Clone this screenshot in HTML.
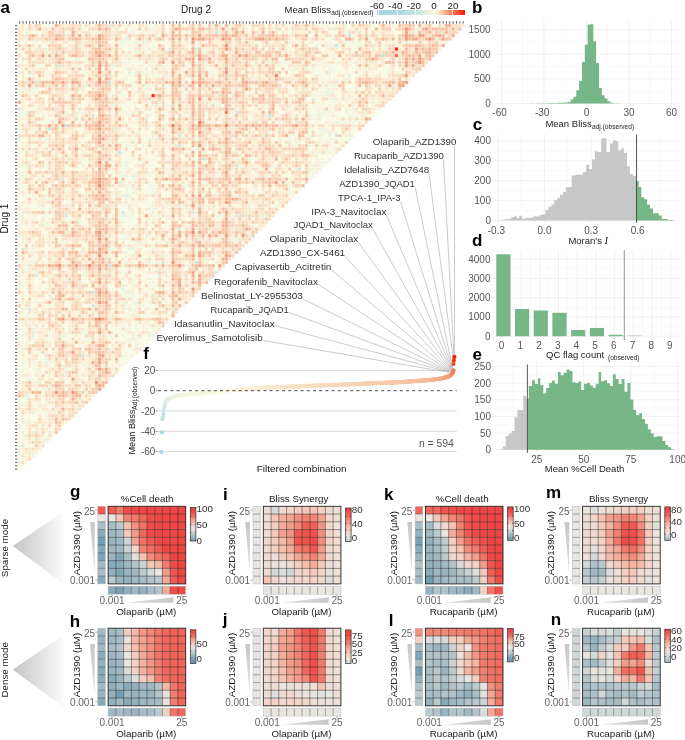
<!DOCTYPE html><html><head><meta charset="utf-8"><style>html,body{margin:0;padding:0;background:#fff;}svg{display:block;will-change:transform;}</style></head><body>
<svg width="685" height="740" viewBox="0 0 685 740" font-family='"Liberation Sans", sans-serif'>
<rect width="685" height="740" fill="#fff"/>
<defs><linearGradient id="cbA" x1="377" x2="465" y1="0" y2="0" gradientUnits="userSpaceOnUse"><stop offset="0.02" stop-color="#a9d6e3"/><stop offset="0.23" stop-color="#acd8e3"/><stop offset="0.34" stop-color="#b8dee2"/><stop offset="0.44" stop-color="#c4e3e2"/><stop offset="0.55" stop-color="#e0eee0"/><stop offset="0.6" stop-color="#eef4e0"/><stop offset="0.65" stop-color="#fbfbe2"/><stop offset="0.7" stop-color="#f9e3c8"/><stop offset="0.74" stop-color="#f6caaa"/><stop offset="0.78" stop-color="#f2ad8b"/><stop offset="0.82" stop-color="#ef9070"/><stop offset="0.86" stop-color="#ee7a58"/><stop offset="0.93" stop-color="#f34a2c"/><stop offset="0.99" stop-color="#ff1a06"/></linearGradient><linearGradient id="tri" x1="0" x2="1" y1="0" y2="0"><stop offset="0" stop-color="#c4c4c4"/><stop offset="1" stop-color="#fbfbfb"/></linearGradient><linearGradient id="wedge" x1="0" x2="0" y1="0" y2="1"><stop offset="0" stop-color="#c8c8c8"/><stop offset="1" stop-color="#dedede"/></linearGradient><linearGradient id="wedgeh" x1="1" x2="0" y1="0" y2="0"><stop offset="0" stop-color="#c8c8c8"/><stop offset="1" stop-color="#dedede"/></linearGradient></defs>
<g transform="translate(18,24) scale(3.33433)">
<path fill="#c5e4e2" d="M95 6h1v1h-1zM109 9h1v1h-1zM9 31h1v1h-1zM55 40h1v1h-1z"/>
<path fill="#cae5e2" d="M27 17h1v1h-1zM75 27h1v1h-1zM14 30h1v1h-1zM30 38h1v1h-1zM31 56h1v1h-1zM1 67h1v1h-1zM53 71h1v1h-1zM22 80h1v1h-1z"/>
<path fill="#cee7e1" d="M59 2h1v1h-1zM65 26h1v1h-1zM22 27h1v1h-1zM48 33h1v1h-1zM95 33h1v1h-1zM65 42h1v1h-1zM13 46h1v1h-1zM43 71h1v1h-1zM27 72h1v1h-1zM22 84h1v1h-1zM19 99h1v1h-1z"/>
<path fill="#d2e8e1" d="M12 12h1v1h-1zM5 17h1v1h-1zM84 43h1v1h-1zM52 56h1v1h-1zM66 57h1v1h-1zM59 74h1v1h-1z"/>
<path fill="#d6eae0" d="M99 3h1v1h-1zM53 7h1v1h-1zM88 22h1v1h-1zM48 36h1v1h-1zM14 57h1v1h-1zM48 61h1v1h-1zM5 75h1v1h-1zM3 85h1v1h-1zM46 85h1v1h-1zM1 126h1v1h-1z"/>
<path fill="#dbece0" d="M0 25h1v1h-1zM68 57h1v1h-1zM42 75h1v1h-1zM27 97h1v1h-1z"/>
<path fill="#dfede0" d="M77 1h1v1h-1zM116 5h1v1h-1zM28 12h1v1h-1zM38 28h1v1h-1zM29 31h1v1h-1zM73 33h1v1h-1zM34 45h1v1h-1zM4 93h1v1h-1z"/>
<path fill="#e3efdf" d="M32 4h1v1h-1zM45 7h1v1h-1zM0 14h1v1h-1zM99 15h1v1h-1zM20 18h1v1h-1zM28 21h1v1h-1zM39 34h1v1h-1zM41 34h1v1h-1zM32 51h1v1h-1zM2 56h1v1h-1zM0 128h1v1h-1z"/>
<path fill="#e7f1df" d="M94 1h1v1h-1zM33 14h1v1h-1zM35 14h1v1h-1zM93 14h1v1h-1zM92 20h1v1h-1zM94 20h1v1h-1zM40 24h1v1h-1zM37 26h1v1h-1zM0 27h1v1h-1zM90 27h1v1h-1zM31 33h1v1h-1zM93 33h1v1h-1zM2 42h1v1h-1zM32 45h1v1h-1zM41 50h1v1h-1zM32 52h1v1h-1zM48 54h1v1h-1zM39 55h1v1h-1zM60 57h1v1h-1zM72 57h1v1h-1zM54 64h1v1h-1zM33 67h1v1h-1zM34 67h1v1h-1zM5 68h1v1h-1zM42 68h1v1h-1zM31 79h1v1h-1zM32 80h1v1h-1zM41 81h1v1h-1zM7 83h1v1h-1zM4 91h1v1h-1zM4 92h1v1h-1zM8 101h1v1h-1zM13 106h1v1h-1zM2 111h1v1h-1zM17 115h1v1h-1zM4 116h1v1h-1zM4 122h1v1h-1zM8 124h1v1h-1z"/>
<path fill="#ebf3e0" d="M58 0h1v1h-1zM80 0h1v1h-1zM120 1h1v1h-1zM24 2h1v1h-1zM41 3h1v1h-1zM94 4h1v1h-1zM125 4h1v1h-1zM31 5h1v1h-1zM37 5h1v1h-1zM69 5h1v1h-1zM8 7h1v1h-1zM34 7h1v1h-1zM12 8h1v1h-1zM10 9h1v1h-1zM20 9h1v1h-1zM85 11h1v1h-1zM40 12h1v1h-1zM43 12h1v1h-1zM101 12h1v1h-1zM32 13h1v1h-1zM94 13h1v1h-1zM44 15h1v1h-1zM93 15h1v1h-1zM19 16h1v1h-1zM34 17h1v1h-1zM45 18h1v1h-1zM113 18h1v1h-1zM2 19h1v1h-1zM93 19h1v1h-1zM92 21h1v1h-1zM86 22h1v1h-1zM98 22h1v1h-1zM42 23h1v1h-1zM47 23h1v1h-1zM28 24h1v1h-1zM100 24h1v1h-1zM65 25h1v1h-1zM91 25h1v1h-1zM14 26h1v1h-1zM91 26h1v1h-1zM98 26h1v1h-1zM17 27h1v1h-1zM87 27h1v1h-1zM99 27h1v1h-1zM100 28h1v1h-1zM95 29h1v1h-1zM12 30h1v1h-1zM91 31h1v1h-1zM69 33h1v1h-1zM0 34h1v1h-1zM45 34h1v1h-1zM37 36h1v1h-1zM87 36h1v1h-1zM53 37h1v1h-1zM69 38h1v1h-1zM52 40h1v1h-1zM89 40h1v1h-1zM93 40h1v1h-1zM32 41h1v1h-1zM37 41h1v1h-1zM59 41h1v1h-1zM90 41h1v1h-1zM32 42h1v1h-1zM77 42h1v1h-1zM34 43h1v1h-1zM64 43h1v1h-1zM75 43h1v1h-1zM31 45h1v1h-1zM39 45h1v1h-1zM31 47h1v1h-1zM39 47h1v1h-1zM74 48h1v1h-1zM34 50h1v1h-1zM20 51h1v1h-1zM31 51h1v1h-1zM74 51h1v1h-1zM2 52h1v1h-1zM0 54h1v1h-1zM6 54h1v1h-1zM15 54h1v1h-1zM40 54h1v1h-1zM62 54h1v1h-1zM45 55h1v1h-1zM1 57h1v1h-1zM31 57h1v1h-1zM32 57h1v1h-1zM34 57h1v1h-1zM45 57h1v1h-1zM74 57h1v1h-1zM4 58h1v1h-1zM18 59h1v1h-1zM53 61h1v1h-1zM0 63h1v1h-1zM69 63h1v1h-1zM1 64h1v1h-1zM65 64h1v1h-1zM9 65h1v1h-1zM35 65h1v1h-1zM45 65h1v1h-1zM14 67h1v1h-1zM27 67h1v1h-1zM22 69h1v1h-1zM41 71h1v1h-1zM51 72h1v1h-1zM0 73h1v1h-1zM14 76h1v1h-1zM39 76h1v1h-1zM8 79h1v1h-1zM1 81h1v1h-1zM18 81h1v1h-1zM34 81h1v1h-1zM0 83h1v1h-1zM5 83h1v1h-1zM36 87h1v1h-1zM35 91h1v1h-1zM1 93h1v1h-1zM10 93h1v1h-1zM31 93h1v1h-1zM34 93h1v1h-1zM39 93h1v1h-1zM40 93h1v1h-1zM33 95h1v1h-1zM35 96h1v1h-1zM34 97h1v1h-1zM8 100h1v1h-1zM28 100h1v1h-1zM20 110h1v1h-1zM6 111h1v1h-1zM1 114h1v1h-1zM2 119h1v1h-1zM0 120h1v1h-1zM6 124h1v1h-1z"/>
<path fill="#eff5e0" d="M41 0h1v1h-1zM68 0h1v1h-1zM39 1h1v1h-1zM40 1h1v1h-1zM68 1h1v1h-1zM2 2h1v1h-1zM101 2h1v1h-1zM119 2h1v1h-1zM32 3h1v1h-1zM2 4h1v1h-1zM47 4h1v1h-1zM67 4h1v1h-1zM0 5h1v1h-1zM5 5h1v1h-1zM34 5h1v1h-1zM36 5h1v1h-1zM38 5h1v1h-1zM81 5h1v1h-1zM100 5h1v1h-1zM89 6h1v1h-1zM92 6h1v1h-1zM94 6h1v1h-1zM2 7h1v1h-1zM20 7h1v1h-1zM35 8h1v1h-1zM38 8h1v1h-1zM102 8h1v1h-1zM94 9h1v1h-1zM17 10h1v1h-1zM95 10h1v1h-1zM31 11h1v1h-1zM32 11h1v1h-1zM59 11h1v1h-1zM113 11h1v1h-1zM5 12h1v1h-1zM22 13h1v1h-1zM34 13h1v1h-1zM37 14h1v1h-1zM58 14h1v1h-1zM88 14h1v1h-1zM100 14h1v1h-1zM45 15h1v1h-1zM47 15h1v1h-1zM53 15h1v1h-1zM102 15h1v1h-1zM45 16h1v1h-1zM93 16h1v1h-1zM97 16h1v1h-1zM34 18h1v1h-1zM50 18h1v1h-1zM94 18h1v1h-1zM95 18h1v1h-1zM103 18h1v1h-1zM106 18h1v1h-1zM4 19h1v1h-1zM34 19h1v1h-1zM38 19h1v1h-1zM92 19h1v1h-1zM2 20h1v1h-1zM70 20h1v1h-1zM89 20h1v1h-1zM93 20h1v1h-1zM91 21h1v1h-1zM0 22h1v1h-1zM15 22h1v1h-1zM44 22h1v1h-1zM94 22h1v1h-1zM96 22h1v1h-1zM105 23h1v1h-1zM45 24h1v1h-1zM60 24h1v1h-1zM93 24h1v1h-1zM106 24h1v1h-1zM100 25h1v1h-1zM0 26h1v1h-1zM2 26h1v1h-1zM19 26h1v1h-1zM90 26h1v1h-1zM93 26h1v1h-1zM91 27h1v1h-1zM100 27h1v1h-1zM101 27h1v1h-1zM18 28h1v1h-1zM82 29h1v1h-1zM93 29h1v1h-1zM94 29h1v1h-1zM97 29h1v1h-1zM100 29h1v1h-1zM0 31h1v1h-1zM44 31h1v1h-1zM92 31h1v1h-1zM35 32h1v1h-1zM44 32h1v1h-1zM90 32h1v1h-1zM91 32h1v1h-1zM92 32h1v1h-1zM89 33h1v1h-1zM91 33h1v1h-1zM8 34h1v1h-1zM64 34h1v1h-1zM93 34h1v1h-1zM94 34h1v1h-1zM99 34h1v1h-1zM93 35h1v1h-1zM26 36h1v1h-1zM28 36h1v1h-1zM32 36h1v1h-1zM90 36h1v1h-1zM24 37h1v1h-1zM37 37h1v1h-1zM0 38h1v1h-1zM4 38h1v1h-1zM20 38h1v1h-1zM31 38h1v1h-1zM55 38h1v1h-1zM90 38h1v1h-1zM40 39h1v1h-1zM64 40h1v1h-1zM25 41h1v1h-1zM91 41h1v1h-1zM8 42h1v1h-1zM40 42h1v1h-1zM87 42h1v1h-1zM69 43h1v1h-1zM87 43h1v1h-1zM89 43h1v1h-1zM1 44h1v1h-1zM35 44h1v1h-1zM87 44h1v1h-1zM21 46h1v1h-1zM34 46h1v1h-1zM80 47h1v1h-1zM33 48h1v1h-1zM50 48h1v1h-1zM34 49h1v1h-1zM39 49h1v1h-1zM53 49h1v1h-1zM77 49h1v1h-1zM81 49h1v1h-1zM18 50h1v1h-1zM81 50h1v1h-1zM41 51h1v1h-1zM15 53h1v1h-1zM31 54h1v1h-1zM44 54h1v1h-1zM69 54h1v1h-1zM30 55h1v1h-1zM40 55h1v1h-1zM41 55h1v1h-1zM51 55h1v1h-1zM30 56h1v1h-1zM45 56h1v1h-1zM30 57h1v1h-1zM9 58h1v1h-1zM35 58h1v1h-1zM40 58h1v1h-1zM41 58h1v1h-1zM44 58h1v1h-1zM0 60h1v1h-1zM12 63h1v1h-1zM39 63h1v1h-1zM32 64h1v1h-1zM38 64h1v1h-1zM1 65h1v1h-1zM41 65h1v1h-1zM4 67h1v1h-1zM28 67h1v1h-1zM40 67h1v1h-1zM0 70h1v1h-1zM56 70h1v1h-1zM4 71h1v1h-1zM32 71h1v1h-1zM39 71h1v1h-1zM2 72h1v1h-1zM50 72h1v1h-1zM32 73h1v1h-1zM5 74h1v1h-1zM19 74h1v1h-1zM25 74h1v1h-1zM45 74h1v1h-1zM49 75h1v1h-1zM34 76h1v1h-1zM8 77h1v1h-1zM0 78h1v1h-1zM32 78h1v1h-1zM28 80h1v1h-1zM34 80h1v1h-1zM34 83h1v1h-1zM35 83h1v1h-1zM39 83h1v1h-1zM44 83h1v1h-1zM37 84h1v1h-1zM2 85h1v1h-1zM32 85h1v1h-1zM45 87h1v1h-1zM0 89h1v1h-1zM35 89h1v1h-1zM35 90h1v1h-1zM5 91h1v1h-1zM15 91h1v1h-1zM29 91h1v1h-1zM32 91h1v1h-1zM33 91h1v1h-1zM19 92h1v1h-1zM28 92h1v1h-1zM34 92h1v1h-1zM39 92h1v1h-1zM13 93h1v1h-1zM35 93h1v1h-1zM1 94h1v1h-1zM8 94h1v1h-1zM28 94h1v1h-1zM33 94h1v1h-1zM8 96h1v1h-1zM15 97h1v1h-1zM8 98h1v1h-1zM1 101h1v1h-1zM9 101h1v1h-1zM13 102h1v1h-1zM20 102h1v1h-1zM1 103h1v1h-1zM5 103h1v1h-1zM0 105h1v1h-1zM6 105h1v1h-1zM10 105h1v1h-1zM14 105h1v1h-1zM20 105h1v1h-1zM0 106h1v1h-1zM0 107h1v1h-1zM8 109h1v1h-1zM3 111h1v1h-1zM0 112h1v1h-1zM2 112h1v1h-1zM19 112h1v1h-1zM8 113h1v1h-1zM8 117h1v1h-1zM1 119h1v1h-1zM8 120h1v1h-1zM9 121h1v1h-1zM1 123h1v1h-1zM0 131h1v1h-1z"/>
<path fill="#f3f7e1" d="M9 0h1v1h-1zM29 0h1v1h-1zM32 0h1v1h-1zM39 0h1v1h-1zM45 0h1v1h-1zM61 0h1v1h-1zM69 0h1v1h-1zM91 0h1v1h-1zM93 0h1v1h-1zM96 0h1v1h-1zM98 0h1v1h-1zM30 1h1v1h-1zM35 1h1v1h-1zM37 1h1v1h-1zM98 1h1v1h-1zM5 2h1v1h-1zM33 2h1v1h-1zM40 2h1v1h-1zM44 2h1v1h-1zM45 2h1v1h-1zM74 2h1v1h-1zM107 2h1v1h-1zM6 3h1v1h-1zM40 4h1v1h-1zM2 5h1v1h-1zM4 5h1v1h-1zM15 5h1v1h-1zM32 5h1v1h-1zM44 5h1v1h-1zM51 5h1v1h-1zM71 5h1v1h-1zM90 5h1v1h-1zM92 5h1v1h-1zM98 5h1v1h-1zM111 5h1v1h-1zM113 5h1v1h-1zM119 5h1v1h-1zM38 6h1v1h-1zM40 6h1v1h-1zM96 6h1v1h-1zM101 6h1v1h-1zM113 6h1v1h-1zM37 7h1v1h-1zM40 7h1v1h-1zM96 7h1v1h-1zM115 7h1v1h-1zM32 8h1v1h-1zM100 8h1v1h-1zM82 9h1v1h-1zM0 10h1v1h-1zM34 10h1v1h-1zM35 10h1v1h-1zM113 10h1v1h-1zM39 11h1v1h-1zM53 11h1v1h-1zM81 11h1v1h-1zM90 11h1v1h-1zM99 11h1v1h-1zM100 11h1v1h-1zM16 12h1v1h-1zM19 12h1v1h-1zM45 12h1v1h-1zM50 12h1v1h-1zM93 12h1v1h-1zM28 13h1v1h-1zM44 13h1v1h-1zM45 13h1v1h-1zM50 13h1v1h-1zM84 13h1v1h-1zM87 13h1v1h-1zM100 13h1v1h-1zM104 13h1v1h-1zM8 14h1v1h-1zM39 14h1v1h-1zM49 14h1v1h-1zM98 14h1v1h-1zM110 14h1v1h-1zM3 15h1v1h-1zM32 15h1v1h-1zM34 15h1v1h-1zM78 15h1v1h-1zM90 15h1v1h-1zM92 15h1v1h-1zM30 16h1v1h-1zM70 16h1v1h-1zM90 16h1v1h-1zM82 17h1v1h-1zM39 18h1v1h-1zM40 18h1v1h-1zM5 19h1v1h-1zM28 19h1v1h-1zM91 19h1v1h-1zM98 19h1v1h-1zM15 20h1v1h-1zM38 20h1v1h-1zM45 20h1v1h-1zM49 20h1v1h-1zM91 20h1v1h-1zM100 20h1v1h-1zM8 21h1v1h-1zM27 21h1v1h-1zM31 21h1v1h-1zM63 21h1v1h-1zM89 21h1v1h-1zM59 23h1v1h-1zM94 23h1v1h-1zM95 23h1v1h-1zM32 24h1v1h-1zM39 24h1v1h-1zM44 24h1v1h-1zM49 24h1v1h-1zM57 24h1v1h-1zM59 24h1v1h-1zM82 24h1v1h-1zM4 25h1v1h-1zM74 25h1v1h-1zM89 25h1v1h-1zM93 25h1v1h-1zM1 26h1v1h-1zM8 26h1v1h-1zM30 26h1v1h-1zM32 26h1v1h-1zM33 26h1v1h-1zM35 26h1v1h-1zM51 26h1v1h-1zM56 26h1v1h-1zM87 26h1v1h-1zM92 26h1v1h-1zM100 26h1v1h-1zM1 27h1v1h-1zM10 27h1v1h-1zM28 27h1v1h-1zM33 27h1v1h-1zM45 27h1v1h-1zM49 27h1v1h-1zM50 27h1v1h-1zM89 27h1v1h-1zM93 27h1v1h-1zM95 27h1v1h-1zM47 28h1v1h-1zM88 28h1v1h-1zM2 29h1v1h-1zM32 29h1v1h-1zM44 29h1v1h-1zM72 29h1v1h-1zM87 29h1v1h-1zM89 29h1v1h-1zM96 29h1v1h-1zM98 29h1v1h-1zM32 31h1v1h-1zM45 31h1v1h-1zM87 31h1v1h-1zM64 32h1v1h-1zM75 32h1v1h-1zM87 32h1v1h-1zM94 32h1v1h-1zM98 32h1v1h-1zM82 33h1v1h-1zM87 33h1v1h-1zM97 33h1v1h-1zM100 33h1v1h-1zM10 34h1v1h-1zM37 34h1v1h-1zM53 34h1v1h-1zM81 34h1v1h-1zM30 35h1v1h-1zM31 35h1v1h-1zM37 35h1v1h-1zM8 36h1v1h-1zM34 36h1v1h-1zM38 36h1v1h-1zM77 36h1v1h-1zM83 36h1v1h-1zM88 36h1v1h-1zM52 37h1v1h-1zM87 38h1v1h-1zM92 38h1v1h-1zM93 38h1v1h-1zM94 38h1v1h-1zM32 39h1v1h-1zM32 40h1v1h-1zM35 40h1v1h-1zM45 40h1v1h-1zM66 40h1v1h-1zM70 40h1v1h-1zM90 40h1v1h-1zM28 41h1v1h-1zM92 41h1v1h-1zM28 42h1v1h-1zM45 42h1v1h-1zM53 42h1v1h-1zM31 43h1v1h-1zM32 43h1v1h-1zM44 43h1v1h-1zM59 43h1v1h-1zM82 43h1v1h-1zM28 44h1v1h-1zM39 44h1v1h-1zM44 44h1v1h-1zM2 45h1v1h-1zM28 45h1v1h-1zM38 45h1v1h-1zM53 45h1v1h-1zM59 45h1v1h-1zM88 45h1v1h-1zM34 47h1v1h-1zM32 48h1v1h-1zM39 48h1v1h-1zM40 48h1v1h-1zM41 48h1v1h-1zM49 48h1v1h-1zM33 49h1v1h-1zM37 49h1v1h-1zM40 49h1v1h-1zM14 50h1v1h-1zM28 50h1v1h-1zM32 50h1v1h-1zM40 50h1v1h-1zM70 50h1v1h-1zM73 50h1v1h-1zM82 50h1v1h-1zM30 51h1v1h-1zM65 51h1v1h-1zM4 52h1v1h-1zM8 52h1v1h-1zM19 52h1v1h-1zM33 52h1v1h-1zM0 53h1v1h-1zM13 53h1v1h-1zM31 53h1v1h-1zM35 53h1v1h-1zM37 53h1v1h-1zM38 53h1v1h-1zM47 53h1v1h-1zM51 53h1v1h-1zM8 54h1v1h-1zM34 54h1v1h-1zM39 54h1v1h-1zM71 54h1v1h-1zM17 55h1v1h-1zM33 56h1v1h-1zM39 56h1v1h-1zM44 56h1v1h-1zM77 56h1v1h-1zM7 57h1v1h-1zM8 57h1v1h-1zM10 57h1v1h-1zM59 57h1v1h-1zM0 58h1v1h-1zM33 59h1v1h-1zM8 60h1v1h-1zM28 60h1v1h-1zM45 60h1v1h-1zM32 63h1v1h-1zM34 63h1v1h-1zM10 64h1v1h-1zM31 64h1v1h-1zM12 65h1v1h-1zM13 65h1v1h-1zM37 65h1v1h-1zM47 65h1v1h-1zM17 67h1v1h-1zM39 67h1v1h-1zM32 68h1v1h-1zM8 69h1v1h-1zM14 69h1v1h-1zM44 69h1v1h-1zM45 69h1v1h-1zM4 70h1v1h-1zM37 70h1v1h-1zM40 73h1v1h-1zM0 74h1v1h-1zM2 74h1v1h-1zM28 74h1v1h-1zM38 74h1v1h-1zM19 75h1v1h-1zM40 75h1v1h-1zM35 76h1v1h-1zM41 76h1v1h-1zM44 76h1v1h-1zM4 77h1v1h-1zM7 78h1v1h-1zM41 78h1v1h-1zM45 78h1v1h-1zM28 79h1v1h-1zM37 80h1v1h-1zM31 81h1v1h-1zM32 81h1v1h-1zM33 81h1v1h-1zM39 81h1v1h-1zM8 82h1v1h-1zM35 82h1v1h-1zM44 82h1v1h-1zM45 82h1v1h-1zM30 83h1v1h-1zM48 83h1v1h-1zM10 84h1v1h-1zM32 84h1v1h-1zM39 84h1v1h-1zM15 85h1v1h-1zM34 85h1v1h-1zM1 86h1v1h-1zM13 86h1v1h-1zM2 87h1v1h-1zM19 87h1v1h-1zM44 87h1v1h-1zM20 89h1v1h-1zM32 89h1v1h-1zM4 90h1v1h-1zM30 90h1v1h-1zM31 90h1v1h-1zM0 91h1v1h-1zM37 91h1v1h-1zM41 91h1v1h-1zM9 92h1v1h-1zM20 92h1v1h-1zM32 92h1v1h-1zM14 93h1v1h-1zM4 94h1v1h-1zM20 94h1v1h-1zM21 94h1v1h-1zM35 94h1v1h-1zM38 94h1v1h-1zM39 94h1v1h-1zM0 95h1v1h-1zM3 95h1v1h-1zM32 95h1v1h-1zM36 95h1v1h-1zM0 97h1v1h-1zM6 98h1v1h-1zM32 99h1v1h-1zM33 99h1v1h-1zM1 100h1v1h-1zM31 100h1v1h-1zM4 101h1v1h-1zM5 101h1v1h-1zM19 101h1v1h-1zM32 101h1v1h-1zM1 102h1v1h-1zM14 103h1v1h-1zM28 103h1v1h-1zM28 104h1v1h-1zM2 106h1v1h-1zM3 106h1v1h-1zM4 106h1v1h-1zM19 106h1v1h-1zM19 109h1v1h-1zM0 113h1v1h-1zM17 114h1v1h-1zM8 116h1v1h-1zM1 117h1v1h-1zM0 118h1v1h-1zM4 119h1v1h-1zM2 120h1v1h-1zM0 121h1v1h-1zM4 121h1v1h-1zM0 122h1v1h-1zM8 122h1v1h-1zM1 124h1v1h-1zM5 128h1v1h-1zM2 129h1v1h-1zM0 132h1v1h-1z"/>
<path fill="#f7f9e1" d="M0 0h1v1h-1zM2 0h1v1h-1zM22 0h1v1h-1zM34 0h1v1h-1zM35 0h1v1h-1zM47 0h1v1h-1zM49 0h1v1h-1zM50 0h1v1h-1zM81 0h1v1h-1zM92 0h1v1h-1zM106 0h1v1h-1zM113 0h1v1h-1zM127 0h1v1h-1zM34 1h1v1h-1zM92 1h1v1h-1zM4 2h1v1h-1zM14 2h1v1h-1zM38 2h1v1h-1zM50 2h1v1h-1zM86 2h1v1h-1zM90 2h1v1h-1zM93 2h1v1h-1zM98 2h1v1h-1zM87 3h1v1h-1zM97 4h1v1h-1zM113 4h1v1h-1zM9 5h1v1h-1zM27 5h1v1h-1zM30 5h1v1h-1zM33 5h1v1h-1zM45 5h1v1h-1zM49 5h1v1h-1zM53 5h1v1h-1zM94 5h1v1h-1zM95 5h1v1h-1zM99 5h1v1h-1zM101 5h1v1h-1zM106 5h1v1h-1zM7 6h1v1h-1zM28 6h1v1h-1zM31 6h1v1h-1zM34 6h1v1h-1zM39 6h1v1h-1zM45 6h1v1h-1zM53 6h1v1h-1zM72 6h1v1h-1zM87 6h1v1h-1zM15 7h1v1h-1zM33 7h1v1h-1zM41 7h1v1h-1zM44 7h1v1h-1zM90 7h1v1h-1zM91 7h1v1h-1zM107 7h1v1h-1zM0 8h1v1h-1zM1 8h1v1h-1zM28 8h1v1h-1zM30 8h1v1h-1zM39 8h1v1h-1zM49 8h1v1h-1zM55 8h1v1h-1zM93 8h1v1h-1zM98 8h1v1h-1zM90 9h1v1h-1zM95 9h1v1h-1zM4 10h1v1h-1zM45 10h1v1h-1zM0 11h1v1h-1zM1 11h1v1h-1zM27 11h1v1h-1zM37 11h1v1h-1zM44 11h1v1h-1zM79 11h1v1h-1zM95 11h1v1h-1zM108 11h1v1h-1zM7 12h1v1h-1zM31 12h1v1h-1zM51 12h1v1h-1zM87 12h1v1h-1zM90 12h1v1h-1zM95 12h1v1h-1zM0 13h1v1h-1zM1 13h1v1h-1zM19 13h1v1h-1zM29 13h1v1h-1zM31 13h1v1h-1zM37 13h1v1h-1zM56 13h1v1h-1zM71 13h1v1h-1zM82 13h1v1h-1zM96 13h1v1h-1zM109 13h1v1h-1zM114 13h1v1h-1zM18 14h1v1h-1zM19 14h1v1h-1zM38 14h1v1h-1zM59 14h1v1h-1zM79 14h1v1h-1zM90 14h1v1h-1zM94 14h1v1h-1zM99 14h1v1h-1zM102 14h1v1h-1zM4 15h1v1h-1zM30 15h1v1h-1zM31 15h1v1h-1zM37 15h1v1h-1zM39 15h1v1h-1zM49 15h1v1h-1zM81 15h1v1h-1zM91 15h1v1h-1zM105 15h1v1h-1zM91 16h1v1h-1zM92 16h1v1h-1zM49 17h1v1h-1zM51 17h1v1h-1zM28 18h1v1h-1zM38 18h1v1h-1zM81 18h1v1h-1zM89 18h1v1h-1zM93 18h1v1h-1zM100 18h1v1h-1zM0 19h1v1h-1zM7 19h1v1h-1zM20 19h1v1h-1zM30 19h1v1h-1zM35 19h1v1h-1zM49 19h1v1h-1zM99 19h1v1h-1zM100 19h1v1h-1zM109 19h1v1h-1zM18 20h1v1h-1zM31 20h1v1h-1zM40 20h1v1h-1zM50 20h1v1h-1zM55 20h1v1h-1zM64 20h1v1h-1zM0 21h1v1h-1zM39 21h1v1h-1zM49 21h1v1h-1zM78 21h1v1h-1zM101 21h1v1h-1zM14 22h1v1h-1zM20 22h1v1h-1zM31 22h1v1h-1zM34 22h1v1h-1zM35 22h1v1h-1zM49 22h1v1h-1zM33 23h1v1h-1zM39 23h1v1h-1zM44 23h1v1h-1zM69 23h1v1h-1zM89 23h1v1h-1zM92 23h1v1h-1zM93 23h1v1h-1zM99 23h1v1h-1zM107 23h1v1h-1zM0 24h1v1h-1zM10 24h1v1h-1zM22 24h1v1h-1zM30 24h1v1h-1zM35 24h1v1h-1zM37 24h1v1h-1zM47 24h1v1h-1zM53 24h1v1h-1zM87 24h1v1h-1zM88 24h1v1h-1zM89 24h1v1h-1zM90 24h1v1h-1zM91 24h1v1h-1zM94 24h1v1h-1zM98 24h1v1h-1zM40 25h1v1h-1zM45 25h1v1h-1zM47 25h1v1h-1zM70 25h1v1h-1zM78 25h1v1h-1zM81 25h1v1h-1zM88 25h1v1h-1zM15 26h1v1h-1zM28 26h1v1h-1zM39 26h1v1h-1zM40 26h1v1h-1zM44 26h1v1h-1zM61 26h1v1h-1zM95 26h1v1h-1zM96 26h1v1h-1zM99 26h1v1h-1zM107 26h1v1h-1zM8 27h1v1h-1zM31 27h1v1h-1zM40 27h1v1h-1zM47 27h1v1h-1zM56 27h1v1h-1zM69 27h1v1h-1zM82 27h1v1h-1zM92 27h1v1h-1zM106 27h1v1h-1zM8 28h1v1h-1zM9 28h1v1h-1zM10 28h1v1h-1zM34 28h1v1h-1zM35 28h1v1h-1zM60 28h1v1h-1zM69 28h1v1h-1zM84 28h1v1h-1zM91 28h1v1h-1zM9 29h1v1h-1zM17 29h1v1h-1zM39 29h1v1h-1zM43 29h1v1h-1zM57 29h1v1h-1zM60 29h1v1h-1zM75 29h1v1h-1zM77 29h1v1h-1zM34 30h1v1h-1zM5 31h1v1h-1zM7 31h1v1h-1zM35 31h1v1h-1zM39 31h1v1h-1zM101 31h1v1h-1zM0 32h1v1h-1zM3 32h1v1h-1zM4 32h1v1h-1zM9 32h1v1h-1zM33 32h1v1h-1zM45 32h1v1h-1zM83 32h1v1h-1zM89 32h1v1h-1zM95 32h1v1h-1zM100 32h1v1h-1zM34 33h1v1h-1zM37 33h1v1h-1zM39 33h1v1h-1zM49 33h1v1h-1zM86 33h1v1h-1zM2 34h1v1h-1zM7 34h1v1h-1zM31 34h1v1h-1zM32 34h1v1h-1zM34 34h1v1h-1zM35 34h1v1h-1zM67 34h1v1h-1zM80 34h1v1h-1zM82 34h1v1h-1zM88 34h1v1h-1zM90 34h1v1h-1zM91 34h1v1h-1zM92 34h1v1h-1zM97 34h1v1h-1zM0 35h1v1h-1zM32 35h1v1h-1zM33 35h1v1h-1zM45 35h1v1h-1zM82 35h1v1h-1zM91 35h1v1h-1zM94 35h1v1h-1zM4 36h1v1h-1zM14 36h1v1h-1zM22 36h1v1h-1zM31 36h1v1h-1zM79 36h1v1h-1zM94 36h1v1h-1zM31 37h1v1h-1zM33 37h1v1h-1zM94 37h1v1h-1zM1 38h1v1h-1zM10 38h1v1h-1zM32 38h1v1h-1zM36 38h1v1h-1zM37 38h1v1h-1zM39 38h1v1h-1zM45 38h1v1h-1zM51 38h1v1h-1zM12 39h1v1h-1zM37 39h1v1h-1zM72 39h1v1h-1zM91 39h1v1h-1zM92 39h1v1h-1zM94 39h1v1h-1zM14 40h1v1h-1zM38 40h1v1h-1zM39 40h1v1h-1zM41 40h1v1h-1zM42 40h1v1h-1zM50 40h1v1h-1zM69 40h1v1h-1zM78 40h1v1h-1zM87 40h1v1h-1zM0 41h1v1h-1zM5 41h1v1h-1zM19 41h1v1h-1zM20 41h1v1h-1zM31 41h1v1h-1zM34 41h1v1h-1zM39 41h1v1h-1zM56 41h1v1h-1zM70 41h1v1h-1zM14 42h1v1h-1zM31 42h1v1h-1zM44 42h1v1h-1zM59 42h1v1h-1zM2 43h1v1h-1zM4 43h1v1h-1zM8 43h1v1h-1zM17 43h1v1h-1zM18 43h1v1h-1zM30 43h1v1h-1zM40 43h1v1h-1zM53 43h1v1h-1zM27 44h1v1h-1zM31 44h1v1h-1zM70 44h1v1h-1zM88 44h1v1h-1zM6 45h1v1h-1zM40 45h1v1h-1zM44 45h1v1h-1zM60 45h1v1h-1zM71 45h1v1h-1zM79 45h1v1h-1zM85 45h1v1h-1zM87 45h1v1h-1zM1 46h1v1h-1zM5 46h1v1h-1zM14 46h1v1h-1zM32 46h1v1h-1zM33 46h1v1h-1zM6 47h1v1h-1zM28 47h1v1h-1zM45 47h1v1h-1zM2 48h1v1h-1zM5 48h1v1h-1zM35 48h1v1h-1zM37 48h1v1h-1zM44 48h1v1h-1zM18 49h1v1h-1zM27 49h1v1h-1zM38 49h1v1h-1zM69 49h1v1h-1zM70 49h1v1h-1zM82 49h1v1h-1zM84 49h1v1h-1zM2 50h1v1h-1zM38 50h1v1h-1zM39 50h1v1h-1zM53 50h1v1h-1zM69 50h1v1h-1zM71 50h1v1h-1zM72 50h1v1h-1zM2 51h1v1h-1zM3 51h1v1h-1zM55 51h1v1h-1zM71 51h1v1h-1zM81 51h1v1h-1zM0 52h1v1h-1zM1 52h1v1h-1zM35 52h1v1h-1zM40 52h1v1h-1zM49 52h1v1h-1zM14 53h1v1h-1zM23 53h1v1h-1zM33 53h1v1h-1zM36 53h1v1h-1zM39 53h1v1h-1zM69 53h1v1h-1zM3 54h1v1h-1zM17 54h1v1h-1zM30 54h1v1h-1zM32 54h1v1h-1zM59 54h1v1h-1zM4 55h1v1h-1zM7 55h1v1h-1zM31 55h1v1h-1zM37 55h1v1h-1zM42 55h1v1h-1zM53 55h1v1h-1zM74 55h1v1h-1zM0 56h1v1h-1zM32 56h1v1h-1zM35 56h1v1h-1zM41 56h1v1h-1zM49 56h1v1h-1zM59 56h1v1h-1zM0 57h1v1h-1zM2 57h1v1h-1zM6 57h1v1h-1zM41 57h1v1h-1zM47 57h1v1h-1zM50 57h1v1h-1zM53 57h1v1h-1zM2 58h1v1h-1zM5 58h1v1h-1zM15 58h1v1h-1zM30 58h1v1h-1zM31 58h1v1h-1zM32 58h1v1h-1zM33 58h1v1h-1zM34 58h1v1h-1zM59 58h1v1h-1zM60 58h1v1h-1zM19 59h1v1h-1zM28 59h1v1h-1zM48 59h1v1h-1zM1 60h1v1h-1zM10 60h1v1h-1zM31 60h1v1h-1zM34 60h1v1h-1zM39 60h1v1h-1zM44 60h1v1h-1zM2 61h1v1h-1zM15 61h1v1h-1zM30 61h1v1h-1zM44 61h1v1h-1zM28 63h1v1h-1zM31 63h1v1h-1zM35 63h1v1h-1zM37 63h1v1h-1zM45 63h1v1h-1zM49 63h1v1h-1zM66 63h1v1h-1zM0 64h1v1h-1zM5 64h1v1h-1zM27 64h1v1h-1zM28 64h1v1h-1zM33 64h1v1h-1zM59 64h1v1h-1zM4 65h1v1h-1zM15 65h1v1h-1zM30 65h1v1h-1zM33 65h1v1h-1zM34 65h1v1h-1zM42 65h1v1h-1zM43 65h1v1h-1zM1 66h1v1h-1zM19 66h1v1h-1zM40 66h1v1h-1zM0 67h1v1h-1zM7 67h1v1h-1zM8 67h1v1h-1zM15 67h1v1h-1zM23 67h1v1h-1zM45 67h1v1h-1zM53 67h1v1h-1zM55 67h1v1h-1zM0 68h1v1h-1zM33 68h1v1h-1zM44 68h1v1h-1zM28 69h1v1h-1zM30 69h1v1h-1zM37 69h1v1h-1zM38 69h1v1h-1zM2 70h1v1h-1zM5 70h1v1h-1zM10 70h1v1h-1zM40 70h1v1h-1zM45 70h1v1h-1zM0 71h1v1h-1zM2 71h1v1h-1zM8 71h1v1h-1zM14 71h1v1h-1zM35 71h1v1h-1zM45 71h1v1h-1zM58 71h1v1h-1zM59 72h1v1h-1zM2 73h1v1h-1zM8 73h1v1h-1zM50 73h1v1h-1zM10 74h1v1h-1zM11 74h1v1h-1zM15 74h1v1h-1zM35 74h1v1h-1zM33 75h1v1h-1zM37 75h1v1h-1zM41 75h1v1h-1zM45 75h1v1h-1zM53 75h1v1h-1zM0 76h1v1h-1zM1 76h1v1h-1zM19 76h1v1h-1zM40 76h1v1h-1zM45 76h1v1h-1zM1 77h1v1h-1zM2 77h1v1h-1zM19 77h1v1h-1zM31 77h1v1h-1zM35 77h1v1h-1zM39 77h1v1h-1zM49 77h1v1h-1zM39 78h1v1h-1zM44 78h1v1h-1zM2 79h1v1h-1zM5 79h1v1h-1zM7 79h1v1h-1zM20 79h1v1h-1zM22 79h1v1h-1zM27 79h1v1h-1zM30 79h1v1h-1zM32 79h1v1h-1zM45 79h1v1h-1zM50 79h1v1h-1zM30 80h1v1h-1zM31 80h1v1h-1zM40 80h1v1h-1zM0 81h1v1h-1zM0 82h1v1h-1zM38 82h1v1h-1zM1 83h1v1h-1zM4 83h1v1h-1zM15 83h1v1h-1zM43 83h1v1h-1zM49 83h1v1h-1zM1 84h1v1h-1zM28 84h1v1h-1zM38 84h1v1h-1zM40 84h1v1h-1zM0 85h1v1h-1zM40 85h1v1h-1zM2 86h1v1h-1zM21 86h1v1h-1zM33 86h1v1h-1zM4 87h1v1h-1zM39 87h1v1h-1zM14 89h1v1h-1zM39 89h1v1h-1zM13 90h1v1h-1zM20 90h1v1h-1zM27 90h1v1h-1zM34 90h1v1h-1zM1 91h1v1h-1zM2 91h1v1h-1zM30 91h1v1h-1zM36 91h1v1h-1zM40 91h1v1h-1zM0 92h1v1h-1zM14 92h1v1h-1zM30 92h1v1h-1zM0 93h1v1h-1zM5 93h1v1h-1zM9 93h1v1h-1zM16 93h1v1h-1zM27 93h1v1h-1zM28 93h1v1h-1zM30 93h1v1h-1zM32 93h1v1h-1zM37 93h1v1h-1zM0 94h1v1h-1zM9 94h1v1h-1zM10 94h1v1h-1zM13 94h1v1h-1zM19 94h1v1h-1zM23 94h1v1h-1zM27 94h1v1h-1zM37 94h1v1h-1zM1 95h1v1h-1zM4 95h1v1h-1zM10 95h1v1h-1zM20 95h1v1h-1zM38 95h1v1h-1zM18 96h1v1h-1zM34 96h1v1h-1zM19 97h1v1h-1zM33 97h1v1h-1zM9 98h1v1h-1zM31 98h1v1h-1zM34 98h1v1h-1zM6 99h1v1h-1zM7 100h1v1h-1zM15 100h1v1h-1zM30 100h1v1h-1zM32 100h1v1h-1zM7 101h1v1h-1zM30 101h1v1h-1zM31 101h1v1h-1zM0 102h1v1h-1zM4 102h1v1h-1zM27 102h1v1h-1zM31 102h1v1h-1zM0 103h1v1h-1zM2 103h1v1h-1zM4 103h1v1h-1zM8 103h1v1h-1zM22 103h1v1h-1zM0 104h1v1h-1zM2 104h1v1h-1zM18 104h1v1h-1zM5 106h1v1h-1zM15 106h1v1h-1zM1 113h1v1h-1zM4 114h1v1h-1zM5 116h1v1h-1zM14 116h1v1h-1zM0 117h1v1h-1zM4 117h1v1h-1zM5 118h1v1h-1zM1 120h1v1h-1zM10 120h1v1h-1zM2 121h1v1h-1zM10 121h1v1h-1zM6 122h1v1h-1zM0 123h1v1h-1zM8 123h1v1h-1zM10 123h1v1h-1zM4 124h1v1h-1zM0 125h1v1h-1zM0 130h1v1h-1zM1 130h1v1h-1z"/>
<path fill="#fbfbe2" d="M7 0h1v1h-1zM8 0h1v1h-1zM10 0h1v1h-1zM19 0h1v1h-1zM40 0h1v1h-1zM42 0h1v1h-1zM44 0h1v1h-1zM56 0h1v1h-1zM74 0h1v1h-1zM76 0h1v1h-1zM90 0h1v1h-1zM94 0h1v1h-1zM99 0h1v1h-1zM101 0h1v1h-1zM107 0h1v1h-1zM119 0h1v1h-1zM124 0h1v1h-1zM125 0h1v1h-1zM19 1h1v1h-1zM20 1h1v1h-1zM28 1h1v1h-1zM31 1h1v1h-1zM33 1h1v1h-1zM44 1h1v1h-1zM69 1h1v1h-1zM71 1h1v1h-1zM79 1h1v1h-1zM87 1h1v1h-1zM106 1h1v1h-1zM112 1h1v1h-1zM1 2h1v1h-1zM6 2h1v1h-1zM15 2h1v1h-1zM35 2h1v1h-1zM36 2h1v1h-1zM47 2h1v1h-1zM49 2h1v1h-1zM51 2h1v1h-1zM69 2h1v1h-1zM72 2h1v1h-1zM78 2h1v1h-1zM81 2h1v1h-1zM88 2h1v1h-1zM94 2h1v1h-1zM95 2h1v1h-1zM103 2h1v1h-1zM105 2h1v1h-1zM113 2h1v1h-1zM114 2h1v1h-1zM19 3h1v1h-1zM31 3h1v1h-1zM42 3h1v1h-1zM88 3h1v1h-1zM94 3h1v1h-1zM100 3h1v1h-1zM113 3h1v1h-1zM34 4h1v1h-1zM44 4h1v1h-1zM49 4h1v1h-1zM51 4h1v1h-1zM82 4h1v1h-1zM92 4h1v1h-1zM93 4h1v1h-1zM101 4h1v1h-1zM1 5h1v1h-1zM3 5h1v1h-1zM6 5h1v1h-1zM16 5h1v1h-1zM28 5h1v1h-1zM40 5h1v1h-1zM41 5h1v1h-1zM42 5h1v1h-1zM43 5h1v1h-1zM72 5h1v1h-1zM79 5h1v1h-1zM86 5h1v1h-1zM89 5h1v1h-1zM91 5h1v1h-1zM103 5h1v1h-1zM109 5h1v1h-1zM5 6h1v1h-1zM14 6h1v1h-1zM32 6h1v1h-1zM41 6h1v1h-1zM44 6h1v1h-1zM51 6h1v1h-1zM81 6h1v1h-1zM88 6h1v1h-1zM90 6h1v1h-1zM98 6h1v1h-1zM100 6h1v1h-1zM109 6h1v1h-1zM4 7h1v1h-1zM32 7h1v1h-1zM51 7h1v1h-1zM74 7h1v1h-1zM82 7h1v1h-1zM100 7h1v1h-1zM101 7h1v1h-1zM34 8h1v1h-1zM79 8h1v1h-1zM91 8h1v1h-1zM1 9h1v1h-1zM2 9h1v1h-1zM14 9h1v1h-1zM89 9h1v1h-1zM97 9h1v1h-1zM15 10h1v1h-1zM16 10h1v1h-1zM19 10h1v1h-1zM72 10h1v1h-1zM78 10h1v1h-1zM93 10h1v1h-1zM96 10h1v1h-1zM110 10h1v1h-1zM2 11h1v1h-1zM20 11h1v1h-1zM34 11h1v1h-1zM35 11h1v1h-1zM36 11h1v1h-1zM47 11h1v1h-1zM50 11h1v1h-1zM70 11h1v1h-1zM72 11h1v1h-1zM88 11h1v1h-1zM6 12h1v1h-1zM10 12h1v1h-1zM33 12h1v1h-1zM35 12h1v1h-1zM38 12h1v1h-1zM79 12h1v1h-1zM80 12h1v1h-1zM94 12h1v1h-1zM96 12h1v1h-1zM100 12h1v1h-1zM110 12h1v1h-1zM113 12h1v1h-1zM9 13h1v1h-1zM25 13h1v1h-1zM30 13h1v1h-1zM39 13h1v1h-1zM49 13h1v1h-1zM57 13h1v1h-1zM69 13h1v1h-1zM77 13h1v1h-1zM78 13h1v1h-1zM80 13h1v1h-1zM89 13h1v1h-1zM90 13h1v1h-1zM92 13h1v1h-1zM95 13h1v1h-1zM97 13h1v1h-1zM99 13h1v1h-1zM108 13h1v1h-1zM110 13h1v1h-1zM113 13h1v1h-1zM2 14h1v1h-1zM15 14h1v1h-1zM28 14h1v1h-1zM32 14h1v1h-1zM34 14h1v1h-1zM41 14h1v1h-1zM67 14h1v1h-1zM81 14h1v1h-1zM83 14h1v1h-1zM89 14h1v1h-1zM91 14h1v1h-1zM95 14h1v1h-1zM97 14h1v1h-1zM107 14h1v1h-1zM109 14h1v1h-1zM114 14h1v1h-1zM0 15h1v1h-1zM2 15h1v1h-1zM5 15h1v1h-1zM8 15h1v1h-1zM14 15h1v1h-1zM41 15h1v1h-1zM42 15h1v1h-1zM59 15h1v1h-1zM69 15h1v1h-1zM71 15h1v1h-1zM79 15h1v1h-1zM86 15h1v1h-1zM87 15h1v1h-1zM94 15h1v1h-1zM95 15h1v1h-1zM98 15h1v1h-1zM100 15h1v1h-1zM101 15h1v1h-1zM109 15h1v1h-1zM110 15h1v1h-1zM0 16h1v1h-1zM9 16h1v1h-1zM20 16h1v1h-1zM25 16h1v1h-1zM33 16h1v1h-1zM34 16h1v1h-1zM37 16h1v1h-1zM40 16h1v1h-1zM50 16h1v1h-1zM51 16h1v1h-1zM66 16h1v1h-1zM87 16h1v1h-1zM96 16h1v1h-1zM100 16h1v1h-1zM115 16h1v1h-1zM32 17h1v1h-1zM37 17h1v1h-1zM90 17h1v1h-1zM96 17h1v1h-1zM100 17h1v1h-1zM15 18h1v1h-1zM42 18h1v1h-1zM44 18h1v1h-1zM53 18h1v1h-1zM79 18h1v1h-1zM98 18h1v1h-1zM99 18h1v1h-1zM6 19h1v1h-1zM21 19h1v1h-1zM33 19h1v1h-1zM40 19h1v1h-1zM45 19h1v1h-1zM51 19h1v1h-1zM66 19h1v1h-1zM81 19h1v1h-1zM82 19h1v1h-1zM84 19h1v1h-1zM87 19h1v1h-1zM90 19h1v1h-1zM96 19h1v1h-1zM102 19h1v1h-1zM103 19h1v1h-1zM107 19h1v1h-1zM5 20h1v1h-1zM28 20h1v1h-1zM32 20h1v1h-1zM34 20h1v1h-1zM39 20h1v1h-1zM68 20h1v1h-1zM72 20h1v1h-1zM77 20h1v1h-1zM81 20h1v1h-1zM82 20h1v1h-1zM88 20h1v1h-1zM95 20h1v1h-1zM96 20h1v1h-1zM106 20h1v1h-1zM4 21h1v1h-1zM7 21h1v1h-1zM14 21h1v1h-1zM30 21h1v1h-1zM32 21h1v1h-1zM35 21h1v1h-1zM71 21h1v1h-1zM80 21h1v1h-1zM96 21h1v1h-1zM98 21h1v1h-1zM103 21h1v1h-1zM8 22h1v1h-1zM87 22h1v1h-1zM89 22h1v1h-1zM90 22h1v1h-1zM2 23h1v1h-1zM8 23h1v1h-1zM19 23h1v1h-1zM32 23h1v1h-1zM45 23h1v1h-1zM90 23h1v1h-1zM97 23h1v1h-1zM2 24h1v1h-1zM5 24h1v1h-1zM8 24h1v1h-1zM18 24h1v1h-1zM19 24h1v1h-1zM31 24h1v1h-1zM33 24h1v1h-1zM34 24h1v1h-1zM36 24h1v1h-1zM61 24h1v1h-1zM64 24h1v1h-1zM72 24h1v1h-1zM74 24h1v1h-1zM77 24h1v1h-1zM92 24h1v1h-1zM101 24h1v1h-1zM105 24h1v1h-1zM2 25h1v1h-1zM3 25h1v1h-1zM14 25h1v1h-1zM17 25h1v1h-1zM31 25h1v1h-1zM32 25h1v1h-1zM34 25h1v1h-1zM69 25h1v1h-1zM77 25h1v1h-1zM97 25h1v1h-1zM102 25h1v1h-1zM23 26h1v1h-1zM38 26h1v1h-1zM43 26h1v1h-1zM72 26h1v1h-1zM74 26h1v1h-1zM78 26h1v1h-1zM79 26h1v1h-1zM83 26h1v1h-1zM85 26h1v1h-1zM88 26h1v1h-1zM97 26h1v1h-1zM5 27h1v1h-1zM6 27h1v1h-1zM18 27h1v1h-1zM37 27h1v1h-1zM44 27h1v1h-1zM59 27h1v1h-1zM63 27h1v1h-1zM77 27h1v1h-1zM84 27h1v1h-1zM96 27h1v1h-1zM97 27h1v1h-1zM98 27h1v1h-1zM105 27h1v1h-1zM4 28h1v1h-1zM32 28h1v1h-1zM39 28h1v1h-1zM40 28h1v1h-1zM41 28h1v1h-1zM44 28h1v1h-1zM58 28h1v1h-1zM92 28h1v1h-1zM93 28h1v1h-1zM94 28h1v1h-1zM95 28h1v1h-1zM98 28h1v1h-1zM1 29h1v1h-1zM6 29h1v1h-1zM7 29h1v1h-1zM8 29h1v1h-1zM11 29h1v1h-1zM14 29h1v1h-1zM15 29h1v1h-1zM50 29h1v1h-1zM53 29h1v1h-1zM58 29h1v1h-1zM88 29h1v1h-1zM90 29h1v1h-1zM91 29h1v1h-1zM101 29h1v1h-1zM103 29h1v1h-1zM33 30h1v1h-1zM35 30h1v1h-1zM40 30h1v1h-1zM92 30h1v1h-1zM17 31h1v1h-1zM18 31h1v1h-1zM19 31h1v1h-1zM31 31h1v1h-1zM37 31h1v1h-1zM40 31h1v1h-1zM70 31h1v1h-1zM89 31h1v1h-1zM93 31h1v1h-1zM95 31h1v1h-1zM96 31h1v1h-1zM18 32h1v1h-1zM32 32h1v1h-1zM37 32h1v1h-1zM38 32h1v1h-1zM39 32h1v1h-1zM53 32h1v1h-1zM59 32h1v1h-1zM60 32h1v1h-1zM68 32h1v1h-1zM71 32h1v1h-1zM96 32h1v1h-1zM101 32h1v1h-1zM10 33h1v1h-1zM14 33h1v1h-1zM21 33h1v1h-1zM66 33h1v1h-1zM77 33h1v1h-1zM92 33h1v1h-1zM94 33h1v1h-1zM1 34h1v1h-1zM5 34h1v1h-1zM18 34h1v1h-1zM20 34h1v1h-1zM21 34h1v1h-1zM30 34h1v1h-1zM38 34h1v1h-1zM76 34h1v1h-1zM77 34h1v1h-1zM89 34h1v1h-1zM96 34h1v1h-1zM98 34h1v1h-1zM19 35h1v1h-1zM47 35h1v1h-1zM51 35h1v1h-1zM70 35h1v1h-1zM76 35h1v1h-1zM79 35h1v1h-1zM85 35h1v1h-1zM97 35h1v1h-1zM0 36h1v1h-1zM5 36h1v1h-1zM7 36h1v1h-1zM18 36h1v1h-1zM36 36h1v1h-1zM51 36h1v1h-1zM69 36h1v1h-1zM95 36h1v1h-1zM96 36h1v1h-1zM14 37h1v1h-1zM34 37h1v1h-1zM39 37h1v1h-1zM44 37h1v1h-1zM64 37h1v1h-1zM87 37h1v1h-1zM93 37h1v1h-1zM15 38h1v1h-1zM18 38h1v1h-1zM21 38h1v1h-1zM33 38h1v1h-1zM35 38h1v1h-1zM41 38h1v1h-1zM44 38h1v1h-1zM53 38h1v1h-1zM57 38h1v1h-1zM66 38h1v1h-1zM80 38h1v1h-1zM0 39h1v1h-1zM1 39h1v1h-1zM6 39h1v1h-1zM28 39h1v1h-1zM31 39h1v1h-1zM33 39h1v1h-1zM35 39h1v1h-1zM39 39h1v1h-1zM45 39h1v1h-1zM49 39h1v1h-1zM53 39h1v1h-1zM60 39h1v1h-1zM67 39h1v1h-1zM90 39h1v1h-1zM93 39h1v1h-1zM3 40h1v1h-1zM6 40h1v1h-1zM7 40h1v1h-1zM20 40h1v1h-1zM31 40h1v1h-1zM33 40h1v1h-1zM49 40h1v1h-1zM53 40h1v1h-1zM60 40h1v1h-1zM71 40h1v1h-1zM82 40h1v1h-1zM92 40h1v1h-1zM4 41h1v1h-1zM8 41h1v1h-1zM35 41h1v1h-1zM36 41h1v1h-1zM40 41h1v1h-1zM61 41h1v1h-1zM77 41h1v1h-1zM88 41h1v1h-1zM18 42h1v1h-1zM20 42h1v1h-1zM33 42h1v1h-1zM34 42h1v1h-1zM38 42h1v1h-1zM41 42h1v1h-1zM42 42h1v1h-1zM79 42h1v1h-1zM85 42h1v1h-1zM91 42h1v1h-1zM0 43h1v1h-1zM1 43h1v1h-1zM5 43h1v1h-1zM7 43h1v1h-1zM14 43h1v1h-1zM15 43h1v1h-1zM19 43h1v1h-1zM21 43h1v1h-1zM23 43h1v1h-1zM35 43h1v1h-1zM39 43h1v1h-1zM66 43h1v1h-1zM76 43h1v1h-1zM85 43h1v1h-1zM4 44h1v1h-1zM64 44h1v1h-1zM78 44h1v1h-1zM81 44h1v1h-1zM9 45h1v1h-1zM26 45h1v1h-1zM33 45h1v1h-1zM80 45h1v1h-1zM81 45h1v1h-1zM30 46h1v1h-1zM39 46h1v1h-1zM51 46h1v1h-1zM4 47h1v1h-1zM11 47h1v1h-1zM32 47h1v1h-1zM40 47h1v1h-1zM44 47h1v1h-1zM50 47h1v1h-1zM55 47h1v1h-1zM78 47h1v1h-1zM85 47h1v1h-1zM0 48h1v1h-1zM1 48h1v1h-1zM9 48h1v1h-1zM29 48h1v1h-1zM38 48h1v1h-1zM53 48h1v1h-1zM60 48h1v1h-1zM67 48h1v1h-1zM69 48h1v1h-1zM72 48h1v1h-1zM76 48h1v1h-1zM1 49h1v1h-1zM14 49h1v1h-1zM15 49h1v1h-1zM19 49h1v1h-1zM28 49h1v1h-1zM30 49h1v1h-1zM31 49h1v1h-1zM50 49h1v1h-1zM51 49h1v1h-1zM56 49h1v1h-1zM61 49h1v1h-1zM72 49h1v1h-1zM74 49h1v1h-1zM76 49h1v1h-1zM7 50h1v1h-1zM8 50h1v1h-1zM19 50h1v1h-1zM31 50h1v1h-1zM33 50h1v1h-1zM43 50h1v1h-1zM44 50h1v1h-1zM45 50h1v1h-1zM50 50h1v1h-1zM58 50h1v1h-1zM0 51h1v1h-1zM5 51h1v1h-1zM34 51h1v1h-1zM35 51h1v1h-1zM43 51h1v1h-1zM44 51h1v1h-1zM45 51h1v1h-1zM51 51h1v1h-1zM28 52h1v1h-1zM31 52h1v1h-1zM39 52h1v1h-1zM4 53h1v1h-1zM26 53h1v1h-1zM56 53h1v1h-1zM59 53h1v1h-1zM77 53h1v1h-1zM2 54h1v1h-1zM4 54h1v1h-1zM5 54h1v1h-1zM9 54h1v1h-1zM20 54h1v1h-1zM36 54h1v1h-1zM37 54h1v1h-1zM38 54h1v1h-1zM65 54h1v1h-1zM70 54h1v1h-1zM76 54h1v1h-1zM77 54h1v1h-1zM6 55h1v1h-1zM8 55h1v1h-1zM19 55h1v1h-1zM32 55h1v1h-1zM35 55h1v1h-1zM78 55h1v1h-1zM28 56h1v1h-1zM38 56h1v1h-1zM57 56h1v1h-1zM9 57h1v1h-1zM19 57h1v1h-1zM21 57h1v1h-1zM25 57h1v1h-1zM27 57h1v1h-1zM35 57h1v1h-1zM6 58h1v1h-1zM8 58h1v1h-1zM14 58h1v1h-1zM19 58h1v1h-1zM37 58h1v1h-1zM43 58h1v1h-1zM47 58h1v1h-1zM50 58h1v1h-1zM51 58h1v1h-1zM63 58h1v1h-1zM70 58h1v1h-1zM0 59h1v1h-1zM3 59h1v1h-1zM20 59h1v1h-1zM32 59h1v1h-1zM34 59h1v1h-1zM35 59h1v1h-1zM39 59h1v1h-1zM45 59h1v1h-1zM3 60h1v1h-1zM5 60h1v1h-1zM20 60h1v1h-1zM32 60h1v1h-1zM33 60h1v1h-1zM37 60h1v1h-1zM40 60h1v1h-1zM43 60h1v1h-1zM71 60h1v1h-1zM1 61h1v1h-1zM7 61h1v1h-1zM22 61h1v1h-1zM32 61h1v1h-1zM39 61h1v1h-1zM41 61h1v1h-1zM49 61h1v1h-1zM8 62h1v1h-1zM30 63h1v1h-1zM40 63h1v1h-1zM12 64h1v1h-1zM42 64h1v1h-1zM44 64h1v1h-1zM49 64h1v1h-1zM0 65h1v1h-1zM19 65h1v1h-1zM32 65h1v1h-1zM39 65h1v1h-1zM40 65h1v1h-1zM67 65h1v1h-1zM3 66h1v1h-1zM8 66h1v1h-1zM10 66h1v1h-1zM20 66h1v1h-1zM9 67h1v1h-1zM18 67h1v1h-1zM20 67h1v1h-1zM31 67h1v1h-1zM32 67h1v1h-1zM37 67h1v1h-1zM38 67h1v1h-1zM44 67h1v1h-1zM50 67h1v1h-1zM57 67h1v1h-1zM8 68h1v1h-1zM34 68h1v1h-1zM37 68h1v1h-1zM2 69h1v1h-1zM5 69h1v1h-1zM31 69h1v1h-1zM59 69h1v1h-1zM3 70h1v1h-1zM7 70h1v1h-1zM13 70h1v1h-1zM28 70h1v1h-1zM30 70h1v1h-1zM32 70h1v1h-1zM59 70h1v1h-1zM6 71h1v1h-1zM31 71h1v1h-1zM40 71h1v1h-1zM50 71h1v1h-1zM57 71h1v1h-1zM30 73h1v1h-1zM31 73h1v1h-1zM34 73h1v1h-1zM38 73h1v1h-1zM49 73h1v1h-1zM54 73h1v1h-1zM59 73h1v1h-1zM4 74h1v1h-1zM18 74h1v1h-1zM31 74h1v1h-1zM34 74h1v1h-1zM36 74h1v1h-1zM2 75h1v1h-1zM6 75h1v1h-1zM30 75h1v1h-1zM31 75h1v1h-1zM34 75h1v1h-1zM38 75h1v1h-1zM39 75h1v1h-1zM51 75h1v1h-1zM5 76h1v1h-1zM8 76h1v1h-1zM22 76h1v1h-1zM32 76h1v1h-1zM37 76h1v1h-1zM5 77h1v1h-1zM6 77h1v1h-1zM20 77h1v1h-1zM32 77h1v1h-1zM37 77h1v1h-1zM38 77h1v1h-1zM41 77h1v1h-1zM5 78h1v1h-1zM8 78h1v1h-1zM21 78h1v1h-1zM27 78h1v1h-1zM28 78h1v1h-1zM33 78h1v1h-1zM37 78h1v1h-1zM40 78h1v1h-1zM55 78h1v1h-1zM1 79h1v1h-1zM21 79h1v1h-1zM35 79h1v1h-1zM38 79h1v1h-1zM41 79h1v1h-1zM44 79h1v1h-1zM2 80h1v1h-1zM35 80h1v1h-1zM39 80h1v1h-1zM45 80h1v1h-1zM2 81h1v1h-1zM8 81h1v1h-1zM10 81h1v1h-1zM15 81h1v1h-1zM35 81h1v1h-1zM2 82h1v1h-1zM4 82h1v1h-1zM6 82h1v1h-1zM19 82h1v1h-1zM39 82h1v1h-1zM42 82h1v1h-1zM14 83h1v1h-1zM28 83h1v1h-1zM33 83h1v1h-1zM38 83h1v1h-1zM45 83h1v1h-1zM4 84h1v1h-1zM5 84h1v1h-1zM8 84h1v1h-1zM14 84h1v1h-1zM15 84h1v1h-1zM19 84h1v1h-1zM20 84h1v1h-1zM21 84h1v1h-1zM34 84h1v1h-1zM41 84h1v1h-1zM6 85h1v1h-1zM37 85h1v1h-1zM10 86h1v1h-1zM28 86h1v1h-1zM32 86h1v1h-1zM38 86h1v1h-1zM39 86h1v1h-1zM45 86h1v1h-1zM0 87h1v1h-1zM1 87h1v1h-1zM8 87h1v1h-1zM12 87h1v1h-1zM23 87h1v1h-1zM30 87h1v1h-1zM37 87h1v1h-1zM38 87h1v1h-1zM40 87h1v1h-1zM41 87h1v1h-1zM10 88h1v1h-1zM5 89h1v1h-1zM22 89h1v1h-1zM34 89h1v1h-1zM37 89h1v1h-1zM40 89h1v1h-1zM0 90h1v1h-1zM6 90h1v1h-1zM8 90h1v1h-1zM14 90h1v1h-1zM32 90h1v1h-1zM36 90h1v1h-1zM38 90h1v1h-1zM14 91h1v1h-1zM27 91h1v1h-1zM28 91h1v1h-1zM34 91h1v1h-1zM39 91h1v1h-1zM1 92h1v1h-1zM31 92h1v1h-1zM35 92h1v1h-1zM40 92h1v1h-1zM15 93h1v1h-1zM18 93h1v1h-1zM19 93h1v1h-1zM23 93h1v1h-1zM33 93h1v1h-1zM38 93h1v1h-1zM2 94h1v1h-1zM14 94h1v1h-1zM15 94h1v1h-1zM17 94h1v1h-1zM30 94h1v1h-1zM31 94h1v1h-1zM18 95h1v1h-1zM28 95h1v1h-1zM34 95h1v1h-1zM37 95h1v1h-1zM1 96h1v1h-1zM10 96h1v1h-1zM17 96h1v1h-1zM19 96h1v1h-1zM27 96h1v1h-1zM29 96h1v1h-1zM32 96h1v1h-1zM36 96h1v1h-1zM9 97h1v1h-1zM32 97h1v1h-1zM2 98h1v1h-1zM5 98h1v1h-1zM20 98h1v1h-1zM33 98h1v1h-1zM0 99h1v1h-1zM2 99h1v1h-1zM7 99h1v1h-1zM6 100h1v1h-1zM33 100h1v1h-1zM0 101h1v1h-1zM2 101h1v1h-1zM13 101h1v1h-1zM27 101h1v1h-1zM28 101h1v1h-1zM2 102h1v1h-1zM10 102h1v1h-1zM18 102h1v1h-1zM25 102h1v1h-1zM29 102h1v1h-1zM3 103h1v1h-1zM7 103h1v1h-1zM15 103h1v1h-1zM19 103h1v1h-1zM30 103h1v1h-1zM1 104h1v1h-1zM4 104h1v1h-1zM7 104h1v1h-1zM4 105h1v1h-1zM8 105h1v1h-1zM1 106h1v1h-1zM8 106h1v1h-1zM11 106h1v1h-1zM20 106h1v1h-1zM7 107h1v1h-1zM14 107h1v1h-1zM0 108h1v1h-1zM22 108h1v1h-1zM0 109h1v1h-1zM4 109h1v1h-1zM6 109h1v1h-1zM10 109h1v1h-1zM14 109h1v1h-1zM7 110h1v1h-1zM4 111h1v1h-1zM19 111h1v1h-1zM1 112h1v1h-1zM7 112h1v1h-1zM14 112h1v1h-1zM4 113h1v1h-1zM7 113h1v1h-1zM5 114h1v1h-1zM9 114h1v1h-1zM15 114h1v1h-1zM6 115h1v1h-1zM0 116h1v1h-1zM6 116h1v1h-1zM2 117h1v1h-1zM3 117h1v1h-1zM5 117h1v1h-1zM7 117h1v1h-1zM2 118h1v1h-1zM4 118h1v1h-1zM0 119h1v1h-1zM14 119h1v1h-1zM6 120h1v1h-1zM13 120h1v1h-1zM1 121h1v1h-1zM2 122h1v1h-1zM2 125h1v1h-1zM8 125h1v1h-1zM2 126h1v1h-1zM3 126h1v1h-1zM4 126h1v1h-1zM0 129h1v1h-1zM2 131h1v1h-1zM1 132h1v1h-1zM0 133h1v1h-1z"/>
<path fill="#faf2d8" d="M4 0h1v1h-1zM14 0h1v1h-1zM31 0h1v1h-1zM38 0h1v1h-1zM53 0h1v1h-1zM55 0h1v1h-1zM63 0h1v1h-1zM78 0h1v1h-1zM89 0h1v1h-1zM95 0h1v1h-1zM112 0h1v1h-1zM121 0h1v1h-1zM2 1h1v1h-1zM4 1h1v1h-1zM7 1h1v1h-1zM9 1h1v1h-1zM41 1h1v1h-1zM45 1h1v1h-1zM66 1h1v1h-1zM74 1h1v1h-1zM81 1h1v1h-1zM99 1h1v1h-1zM100 1h1v1h-1zM102 1h1v1h-1zM105 1h1v1h-1zM108 1h1v1h-1zM3 2h1v1h-1zM7 2h1v1h-1zM18 2h1v1h-1zM22 2h1v1h-1zM23 2h1v1h-1zM34 2h1v1h-1zM37 2h1v1h-1zM39 2h1v1h-1zM42 2h1v1h-1zM56 2h1v1h-1zM60 2h1v1h-1zM63 2h1v1h-1zM68 2h1v1h-1zM80 2h1v1h-1zM82 2h1v1h-1zM84 2h1v1h-1zM85 2h1v1h-1zM110 2h1v1h-1zM111 2h1v1h-1zM112 2h1v1h-1zM22 3h1v1h-1zM38 3h1v1h-1zM45 3h1v1h-1zM81 3h1v1h-1zM90 3h1v1h-1zM91 3h1v1h-1zM108 3h1v1h-1zM28 4h1v1h-1zM31 4h1v1h-1zM64 4h1v1h-1zM87 4h1v1h-1zM105 4h1v1h-1zM106 4h1v1h-1zM8 5h1v1h-1zM12 5h1v1h-1zM19 5h1v1h-1zM35 5h1v1h-1zM39 5h1v1h-1zM50 5h1v1h-1zM55 5h1v1h-1zM56 5h1v1h-1zM59 5h1v1h-1zM60 5h1v1h-1zM61 5h1v1h-1zM64 5h1v1h-1zM75 5h1v1h-1zM76 5h1v1h-1zM83 5h1v1h-1zM84 5h1v1h-1zM87 5h1v1h-1zM88 5h1v1h-1zM93 5h1v1h-1zM102 5h1v1h-1zM112 5h1v1h-1zM115 5h1v1h-1zM117 5h1v1h-1zM118 5h1v1h-1zM121 5h1v1h-1zM122 5h1v1h-1zM126 5h1v1h-1zM127 5h1v1h-1zM128 5h1v1h-1zM1 6h1v1h-1zM8 6h1v1h-1zM13 6h1v1h-1zM19 6h1v1h-1zM23 6h1v1h-1zM30 6h1v1h-1zM33 6h1v1h-1zM35 6h1v1h-1zM37 6h1v1h-1zM50 6h1v1h-1zM60 6h1v1h-1zM64 6h1v1h-1zM84 6h1v1h-1zM93 6h1v1h-1zM99 6h1v1h-1zM102 6h1v1h-1zM103 6h1v1h-1zM107 6h1v1h-1zM114 6h1v1h-1zM0 7h1v1h-1zM19 7h1v1h-1zM28 7h1v1h-1zM31 7h1v1h-1zM38 7h1v1h-1zM55 7h1v1h-1zM56 7h1v1h-1zM57 7h1v1h-1zM59 7h1v1h-1zM64 7h1v1h-1zM72 7h1v1h-1zM77 7h1v1h-1zM80 7h1v1h-1zM81 7h1v1h-1zM92 7h1v1h-1zM95 7h1v1h-1zM105 7h1v1h-1zM109 7h1v1h-1zM110 7h1v1h-1zM126 7h1v1h-1zM9 8h1v1h-1zM20 8h1v1h-1zM36 8h1v1h-1zM47 8h1v1h-1zM56 8h1v1h-1zM59 8h1v1h-1zM62 8h1v1h-1zM64 8h1v1h-1zM70 8h1v1h-1zM73 8h1v1h-1zM81 8h1v1h-1zM82 8h1v1h-1zM84 8h1v1h-1zM92 8h1v1h-1zM94 8h1v1h-1zM106 8h1v1h-1zM8 9h1v1h-1zM33 9h1v1h-1zM44 9h1v1h-1zM63 9h1v1h-1zM93 9h1v1h-1zM106 9h1v1h-1zM121 9h1v1h-1zM14 10h1v1h-1zM18 10h1v1h-1zM20 10h1v1h-1zM31 10h1v1h-1zM32 10h1v1h-1zM41 10h1v1h-1zM49 10h1v1h-1zM53 10h1v1h-1zM79 10h1v1h-1zM92 10h1v1h-1zM100 10h1v1h-1zM101 10h1v1h-1zM8 11h1v1h-1zM33 11h1v1h-1zM40 11h1v1h-1zM41 11h1v1h-1zM45 11h1v1h-1zM56 11h1v1h-1zM74 11h1v1h-1zM75 11h1v1h-1zM80 11h1v1h-1zM89 11h1v1h-1zM91 11h1v1h-1zM92 11h1v1h-1zM102 11h1v1h-1zM103 11h1v1h-1zM2 12h1v1h-1zM14 12h1v1h-1zM17 12h1v1h-1zM18 12h1v1h-1zM32 12h1v1h-1zM34 12h1v1h-1zM36 12h1v1h-1zM37 12h1v1h-1zM39 12h1v1h-1zM44 12h1v1h-1zM56 12h1v1h-1zM60 12h1v1h-1zM70 12h1v1h-1zM73 12h1v1h-1zM77 12h1v1h-1zM78 12h1v1h-1zM83 12h1v1h-1zM89 12h1v1h-1zM91 12h1v1h-1zM92 12h1v1h-1zM99 12h1v1h-1zM103 12h1v1h-1zM106 12h1v1h-1zM111 12h1v1h-1zM3 13h1v1h-1zM5 13h1v1h-1zM10 13h1v1h-1zM13 13h1v1h-1zM14 13h1v1h-1zM17 13h1v1h-1zM35 13h1v1h-1zM36 13h1v1h-1zM42 13h1v1h-1zM53 13h1v1h-1zM58 13h1v1h-1zM59 13h1v1h-1zM74 13h1v1h-1zM81 13h1v1h-1zM86 13h1v1h-1zM88 13h1v1h-1zM91 13h1v1h-1zM93 13h1v1h-1zM101 13h1v1h-1zM103 13h1v1h-1zM111 13h1v1h-1zM9 14h1v1h-1zM10 14h1v1h-1zM20 14h1v1h-1zM21 14h1v1h-1zM30 14h1v1h-1zM31 14h1v1h-1zM45 14h1v1h-1zM57 14h1v1h-1zM71 14h1v1h-1zM82 14h1v1h-1zM96 14h1v1h-1zM103 14h1v1h-1zM105 14h1v1h-1zM106 14h1v1h-1zM108 14h1v1h-1zM111 14h1v1h-1zM113 14h1v1h-1zM115 14h1v1h-1zM118 14h1v1h-1zM9 15h1v1h-1zM13 15h1v1h-1zM20 15h1v1h-1zM28 15h1v1h-1zM33 15h1v1h-1zM40 15h1v1h-1zM55 15h1v1h-1zM57 15h1v1h-1zM73 15h1v1h-1zM80 15h1v1h-1zM88 15h1v1h-1zM106 15h1v1h-1zM117 15h1v1h-1zM2 16h1v1h-1zM5 16h1v1h-1zM7 16h1v1h-1zM8 16h1v1h-1zM23 16h1v1h-1zM28 16h1v1h-1zM31 16h1v1h-1zM32 16h1v1h-1zM35 16h1v1h-1zM53 16h1v1h-1zM59 16h1v1h-1zM74 16h1v1h-1zM83 16h1v1h-1zM94 16h1v1h-1zM95 16h1v1h-1zM98 16h1v1h-1zM99 16h1v1h-1zM113 16h1v1h-1zM117 16h1v1h-1zM19 17h1v1h-1zM33 17h1v1h-1zM78 17h1v1h-1zM92 17h1v1h-1zM4 18h1v1h-1zM17 18h1v1h-1zM30 18h1v1h-1zM35 18h1v1h-1zM36 18h1v1h-1zM70 18h1v1h-1zM87 18h1v1h-1zM91 18h1v1h-1zM101 18h1v1h-1zM109 18h1v1h-1zM1 19h1v1h-1zM10 19h1v1h-1zM31 19h1v1h-1zM37 19h1v1h-1zM44 19h1v1h-1zM48 19h1v1h-1zM53 19h1v1h-1zM59 19h1v1h-1zM60 19h1v1h-1zM64 19h1v1h-1zM70 19h1v1h-1zM77 19h1v1h-1zM94 19h1v1h-1zM95 19h1v1h-1zM101 19h1v1h-1zM106 19h1v1h-1zM111 19h1v1h-1zM0 20h1v1h-1zM3 20h1v1h-1zM4 20h1v1h-1zM10 20h1v1h-1zM16 20h1v1h-1zM20 20h1v1h-1zM41 20h1v1h-1zM44 20h1v1h-1zM53 20h1v1h-1zM69 20h1v1h-1zM83 20h1v1h-1zM90 20h1v1h-1zM99 20h1v1h-1zM104 20h1v1h-1zM6 21h1v1h-1zM19 21h1v1h-1zM59 21h1v1h-1zM68 21h1v1h-1zM74 21h1v1h-1zM84 21h1v1h-1zM88 21h1v1h-1zM90 21h1v1h-1zM95 21h1v1h-1zM100 21h1v1h-1zM107 21h1v1h-1zM4 22h1v1h-1zM11 22h1v1h-1zM30 22h1v1h-1zM45 22h1v1h-1zM53 22h1v1h-1zM56 22h1v1h-1zM81 22h1v1h-1zM93 22h1v1h-1zM99 22h1v1h-1zM100 22h1v1h-1zM105 22h1v1h-1zM107 22h1v1h-1zM1 23h1v1h-1zM3 23h1v1h-1zM20 23h1v1h-1zM21 23h1v1h-1zM34 23h1v1h-1zM35 23h1v1h-1zM37 23h1v1h-1zM58 23h1v1h-1zM60 23h1v1h-1zM79 23h1v1h-1zM81 23h1v1h-1zM87 23h1v1h-1zM91 23h1v1h-1zM98 23h1v1h-1zM14 24h1v1h-1zM15 24h1v1h-1zM20 24h1v1h-1zM42 24h1v1h-1zM70 24h1v1h-1zM97 24h1v1h-1zM5 25h1v1h-1zM15 25h1v1h-1zM19 25h1v1h-1zM28 25h1v1h-1zM33 25h1v1h-1zM37 25h1v1h-1zM44 25h1v1h-1zM49 25h1v1h-1zM71 25h1v1h-1zM82 25h1v1h-1zM87 25h1v1h-1zM90 25h1v1h-1zM94 25h1v1h-1zM98 25h1v1h-1zM99 25h1v1h-1zM107 25h1v1h-1zM108 25h1v1h-1zM6 26h1v1h-1zM7 26h1v1h-1zM9 26h1v1h-1zM10 26h1v1h-1zM18 26h1v1h-1zM22 26h1v1h-1zM26 26h1v1h-1zM31 26h1v1h-1zM34 26h1v1h-1zM48 26h1v1h-1zM49 26h1v1h-1zM64 26h1v1h-1zM70 26h1v1h-1zM82 26h1v1h-1zM89 26h1v1h-1zM94 26h1v1h-1zM101 26h1v1h-1zM106 26h1v1h-1zM2 27h1v1h-1zM14 27h1v1h-1zM23 27h1v1h-1zM32 27h1v1h-1zM39 27h1v1h-1zM41 27h1v1h-1zM51 27h1v1h-1zM61 27h1v1h-1zM64 27h1v1h-1zM74 27h1v1h-1zM78 27h1v1h-1zM88 27h1v1h-1zM102 27h1v1h-1zM104 27h1v1h-1zM0 28h1v1h-1zM2 28h1v1h-1zM16 28h1v1h-1zM20 28h1v1h-1zM28 28h1v1h-1zM56 28h1v1h-1zM66 28h1v1h-1zM70 28h1v1h-1zM76 28h1v1h-1zM89 28h1v1h-1zM96 28h1v1h-1zM0 29h1v1h-1zM5 29h1v1h-1zM18 29h1v1h-1zM19 29h1v1h-1zM28 29h1v1h-1zM30 29h1v1h-1zM31 29h1v1h-1zM33 29h1v1h-1zM34 29h1v1h-1zM35 29h1v1h-1zM56 29h1v1h-1zM65 29h1v1h-1zM78 29h1v1h-1zM79 29h1v1h-1zM99 29h1v1h-1zM0 30h1v1h-1zM2 30h1v1h-1zM19 30h1v1h-1zM39 30h1v1h-1zM89 30h1v1h-1zM4 31h1v1h-1zM12 31h1v1h-1zM34 31h1v1h-1zM50 31h1v1h-1zM59 31h1v1h-1zM77 31h1v1h-1zM80 31h1v1h-1zM88 31h1v1h-1zM100 31h1v1h-1zM1 32h1v1h-1zM15 32h1v1h-1zM19 32h1v1h-1zM26 32h1v1h-1zM30 32h1v1h-1zM36 32h1v1h-1zM43 32h1v1h-1zM50 32h1v1h-1zM58 32h1v1h-1zM76 32h1v1h-1zM77 32h1v1h-1zM99 32h1v1h-1zM13 33h1v1h-1zM15 33h1v1h-1zM20 33h1v1h-1zM32 33h1v1h-1zM38 33h1v1h-1zM41 33h1v1h-1zM44 33h1v1h-1zM45 33h1v1h-1zM47 33h1v1h-1zM51 33h1v1h-1zM53 33h1v1h-1zM57 33h1v1h-1zM60 33h1v1h-1zM81 33h1v1h-1zM83 33h1v1h-1zM4 34h1v1h-1zM14 34h1v1h-1zM19 34h1v1h-1zM33 34h1v1h-1zM40 34h1v1h-1zM44 34h1v1h-1zM59 34h1v1h-1zM72 34h1v1h-1zM78 34h1v1h-1zM79 34h1v1h-1zM85 34h1v1h-1zM95 34h1v1h-1zM1 35h1v1h-1zM2 35h1v1h-1zM8 35h1v1h-1zM27 35h1v1h-1zM35 35h1v1h-1zM38 35h1v1h-1zM40 35h1v1h-1zM83 35h1v1h-1zM84 35h1v1h-1zM90 35h1v1h-1zM92 35h1v1h-1zM96 35h1v1h-1zM1 36h1v1h-1zM2 36h1v1h-1zM33 36h1v1h-1zM40 36h1v1h-1zM44 36h1v1h-1zM45 36h1v1h-1zM46 36h1v1h-1zM49 36h1v1h-1zM50 36h1v1h-1zM56 36h1v1h-1zM59 36h1v1h-1zM71 36h1v1h-1zM80 36h1v1h-1zM82 36h1v1h-1zM93 36h1v1h-1zM0 37h1v1h-1zM2 37h1v1h-1zM6 37h1v1h-1zM9 37h1v1h-1zM19 37h1v1h-1zM42 37h1v1h-1zM56 37h1v1h-1zM61 37h1v1h-1zM88 37h1v1h-1zM90 37h1v1h-1zM91 37h1v1h-1zM3 38h1v1h-1zM14 38h1v1h-1zM19 38h1v1h-1zM28 38h1v1h-1zM50 38h1v1h-1zM56 38h1v1h-1zM59 38h1v1h-1zM81 38h1v1h-1zM86 38h1v1h-1zM89 38h1v1h-1zM15 39h1v1h-1zM18 39h1v1h-1zM23 39h1v1h-1zM38 39h1v1h-1zM41 39h1v1h-1zM0 40h1v1h-1zM1 40h1v1h-1zM2 40h1v1h-1zM8 40h1v1h-1zM18 40h1v1h-1zM19 40h1v1h-1zM28 40h1v1h-1zM29 40h1v1h-1zM34 40h1v1h-1zM40 40h1v1h-1zM44 40h1v1h-1zM47 40h1v1h-1zM65 40h1v1h-1zM74 40h1v1h-1zM76 40h1v1h-1zM84 40h1v1h-1zM88 40h1v1h-1zM91 40h1v1h-1zM10 41h1v1h-1zM15 41h1v1h-1zM21 41h1v1h-1zM33 41h1v1h-1zM41 41h1v1h-1zM49 41h1v1h-1zM51 41h1v1h-1zM55 41h1v1h-1zM89 41h1v1h-1zM0 42h1v1h-1zM1 42h1v1h-1zM10 42h1v1h-1zM39 42h1v1h-1zM66 42h1v1h-1zM67 42h1v1h-1zM71 42h1v1h-1zM76 42h1v1h-1zM81 42h1v1h-1zM88 42h1v1h-1zM90 42h1v1h-1zM6 43h1v1h-1zM10 43h1v1h-1zM16 43h1v1h-1zM36 43h1v1h-1zM45 43h1v1h-1zM49 43h1v1h-1zM50 43h1v1h-1zM51 43h1v1h-1zM72 43h1v1h-1zM73 43h1v1h-1zM79 43h1v1h-1zM80 43h1v1h-1zM90 43h1v1h-1zM0 44h1v1h-1zM21 44h1v1h-1zM34 44h1v1h-1zM40 44h1v1h-1zM41 44h1v1h-1zM45 44h1v1h-1zM51 44h1v1h-1zM56 44h1v1h-1zM60 44h1v1h-1zM76 44h1v1h-1zM89 44h1v1h-1zM0 45h1v1h-1zM1 45h1v1h-1zM3 45h1v1h-1zM8 45h1v1h-1zM30 45h1v1h-1zM47 45h1v1h-1zM55 45h1v1h-1zM67 45h1v1h-1zM68 45h1v1h-1zM70 45h1v1h-1zM72 45h1v1h-1zM75 45h1v1h-1zM82 45h1v1h-1zM7 46h1v1h-1zM35 46h1v1h-1zM40 46h1v1h-1zM49 46h1v1h-1zM64 46h1v1h-1zM67 46h1v1h-1zM70 46h1v1h-1zM81 46h1v1h-1zM82 46h1v1h-1zM87 46h1v1h-1zM0 47h1v1h-1zM14 47h1v1h-1zM18 47h1v1h-1zM37 47h1v1h-1zM43 47h1v1h-1zM48 47h1v1h-1zM53 47h1v1h-1zM56 47h1v1h-1zM81 47h1v1h-1zM8 48h1v1h-1zM19 48h1v1h-1zM20 48h1v1h-1zM57 48h1v1h-1zM68 48h1v1h-1zM70 48h1v1h-1zM81 48h1v1h-1zM0 49h1v1h-1zM2 49h1v1h-1zM8 49h1v1h-1zM22 49h1v1h-1zM32 49h1v1h-1zM43 49h1v1h-1zM58 49h1v1h-1zM64 49h1v1h-1zM71 49h1v1h-1zM78 49h1v1h-1zM83 49h1v1h-1zM0 50h1v1h-1zM4 50h1v1h-1zM6 50h1v1h-1zM10 50h1v1h-1zM21 50h1v1h-1zM35 50h1v1h-1zM36 50h1v1h-1zM37 50h1v1h-1zM59 50h1v1h-1zM64 50h1v1h-1zM76 50h1v1h-1zM80 50h1v1h-1zM1 51h1v1h-1zM4 51h1v1h-1zM8 51h1v1h-1zM28 51h1v1h-1zM33 51h1v1h-1zM39 51h1v1h-1zM49 51h1v1h-1zM53 51h1v1h-1zM59 51h1v1h-1zM64 51h1v1h-1zM82 51h1v1h-1zM6 52h1v1h-1zM9 52h1v1h-1zM15 52h1v1h-1zM17 52h1v1h-1zM38 52h1v1h-1zM56 52h1v1h-1zM69 52h1v1h-1zM76 52h1v1h-1zM80 52h1v1h-1zM2 53h1v1h-1zM5 53h1v1h-1zM34 53h1v1h-1zM40 53h1v1h-1zM43 53h1v1h-1zM70 53h1v1h-1zM72 53h1v1h-1zM74 53h1v1h-1zM1 54h1v1h-1zM22 54h1v1h-1zM35 54h1v1h-1zM45 54h1v1h-1zM49 54h1v1h-1zM53 54h1v1h-1zM56 54h1v1h-1zM57 54h1v1h-1zM64 54h1v1h-1zM66 54h1v1h-1zM78 54h1v1h-1zM1 55h1v1h-1zM3 55h1v1h-1zM5 55h1v1h-1zM9 55h1v1h-1zM10 55h1v1h-1zM23 55h1v1h-1zM24 55h1v1h-1zM28 55h1v1h-1zM44 55h1v1h-1zM49 55h1v1h-1zM56 55h1v1h-1zM59 55h1v1h-1zM60 55h1v1h-1zM70 55h1v1h-1zM8 56h1v1h-1zM10 56h1v1h-1zM37 56h1v1h-1zM50 56h1v1h-1zM3 57h1v1h-1zM4 57h1v1h-1zM5 57h1v1h-1zM15 57h1v1h-1zM20 57h1v1h-1zM28 57h1v1h-1zM33 57h1v1h-1zM37 57h1v1h-1zM39 57h1v1h-1zM40 57h1v1h-1zM42 57h1v1h-1zM52 57h1v1h-1zM61 57h1v1h-1zM64 57h1v1h-1zM3 58h1v1h-1zM16 58h1v1h-1zM17 58h1v1h-1zM18 58h1v1h-1zM27 58h1v1h-1zM38 58h1v1h-1zM39 58h1v1h-1zM45 58h1v1h-1zM49 58h1v1h-1zM53 58h1v1h-1zM58 58h1v1h-1zM65 58h1v1h-1zM67 58h1v1h-1zM1 59h1v1h-1zM6 59h1v1h-1zM7 59h1v1h-1zM8 59h1v1h-1zM9 59h1v1h-1zM15 59h1v1h-1zM31 59h1v1h-1zM37 59h1v1h-1zM41 59h1v1h-1zM44 59h1v1h-1zM65 59h1v1h-1zM69 59h1v1h-1zM2 60h1v1h-1zM9 60h1v1h-1zM15 60h1v1h-1zM19 60h1v1h-1zM27 60h1v1h-1zM35 60h1v1h-1zM50 60h1v1h-1zM51 60h1v1h-1zM70 60h1v1h-1zM0 61h1v1h-1zM3 61h1v1h-1zM4 61h1v1h-1zM6 61h1v1h-1zM33 61h1v1h-1zM45 61h1v1h-1zM72 61h1v1h-1zM7 62h1v1h-1zM22 62h1v1h-1zM32 62h1v1h-1zM34 62h1v1h-1zM38 62h1v1h-1zM40 62h1v1h-1zM45 62h1v1h-1zM47 62h1v1h-1zM53 62h1v1h-1zM2 63h1v1h-1zM3 63h1v1h-1zM8 63h1v1h-1zM4 64h1v1h-1zM8 64h1v1h-1zM30 64h1v1h-1zM39 64h1v1h-1zM51 64h1v1h-1zM56 64h1v1h-1zM58 64h1v1h-1zM60 64h1v1h-1zM63 64h1v1h-1zM64 64h1v1h-1zM2 65h1v1h-1zM8 65h1v1h-1zM14 65h1v1h-1zM18 65h1v1h-1zM38 65h1v1h-1zM51 65h1v1h-1zM59 65h1v1h-1zM65 65h1v1h-1zM0 66h1v1h-1zM13 66h1v1h-1zM28 66h1v1h-1zM32 66h1v1h-1zM35 66h1v1h-1zM36 66h1v1h-1zM45 66h1v1h-1zM3 67h1v1h-1zM5 67h1v1h-1zM6 67h1v1h-1zM10 67h1v1h-1zM11 67h1v1h-1zM12 67h1v1h-1zM29 67h1v1h-1zM35 67h1v1h-1zM41 67h1v1h-1zM42 67h1v1h-1zM43 67h1v1h-1zM49 67h1v1h-1zM51 67h1v1h-1zM59 67h1v1h-1zM60 67h1v1h-1zM3 68h1v1h-1zM4 68h1v1h-1zM14 68h1v1h-1zM19 68h1v1h-1zM27 68h1v1h-1zM38 68h1v1h-1zM39 68h1v1h-1zM53 68h1v1h-1zM59 68h1v1h-1zM0 69h1v1h-1zM4 69h1v1h-1zM27 69h1v1h-1zM32 69h1v1h-1zM33 69h1v1h-1zM39 69h1v1h-1zM40 69h1v1h-1zM48 69h1v1h-1zM49 69h1v1h-1zM58 69h1v1h-1zM61 69h1v1h-1zM8 70h1v1h-1zM18 70h1v1h-1zM20 70h1v1h-1zM36 70h1v1h-1zM44 70h1v1h-1zM53 70h1v1h-1zM1 71h1v1h-1zM3 71h1v1h-1zM13 71h1v1h-1zM19 71h1v1h-1zM21 71h1v1h-1zM33 71h1v1h-1zM34 71h1v1h-1zM37 71h1v1h-1zM38 71h1v1h-1zM42 71h1v1h-1zM44 71h1v1h-1zM49 71h1v1h-1zM56 71h1v1h-1zM60 71h1v1h-1zM1 72h1v1h-1zM31 72h1v1h-1zM3 73h1v1h-1zM7 73h1v1h-1zM13 73h1v1h-1zM14 73h1v1h-1zM33 73h1v1h-1zM35 73h1v1h-1zM41 73h1v1h-1zM44 73h1v1h-1zM32 74h1v1h-1zM37 74h1v1h-1zM40 74h1v1h-1zM44 74h1v1h-1zM53 74h1v1h-1zM1 75h1v1h-1zM9 75h1v1h-1zM13 75h1v1h-1zM15 75h1v1h-1zM20 75h1v1h-1zM28 75h1v1h-1zM43 75h1v1h-1zM4 76h1v1h-1zM6 76h1v1h-1zM7 76h1v1h-1zM11 76h1v1h-1zM13 76h1v1h-1zM20 76h1v1h-1zM38 76h1v1h-1zM43 76h1v1h-1zM49 76h1v1h-1zM51 76h1v1h-1zM21 77h1v1h-1zM25 77h1v1h-1zM28 77h1v1h-1zM34 77h1v1h-1zM40 77h1v1h-1zM43 77h1v1h-1zM45 77h1v1h-1zM51 77h1v1h-1zM1 78h1v1h-1zM2 78h1v1h-1zM4 78h1v1h-1zM6 78h1v1h-1zM10 78h1v1h-1zM15 78h1v1h-1zM23 78h1v1h-1zM34 78h1v1h-1zM4 79h1v1h-1zM6 79h1v1h-1zM14 79h1v1h-1zM15 79h1v1h-1zM17 79h1v1h-1zM29 79h1v1h-1zM33 79h1v1h-1zM34 79h1v1h-1zM37 79h1v1h-1zM39 79h1v1h-1zM42 79h1v1h-1zM47 79h1v1h-1zM51 79h1v1h-1zM6 80h1v1h-1zM9 80h1v1h-1zM38 80h1v1h-1zM14 81h1v1h-1zM17 81h1v1h-1zM20 81h1v1h-1zM36 81h1v1h-1zM37 81h1v1h-1zM44 81h1v1h-1zM5 82h1v1h-1zM7 82h1v1h-1zM9 82h1v1h-1zM28 82h1v1h-1zM34 82h1v1h-1zM10 83h1v1h-1zM31 83h1v1h-1zM37 83h1v1h-1zM7 84h1v1h-1zM9 84h1v1h-1zM30 84h1v1h-1zM33 84h1v1h-1zM35 84h1v1h-1zM49 84h1v1h-1zM4 85h1v1h-1zM7 85h1v1h-1zM28 85h1v1h-1zM30 85h1v1h-1zM35 85h1v1h-1zM39 85h1v1h-1zM42 85h1v1h-1zM43 85h1v1h-1zM48 85h1v1h-1zM4 86h1v1h-1zM6 86h1v1h-1zM16 86h1v1h-1zM17 86h1v1h-1zM23 86h1v1h-1zM34 86h1v1h-1zM35 86h1v1h-1zM41 86h1v1h-1zM3 87h1v1h-1zM5 87h1v1h-1zM14 87h1v1h-1zM16 87h1v1h-1zM17 87h1v1h-1zM20 87h1v1h-1zM27 87h1v1h-1zM31 87h1v1h-1zM32 87h1v1h-1zM33 87h1v1h-1zM43 87h1v1h-1zM2 88h1v1h-1zM45 88h1v1h-1zM1 89h1v1h-1zM3 89h1v1h-1zM7 89h1v1h-1zM12 89h1v1h-1zM15 89h1v1h-1zM28 89h1v1h-1zM30 89h1v1h-1zM31 89h1v1h-1zM44 89h1v1h-1zM1 90h1v1h-1zM15 90h1v1h-1zM18 90h1v1h-1zM19 90h1v1h-1zM25 90h1v1h-1zM28 90h1v1h-1zM37 90h1v1h-1zM39 90h1v1h-1zM41 90h1v1h-1zM42 90h1v1h-1zM6 91h1v1h-1zM7 91h1v1h-1zM10 91h1v1h-1zM20 91h1v1h-1zM38 91h1v1h-1zM2 92h1v1h-1zM5 92h1v1h-1zM8 92h1v1h-1zM10 92h1v1h-1zM29 92h1v1h-1zM36 92h1v1h-1zM2 93h1v1h-1zM6 93h1v1h-1zM7 93h1v1h-1zM26 93h1v1h-1zM5 94h1v1h-1zM29 94h1v1h-1zM32 94h1v1h-1zM36 94h1v1h-1zM2 95h1v1h-1zM9 95h1v1h-1zM15 95h1v1h-1zM16 95h1v1h-1zM21 95h1v1h-1zM30 95h1v1h-1zM35 95h1v1h-1zM2 96h1v1h-1zM20 96h1v1h-1zM31 96h1v1h-1zM37 96h1v1h-1zM4 97h1v1h-1zM11 97h1v1h-1zM28 97h1v1h-1zM31 97h1v1h-1zM0 98h1v1h-1zM1 98h1v1h-1zM4 98h1v1h-1zM10 98h1v1h-1zM32 98h1v1h-1zM35 98h1v1h-1zM3 99h1v1h-1zM22 99h1v1h-1zM28 99h1v1h-1zM31 99h1v1h-1zM34 99h1v1h-1zM0 100h1v1h-1zM2 100h1v1h-1zM10 100h1v1h-1zM20 100h1v1h-1zM21 100h1v1h-1zM10 101h1v1h-1zM20 101h1v1h-1zM5 102h1v1h-1zM7 102h1v1h-1zM9 102h1v1h-1zM19 102h1v1h-1zM28 102h1v1h-1zM30 102h1v1h-1zM11 103h1v1h-1zM16 103h1v1h-1zM18 103h1v1h-1zM3 104h1v1h-1zM5 104h1v1h-1zM6 104h1v1h-1zM10 104h1v1h-1zM13 104h1v1h-1zM19 104h1v1h-1zM20 104h1v1h-1zM23 104h1v1h-1zM3 105h1v1h-1zM9 105h1v1h-1zM16 105h1v1h-1zM18 105h1v1h-1zM23 105h1v1h-1zM14 106h1v1h-1zM25 106h1v1h-1zM27 106h1v1h-1zM4 107h1v1h-1zM5 107h1v1h-1zM10 107h1v1h-1zM15 107h1v1h-1zM18 107h1v1h-1zM22 107h1v1h-1zM1 108h1v1h-1zM5 108h1v1h-1zM19 108h1v1h-1zM1 109h1v1h-1zM2 109h1v1h-1zM7 109h1v1h-1zM18 109h1v1h-1zM21 109h1v1h-1zM7 111h1v1h-1zM22 111h1v1h-1zM10 112h1v1h-1zM20 112h1v1h-1zM2 113h1v1h-1zM5 113h1v1h-1zM6 113h1v1h-1zM18 113h1v1h-1zM2 114h1v1h-1zM7 114h1v1h-1zM8 114h1v1h-1zM10 114h1v1h-1zM14 114h1v1h-1zM5 115h1v1h-1zM9 115h1v1h-1zM12 115h1v1h-1zM2 116h1v1h-1zM7 116h1v1h-1zM10 116h1v1h-1zM11 116h1v1h-1zM14 117h1v1h-1zM3 118h1v1h-1zM7 118h1v1h-1zM8 118h1v1h-1zM3 119h1v1h-1zM10 122h1v1h-1zM0 124h1v1h-1zM2 124h1v1h-1zM7 124h1v1h-1zM9 124h1v1h-1zM1 125h1v1h-1zM7 125h1v1h-1zM0 126h1v1h-1zM6 126h1v1h-1zM0 127h1v1h-1zM6 127h1v1h-1zM1 128h1v1h-1zM4 128h1v1h-1zM4 129h1v1h-1z"/>
<path fill="#fae9ce" d="M1 0h1v1h-1zM13 0h1v1h-1zM15 0h1v1h-1zM17 0h1v1h-1zM20 0h1v1h-1zM21 0h1v1h-1zM27 0h1v1h-1zM33 0h1v1h-1zM37 0h1v1h-1zM60 0h1v1h-1zM64 0h1v1h-1zM67 0h1v1h-1zM82 0h1v1h-1zM84 0h1v1h-1zM85 0h1v1h-1zM87 0h1v1h-1zM105 0h1v1h-1zM108 0h1v1h-1zM110 0h1v1h-1zM111 0h1v1h-1zM130 0h1v1h-1zM133 0h1v1h-1zM0 1h1v1h-1zM1 1h1v1h-1zM8 1h1v1h-1zM11 1h1v1h-1zM17 1h1v1h-1zM42 1h1v1h-1zM53 1h1v1h-1zM58 1h1v1h-1zM60 1h1v1h-1zM62 1h1v1h-1zM63 1h1v1h-1zM76 1h1v1h-1zM85 1h1v1h-1zM91 1h1v1h-1zM93 1h1v1h-1zM95 1h1v1h-1zM103 1h1v1h-1zM119 1h1v1h-1zM0 2h1v1h-1zM8 2h1v1h-1zM11 2h1v1h-1zM19 2h1v1h-1zM20 2h1v1h-1zM21 2h1v1h-1zM28 2h1v1h-1zM29 2h1v1h-1zM41 2h1v1h-1zM58 2h1v1h-1zM77 2h1v1h-1zM79 2h1v1h-1zM83 2h1v1h-1zM108 2h1v1h-1zM117 2h1v1h-1zM124 2h1v1h-1zM0 3h1v1h-1zM2 3h1v1h-1zM8 3h1v1h-1zM14 3h1v1h-1zM17 3h1v1h-1zM28 3h1v1h-1zM49 3h1v1h-1zM69 3h1v1h-1zM71 3h1v1h-1zM82 3h1v1h-1zM98 3h1v1h-1zM101 3h1v1h-1zM103 3h1v1h-1zM105 3h1v1h-1zM128 3h1v1h-1zM0 4h1v1h-1zM1 4h1v1h-1zM14 4h1v1h-1zM35 4h1v1h-1zM38 4h1v1h-1zM59 4h1v1h-1zM81 4h1v1h-1zM83 4h1v1h-1zM84 4h1v1h-1zM90 4h1v1h-1zM103 4h1v1h-1zM7 5h1v1h-1zM11 5h1v1h-1zM13 5h1v1h-1zM14 5h1v1h-1zM20 5h1v1h-1zM21 5h1v1h-1zM22 5h1v1h-1zM29 5h1v1h-1zM47 5h1v1h-1zM58 5h1v1h-1zM65 5h1v1h-1zM67 5h1v1h-1zM70 5h1v1h-1zM73 5h1v1h-1zM77 5h1v1h-1zM78 5h1v1h-1zM82 5h1v1h-1zM97 5h1v1h-1zM107 5h1v1h-1zM110 5h1v1h-1zM15 6h1v1h-1zM16 6h1v1h-1zM18 6h1v1h-1zM49 6h1v1h-1zM54 6h1v1h-1zM70 6h1v1h-1zM73 6h1v1h-1zM75 6h1v1h-1zM77 6h1v1h-1zM78 6h1v1h-1zM80 6h1v1h-1zM110 6h1v1h-1zM5 7h1v1h-1zM7 7h1v1h-1zM21 7h1v1h-1zM30 7h1v1h-1zM35 7h1v1h-1zM39 7h1v1h-1zM50 7h1v1h-1zM68 7h1v1h-1zM69 7h1v1h-1zM78 7h1v1h-1zM93 7h1v1h-1zM98 7h1v1h-1zM103 7h1v1h-1zM106 7h1v1h-1zM114 7h1v1h-1zM118 7h1v1h-1zM6 8h1v1h-1zM8 8h1v1h-1zM14 8h1v1h-1zM27 8h1v1h-1zM41 8h1v1h-1zM42 8h1v1h-1zM53 8h1v1h-1zM60 8h1v1h-1zM67 8h1v1h-1zM88 8h1v1h-1zM99 8h1v1h-1zM28 9h1v1h-1zM30 9h1v1h-1zM31 9h1v1h-1zM32 9h1v1h-1zM34 9h1v1h-1zM38 9h1v1h-1zM41 9h1v1h-1zM47 9h1v1h-1zM57 9h1v1h-1zM59 9h1v1h-1zM76 9h1v1h-1zM114 9h1v1h-1zM2 10h1v1h-1zM5 10h1v1h-1zM8 10h1v1h-1zM9 10h1v1h-1zM27 10h1v1h-1zM30 10h1v1h-1zM33 10h1v1h-1zM37 10h1v1h-1zM40 10h1v1h-1zM58 10h1v1h-1zM59 10h1v1h-1zM66 10h1v1h-1zM73 10h1v1h-1zM75 10h1v1h-1zM87 10h1v1h-1zM91 10h1v1h-1zM94 10h1v1h-1zM98 10h1v1h-1zM103 10h1v1h-1zM111 10h1v1h-1zM9 11h1v1h-1zM16 11h1v1h-1zM19 11h1v1h-1zM21 11h1v1h-1zM51 11h1v1h-1zM60 11h1v1h-1zM61 11h1v1h-1zM67 11h1v1h-1zM69 11h1v1h-1zM78 11h1v1h-1zM96 11h1v1h-1zM97 11h1v1h-1zM101 11h1v1h-1zM105 11h1v1h-1zM106 11h1v1h-1zM107 11h1v1h-1zM109 11h1v1h-1zM122 11h1v1h-1zM0 12h1v1h-1zM1 12h1v1h-1zM23 12h1v1h-1zM29 12h1v1h-1zM41 12h1v1h-1zM55 12h1v1h-1zM57 12h1v1h-1zM58 12h1v1h-1zM61 12h1v1h-1zM63 12h1v1h-1zM71 12h1v1h-1zM81 12h1v1h-1zM82 12h1v1h-1zM84 12h1v1h-1zM97 12h1v1h-1zM98 12h1v1h-1zM105 12h1v1h-1zM107 12h1v1h-1zM109 12h1v1h-1zM115 12h1v1h-1zM4 13h1v1h-1zM6 13h1v1h-1zM7 13h1v1h-1zM8 13h1v1h-1zM12 13h1v1h-1zM15 13h1v1h-1zM20 13h1v1h-1zM27 13h1v1h-1zM33 13h1v1h-1zM38 13h1v1h-1zM40 13h1v1h-1zM43 13h1v1h-1zM61 13h1v1h-1zM63 13h1v1h-1zM64 13h1v1h-1zM73 13h1v1h-1zM83 13h1v1h-1zM98 13h1v1h-1zM102 13h1v1h-1zM105 13h1v1h-1zM106 13h1v1h-1zM107 13h1v1h-1zM112 13h1v1h-1zM116 13h1v1h-1zM117 13h1v1h-1zM4 14h1v1h-1zM25 14h1v1h-1zM40 14h1v1h-1zM43 14h1v1h-1zM47 14h1v1h-1zM48 14h1v1h-1zM51 14h1v1h-1zM53 14h1v1h-1zM60 14h1v1h-1zM63 14h1v1h-1zM64 14h1v1h-1zM1 15h1v1h-1zM21 15h1v1h-1zM25 15h1v1h-1zM35 15h1v1h-1zM38 15h1v1h-1zM43 15h1v1h-1zM58 15h1v1h-1zM70 15h1v1h-1zM72 15h1v1h-1zM75 15h1v1h-1zM82 15h1v1h-1zM89 15h1v1h-1zM96 15h1v1h-1zM103 15h1v1h-1zM107 15h1v1h-1zM108 15h1v1h-1zM1 16h1v1h-1zM6 16h1v1h-1zM15 16h1v1h-1zM18 16h1v1h-1zM29 16h1v1h-1zM44 16h1v1h-1zM49 16h1v1h-1zM56 16h1v1h-1zM61 16h1v1h-1zM63 16h1v1h-1zM71 16h1v1h-1zM73 16h1v1h-1zM76 16h1v1h-1zM80 16h1v1h-1zM81 16h1v1h-1zM82 16h1v1h-1zM109 16h1v1h-1zM110 16h1v1h-1zM111 16h1v1h-1zM15 17h1v1h-1zM28 17h1v1h-1zM64 17h1v1h-1zM79 17h1v1h-1zM87 17h1v1h-1zM91 17h1v1h-1zM93 17h1v1h-1zM94 17h1v1h-1zM98 17h1v1h-1zM108 17h1v1h-1zM0 18h1v1h-1zM2 18h1v1h-1zM8 18h1v1h-1zM12 18h1v1h-1zM14 18h1v1h-1zM19 18h1v1h-1zM22 18h1v1h-1zM57 18h1v1h-1zM69 18h1v1h-1zM71 18h1v1h-1zM80 18h1v1h-1zM84 18h1v1h-1zM88 18h1v1h-1zM92 18h1v1h-1zM112 18h1v1h-1zM8 19h1v1h-1zM14 19h1v1h-1zM15 19h1v1h-1zM18 19h1v1h-1zM19 19h1v1h-1zM23 19h1v1h-1zM39 19h1v1h-1zM56 19h1v1h-1zM58 19h1v1h-1zM73 19h1v1h-1zM79 19h1v1h-1zM86 19h1v1h-1zM110 19h1v1h-1zM113 19h1v1h-1zM1 20h1v1h-1zM11 20h1v1h-1zM12 20h1v1h-1zM14 20h1v1h-1zM19 20h1v1h-1zM27 20h1v1h-1zM35 20h1v1h-1zM36 20h1v1h-1zM42 20h1v1h-1zM52 20h1v1h-1zM57 20h1v1h-1zM73 20h1v1h-1zM98 20h1v1h-1zM102 20h1v1h-1zM110 20h1v1h-1zM111 20h1v1h-1zM112 20h1v1h-1zM3 21h1v1h-1zM9 21h1v1h-1zM15 21h1v1h-1zM34 21h1v1h-1zM36 21h1v1h-1zM38 21h1v1h-1zM50 21h1v1h-1zM64 21h1v1h-1zM70 21h1v1h-1zM77 21h1v1h-1zM81 21h1v1h-1zM82 21h1v1h-1zM87 21h1v1h-1zM93 21h1v1h-1zM94 21h1v1h-1zM97 21h1v1h-1zM99 21h1v1h-1zM105 21h1v1h-1zM110 21h1v1h-1zM1 22h1v1h-1zM5 22h1v1h-1zM21 22h1v1h-1zM27 22h1v1h-1zM32 22h1v1h-1zM40 22h1v1h-1zM41 22h1v1h-1zM55 22h1v1h-1zM64 22h1v1h-1zM66 22h1v1h-1zM69 22h1v1h-1zM82 22h1v1h-1zM95 22h1v1h-1zM101 22h1v1h-1zM106 22h1v1h-1zM108 22h1v1h-1zM109 22h1v1h-1zM110 22h1v1h-1zM4 23h1v1h-1zM22 23h1v1h-1zM29 23h1v1h-1zM30 23h1v1h-1zM31 23h1v1h-1zM38 23h1v1h-1zM50 23h1v1h-1zM53 23h1v1h-1zM55 23h1v1h-1zM56 23h1v1h-1zM57 23h1v1h-1zM86 23h1v1h-1zM96 23h1v1h-1zM100 23h1v1h-1zM101 23h1v1h-1zM106 23h1v1h-1zM108 23h1v1h-1zM110 23h1v1h-1zM1 24h1v1h-1zM4 24h1v1h-1zM6 24h1v1h-1zM7 24h1v1h-1zM11 24h1v1h-1zM17 24h1v1h-1zM27 24h1v1h-1zM41 24h1v1h-1zM50 24h1v1h-1zM51 24h1v1h-1zM55 24h1v1h-1zM66 24h1v1h-1zM73 24h1v1h-1zM78 24h1v1h-1zM79 24h1v1h-1zM81 24h1v1h-1zM83 24h1v1h-1zM95 24h1v1h-1zM96 24h1v1h-1zM104 24h1v1h-1zM1 25h1v1h-1zM6 25h1v1h-1zM7 25h1v1h-1zM12 25h1v1h-1zM36 25h1v1h-1zM41 25h1v1h-1zM51 25h1v1h-1zM53 25h1v1h-1zM59 25h1v1h-1zM66 25h1v1h-1zM68 25h1v1h-1zM73 25h1v1h-1zM80 25h1v1h-1zM106 25h1v1h-1zM5 26h1v1h-1zM17 26h1v1h-1zM20 26h1v1h-1zM27 26h1v1h-1zM45 26h1v1h-1zM50 26h1v1h-1zM53 26h1v1h-1zM58 26h1v1h-1zM60 26h1v1h-1zM63 26h1v1h-1zM69 26h1v1h-1zM71 26h1v1h-1zM80 26h1v1h-1zM81 26h1v1h-1zM84 26h1v1h-1zM102 26h1v1h-1zM103 26h1v1h-1zM104 26h1v1h-1zM7 27h1v1h-1zM9 27h1v1h-1zM13 27h1v1h-1zM19 27h1v1h-1zM30 27h1v1h-1zM38 27h1v1h-1zM53 27h1v1h-1zM58 27h1v1h-1zM66 27h1v1h-1zM68 27h1v1h-1zM70 27h1v1h-1zM72 27h1v1h-1zM81 27h1v1h-1zM85 27h1v1h-1zM94 27h1v1h-1zM103 27h1v1h-1zM1 28h1v1h-1zM11 28h1v1h-1zM15 28h1v1h-1zM29 28h1v1h-1zM49 28h1v1h-1zM51 28h1v1h-1zM53 28h1v1h-1zM61 28h1v1h-1zM64 28h1v1h-1zM71 28h1v1h-1zM74 28h1v1h-1zM82 28h1v1h-1zM87 28h1v1h-1zM90 28h1v1h-1zM102 28h1v1h-1zM103 28h1v1h-1zM21 29h1v1h-1zM37 29h1v1h-1zM40 29h1v1h-1zM45 29h1v1h-1zM46 29h1v1h-1zM49 29h1v1h-1zM59 29h1v1h-1zM61 29h1v1h-1zM63 29h1v1h-1zM67 29h1v1h-1zM68 29h1v1h-1zM69 29h1v1h-1zM83 29h1v1h-1zM92 29h1v1h-1zM102 29h1v1h-1zM26 30h1v1h-1zM36 30h1v1h-1zM44 30h1v1h-1zM49 30h1v1h-1zM50 30h1v1h-1zM87 30h1v1h-1zM93 30h1v1h-1zM95 30h1v1h-1zM100 30h1v1h-1zM101 30h1v1h-1zM14 31h1v1h-1zM15 31h1v1h-1zM16 31h1v1h-1zM20 31h1v1h-1zM30 31h1v1h-1zM38 31h1v1h-1zM49 31h1v1h-1zM55 31h1v1h-1zM58 31h1v1h-1zM61 31h1v1h-1zM63 31h1v1h-1zM64 31h1v1h-1zM65 31h1v1h-1zM69 31h1v1h-1zM81 31h1v1h-1zM83 31h1v1h-1zM90 31h1v1h-1zM6 32h1v1h-1zM14 32h1v1h-1zM16 32h1v1h-1zM20 32h1v1h-1zM21 32h1v1h-1zM22 32h1v1h-1zM28 32h1v1h-1zM29 32h1v1h-1zM31 32h1v1h-1zM42 32h1v1h-1zM70 32h1v1h-1zM73 32h1v1h-1zM80 32h1v1h-1zM93 32h1v1h-1zM5 33h1v1h-1zM8 33h1v1h-1zM18 33h1v1h-1zM35 33h1v1h-1zM40 33h1v1h-1zM90 33h1v1h-1zM98 33h1v1h-1zM99 33h1v1h-1zM6 34h1v1h-1zM27 34h1v1h-1zM58 34h1v1h-1zM61 34h1v1h-1zM68 34h1v1h-1zM70 34h1v1h-1zM71 34h1v1h-1zM83 34h1v1h-1zM87 34h1v1h-1zM9 35h1v1h-1zM18 35h1v1h-1zM20 35h1v1h-1zM25 35h1v1h-1zM26 35h1v1h-1zM41 35h1v1h-1zM42 35h1v1h-1zM56 35h1v1h-1zM59 35h1v1h-1zM71 35h1v1h-1zM78 35h1v1h-1zM81 35h1v1h-1zM89 35h1v1h-1zM3 36h1v1h-1zM15 36h1v1h-1zM16 36h1v1h-1zM21 36h1v1h-1zM35 36h1v1h-1zM41 36h1v1h-1zM42 36h1v1h-1zM43 36h1v1h-1zM47 36h1v1h-1zM53 36h1v1h-1zM55 36h1v1h-1zM60 36h1v1h-1zM61 36h1v1h-1zM64 36h1v1h-1zM70 36h1v1h-1zM4 37h1v1h-1zM7 37h1v1h-1zM18 37h1v1h-1zM27 37h1v1h-1zM28 37h1v1h-1zM38 37h1v1h-1zM40 37h1v1h-1zM45 37h1v1h-1zM50 37h1v1h-1zM68 37h1v1h-1zM70 37h1v1h-1zM71 37h1v1h-1zM78 37h1v1h-1zM89 37h1v1h-1zM92 37h1v1h-1zM95 37h1v1h-1zM6 38h1v1h-1zM8 38h1v1h-1zM11 38h1v1h-1zM12 38h1v1h-1zM25 38h1v1h-1zM27 38h1v1h-1zM29 38h1v1h-1zM38 38h1v1h-1zM47 38h1v1h-1zM49 38h1v1h-1zM58 38h1v1h-1zM64 38h1v1h-1zM65 38h1v1h-1zM68 38h1v1h-1zM72 38h1v1h-1zM74 38h1v1h-1zM79 38h1v1h-1zM82 38h1v1h-1zM84 38h1v1h-1zM88 38h1v1h-1zM95 38h1v1h-1zM5 39h1v1h-1zM10 39h1v1h-1zM11 39h1v1h-1zM16 39h1v1h-1zM30 39h1v1h-1zM44 39h1v1h-1zM47 39h1v1h-1zM48 39h1v1h-1zM51 39h1v1h-1zM61 39h1v1h-1zM70 39h1v1h-1zM78 39h1v1h-1zM88 39h1v1h-1zM89 39h1v1h-1zM4 40h1v1h-1zM9 40h1v1h-1zM12 40h1v1h-1zM30 40h1v1h-1zM37 40h1v1h-1zM72 40h1v1h-1zM75 40h1v1h-1zM1 41h1v1h-1zM3 41h1v1h-1zM22 41h1v1h-1zM27 41h1v1h-1zM53 41h1v1h-1zM63 41h1v1h-1zM65 41h1v1h-1zM75 41h1v1h-1zM76 41h1v1h-1zM78 41h1v1h-1zM81 41h1v1h-1zM86 41h1v1h-1zM87 41h1v1h-1zM4 42h1v1h-1zM15 42h1v1h-1zM19 42h1v1h-1zM30 42h1v1h-1zM35 42h1v1h-1zM49 42h1v1h-1zM60 42h1v1h-1zM69 42h1v1h-1zM70 42h1v1h-1zM72 42h1v1h-1zM80 42h1v1h-1zM89 42h1v1h-1zM27 43h1v1h-1zM28 43h1v1h-1zM33 43h1v1h-1zM38 43h1v1h-1zM42 43h1v1h-1zM47 43h1v1h-1zM68 43h1v1h-1zM83 43h1v1h-1zM88 43h1v1h-1zM2 44h1v1h-1zM14 44h1v1h-1zM15 44h1v1h-1zM18 44h1v1h-1zM20 44h1v1h-1zM30 44h1v1h-1zM32 44h1v1h-1zM33 44h1v1h-1zM48 44h1v1h-1zM53 44h1v1h-1zM59 44h1v1h-1zM63 44h1v1h-1zM66 44h1v1h-1zM69 44h1v1h-1zM71 44h1v1h-1zM80 44h1v1h-1zM5 45h1v1h-1zM15 45h1v1h-1zM17 45h1v1h-1zM21 45h1v1h-1zM29 45h1v1h-1zM35 45h1v1h-1zM36 45h1v1h-1zM37 45h1v1h-1zM41 45h1v1h-1zM42 45h1v1h-1zM43 45h1v1h-1zM45 45h1v1h-1zM49 45h1v1h-1zM50 45h1v1h-1zM57 45h1v1h-1zM64 45h1v1h-1zM65 45h1v1h-1zM69 45h1v1h-1zM74 45h1v1h-1zM77 45h1v1h-1zM83 45h1v1h-1zM0 46h1v1h-1zM4 46h1v1h-1zM6 46h1v1h-1zM8 46h1v1h-1zM10 46h1v1h-1zM15 46h1v1h-1zM42 46h1v1h-1zM53 46h1v1h-1zM69 46h1v1h-1zM74 46h1v1h-1zM1 47h1v1h-1zM3 47h1v1h-1zM9 47h1v1h-1zM10 47h1v1h-1zM15 47h1v1h-1zM30 47h1v1h-1zM33 47h1v1h-1zM35 47h1v1h-1zM51 47h1v1h-1zM69 47h1v1h-1zM72 47h1v1h-1zM83 47h1v1h-1zM84 47h1v1h-1zM22 48h1v1h-1zM30 48h1v1h-1zM31 48h1v1h-1zM47 48h1v1h-1zM55 48h1v1h-1zM56 48h1v1h-1zM66 48h1v1h-1zM5 49h1v1h-1zM10 49h1v1h-1zM17 49h1v1h-1zM29 49h1v1h-1zM35 49h1v1h-1zM41 49h1v1h-1zM42 49h1v1h-1zM45 49h1v1h-1zM59 49h1v1h-1zM63 49h1v1h-1zM67 49h1v1h-1zM68 49h1v1h-1zM79 49h1v1h-1zM1 50h1v1h-1zM15 50h1v1h-1zM20 50h1v1h-1zM23 50h1v1h-1zM25 50h1v1h-1zM30 50h1v1h-1zM42 50h1v1h-1zM47 50h1v1h-1zM48 50h1v1h-1zM56 50h1v1h-1zM78 50h1v1h-1zM79 50h1v1h-1zM11 51h1v1h-1zM13 51h1v1h-1zM14 51h1v1h-1zM15 51h1v1h-1zM17 51h1v1h-1zM37 51h1v1h-1zM38 51h1v1h-1zM66 51h1v1h-1zM67 51h1v1h-1zM75 51h1v1h-1zM78 51h1v1h-1zM5 52h1v1h-1zM7 52h1v1h-1zM10 52h1v1h-1zM14 52h1v1h-1zM18 52h1v1h-1zM21 52h1v1h-1zM41 52h1v1h-1zM50 52h1v1h-1zM67 52h1v1h-1zM72 52h1v1h-1zM77 52h1v1h-1zM79 52h1v1h-1zM81 52h1v1h-1zM1 53h1v1h-1zM3 53h1v1h-1zM6 53h1v1h-1zM7 53h1v1h-1zM8 53h1v1h-1zM17 53h1v1h-1zM19 53h1v1h-1zM22 53h1v1h-1zM32 53h1v1h-1zM41 53h1v1h-1zM45 53h1v1h-1zM50 53h1v1h-1zM61 53h1v1h-1zM64 53h1v1h-1zM66 53h1v1h-1zM71 53h1v1h-1zM78 53h1v1h-1zM79 53h1v1h-1zM13 54h1v1h-1zM14 54h1v1h-1zM19 54h1v1h-1zM27 54h1v1h-1zM28 54h1v1h-1zM33 54h1v1h-1zM41 54h1v1h-1zM42 54h1v1h-1zM43 54h1v1h-1zM46 54h1v1h-1zM47 54h1v1h-1zM51 54h1v1h-1zM55 54h1v1h-1zM58 54h1v1h-1zM61 54h1v1h-1zM68 54h1v1h-1zM75 54h1v1h-1zM0 55h1v1h-1zM2 55h1v1h-1zM11 55h1v1h-1zM15 55h1v1h-1zM16 55h1v1h-1zM20 55h1v1h-1zM33 55h1v1h-1zM34 55h1v1h-1zM43 55h1v1h-1zM50 55h1v1h-1zM55 55h1v1h-1zM58 55h1v1h-1zM63 55h1v1h-1zM68 55h1v1h-1zM69 55h1v1h-1zM76 55h1v1h-1zM1 56h1v1h-1zM3 56h1v1h-1zM14 56h1v1h-1zM18 56h1v1h-1zM25 56h1v1h-1zM34 56h1v1h-1zM40 56h1v1h-1zM43 56h1v1h-1zM47 56h1v1h-1zM53 56h1v1h-1zM58 56h1v1h-1zM64 56h1v1h-1zM68 56h1v1h-1zM69 56h1v1h-1zM70 56h1v1h-1zM72 56h1v1h-1zM73 56h1v1h-1zM36 57h1v1h-1zM44 57h1v1h-1zM49 57h1v1h-1zM57 57h1v1h-1zM63 57h1v1h-1zM73 57h1v1h-1zM76 57h1v1h-1zM1 58h1v1h-1zM7 58h1v1h-1zM13 58h1v1h-1zM20 58h1v1h-1zM68 58h1v1h-1zM72 58h1v1h-1zM12 59h1v1h-1zM14 59h1v1h-1zM26 59h1v1h-1zM30 59h1v1h-1zM60 59h1v1h-1zM72 59h1v1h-1zM74 59h1v1h-1zM4 60h1v1h-1zM6 60h1v1h-1zM7 60h1v1h-1zM11 60h1v1h-1zM16 60h1v1h-1zM21 60h1v1h-1zM30 60h1v1h-1zM36 60h1v1h-1zM49 60h1v1h-1zM56 60h1v1h-1zM59 60h1v1h-1zM60 60h1v1h-1zM69 60h1v1h-1zM72 60h1v1h-1zM73 60h1v1h-1zM10 61h1v1h-1zM17 61h1v1h-1zM35 61h1v1h-1zM38 61h1v1h-1zM43 61h1v1h-1zM47 61h1v1h-1zM51 61h1v1h-1zM58 61h1v1h-1zM60 61h1v1h-1zM64 61h1v1h-1zM66 61h1v1h-1zM0 62h1v1h-1zM1 62h1v1h-1zM2 62h1v1h-1zM9 62h1v1h-1zM14 62h1v1h-1zM15 62h1v1h-1zM19 62h1v1h-1zM25 62h1v1h-1zM27 62h1v1h-1zM28 62h1v1h-1zM30 62h1v1h-1zM31 62h1v1h-1zM33 62h1v1h-1zM35 62h1v1h-1zM57 62h1v1h-1zM68 62h1v1h-1zM69 62h1v1h-1zM1 63h1v1h-1zM7 63h1v1h-1zM9 63h1v1h-1zM10 63h1v1h-1zM11 63h1v1h-1zM26 63h1v1h-1zM33 63h1v1h-1zM38 63h1v1h-1zM41 63h1v1h-1zM42 63h1v1h-1zM44 63h1v1h-1zM51 63h1v1h-1zM56 63h1v1h-1zM60 63h1v1h-1zM61 63h1v1h-1zM64 63h1v1h-1zM2 64h1v1h-1zM9 64h1v1h-1zM15 64h1v1h-1zM16 64h1v1h-1zM18 64h1v1h-1zM21 64h1v1h-1zM25 64h1v1h-1zM37 64h1v1h-1zM41 64h1v1h-1zM66 64h1v1h-1zM3 65h1v1h-1zM16 65h1v1h-1zM20 65h1v1h-1zM23 65h1v1h-1zM25 65h1v1h-1zM28 65h1v1h-1zM36 65h1v1h-1zM44 65h1v1h-1zM55 65h1v1h-1zM57 65h1v1h-1zM58 65h1v1h-1zM4 66h1v1h-1zM5 66h1v1h-1zM9 66h1v1h-1zM31 66h1v1h-1zM34 66h1v1h-1zM37 66h1v1h-1zM49 66h1v1h-1zM53 66h1v1h-1zM2 67h1v1h-1zM36 67h1v1h-1zM62 67h1v1h-1zM63 67h1v1h-1zM18 68h1v1h-1zM20 68h1v1h-1zM31 68h1v1h-1zM41 68h1v1h-1zM45 68h1v1h-1zM49 68h1v1h-1zM50 68h1v1h-1zM60 68h1v1h-1zM64 68h1v1h-1zM7 69h1v1h-1zM9 69h1v1h-1zM10 69h1v1h-1zM19 69h1v1h-1zM23 69h1v1h-1zM25 69h1v1h-1zM26 69h1v1h-1zM34 69h1v1h-1zM35 69h1v1h-1zM42 69h1v1h-1zM43 69h1v1h-1zM53 69h1v1h-1zM11 70h1v1h-1zM22 70h1v1h-1zM26 70h1v1h-1zM29 70h1v1h-1zM34 70h1v1h-1zM38 70h1v1h-1zM55 70h1v1h-1zM57 70h1v1h-1zM60 70h1v1h-1zM63 70h1v1h-1zM7 71h1v1h-1zM9 71h1v1h-1zM10 71h1v1h-1zM15 71h1v1h-1zM20 71h1v1h-1zM28 71h1v1h-1zM29 71h1v1h-1zM47 71h1v1h-1zM51 71h1v1h-1zM55 71h1v1h-1zM59 71h1v1h-1zM3 72h1v1h-1zM4 72h1v1h-1zM39 72h1v1h-1zM42 72h1v1h-1zM44 72h1v1h-1zM1 73h1v1h-1zM6 73h1v1h-1zM19 73h1v1h-1zM28 73h1v1h-1zM37 73h1v1h-1zM43 73h1v1h-1zM45 73h1v1h-1zM56 73h1v1h-1zM58 73h1v1h-1zM3 74h1v1h-1zM8 74h1v1h-1zM14 74h1v1h-1zM20 74h1v1h-1zM23 74h1v1h-1zM26 74h1v1h-1zM30 74h1v1h-1zM39 74h1v1h-1zM41 74h1v1h-1zM49 74h1v1h-1zM56 74h1v1h-1zM0 75h1v1h-1zM8 75h1v1h-1zM10 75h1v1h-1zM35 75h1v1h-1zM44 75h1v1h-1zM2 76h1v1h-1zM9 76h1v1h-1zM27 76h1v1h-1zM30 76h1v1h-1zM31 76h1v1h-1zM53 76h1v1h-1zM57 76h1v1h-1zM0 77h1v1h-1zM3 77h1v1h-1zM9 77h1v1h-1zM12 77h1v1h-1zM18 77h1v1h-1zM33 77h1v1h-1zM50 77h1v1h-1zM9 78h1v1h-1zM14 78h1v1h-1zM31 78h1v1h-1zM35 78h1v1h-1zM49 78h1v1h-1zM51 78h1v1h-1zM53 78h1v1h-1zM0 79h1v1h-1zM9 79h1v1h-1zM11 79h1v1h-1zM40 79h1v1h-1zM43 79h1v1h-1zM1 80h1v1h-1zM4 80h1v1h-1zM5 80h1v1h-1zM11 80h1v1h-1zM33 80h1v1h-1zM44 80h1v1h-1zM51 80h1v1h-1zM53 80h1v1h-1zM3 81h1v1h-1zM4 81h1v1h-1zM5 81h1v1h-1zM9 81h1v1h-1zM22 81h1v1h-1zM28 81h1v1h-1zM48 81h1v1h-1zM50 81h1v1h-1zM13 82h1v1h-1zM17 82h1v1h-1zM20 82h1v1h-1zM32 82h1v1h-1zM47 82h1v1h-1zM49 82h1v1h-1zM50 82h1v1h-1zM51 82h1v1h-1zM2 83h1v1h-1zM6 83h1v1h-1zM11 83h1v1h-1zM16 83h1v1h-1zM18 83h1v1h-1zM19 83h1v1h-1zM22 83h1v1h-1zM27 83h1v1h-1zM32 83h1v1h-1zM41 83h1v1h-1zM3 84h1v1h-1zM23 84h1v1h-1zM36 84h1v1h-1zM44 84h1v1h-1zM45 84h1v1h-1zM47 84h1v1h-1zM1 85h1v1h-1zM8 85h1v1h-1zM22 85h1v1h-1zM31 85h1v1h-1zM33 85h1v1h-1zM38 85h1v1h-1zM3 86h1v1h-1zM5 86h1v1h-1zM8 86h1v1h-1zM14 86h1v1h-1zM18 86h1v1h-1zM22 86h1v1h-1zM27 86h1v1h-1zM30 86h1v1h-1zM40 86h1v1h-1zM28 87h1v1h-1zM29 87h1v1h-1zM34 87h1v1h-1zM35 87h1v1h-1zM42 87h1v1h-1zM27 88h1v1h-1zM32 88h1v1h-1zM33 88h1v1h-1zM34 88h1v1h-1zM2 89h1v1h-1zM4 89h1v1h-1zM6 89h1v1h-1zM8 89h1v1h-1zM10 89h1v1h-1zM17 89h1v1h-1zM33 89h1v1h-1zM38 89h1v1h-1zM41 89h1v1h-1zM2 90h1v1h-1zM3 90h1v1h-1zM7 90h1v1h-1zM16 90h1v1h-1zM29 90h1v1h-1zM33 90h1v1h-1zM8 91h1v1h-1zM12 91h1v1h-1zM16 91h1v1h-1zM18 91h1v1h-1zM19 91h1v1h-1zM22 91h1v1h-1zM23 91h1v1h-1zM42 91h1v1h-1zM7 92h1v1h-1zM13 92h1v1h-1zM15 92h1v1h-1zM26 92h1v1h-1zM33 92h1v1h-1zM38 92h1v1h-1zM41 92h1v1h-1zM11 93h1v1h-1zM17 93h1v1h-1zM24 93h1v1h-1zM6 94h1v1h-1zM7 94h1v1h-1zM11 94h1v1h-1zM18 94h1v1h-1zM26 94h1v1h-1zM34 94h1v1h-1zM8 95h1v1h-1zM14 95h1v1h-1zM19 95h1v1h-1zM23 95h1v1h-1zM31 95h1v1h-1zM0 96h1v1h-1zM9 96h1v1h-1zM28 96h1v1h-1zM1 97h1v1h-1zM2 97h1v1h-1zM5 97h1v1h-1zM7 97h1v1h-1zM14 97h1v1h-1zM35 97h1v1h-1zM11 98h1v1h-1zM17 98h1v1h-1zM19 98h1v1h-1zM27 98h1v1h-1zM1 99h1v1h-1zM4 99h1v1h-1zM10 99h1v1h-1zM11 99h1v1h-1zM15 99h1v1h-1zM20 99h1v1h-1zM26 99h1v1h-1zM4 100h1v1h-1zM5 100h1v1h-1zM12 100h1v1h-1zM13 100h1v1h-1zM18 100h1v1h-1zM3 101h1v1h-1zM18 101h1v1h-1zM21 101h1v1h-1zM3 102h1v1h-1zM8 102h1v1h-1zM16 102h1v1h-1zM21 102h1v1h-1zM22 102h1v1h-1zM6 103h1v1h-1zM9 103h1v1h-1zM20 103h1v1h-1zM9 104h1v1h-1zM14 104h1v1h-1zM21 104h1v1h-1zM29 104h1v1h-1zM1 105h1v1h-1zM2 105h1v1h-1zM5 105h1v1h-1zM12 105h1v1h-1zM17 105h1v1h-1zM19 105h1v1h-1zM7 106h1v1h-1zM9 106h1v1h-1zM10 106h1v1h-1zM12 106h1v1h-1zM17 106h1v1h-1zM18 106h1v1h-1zM22 106h1v1h-1zM1 107h1v1h-1zM6 107h1v1h-1zM17 107h1v1h-1zM20 107h1v1h-1zM21 107h1v1h-1zM4 108h1v1h-1zM9 108h1v1h-1zM16 108h1v1h-1zM5 109h1v1h-1zM21 111h1v1h-1zM4 112h1v1h-1zM8 112h1v1h-1zM9 112h1v1h-1zM11 112h1v1h-1zM15 112h1v1h-1zM0 114h1v1h-1zM6 114h1v1h-1zM19 114h1v1h-1zM0 115h1v1h-1zM1 115h1v1h-1zM4 115h1v1h-1zM7 115h1v1h-1zM8 115h1v1h-1zM11 115h1v1h-1zM14 115h1v1h-1zM3 116h1v1h-1zM9 116h1v1h-1zM15 116h1v1h-1zM6 117h1v1h-1zM12 117h1v1h-1zM1 118h1v1h-1zM9 118h1v1h-1zM10 118h1v1h-1zM12 118h1v1h-1zM5 119h1v1h-1zM7 119h1v1h-1zM8 119h1v1h-1zM9 119h1v1h-1zM10 119h1v1h-1zM13 119h1v1h-1zM3 120h1v1h-1zM5 121h1v1h-1zM6 121h1v1h-1zM8 121h1v1h-1zM1 122h1v1h-1zM9 122h1v1h-1zM2 123h1v1h-1zM7 123h1v1h-1zM3 125h1v1h-1zM1 127h1v1h-1zM3 127h1v1h-1zM5 127h1v1h-1zM2 128h1v1h-1zM3 128h1v1h-1zM3 129h1v1h-1zM2 130h1v1h-1z"/>
<path fill="#f9e0c4" d="M6 0h1v1h-1zM18 0h1v1h-1zM23 0h1v1h-1zM26 0h1v1h-1zM28 0h1v1h-1zM36 0h1v1h-1zM51 0h1v1h-1zM71 0h1v1h-1zM72 0h1v1h-1zM73 0h1v1h-1zM75 0h1v1h-1zM77 0h1v1h-1zM88 0h1v1h-1zM97 0h1v1h-1zM104 0h1v1h-1zM122 0h1v1h-1zM126 0h1v1h-1zM131 0h1v1h-1zM132 0h1v1h-1zM5 1h1v1h-1zM12 1h1v1h-1zM14 1h1v1h-1zM21 1h1v1h-1zM23 1h1v1h-1zM29 1h1v1h-1zM32 1h1v1h-1zM38 1h1v1h-1zM51 1h1v1h-1zM70 1h1v1h-1zM72 1h1v1h-1zM75 1h1v1h-1zM80 1h1v1h-1zM83 1h1v1h-1zM84 1h1v1h-1zM90 1h1v1h-1zM97 1h1v1h-1zM113 1h1v1h-1zM129 1h1v1h-1zM131 1h1v1h-1zM12 2h1v1h-1zM17 2h1v1h-1zM25 2h1v1h-1zM27 2h1v1h-1zM30 2h1v1h-1zM31 2h1v1h-1zM32 2h1v1h-1zM55 2h1v1h-1zM61 2h1v1h-1zM64 2h1v1h-1zM71 2h1v1h-1zM87 2h1v1h-1zM92 2h1v1h-1zM97 2h1v1h-1zM99 2h1v1h-1zM102 2h1v1h-1zM109 2h1v1h-1zM115 2h1v1h-1zM118 2h1v1h-1zM121 2h1v1h-1zM127 2h1v1h-1zM1 3h1v1h-1zM15 3h1v1h-1zM21 3h1v1h-1zM23 3h1v1h-1zM27 3h1v1h-1zM30 3h1v1h-1zM34 3h1v1h-1zM35 3h1v1h-1zM51 3h1v1h-1zM55 3h1v1h-1zM67 3h1v1h-1zM78 3h1v1h-1zM92 3h1v1h-1zM93 3h1v1h-1zM107 3h1v1h-1zM110 3h1v1h-1zM111 3h1v1h-1zM112 3h1v1h-1zM119 3h1v1h-1zM122 3h1v1h-1zM123 3h1v1h-1zM5 4h1v1h-1zM6 4h1v1h-1zM7 4h1v1h-1zM10 4h1v1h-1zM19 4h1v1h-1zM27 4h1v1h-1zM33 4h1v1h-1zM37 4h1v1h-1zM60 4h1v1h-1zM88 4h1v1h-1zM91 4h1v1h-1zM96 4h1v1h-1zM111 4h1v1h-1zM10 5h1v1h-1zM18 5h1v1h-1zM48 5h1v1h-1zM54 5h1v1h-1zM96 5h1v1h-1zM104 5h1v1h-1zM124 5h1v1h-1zM2 6h1v1h-1zM4 6h1v1h-1zM6 6h1v1h-1zM26 6h1v1h-1zM27 6h1v1h-1zM43 6h1v1h-1zM47 6h1v1h-1zM63 6h1v1h-1zM65 6h1v1h-1zM66 6h1v1h-1zM68 6h1v1h-1zM74 6h1v1h-1zM76 6h1v1h-1zM86 6h1v1h-1zM105 6h1v1h-1zM106 6h1v1h-1zM111 6h1v1h-1zM115 6h1v1h-1zM122 6h1v1h-1zM126 6h1v1h-1zM6 7h1v1h-1zM10 7h1v1h-1zM14 7h1v1h-1zM16 7h1v1h-1zM18 7h1v1h-1zM25 7h1v1h-1zM36 7h1v1h-1zM42 7h1v1h-1zM47 7h1v1h-1zM48 7h1v1h-1zM49 7h1v1h-1zM58 7h1v1h-1zM66 7h1v1h-1zM75 7h1v1h-1zM83 7h1v1h-1zM86 7h1v1h-1zM94 7h1v1h-1zM97 7h1v1h-1zM99 7h1v1h-1zM104 7h1v1h-1zM108 7h1v1h-1zM112 7h1v1h-1zM117 7h1v1h-1zM4 8h1v1h-1zM5 8h1v1h-1zM10 8h1v1h-1zM15 8h1v1h-1zM16 8h1v1h-1zM19 8h1v1h-1zM33 8h1v1h-1zM37 8h1v1h-1zM40 8h1v1h-1zM43 8h1v1h-1zM44 8h1v1h-1zM50 8h1v1h-1zM63 8h1v1h-1zM66 8h1v1h-1zM80 8h1v1h-1zM85 8h1v1h-1zM107 8h1v1h-1zM108 8h1v1h-1zM114 8h1v1h-1zM117 8h1v1h-1zM0 9h1v1h-1zM5 9h1v1h-1zM21 9h1v1h-1zM37 9h1v1h-1zM40 9h1v1h-1zM49 9h1v1h-1zM50 9h1v1h-1zM51 9h1v1h-1zM77 9h1v1h-1zM81 9h1v1h-1zM83 9h1v1h-1zM84 9h1v1h-1zM85 9h1v1h-1zM87 9h1v1h-1zM98 9h1v1h-1zM99 9h1v1h-1zM104 9h1v1h-1zM1 10h1v1h-1zM7 10h1v1h-1zM10 10h1v1h-1zM26 10h1v1h-1zM28 10h1v1h-1zM36 10h1v1h-1zM38 10h1v1h-1zM39 10h1v1h-1zM42 10h1v1h-1zM63 10h1v1h-1zM64 10h1v1h-1zM83 10h1v1h-1zM86 10h1v1h-1zM89 10h1v1h-1zM90 10h1v1h-1zM102 10h1v1h-1zM108 10h1v1h-1zM109 10h1v1h-1zM114 10h1v1h-1zM4 11h1v1h-1zM5 11h1v1h-1zM6 11h1v1h-1zM7 11h1v1h-1zM10 11h1v1h-1zM14 11h1v1h-1zM17 11h1v1h-1zM23 11h1v1h-1zM25 11h1v1h-1zM28 11h1v1h-1zM29 11h1v1h-1zM30 11h1v1h-1zM55 11h1v1h-1zM63 11h1v1h-1zM71 11h1v1h-1zM76 11h1v1h-1zM93 11h1v1h-1zM94 11h1v1h-1zM98 11h1v1h-1zM104 11h1v1h-1zM115 11h1v1h-1zM3 12h1v1h-1zM13 12h1v1h-1zM15 12h1v1h-1zM25 12h1v1h-1zM27 12h1v1h-1zM30 12h1v1h-1zM42 12h1v1h-1zM48 12h1v1h-1zM53 12h1v1h-1zM65 12h1v1h-1zM66 12h1v1h-1zM67 12h1v1h-1zM75 12h1v1h-1zM85 12h1v1h-1zM88 12h1v1h-1zM119 12h1v1h-1zM11 13h1v1h-1zM48 13h1v1h-1zM55 13h1v1h-1zM66 13h1v1h-1zM68 13h1v1h-1zM70 13h1v1h-1zM1 14h1v1h-1zM7 14h1v1h-1zM14 14h1v1h-1zM16 14h1v1h-1zM23 14h1v1h-1zM26 14h1v1h-1zM36 14h1v1h-1zM42 14h1v1h-1zM44 14h1v1h-1zM55 14h1v1h-1zM66 14h1v1h-1zM69 14h1v1h-1zM74 14h1v1h-1zM77 14h1v1h-1zM84 14h1v1h-1zM92 14h1v1h-1zM104 14h1v1h-1zM112 14h1v1h-1zM119 14h1v1h-1zM7 15h1v1h-1zM11 15h1v1h-1zM12 15h1v1h-1zM16 15h1v1h-1zM22 15h1v1h-1zM27 15h1v1h-1zM50 15h1v1h-1zM51 15h1v1h-1zM63 15h1v1h-1zM64 15h1v1h-1zM76 15h1v1h-1zM97 15h1v1h-1zM111 15h1v1h-1zM113 15h1v1h-1zM118 15h1v1h-1zM22 16h1v1h-1zM38 16h1v1h-1zM39 16h1v1h-1zM41 16h1v1h-1zM42 16h1v1h-1zM57 16h1v1h-1zM58 16h1v1h-1zM60 16h1v1h-1zM64 16h1v1h-1zM68 16h1v1h-1zM69 16h1v1h-1zM72 16h1v1h-1zM84 16h1v1h-1zM101 16h1v1h-1zM106 16h1v1h-1zM112 16h1v1h-1zM116 16h1v1h-1zM0 17h1v1h-1zM2 17h1v1h-1zM20 17h1v1h-1zM21 17h1v1h-1zM22 17h1v1h-1zM35 17h1v1h-1zM39 17h1v1h-1zM41 17h1v1h-1zM43 17h1v1h-1zM65 17h1v1h-1zM66 17h1v1h-1zM88 17h1v1h-1zM89 17h1v1h-1zM95 17h1v1h-1zM101 17h1v1h-1zM113 17h1v1h-1zM9 18h1v1h-1zM10 18h1v1h-1zM31 18h1v1h-1zM37 18h1v1h-1zM41 18h1v1h-1zM49 18h1v1h-1zM55 18h1v1h-1zM59 18h1v1h-1zM61 18h1v1h-1zM83 18h1v1h-1zM105 18h1v1h-1zM110 18h1v1h-1zM3 19h1v1h-1zM22 19h1v1h-1zM29 19h1v1h-1zM32 19h1v1h-1zM55 19h1v1h-1zM63 19h1v1h-1zM65 19h1v1h-1zM78 19h1v1h-1zM80 19h1v1h-1zM83 19h1v1h-1zM85 19h1v1h-1zM89 19h1v1h-1zM105 19h1v1h-1zM112 19h1v1h-1zM6 20h1v1h-1zM13 20h1v1h-1zM26 20h1v1h-1zM29 20h1v1h-1zM30 20h1v1h-1zM37 20h1v1h-1zM51 20h1v1h-1zM56 20h1v1h-1zM60 20h1v1h-1zM74 20h1v1h-1zM76 20h1v1h-1zM78 20h1v1h-1zM80 20h1v1h-1zM84 20h1v1h-1zM85 20h1v1h-1zM86 20h1v1h-1zM87 20h1v1h-1zM97 20h1v1h-1zM108 20h1v1h-1zM109 20h1v1h-1zM113 20h1v1h-1zM12 21h1v1h-1zM13 21h1v1h-1zM20 21h1v1h-1zM29 21h1v1h-1zM44 21h1v1h-1zM45 21h1v1h-1zM60 21h1v1h-1zM69 21h1v1h-1zM79 21h1v1h-1zM106 21h1v1h-1zM108 21h1v1h-1zM2 22h1v1h-1zM7 22h1v1h-1zM17 22h1v1h-1zM28 22h1v1h-1zM36 22h1v1h-1zM37 22h1v1h-1zM38 22h1v1h-1zM43 22h1v1h-1zM47 22h1v1h-1zM50 22h1v1h-1zM58 22h1v1h-1zM59 22h1v1h-1zM68 22h1v1h-1zM74 22h1v1h-1zM79 22h1v1h-1zM83 22h1v1h-1zM91 22h1v1h-1zM92 22h1v1h-1zM97 22h1v1h-1zM102 22h1v1h-1zM111 22h1v1h-1zM5 23h1v1h-1zM6 23h1v1h-1zM9 23h1v1h-1zM17 23h1v1h-1zM23 23h1v1h-1zM27 23h1v1h-1zM28 23h1v1h-1zM49 23h1v1h-1zM64 23h1v1h-1zM65 23h1v1h-1zM70 23h1v1h-1zM71 23h1v1h-1zM78 23h1v1h-1zM85 23h1v1h-1zM103 23h1v1h-1zM12 24h1v1h-1zM21 24h1v1h-1zM23 24h1v1h-1zM29 24h1v1h-1zM43 24h1v1h-1zM56 24h1v1h-1zM65 24h1v1h-1zM68 24h1v1h-1zM75 24h1v1h-1zM80 24h1v1h-1zM85 24h1v1h-1zM107 24h1v1h-1zM11 25h1v1h-1zM18 25h1v1h-1zM23 25h1v1h-1zM35 25h1v1h-1zM38 25h1v1h-1zM39 25h1v1h-1zM50 25h1v1h-1zM56 25h1v1h-1zM58 25h1v1h-1zM84 25h1v1h-1zM86 25h1v1h-1zM95 25h1v1h-1zM101 25h1v1h-1zM105 25h1v1h-1zM11 26h1v1h-1zM16 26h1v1h-1zM21 26h1v1h-1zM41 26h1v1h-1zM42 26h1v1h-1zM59 26h1v1h-1zM77 26h1v1h-1zM15 27h1v1h-1zM21 27h1v1h-1zM35 27h1v1h-1zM57 27h1v1h-1zM60 27h1v1h-1zM67 27h1v1h-1zM71 27h1v1h-1zM83 27h1v1h-1zM7 28h1v1h-1zM23 28h1v1h-1zM31 28h1v1h-1zM33 28h1v1h-1zM36 28h1v1h-1zM67 28h1v1h-1zM72 28h1v1h-1zM73 28h1v1h-1zM78 28h1v1h-1zM86 28h1v1h-1zM99 28h1v1h-1zM4 29h1v1h-1zM10 29h1v1h-1zM42 29h1v1h-1zM48 29h1v1h-1zM51 29h1v1h-1zM70 29h1v1h-1zM80 29h1v1h-1zM84 29h1v1h-1zM85 29h1v1h-1zM104 29h1v1h-1zM4 30h1v1h-1zM7 30h1v1h-1zM8 30h1v1h-1zM10 30h1v1h-1zM28 30h1v1h-1zM29 30h1v1h-1zM31 30h1v1h-1zM37 30h1v1h-1zM38 30h1v1h-1zM41 30h1v1h-1zM43 30h1v1h-1zM51 30h1v1h-1zM64 30h1v1h-1zM78 30h1v1h-1zM84 30h1v1h-1zM88 30h1v1h-1zM90 30h1v1h-1zM91 30h1v1h-1zM94 30h1v1h-1zM96 30h1v1h-1zM97 30h1v1h-1zM98 30h1v1h-1zM1 31h1v1h-1zM2 31h1v1h-1zM3 31h1v1h-1zM8 31h1v1h-1zM28 31h1v1h-1zM33 31h1v1h-1zM41 31h1v1h-1zM42 31h1v1h-1zM47 31h1v1h-1zM60 31h1v1h-1zM72 31h1v1h-1zM74 31h1v1h-1zM78 31h1v1h-1zM79 31h1v1h-1zM82 31h1v1h-1zM84 31h1v1h-1zM85 31h1v1h-1zM94 31h1v1h-1zM97 31h1v1h-1zM99 31h1v1h-1zM2 32h1v1h-1zM10 32h1v1h-1zM12 32h1v1h-1zM27 32h1v1h-1zM40 32h1v1h-1zM48 32h1v1h-1zM49 32h1v1h-1zM51 32h1v1h-1zM56 32h1v1h-1zM69 32h1v1h-1zM72 32h1v1h-1zM74 32h1v1h-1zM78 32h1v1h-1zM0 33h1v1h-1zM1 33h1v1h-1zM2 33h1v1h-1zM9 33h1v1h-1zM12 33h1v1h-1zM23 33h1v1h-1zM25 33h1v1h-1zM28 33h1v1h-1zM30 33h1v1h-1zM33 33h1v1h-1zM36 33h1v1h-1zM56 33h1v1h-1zM58 33h1v1h-1zM59 33h1v1h-1zM61 33h1v1h-1zM63 33h1v1h-1zM75 33h1v1h-1zM78 33h1v1h-1zM3 34h1v1h-1zM9 34h1v1h-1zM12 34h1v1h-1zM15 34h1v1h-1zM28 34h1v1h-1zM42 34h1v1h-1zM48 34h1v1h-1zM49 34h1v1h-1zM50 34h1v1h-1zM51 34h1v1h-1zM55 34h1v1h-1zM57 34h1v1h-1zM65 34h1v1h-1zM66 34h1v1h-1zM69 34h1v1h-1zM74 34h1v1h-1zM75 34h1v1h-1zM86 34h1v1h-1zM4 35h1v1h-1zM6 35h1v1h-1zM7 35h1v1h-1zM10 35h1v1h-1zM11 35h1v1h-1zM12 35h1v1h-1zM14 35h1v1h-1zM15 35h1v1h-1zM16 35h1v1h-1zM17 35h1v1h-1zM22 35h1v1h-1zM28 35h1v1h-1zM29 35h1v1h-1zM34 35h1v1h-1zM39 35h1v1h-1zM43 35h1v1h-1zM44 35h1v1h-1zM49 35h1v1h-1zM53 35h1v1h-1zM58 35h1v1h-1zM65 35h1v1h-1zM66 35h1v1h-1zM67 35h1v1h-1zM72 35h1v1h-1zM80 35h1v1h-1zM86 35h1v1h-1zM12 36h1v1h-1zM20 36h1v1h-1zM23 36h1v1h-1zM57 36h1v1h-1zM63 36h1v1h-1zM65 36h1v1h-1zM74 36h1v1h-1zM76 36h1v1h-1zM81 36h1v1h-1zM85 36h1v1h-1zM91 36h1v1h-1zM97 36h1v1h-1zM1 37h1v1h-1zM5 37h1v1h-1zM8 37h1v1h-1zM11 37h1v1h-1zM16 37h1v1h-1zM20 37h1v1h-1zM23 37h1v1h-1zM30 37h1v1h-1zM35 37h1v1h-1zM41 37h1v1h-1zM51 37h1v1h-1zM54 37h1v1h-1zM65 37h1v1h-1zM73 37h1v1h-1zM77 37h1v1h-1zM2 38h1v1h-1zM5 38h1v1h-1zM22 38h1v1h-1zM26 38h1v1h-1zM42 38h1v1h-1zM46 38h1v1h-1zM60 38h1v1h-1zM61 38h1v1h-1zM70 38h1v1h-1zM83 38h1v1h-1zM91 38h1v1h-1zM3 39h1v1h-1zM4 39h1v1h-1zM13 39h1v1h-1zM19 39h1v1h-1zM22 39h1v1h-1zM34 39h1v1h-1zM42 39h1v1h-1zM57 39h1v1h-1zM66 39h1v1h-1zM74 39h1v1h-1zM75 39h1v1h-1zM79 39h1v1h-1zM80 39h1v1h-1zM84 39h1v1h-1zM87 39h1v1h-1zM10 40h1v1h-1zM15 40h1v1h-1zM16 40h1v1h-1zM17 40h1v1h-1zM22 40h1v1h-1zM23 40h1v1h-1zM26 40h1v1h-1zM56 40h1v1h-1zM58 40h1v1h-1zM59 40h1v1h-1zM63 40h1v1h-1zM68 40h1v1h-1zM79 40h1v1h-1zM81 40h1v1h-1zM83 40h1v1h-1zM85 40h1v1h-1zM86 40h1v1h-1zM17 41h1v1h-1zM18 41h1v1h-1zM29 41h1v1h-1zM30 41h1v1h-1zM42 41h1v1h-1zM43 41h1v1h-1zM44 41h1v1h-1zM45 41h1v1h-1zM60 41h1v1h-1zM66 41h1v1h-1zM69 41h1v1h-1zM80 41h1v1h-1zM82 41h1v1h-1zM84 41h1v1h-1zM85 41h1v1h-1zM3 42h1v1h-1zM6 42h1v1h-1zM7 42h1v1h-1zM9 42h1v1h-1zM13 42h1v1h-1zM17 42h1v1h-1zM22 42h1v1h-1zM36 42h1v1h-1zM48 42h1v1h-1zM51 42h1v1h-1zM58 42h1v1h-1zM64 42h1v1h-1zM82 42h1v1h-1zM84 42h1v1h-1zM3 43h1v1h-1zM9 43h1v1h-1zM13 43h1v1h-1zM20 43h1v1h-1zM37 43h1v1h-1zM43 43h1v1h-1zM61 43h1v1h-1zM70 43h1v1h-1zM71 43h1v1h-1zM77 43h1v1h-1zM7 44h1v1h-1zM9 44h1v1h-1zM10 44h1v1h-1zM12 44h1v1h-1zM19 44h1v1h-1zM26 44h1v1h-1zM29 44h1v1h-1zM37 44h1v1h-1zM38 44h1v1h-1zM46 44h1v1h-1zM47 44h1v1h-1zM55 44h1v1h-1zM68 44h1v1h-1zM74 44h1v1h-1zM83 44h1v1h-1zM84 44h1v1h-1zM7 45h1v1h-1zM10 45h1v1h-1zM12 45h1v1h-1zM14 45h1v1h-1zM18 45h1v1h-1zM19 45h1v1h-1zM56 45h1v1h-1zM58 45h1v1h-1zM61 45h1v1h-1zM73 45h1v1h-1zM84 45h1v1h-1zM86 45h1v1h-1zM12 46h1v1h-1zM18 46h1v1h-1zM19 46h1v1h-1zM20 46h1v1h-1zM28 46h1v1h-1zM37 46h1v1h-1zM38 46h1v1h-1zM59 46h1v1h-1zM79 46h1v1h-1zM12 47h1v1h-1zM17 47h1v1h-1zM19 47h1v1h-1zM20 47h1v1h-1zM41 47h1v1h-1zM42 47h1v1h-1zM47 47h1v1h-1zM49 47h1v1h-1zM59 47h1v1h-1zM62 47h1v1h-1zM64 47h1v1h-1zM65 47h1v1h-1zM71 47h1v1h-1zM4 48h1v1h-1zM12 48h1v1h-1zM16 48h1v1h-1zM28 48h1v1h-1zM34 48h1v1h-1zM51 48h1v1h-1zM63 48h1v1h-1zM71 48h1v1h-1zM77 48h1v1h-1zM82 48h1v1h-1zM6 49h1v1h-1zM13 49h1v1h-1zM65 49h1v1h-1zM73 49h1v1h-1zM75 49h1v1h-1zM3 50h1v1h-1zM11 50h1v1h-1zM29 50h1v1h-1zM51 50h1v1h-1zM55 50h1v1h-1zM60 50h1v1h-1zM67 50h1v1h-1zM75 50h1v1h-1zM7 51h1v1h-1zM19 51h1v1h-1zM27 51h1v1h-1zM29 51h1v1h-1zM36 51h1v1h-1zM48 51h1v1h-1zM58 51h1v1h-1zM68 51h1v1h-1zM69 51h1v1h-1zM77 51h1v1h-1zM79 51h1v1h-1zM13 52h1v1h-1zM34 52h1v1h-1zM37 52h1v1h-1zM42 52h1v1h-1zM53 52h1v1h-1zM61 52h1v1h-1zM71 52h1v1h-1zM73 52h1v1h-1zM78 52h1v1h-1zM9 53h1v1h-1zM11 53h1v1h-1zM16 53h1v1h-1zM18 53h1v1h-1zM20 53h1v1h-1zM29 53h1v1h-1zM30 53h1v1h-1zM42 53h1v1h-1zM44 53h1v1h-1zM53 53h1v1h-1zM65 53h1v1h-1zM73 53h1v1h-1zM75 53h1v1h-1zM7 54h1v1h-1zM10 54h1v1h-1zM25 54h1v1h-1zM29 54h1v1h-1zM50 54h1v1h-1zM60 54h1v1h-1zM67 54h1v1h-1zM73 54h1v1h-1zM74 54h1v1h-1zM13 55h1v1h-1zM21 55h1v1h-1zM22 55h1v1h-1zM25 55h1v1h-1zM38 55h1v1h-1zM47 55h1v1h-1zM57 55h1v1h-1zM65 55h1v1h-1zM66 55h1v1h-1zM67 55h1v1h-1zM71 55h1v1h-1zM72 55h1v1h-1zM15 56h1v1h-1zM17 56h1v1h-1zM20 56h1v1h-1zM55 56h1v1h-1zM61 56h1v1h-1zM63 56h1v1h-1zM67 56h1v1h-1zM75 56h1v1h-1zM17 57h1v1h-1zM43 57h1v1h-1zM51 57h1v1h-1zM55 57h1v1h-1zM65 57h1v1h-1zM70 57h1v1h-1zM10 58h1v1h-1zM42 58h1v1h-1zM46 58h1v1h-1zM48 58h1v1h-1zM55 58h1v1h-1zM61 58h1v1h-1zM64 58h1v1h-1zM73 58h1v1h-1zM75 58h1v1h-1zM2 59h1v1h-1zM4 59h1v1h-1zM11 59h1v1h-1zM22 59h1v1h-1zM23 59h1v1h-1zM38 59h1v1h-1zM40 59h1v1h-1zM50 59h1v1h-1zM53 59h1v1h-1zM59 59h1v1h-1zM64 59h1v1h-1zM66 59h1v1h-1zM68 59h1v1h-1zM71 59h1v1h-1zM18 60h1v1h-1zM38 60h1v1h-1zM42 60h1v1h-1zM65 60h1v1h-1zM5 61h1v1h-1zM8 61h1v1h-1zM9 61h1v1h-1zM13 61h1v1h-1zM20 61h1v1h-1zM31 61h1v1h-1zM42 61h1v1h-1zM50 61h1v1h-1zM57 61h1v1h-1zM59 61h1v1h-1zM63 61h1v1h-1zM65 61h1v1h-1zM70 61h1v1h-1zM6 62h1v1h-1zM11 62h1v1h-1zM18 62h1v1h-1zM37 62h1v1h-1zM42 62h1v1h-1zM49 62h1v1h-1zM63 62h1v1h-1zM64 62h1v1h-1zM4 63h1v1h-1zM5 63h1v1h-1zM19 63h1v1h-1zM21 63h1v1h-1zM27 63h1v1h-1zM29 63h1v1h-1zM53 63h1v1h-1zM63 63h1v1h-1zM6 64h1v1h-1zM7 64h1v1h-1zM13 64h1v1h-1zM14 64h1v1h-1zM17 64h1v1h-1zM19 64h1v1h-1zM22 64h1v1h-1zM45 64h1v1h-1zM48 64h1v1h-1zM50 64h1v1h-1zM55 64h1v1h-1zM68 64h1v1h-1zM5 65h1v1h-1zM6 65h1v1h-1zM7 65h1v1h-1zM10 65h1v1h-1zM17 65h1v1h-1zM31 65h1v1h-1zM50 65h1v1h-1zM60 65h1v1h-1zM64 65h1v1h-1zM7 66h1v1h-1zM27 66h1v1h-1zM33 66h1v1h-1zM39 66h1v1h-1zM67 66h1v1h-1zM19 67h1v1h-1zM30 67h1v1h-1zM47 67h1v1h-1zM48 67h1v1h-1zM54 67h1v1h-1zM65 67h1v1h-1zM6 68h1v1h-1zM10 68h1v1h-1zM11 68h1v1h-1zM30 68h1v1h-1zM35 68h1v1h-1zM36 68h1v1h-1zM43 68h1v1h-1zM51 68h1v1h-1zM1 69h1v1h-1zM6 69h1v1h-1zM12 69h1v1h-1zM15 69h1v1h-1zM16 69h1v1h-1zM47 69h1v1h-1zM56 69h1v1h-1zM60 69h1v1h-1zM6 70h1v1h-1zM14 70h1v1h-1zM17 70h1v1h-1zM31 70h1v1h-1zM33 70h1v1h-1zM35 70h1v1h-1zM39 70h1v1h-1zM49 70h1v1h-1zM50 70h1v1h-1zM5 71h1v1h-1zM23 71h1v1h-1zM26 71h1v1h-1zM48 71h1v1h-1zM52 71h1v1h-1zM8 72h1v1h-1zM14 72h1v1h-1zM40 72h1v1h-1zM61 72h1v1h-1zM4 73h1v1h-1zM5 73h1v1h-1zM9 73h1v1h-1zM11 73h1v1h-1zM15 73h1v1h-1zM18 73h1v1h-1zM20 73h1v1h-1zM23 73h1v1h-1zM25 73h1v1h-1zM36 73h1v1h-1zM39 73h1v1h-1zM42 73h1v1h-1zM48 73h1v1h-1zM52 73h1v1h-1zM55 73h1v1h-1zM1 74h1v1h-1zM12 74h1v1h-1zM13 74h1v1h-1zM17 74h1v1h-1zM21 74h1v1h-1zM27 74h1v1h-1zM43 74h1v1h-1zM50 74h1v1h-1zM54 74h1v1h-1zM17 75h1v1h-1zM23 75h1v1h-1zM32 75h1v1h-1zM50 75h1v1h-1zM3 76h1v1h-1zM12 76h1v1h-1zM16 76h1v1h-1zM17 76h1v1h-1zM21 76h1v1h-1zM23 76h1v1h-1zM25 76h1v1h-1zM28 76h1v1h-1zM33 76h1v1h-1zM36 76h1v1h-1zM56 76h1v1h-1zM13 77h1v1h-1zM14 77h1v1h-1zM15 77h1v1h-1zM17 77h1v1h-1zM27 77h1v1h-1zM44 77h1v1h-1zM46 77h1v1h-1zM55 77h1v1h-1zM13 78h1v1h-1zM18 78h1v1h-1zM24 78h1v1h-1zM26 78h1v1h-1zM36 78h1v1h-1zM47 78h1v1h-1zM52 78h1v1h-1zM16 79h1v1h-1zM19 79h1v1h-1zM25 79h1v1h-1zM53 79h1v1h-1zM8 80h1v1h-1zM13 80h1v1h-1zM15 80h1v1h-1zM17 80h1v1h-1zM19 80h1v1h-1zM27 80h1v1h-1zM36 80h1v1h-1zM47 80h1v1h-1zM7 81h1v1h-1zM21 81h1v1h-1zM30 81h1v1h-1zM38 81h1v1h-1zM40 81h1v1h-1zM43 81h1v1h-1zM49 81h1v1h-1zM51 81h1v1h-1zM1 82h1v1h-1zM10 82h1v1h-1zM18 82h1v1h-1zM23 82h1v1h-1zM33 82h1v1h-1zM36 82h1v1h-1zM37 82h1v1h-1zM40 82h1v1h-1zM3 83h1v1h-1zM12 83h1v1h-1zM2 84h1v1h-1zM11 84h1v1h-1zM12 84h1v1h-1zM13 84h1v1h-1zM18 84h1v1h-1zM29 84h1v1h-1zM31 84h1v1h-1zM5 85h1v1h-1zM9 85h1v1h-1zM10 85h1v1h-1zM11 85h1v1h-1zM12 85h1v1h-1zM18 85h1v1h-1zM25 85h1v1h-1zM29 85h1v1h-1zM45 85h1v1h-1zM0 86h1v1h-1zM9 86h1v1h-1zM11 86h1v1h-1zM20 86h1v1h-1zM31 86h1v1h-1zM43 86h1v1h-1zM44 86h1v1h-1zM47 86h1v1h-1zM10 87h1v1h-1zM22 87h1v1h-1zM25 87h1v1h-1zM0 88h1v1h-1zM3 88h1v1h-1zM4 88h1v1h-1zM5 88h1v1h-1zM8 88h1v1h-1zM15 88h1v1h-1zM20 88h1v1h-1zM28 88h1v1h-1zM31 88h1v1h-1zM38 88h1v1h-1zM39 88h1v1h-1zM43 88h1v1h-1zM11 89h1v1h-1zM16 89h1v1h-1zM25 89h1v1h-1zM36 89h1v1h-1zM5 90h1v1h-1zM11 90h1v1h-1zM12 90h1v1h-1zM22 90h1v1h-1zM40 90h1v1h-1zM9 91h1v1h-1zM13 91h1v1h-1zM21 91h1v1h-1zM25 91h1v1h-1zM31 91h1v1h-1zM6 92h1v1h-1zM11 92h1v1h-1zM18 92h1v1h-1zM23 92h1v1h-1zM25 92h1v1h-1zM37 92h1v1h-1zM3 93h1v1h-1zM12 93h1v1h-1zM21 93h1v1h-1zM25 93h1v1h-1zM36 93h1v1h-1zM3 94h1v1h-1zM22 94h1v1h-1zM25 94h1v1h-1zM5 95h1v1h-1zM6 95h1v1h-1zM12 95h1v1h-1zM29 95h1v1h-1zM3 96h1v1h-1zM15 96h1v1h-1zM22 96h1v1h-1zM26 96h1v1h-1zM6 97h1v1h-1zM22 97h1v1h-1zM25 97h1v1h-1zM36 97h1v1h-1zM14 98h1v1h-1zM18 98h1v1h-1zM29 98h1v1h-1zM30 98h1v1h-1zM5 99h1v1h-1zM8 99h1v1h-1zM14 99h1v1h-1zM21 99h1v1h-1zM23 99h1v1h-1zM27 99h1v1h-1zM29 99h1v1h-1zM3 100h1v1h-1zM22 100h1v1h-1zM25 100h1v1h-1zM6 101h1v1h-1zM11 101h1v1h-1zM12 101h1v1h-1zM15 101h1v1h-1zM29 101h1v1h-1zM6 102h1v1h-1zM11 102h1v1h-1zM14 102h1v1h-1zM15 102h1v1h-1zM17 102h1v1h-1zM13 103h1v1h-1zM12 104h1v1h-1zM13 105h1v1h-1zM22 105h1v1h-1zM27 105h1v1h-1zM28 105h1v1h-1zM6 106h1v1h-1zM2 107h1v1h-1zM16 107h1v1h-1zM14 108h1v1h-1zM15 108h1v1h-1zM21 108h1v1h-1zM9 109h1v1h-1zM17 109h1v1h-1zM2 110h1v1h-1zM3 110h1v1h-1zM8 110h1v1h-1zM9 110h1v1h-1zM15 110h1v1h-1zM18 110h1v1h-1zM9 111h1v1h-1zM15 111h1v1h-1zM3 112h1v1h-1zM6 112h1v1h-1zM17 112h1v1h-1zM18 112h1v1h-1zM21 112h1v1h-1zM9 113h1v1h-1zM10 113h1v1h-1zM12 113h1v1h-1zM14 113h1v1h-1zM12 114h1v1h-1zM13 114h1v1h-1zM16 114h1v1h-1zM18 114h1v1h-1zM2 115h1v1h-1zM18 115h1v1h-1zM13 116h1v1h-1zM16 116h1v1h-1zM17 116h1v1h-1zM9 117h1v1h-1zM15 118h1v1h-1zM6 119h1v1h-1zM5 120h1v1h-1zM7 120h1v1h-1zM11 120h1v1h-1zM3 121h1v1h-1zM7 121h1v1h-1zM12 121h1v1h-1zM3 122h1v1h-1zM5 122h1v1h-1zM4 123h1v1h-1zM6 123h1v1h-1zM9 123h1v1h-1zM3 124h1v1h-1zM5 124h1v1h-1zM5 125h1v1h-1zM6 125h1v1h-1zM7 126h1v1h-1zM2 127h1v1h-1zM4 127h1v1h-1zM1 129h1v1h-1zM1 131h1v1h-1z"/>
<path fill="#f8d6b9" d="M3 0h1v1h-1zM5 0h1v1h-1zM12 0h1v1h-1zM16 0h1v1h-1zM25 0h1v1h-1zM43 0h1v1h-1zM70 0h1v1h-1zM79 0h1v1h-1zM100 0h1v1h-1zM103 0h1v1h-1zM115 0h1v1h-1zM116 0h1v1h-1zM118 0h1v1h-1zM3 1h1v1h-1zM15 1h1v1h-1zM18 1h1v1h-1zM22 1h1v1h-1zM43 1h1v1h-1zM49 1h1v1h-1zM56 1h1v1h-1zM59 1h1v1h-1zM67 1h1v1h-1zM78 1h1v1h-1zM82 1h1v1h-1zM86 1h1v1h-1zM96 1h1v1h-1zM101 1h1v1h-1zM114 1h1v1h-1zM118 1h1v1h-1zM13 2h1v1h-1zM26 2h1v1h-1zM53 2h1v1h-1zM57 2h1v1h-1zM66 2h1v1h-1zM75 2h1v1h-1zM89 2h1v1h-1zM100 2h1v1h-1zM104 2h1v1h-1zM106 2h1v1h-1zM126 2h1v1h-1zM129 2h1v1h-1zM130 2h1v1h-1zM131 2h1v1h-1zM5 3h1v1h-1zM7 3h1v1h-1zM26 3h1v1h-1zM29 3h1v1h-1zM39 3h1v1h-1zM44 3h1v1h-1zM53 3h1v1h-1zM60 3h1v1h-1zM66 3h1v1h-1zM77 3h1v1h-1zM84 3h1v1h-1zM85 3h1v1h-1zM95 3h1v1h-1zM109 3h1v1h-1zM129 3h1v1h-1zM4 4h1v1h-1zM20 4h1v1h-1zM21 4h1v1h-1zM30 4h1v1h-1zM41 4h1v1h-1zM45 4h1v1h-1zM68 4h1v1h-1zM69 4h1v1h-1zM80 4h1v1h-1zM86 4h1v1h-1zM95 4h1v1h-1zM100 4h1v1h-1zM108 4h1v1h-1zM115 4h1v1h-1zM121 4h1v1h-1zM126 4h1v1h-1zM17 5h1v1h-1zM23 5h1v1h-1zM63 5h1v1h-1zM66 5h1v1h-1zM85 5h1v1h-1zM105 5h1v1h-1zM125 5h1v1h-1zM0 6h1v1h-1zM10 6h1v1h-1zM11 6h1v1h-1zM22 6h1v1h-1zM52 6h1v1h-1zM56 6h1v1h-1zM57 6h1v1h-1zM59 6h1v1h-1zM61 6h1v1h-1zM67 6h1v1h-1zM69 6h1v1h-1zM71 6h1v1h-1zM82 6h1v1h-1zM91 6h1v1h-1zM108 6h1v1h-1zM112 6h1v1h-1zM3 7h1v1h-1zM9 7h1v1h-1zM11 7h1v1h-1zM13 7h1v1h-1zM60 7h1v1h-1zM61 7h1v1h-1zM84 7h1v1h-1zM88 7h1v1h-1zM89 7h1v1h-1zM2 8h1v1h-1zM7 8h1v1h-1zM11 8h1v1h-1zM18 8h1v1h-1zM21 8h1v1h-1zM22 8h1v1h-1zM26 8h1v1h-1zM31 8h1v1h-1zM57 8h1v1h-1zM68 8h1v1h-1zM69 8h1v1h-1zM76 8h1v1h-1zM83 8h1v1h-1zM90 8h1v1h-1zM95 8h1v1h-1zM103 8h1v1h-1zM109 8h1v1h-1zM111 8h1v1h-1zM113 8h1v1h-1zM118 8h1v1h-1zM120 8h1v1h-1zM124 8h1v1h-1zM6 9h1v1h-1zM13 9h1v1h-1zM15 9h1v1h-1zM18 9h1v1h-1zM19 9h1v1h-1zM35 9h1v1h-1zM39 9h1v1h-1zM42 9h1v1h-1zM43 9h1v1h-1zM53 9h1v1h-1zM55 9h1v1h-1zM56 9h1v1h-1zM58 9h1v1h-1zM60 9h1v1h-1zM64 9h1v1h-1zM65 9h1v1h-1zM69 9h1v1h-1zM70 9h1v1h-1zM71 9h1v1h-1zM79 9h1v1h-1zM88 9h1v1h-1zM100 9h1v1h-1zM102 9h1v1h-1zM111 9h1v1h-1zM112 9h1v1h-1zM119 9h1v1h-1zM6 10h1v1h-1zM11 10h1v1h-1zM44 10h1v1h-1zM47 10h1v1h-1zM56 10h1v1h-1zM60 10h1v1h-1zM61 10h1v1h-1zM67 10h1v1h-1zM69 10h1v1h-1zM71 10h1v1h-1zM82 10h1v1h-1zM84 10h1v1h-1zM97 10h1v1h-1zM99 10h1v1h-1zM115 10h1v1h-1zM3 11h1v1h-1zM13 11h1v1h-1zM18 11h1v1h-1zM38 11h1v1h-1zM54 11h1v1h-1zM58 11h1v1h-1zM64 11h1v1h-1zM65 11h1v1h-1zM66 11h1v1h-1zM77 11h1v1h-1zM87 11h1v1h-1zM117 11h1v1h-1zM8 12h1v1h-1zM9 12h1v1h-1zM11 12h1v1h-1zM20 12h1v1h-1zM21 12h1v1h-1zM69 12h1v1h-1zM108 12h1v1h-1zM112 12h1v1h-1zM114 12h1v1h-1zM117 12h1v1h-1zM120 12h1v1h-1zM2 13h1v1h-1zM23 13h1v1h-1zM41 13h1v1h-1zM51 13h1v1h-1zM60 13h1v1h-1zM67 13h1v1h-1zM72 13h1v1h-1zM79 13h1v1h-1zM85 13h1v1h-1zM118 13h1v1h-1zM3 14h1v1h-1zM5 14h1v1h-1zM6 14h1v1h-1zM13 14h1v1h-1zM17 14h1v1h-1zM22 14h1v1h-1zM61 14h1v1h-1zM70 14h1v1h-1zM72 14h1v1h-1zM73 14h1v1h-1zM85 14h1v1h-1zM86 14h1v1h-1zM87 14h1v1h-1zM101 14h1v1h-1zM117 14h1v1h-1zM10 15h1v1h-1zM15 15h1v1h-1zM17 15h1v1h-1zM18 15h1v1h-1zM19 15h1v1h-1zM29 15h1v1h-1zM61 15h1v1h-1zM66 15h1v1h-1zM85 15h1v1h-1zM104 15h1v1h-1zM112 15h1v1h-1zM114 15h1v1h-1zM4 16h1v1h-1zM10 16h1v1h-1zM14 16h1v1h-1zM43 16h1v1h-1zM47 16h1v1h-1zM52 16h1v1h-1zM75 16h1v1h-1zM79 16h1v1h-1zM85 16h1v1h-1zM86 16h1v1h-1zM89 16h1v1h-1zM103 16h1v1h-1zM107 16h1v1h-1zM108 16h1v1h-1zM6 17h1v1h-1zM14 17h1v1h-1zM40 17h1v1h-1zM47 17h1v1h-1zM58 17h1v1h-1zM61 17h1v1h-1zM62 17h1v1h-1zM72 17h1v1h-1zM76 17h1v1h-1zM77 17h1v1h-1zM83 17h1v1h-1zM107 17h1v1h-1zM109 17h1v1h-1zM6 18h1v1h-1zM25 18h1v1h-1zM27 18h1v1h-1zM32 18h1v1h-1zM43 18h1v1h-1zM60 18h1v1h-1zM64 18h1v1h-1zM65 18h1v1h-1zM78 18h1v1h-1zM85 18h1v1h-1zM90 18h1v1h-1zM107 18h1v1h-1zM108 18h1v1h-1zM11 19h1v1h-1zM12 19h1v1h-1zM13 19h1v1h-1zM17 19h1v1h-1zM24 19h1v1h-1zM36 19h1v1h-1zM42 19h1v1h-1zM43 19h1v1h-1zM67 19h1v1h-1zM71 19h1v1h-1zM72 19h1v1h-1zM74 19h1v1h-1zM75 19h1v1h-1zM76 19h1v1h-1zM104 19h1v1h-1zM9 20h1v1h-1zM17 20h1v1h-1zM22 20h1v1h-1zM48 20h1v1h-1zM66 20h1v1h-1zM75 20h1v1h-1zM79 20h1v1h-1zM101 20h1v1h-1zM105 20h1v1h-1zM107 20h1v1h-1zM2 21h1v1h-1zM5 21h1v1h-1zM11 21h1v1h-1zM17 21h1v1h-1zM21 21h1v1h-1zM37 21h1v1h-1zM53 21h1v1h-1zM55 21h1v1h-1zM56 21h1v1h-1zM57 21h1v1h-1zM58 21h1v1h-1zM67 21h1v1h-1zM83 21h1v1h-1zM111 21h1v1h-1zM112 21h1v1h-1zM3 22h1v1h-1zM6 22h1v1h-1zM9 22h1v1h-1zM13 22h1v1h-1zM19 22h1v1h-1zM22 22h1v1h-1zM25 22h1v1h-1zM33 22h1v1h-1zM39 22h1v1h-1zM60 22h1v1h-1zM67 22h1v1h-1zM75 22h1v1h-1zM77 22h1v1h-1zM78 22h1v1h-1zM104 22h1v1h-1zM7 23h1v1h-1zM10 23h1v1h-1zM15 23h1v1h-1zM16 23h1v1h-1zM18 23h1v1h-1zM40 23h1v1h-1zM43 23h1v1h-1zM48 23h1v1h-1zM54 23h1v1h-1zM63 23h1v1h-1zM68 23h1v1h-1zM74 23h1v1h-1zM75 23h1v1h-1zM77 23h1v1h-1zM82 23h1v1h-1zM88 23h1v1h-1zM109 23h1v1h-1zM3 24h1v1h-1zM9 24h1v1h-1zM46 24h1v1h-1zM58 24h1v1h-1zM69 24h1v1h-1zM71 24h1v1h-1zM84 24h1v1h-1zM86 24h1v1h-1zM103 24h1v1h-1zM108 24h1v1h-1zM109 24h1v1h-1zM8 25h1v1h-1zM9 25h1v1h-1zM20 25h1v1h-1zM26 25h1v1h-1zM30 25h1v1h-1zM55 25h1v1h-1zM60 25h1v1h-1zM61 25h1v1h-1zM63 25h1v1h-1zM64 25h1v1h-1zM72 25h1v1h-1zM75 25h1v1h-1zM79 25h1v1h-1zM96 25h1v1h-1zM103 25h1v1h-1zM104 25h1v1h-1zM3 26h1v1h-1zM4 26h1v1h-1zM12 26h1v1h-1zM25 26h1v1h-1zM36 26h1v1h-1zM46 26h1v1h-1zM47 26h1v1h-1zM55 26h1v1h-1zM57 26h1v1h-1zM67 26h1v1h-1zM68 26h1v1h-1zM86 26h1v1h-1zM105 26h1v1h-1zM4 27h1v1h-1zM12 27h1v1h-1zM16 27h1v1h-1zM26 27h1v1h-1zM27 27h1v1h-1zM29 27h1v1h-1zM36 27h1v1h-1zM48 27h1v1h-1zM62 27h1v1h-1zM73 27h1v1h-1zM76 27h1v1h-1zM79 27h1v1h-1zM3 28h1v1h-1zM14 28h1v1h-1zM17 28h1v1h-1zM22 28h1v1h-1zM27 28h1v1h-1zM43 28h1v1h-1zM45 28h1v1h-1zM55 28h1v1h-1zM62 28h1v1h-1zM63 28h1v1h-1zM65 28h1v1h-1zM68 28h1v1h-1zM75 28h1v1h-1zM81 28h1v1h-1zM97 28h1v1h-1zM101 28h1v1h-1zM13 29h1v1h-1zM22 29h1v1h-1zM25 29h1v1h-1zM27 29h1v1h-1zM36 29h1v1h-1zM38 29h1v1h-1zM41 29h1v1h-1zM47 29h1v1h-1zM64 29h1v1h-1zM71 29h1v1h-1zM76 29h1v1h-1zM81 29h1v1h-1zM1 30h1v1h-1zM3 30h1v1h-1zM5 30h1v1h-1zM17 30h1v1h-1zM27 30h1v1h-1zM32 30h1v1h-1zM45 30h1v1h-1zM47 30h1v1h-1zM53 30h1v1h-1zM58 30h1v1h-1zM63 30h1v1h-1zM66 30h1v1h-1zM67 30h1v1h-1zM79 30h1v1h-1zM81 30h1v1h-1zM99 30h1v1h-1zM102 30h1v1h-1zM25 31h1v1h-1zM36 31h1v1h-1zM43 31h1v1h-1zM53 31h1v1h-1zM56 31h1v1h-1zM66 31h1v1h-1zM73 31h1v1h-1zM75 31h1v1h-1zM5 32h1v1h-1zM7 32h1v1h-1zM11 32h1v1h-1zM17 32h1v1h-1zM23 32h1v1h-1zM34 32h1v1h-1zM47 32h1v1h-1zM55 32h1v1h-1zM57 32h1v1h-1zM67 32h1v1h-1zM79 32h1v1h-1zM84 32h1v1h-1zM88 32h1v1h-1zM97 32h1v1h-1zM3 33h1v1h-1zM11 33h1v1h-1zM19 33h1v1h-1zM22 33h1v1h-1zM27 33h1v1h-1zM43 33h1v1h-1zM46 33h1v1h-1zM50 33h1v1h-1zM62 33h1v1h-1zM64 33h1v1h-1zM67 33h1v1h-1zM70 33h1v1h-1zM72 33h1v1h-1zM88 33h1v1h-1zM11 34h1v1h-1zM13 34h1v1h-1zM26 34h1v1h-1zM52 34h1v1h-1zM54 34h1v1h-1zM60 34h1v1h-1zM63 34h1v1h-1zM84 34h1v1h-1zM3 35h1v1h-1zM5 35h1v1h-1zM13 35h1v1h-1zM21 35h1v1h-1zM50 35h1v1h-1zM55 35h1v1h-1zM63 35h1v1h-1zM64 35h1v1h-1zM68 35h1v1h-1zM74 35h1v1h-1zM75 35h1v1h-1zM87 35h1v1h-1zM88 35h1v1h-1zM95 35h1v1h-1zM98 35h1v1h-1zM6 36h1v1h-1zM9 36h1v1h-1zM10 36h1v1h-1zM17 36h1v1h-1zM66 36h1v1h-1zM67 36h1v1h-1zM72 36h1v1h-1zM73 36h1v1h-1zM75 36h1v1h-1zM84 36h1v1h-1zM92 36h1v1h-1zM3 37h1v1h-1zM13 37h1v1h-1zM15 37h1v1h-1zM26 37h1v1h-1zM32 37h1v1h-1zM36 37h1v1h-1zM67 37h1v1h-1zM72 37h1v1h-1zM76 37h1v1h-1zM79 37h1v1h-1zM80 37h1v1h-1zM81 37h1v1h-1zM82 37h1v1h-1zM86 37h1v1h-1zM96 37h1v1h-1zM7 38h1v1h-1zM16 38h1v1h-1zM17 38h1v1h-1zM23 38h1v1h-1zM40 38h1v1h-1zM48 38h1v1h-1zM71 38h1v1h-1zM77 38h1v1h-1zM78 38h1v1h-1zM2 39h1v1h-1zM7 39h1v1h-1zM8 39h1v1h-1zM9 39h1v1h-1zM27 39h1v1h-1zM29 39h1v1h-1zM36 39h1v1h-1zM58 39h1v1h-1zM63 39h1v1h-1zM71 39h1v1h-1zM77 39h1v1h-1zM81 39h1v1h-1zM83 39h1v1h-1zM5 40h1v1h-1zM13 40h1v1h-1zM21 40h1v1h-1zM25 40h1v1h-1zM48 40h1v1h-1zM51 40h1v1h-1zM61 40h1v1h-1zM2 41h1v1h-1zM7 41h1v1h-1zM9 41h1v1h-1zM11 41h1v1h-1zM13 41h1v1h-1zM47 41h1v1h-1zM50 41h1v1h-1zM58 41h1v1h-1zM62 41h1v1h-1zM71 41h1v1h-1zM72 41h1v1h-1zM73 41h1v1h-1zM74 41h1v1h-1zM83 41h1v1h-1zM5 42h1v1h-1zM11 42h1v1h-1zM12 42h1v1h-1zM23 42h1v1h-1zM25 42h1v1h-1zM37 42h1v1h-1zM50 42h1v1h-1zM54 42h1v1h-1zM55 42h1v1h-1zM57 42h1v1h-1zM61 42h1v1h-1zM68 42h1v1h-1zM75 42h1v1h-1zM78 42h1v1h-1zM12 43h1v1h-1zM22 43h1v1h-1zM25 43h1v1h-1zM29 43h1v1h-1zM48 43h1v1h-1zM55 43h1v1h-1zM56 43h1v1h-1zM57 43h1v1h-1zM65 43h1v1h-1zM67 43h1v1h-1zM78 43h1v1h-1zM86 43h1v1h-1zM5 44h1v1h-1zM6 44h1v1h-1zM11 44h1v1h-1zM22 44h1v1h-1zM36 44h1v1h-1zM49 44h1v1h-1zM57 44h1v1h-1zM58 44h1v1h-1zM65 44h1v1h-1zM72 44h1v1h-1zM73 44h1v1h-1zM4 45h1v1h-1zM13 45h1v1h-1zM20 45h1v1h-1zM22 45h1v1h-1zM23 45h1v1h-1zM51 45h1v1h-1zM63 45h1v1h-1zM76 45h1v1h-1zM78 45h1v1h-1zM2 46h1v1h-1zM3 46h1v1h-1zM9 46h1v1h-1zM17 46h1v1h-1zM27 46h1v1h-1zM36 46h1v1h-1zM58 46h1v1h-1zM76 46h1v1h-1zM84 46h1v1h-1zM85 46h1v1h-1zM2 47h1v1h-1zM7 47h1v1h-1zM27 47h1v1h-1zM36 47h1v1h-1zM38 47h1v1h-1zM46 47h1v1h-1zM67 47h1v1h-1zM86 47h1v1h-1zM3 48h1v1h-1zM7 48h1v1h-1zM10 48h1v1h-1zM14 48h1v1h-1zM15 48h1v1h-1zM18 48h1v1h-1zM21 48h1v1h-1zM26 48h1v1h-1zM27 48h1v1h-1zM42 48h1v1h-1zM59 48h1v1h-1zM64 48h1v1h-1zM65 48h1v1h-1zM78 48h1v1h-1zM80 48h1v1h-1zM84 48h1v1h-1zM4 49h1v1h-1zM11 49h1v1h-1zM26 49h1v1h-1zM36 49h1v1h-1zM44 49h1v1h-1zM49 49h1v1h-1zM54 49h1v1h-1zM57 49h1v1h-1zM12 50h1v1h-1zM13 50h1v1h-1zM16 50h1v1h-1zM17 50h1v1h-1zM22 50h1v1h-1zM26 50h1v1h-1zM27 50h1v1h-1zM49 50h1v1h-1zM52 50h1v1h-1zM61 50h1v1h-1zM74 50h1v1h-1zM77 50h1v1h-1zM83 50h1v1h-1zM6 51h1v1h-1zM9 51h1v1h-1zM16 51h1v1h-1zM26 51h1v1h-1zM40 51h1v1h-1zM60 51h1v1h-1zM70 51h1v1h-1zM20 52h1v1h-1zM22 52h1v1h-1zM27 52h1v1h-1zM29 52h1v1h-1zM36 52h1v1h-1zM44 52h1v1h-1zM47 52h1v1h-1zM51 52h1v1h-1zM52 52h1v1h-1zM68 52h1v1h-1zM70 52h1v1h-1zM75 52h1v1h-1zM21 53h1v1h-1zM27 53h1v1h-1zM28 53h1v1h-1zM60 53h1v1h-1zM80 53h1v1h-1zM16 54h1v1h-1zM18 54h1v1h-1zM23 54h1v1h-1zM26 54h1v1h-1zM54 54h1v1h-1zM63 54h1v1h-1zM72 54h1v1h-1zM12 55h1v1h-1zM27 55h1v1h-1zM36 55h1v1h-1zM52 55h1v1h-1zM73 55h1v1h-1zM75 55h1v1h-1zM77 55h1v1h-1zM4 56h1v1h-1zM5 56h1v1h-1zM9 56h1v1h-1zM13 56h1v1h-1zM19 56h1v1h-1zM22 56h1v1h-1zM27 56h1v1h-1zM36 56h1v1h-1zM42 56h1v1h-1zM48 56h1v1h-1zM51 56h1v1h-1zM56 56h1v1h-1zM66 56h1v1h-1zM74 56h1v1h-1zM11 57h1v1h-1zM13 57h1v1h-1zM16 57h1v1h-1zM23 57h1v1h-1zM24 57h1v1h-1zM48 57h1v1h-1zM56 57h1v1h-1zM67 57h1v1h-1zM69 57h1v1h-1zM71 57h1v1h-1zM75 57h1v1h-1zM21 58h1v1h-1zM22 58h1v1h-1zM23 58h1v1h-1zM26 58h1v1h-1zM28 58h1v1h-1zM52 58h1v1h-1zM56 58h1v1h-1zM69 58h1v1h-1zM71 58h1v1h-1zM5 59h1v1h-1zM17 59h1v1h-1zM21 59h1v1h-1zM42 59h1v1h-1zM47 59h1v1h-1zM55 59h1v1h-1zM56 59h1v1h-1zM67 59h1v1h-1zM73 59h1v1h-1zM17 60h1v1h-1zM22 60h1v1h-1zM25 60h1v1h-1zM54 60h1v1h-1zM63 60h1v1h-1zM64 60h1v1h-1zM66 60h1v1h-1zM68 60h1v1h-1zM11 61h1v1h-1zM12 61h1v1h-1zM27 61h1v1h-1zM28 61h1v1h-1zM34 61h1v1h-1zM36 61h1v1h-1zM37 61h1v1h-1zM40 61h1v1h-1zM55 61h1v1h-1zM67 61h1v1h-1zM3 62h1v1h-1zM5 62h1v1h-1zM36 62h1v1h-1zM39 62h1v1h-1zM43 62h1v1h-1zM44 62h1v1h-1zM59 62h1v1h-1zM66 62h1v1h-1zM71 62h1v1h-1zM6 63h1v1h-1zM13 63h1v1h-1zM14 63h1v1h-1zM15 63h1v1h-1zM17 63h1v1h-1zM18 63h1v1h-1zM20 63h1v1h-1zM22 63h1v1h-1zM25 63h1v1h-1zM47 63h1v1h-1zM54 63h1v1h-1zM68 63h1v1h-1zM3 64h1v1h-1zM23 64h1v1h-1zM29 64h1v1h-1zM35 64h1v1h-1zM53 64h1v1h-1zM57 64h1v1h-1zM67 64h1v1h-1zM27 65h1v1h-1zM52 65h1v1h-1zM56 65h1v1h-1zM63 65h1v1h-1zM66 65h1v1h-1zM68 65h1v1h-1zM6 66h1v1h-1zM14 66h1v1h-1zM15 66h1v1h-1zM23 66h1v1h-1zM38 66h1v1h-1zM42 66h1v1h-1zM46 66h1v1h-1zM47 66h1v1h-1zM50 66h1v1h-1zM51 66h1v1h-1zM56 66h1v1h-1zM57 66h1v1h-1zM61 66h1v1h-1zM66 66h1v1h-1zM13 67h1v1h-1zM21 67h1v1h-1zM22 67h1v1h-1zM56 67h1v1h-1zM58 67h1v1h-1zM61 67h1v1h-1zM2 68h1v1h-1zM7 68h1v1h-1zM9 68h1v1h-1zM12 68h1v1h-1zM40 68h1v1h-1zM58 68h1v1h-1zM63 68h1v1h-1zM3 69h1v1h-1zM11 69h1v1h-1zM18 69h1v1h-1zM21 69h1v1h-1zM41 69h1v1h-1zM64 69h1v1h-1zM1 70h1v1h-1zM9 70h1v1h-1zM19 70h1v1h-1zM23 70h1v1h-1zM27 70h1v1h-1zM41 70h1v1h-1zM42 70h1v1h-1zM43 70h1v1h-1zM48 70h1v1h-1zM51 70h1v1h-1zM58 70h1v1h-1zM11 71h1v1h-1zM12 71h1v1h-1zM17 71h1v1h-1zM18 71h1v1h-1zM0 72h1v1h-1zM13 72h1v1h-1zM19 72h1v1h-1zM25 72h1v1h-1zM32 72h1v1h-1zM34 72h1v1h-1zM45 72h1v1h-1zM49 72h1v1h-1zM56 72h1v1h-1zM10 73h1v1h-1zM27 73h1v1h-1zM29 73h1v1h-1zM46 73h1v1h-1zM47 73h1v1h-1zM51 73h1v1h-1zM57 73h1v1h-1zM60 73h1v1h-1zM6 74h1v1h-1zM9 74h1v1h-1zM22 74h1v1h-1zM42 74h1v1h-1zM48 74h1v1h-1zM55 74h1v1h-1zM57 74h1v1h-1zM58 74h1v1h-1zM4 75h1v1h-1zM7 75h1v1h-1zM11 75h1v1h-1zM21 75h1v1h-1zM25 75h1v1h-1zM26 75h1v1h-1zM29 75h1v1h-1zM36 75h1v1h-1zM48 75h1v1h-1zM55 75h1v1h-1zM57 75h1v1h-1zM26 76h1v1h-1zM42 76h1v1h-1zM50 76h1v1h-1zM55 76h1v1h-1zM7 77h1v1h-1zM11 77h1v1h-1zM22 77h1v1h-1zM23 77h1v1h-1zM29 77h1v1h-1zM42 77h1v1h-1zM47 77h1v1h-1zM53 77h1v1h-1zM17 78h1v1h-1zM19 78h1v1h-1zM20 78h1v1h-1zM25 78h1v1h-1zM30 78h1v1h-1zM38 78h1v1h-1zM42 78h1v1h-1zM50 78h1v1h-1zM3 79h1v1h-1zM12 79h1v1h-1zM13 79h1v1h-1zM18 79h1v1h-1zM36 79h1v1h-1zM49 79h1v1h-1zM54 79h1v1h-1zM0 80h1v1h-1zM7 80h1v1h-1zM14 80h1v1h-1zM20 80h1v1h-1zM23 80h1v1h-1zM49 80h1v1h-1zM50 80h1v1h-1zM6 81h1v1h-1zM11 81h1v1h-1zM16 81h1v1h-1zM23 81h1v1h-1zM42 81h1v1h-1zM45 81h1v1h-1zM14 82h1v1h-1zM21 82h1v1h-1zM25 82h1v1h-1zM29 82h1v1h-1zM30 82h1v1h-1zM41 82h1v1h-1zM43 82h1v1h-1zM8 83h1v1h-1zM13 83h1v1h-1zM17 83h1v1h-1zM20 83h1v1h-1zM21 83h1v1h-1zM23 83h1v1h-1zM36 83h1v1h-1zM0 84h1v1h-1zM16 84h1v1h-1zM24 84h1v1h-1zM25 84h1v1h-1zM42 84h1v1h-1zM16 85h1v1h-1zM20 85h1v1h-1zM24 85h1v1h-1zM27 85h1v1h-1zM36 85h1v1h-1zM44 85h1v1h-1zM12 86h1v1h-1zM15 86h1v1h-1zM42 86h1v1h-1zM7 87h1v1h-1zM11 87h1v1h-1zM18 87h1v1h-1zM24 87h1v1h-1zM26 87h1v1h-1zM9 88h1v1h-1zM11 88h1v1h-1zM14 88h1v1h-1zM18 88h1v1h-1zM21 88h1v1h-1zM37 88h1v1h-1zM44 88h1v1h-1zM9 89h1v1h-1zM18 89h1v1h-1zM21 89h1v1h-1zM26 89h1v1h-1zM29 89h1v1h-1zM17 90h1v1h-1zM11 91h1v1h-1zM3 92h1v1h-1zM16 92h1v1h-1zM17 92h1v1h-1zM8 93h1v1h-1zM20 93h1v1h-1zM22 93h1v1h-1zM16 94h1v1h-1zM24 94h1v1h-1zM7 95h1v1h-1zM11 95h1v1h-1zM24 95h1v1h-1zM25 95h1v1h-1zM27 95h1v1h-1zM4 96h1v1h-1zM5 96h1v1h-1zM6 96h1v1h-1zM12 96h1v1h-1zM14 96h1v1h-1zM16 96h1v1h-1zM21 96h1v1h-1zM10 97h1v1h-1zM17 97h1v1h-1zM23 97h1v1h-1zM26 97h1v1h-1zM30 97h1v1h-1zM7 98h1v1h-1zM15 98h1v1h-1zM22 98h1v1h-1zM26 98h1v1h-1zM30 99h1v1h-1zM9 100h1v1h-1zM14 100h1v1h-1zM19 100h1v1h-1zM23 100h1v1h-1zM27 100h1v1h-1zM14 101h1v1h-1zM16 101h1v1h-1zM17 101h1v1h-1zM23 101h1v1h-1zM25 101h1v1h-1zM26 102h1v1h-1zM10 103h1v1h-1zM12 103h1v1h-1zM17 103h1v1h-1zM27 103h1v1h-1zM29 103h1v1h-1zM8 104h1v1h-1zM15 104h1v1h-1zM24 104h1v1h-1zM21 105h1v1h-1zM21 106h1v1h-1zM26 106h1v1h-1zM8 107h1v1h-1zM9 107h1v1h-1zM19 107h1v1h-1zM24 107h1v1h-1zM2 108h1v1h-1zM3 108h1v1h-1zM6 108h1v1h-1zM7 108h1v1h-1zM8 108h1v1h-1zM10 108h1v1h-1zM13 108h1v1h-1zM20 108h1v1h-1zM11 109h1v1h-1zM12 109h1v1h-1zM13 109h1v1h-1zM15 109h1v1h-1zM16 109h1v1h-1zM0 110h1v1h-1zM1 110h1v1h-1zM12 110h1v1h-1zM23 110h1v1h-1zM1 111h1v1h-1zM5 111h1v1h-1zM8 111h1v1h-1zM11 111h1v1h-1zM20 111h1v1h-1zM5 112h1v1h-1zM12 112h1v1h-1zM3 113h1v1h-1zM15 113h1v1h-1zM16 113h1v1h-1zM19 113h1v1h-1zM3 114h1v1h-1zM11 114h1v1h-1zM3 115h1v1h-1zM10 115h1v1h-1zM15 115h1v1h-1zM1 116h1v1h-1zM10 117h1v1h-1zM11 117h1v1h-1zM15 117h1v1h-1zM16 117h1v1h-1zM6 118h1v1h-1zM4 120h1v1h-1zM9 120h1v1h-1zM7 122h1v1h-1zM3 123h1v1h-1zM4 125h1v1h-1zM3 130h1v1h-1z"/>
<path fill="#f6cdae" d="M30 0h1v1h-1zM52 0h1v1h-1zM54 0h1v1h-1zM57 0h1v1h-1zM65 0h1v1h-1zM66 0h1v1h-1zM83 0h1v1h-1zM102 0h1v1h-1zM13 1h1v1h-1zM25 1h1v1h-1zM27 1h1v1h-1zM36 1h1v1h-1zM46 1h1v1h-1zM50 1h1v1h-1zM57 1h1v1h-1zM88 1h1v1h-1zM89 1h1v1h-1zM104 1h1v1h-1zM109 1h1v1h-1zM110 1h1v1h-1zM111 1h1v1h-1zM115 1h1v1h-1zM123 1h1v1h-1zM9 2h1v1h-1zM10 2h1v1h-1zM43 2h1v1h-1zM48 2h1v1h-1zM54 2h1v1h-1zM91 2h1v1h-1zM96 2h1v1h-1zM122 2h1v1h-1zM125 2h1v1h-1zM3 3h1v1h-1zM9 3h1v1h-1zM10 3h1v1h-1zM13 3h1v1h-1zM20 3h1v1h-1zM33 3h1v1h-1zM36 3h1v1h-1zM37 3h1v1h-1zM40 3h1v1h-1zM56 3h1v1h-1zM57 3h1v1h-1zM63 3h1v1h-1zM70 3h1v1h-1zM72 3h1v1h-1zM73 3h1v1h-1zM74 3h1v1h-1zM80 3h1v1h-1zM96 3h1v1h-1zM104 3h1v1h-1zM106 3h1v1h-1zM114 3h1v1h-1zM9 4h1v1h-1zM15 4h1v1h-1zM23 4h1v1h-1zM26 4h1v1h-1zM43 4h1v1h-1zM50 4h1v1h-1zM56 4h1v1h-1zM58 4h1v1h-1zM65 4h1v1h-1zM70 4h1v1h-1zM74 4h1v1h-1zM76 4h1v1h-1zM78 4h1v1h-1zM85 4h1v1h-1zM89 4h1v1h-1zM102 4h1v1h-1zM107 4h1v1h-1zM110 4h1v1h-1zM120 4h1v1h-1zM25 5h1v1h-1zM26 5h1v1h-1zM57 5h1v1h-1zM62 5h1v1h-1zM74 5h1v1h-1zM80 5h1v1h-1zM108 5h1v1h-1zM114 5h1v1h-1zM120 5h1v1h-1zM123 5h1v1h-1zM9 6h1v1h-1zM12 6h1v1h-1zM17 6h1v1h-1zM20 6h1v1h-1zM36 6h1v1h-1zM58 6h1v1h-1zM79 6h1v1h-1zM85 6h1v1h-1zM104 6h1v1h-1zM116 6h1v1h-1zM118 6h1v1h-1zM121 6h1v1h-1zM123 6h1v1h-1zM1 7h1v1h-1zM17 7h1v1h-1zM22 7h1v1h-1zM26 7h1v1h-1zM29 7h1v1h-1zM63 7h1v1h-1zM67 7h1v1h-1zM71 7h1v1h-1zM73 7h1v1h-1zM76 7h1v1h-1zM87 7h1v1h-1zM111 7h1v1h-1zM120 7h1v1h-1zM122 7h1v1h-1zM124 7h1v1h-1zM125 7h1v1h-1zM3 8h1v1h-1zM17 8h1v1h-1zM45 8h1v1h-1zM48 8h1v1h-1zM74 8h1v1h-1zM75 8h1v1h-1zM78 8h1v1h-1zM86 8h1v1h-1zM87 8h1v1h-1zM89 8h1v1h-1zM96 8h1v1h-1zM97 8h1v1h-1zM110 8h1v1h-1zM121 8h1v1h-1zM3 9h1v1h-1zM12 9h1v1h-1zM22 9h1v1h-1zM25 9h1v1h-1zM26 9h1v1h-1zM45 9h1v1h-1zM48 9h1v1h-1zM72 9h1v1h-1zM91 9h1v1h-1zM92 9h1v1h-1zM101 9h1v1h-1zM103 9h1v1h-1zM105 9h1v1h-1zM108 9h1v1h-1zM110 9h1v1h-1zM115 9h1v1h-1zM124 9h1v1h-1zM3 10h1v1h-1zM23 10h1v1h-1zM46 10h1v1h-1zM68 10h1v1h-1zM70 10h1v1h-1zM74 10h1v1h-1zM81 10h1v1h-1zM85 10h1v1h-1zM104 10h1v1h-1zM112 10h1v1h-1zM117 10h1v1h-1zM119 10h1v1h-1zM122 10h1v1h-1zM11 11h1v1h-1zM15 11h1v1h-1zM22 11h1v1h-1zM49 11h1v1h-1zM68 11h1v1h-1zM82 11h1v1h-1zM83 11h1v1h-1zM84 11h1v1h-1zM114 11h1v1h-1zM118 11h1v1h-1zM4 12h1v1h-1zM22 12h1v1h-1zM46 12h1v1h-1zM47 12h1v1h-1zM49 12h1v1h-1zM62 12h1v1h-1zM72 12h1v1h-1zM76 12h1v1h-1zM86 12h1v1h-1zM121 12h1v1h-1zM18 13h1v1h-1zM21 13h1v1h-1zM47 13h1v1h-1zM65 13h1v1h-1zM75 13h1v1h-1zM76 13h1v1h-1zM115 13h1v1h-1zM119 13h1v1h-1zM120 13h1v1h-1zM12 14h1v1h-1zM29 14h1v1h-1zM68 14h1v1h-1zM75 14h1v1h-1zM78 14h1v1h-1zM80 14h1v1h-1zM116 14h1v1h-1zM23 15h1v1h-1zM24 15h1v1h-1zM26 15h1v1h-1zM60 15h1v1h-1zM62 15h1v1h-1zM68 15h1v1h-1zM74 15h1v1h-1zM84 15h1v1h-1zM115 15h1v1h-1zM13 16h1v1h-1zM16 16h1v1h-1zM17 16h1v1h-1zM27 16h1v1h-1zM46 16h1v1h-1zM55 16h1v1h-1zM65 16h1v1h-1zM78 16h1v1h-1zM88 16h1v1h-1zM104 16h1v1h-1zM105 16h1v1h-1zM1 17h1v1h-1zM3 17h1v1h-1zM9 17h1v1h-1zM11 17h1v1h-1zM12 17h1v1h-1zM23 17h1v1h-1zM29 17h1v1h-1zM31 17h1v1h-1zM38 17h1v1h-1zM42 17h1v1h-1zM45 17h1v1h-1zM50 17h1v1h-1zM53 17h1v1h-1zM57 17h1v1h-1zM69 17h1v1h-1zM70 17h1v1h-1zM75 17h1v1h-1zM80 17h1v1h-1zM81 17h1v1h-1zM84 17h1v1h-1zM86 17h1v1h-1zM99 17h1v1h-1zM106 17h1v1h-1zM110 17h1v1h-1zM1 18h1v1h-1zM5 18h1v1h-1zM16 18h1v1h-1zM21 18h1v1h-1zM23 18h1v1h-1zM26 18h1v1h-1zM29 18h1v1h-1zM33 18h1v1h-1zM47 18h1v1h-1zM56 18h1v1h-1zM72 18h1v1h-1zM74 18h1v1h-1zM75 18h1v1h-1zM97 18h1v1h-1zM26 19h1v1h-1zM27 19h1v1h-1zM41 19h1v1h-1zM47 19h1v1h-1zM50 19h1v1h-1zM54 19h1v1h-1zM69 19h1v1h-1zM88 19h1v1h-1zM97 19h1v1h-1zM108 19h1v1h-1zM114 19h1v1h-1zM8 20h1v1h-1zM23 20h1v1h-1zM25 20h1v1h-1zM43 20h1v1h-1zM47 20h1v1h-1zM54 20h1v1h-1zM59 20h1v1h-1zM67 20h1v1h-1zM71 20h1v1h-1zM10 21h1v1h-1zM22 21h1v1h-1zM26 21h1v1h-1zM33 21h1v1h-1zM41 21h1v1h-1zM43 21h1v1h-1zM47 21h1v1h-1zM48 21h1v1h-1zM51 21h1v1h-1zM61 21h1v1h-1zM66 21h1v1h-1zM75 21h1v1h-1zM76 21h1v1h-1zM86 21h1v1h-1zM104 21h1v1h-1zM12 22h1v1h-1zM18 22h1v1h-1zM42 22h1v1h-1zM51 22h1v1h-1zM63 22h1v1h-1zM65 22h1v1h-1zM71 22h1v1h-1zM72 22h1v1h-1zM76 22h1v1h-1zM80 22h1v1h-1zM103 22h1v1h-1zM11 23h1v1h-1zM12 23h1v1h-1zM13 23h1v1h-1zM14 23h1v1h-1zM24 23h1v1h-1zM26 23h1v1h-1zM36 23h1v1h-1zM41 23h1v1h-1zM66 23h1v1h-1zM67 23h1v1h-1zM73 23h1v1h-1zM83 23h1v1h-1zM13 24h1v1h-1zM24 24h1v1h-1zM25 24h1v1h-1zM38 24h1v1h-1zM63 24h1v1h-1zM67 24h1v1h-1zM99 24h1v1h-1zM10 25h1v1h-1zM13 25h1v1h-1zM21 25h1v1h-1zM22 25h1v1h-1zM43 25h1v1h-1zM57 25h1v1h-1zM67 25h1v1h-1zM83 25h1v1h-1zM85 25h1v1h-1zM92 25h1v1h-1zM29 26h1v1h-1zM66 26h1v1h-1zM76 26h1v1h-1zM20 27h1v1h-1zM34 27h1v1h-1zM42 27h1v1h-1zM43 27h1v1h-1zM46 27h1v1h-1zM55 27h1v1h-1zM80 27h1v1h-1zM86 27h1v1h-1zM5 28h1v1h-1zM6 28h1v1h-1zM19 28h1v1h-1zM37 28h1v1h-1zM48 28h1v1h-1zM57 28h1v1h-1zM59 28h1v1h-1zM77 28h1v1h-1zM80 28h1v1h-1zM83 28h1v1h-1zM20 29h1v1h-1zM23 29h1v1h-1zM26 29h1v1h-1zM52 29h1v1h-1zM62 29h1v1h-1zM66 29h1v1h-1zM73 29h1v1h-1zM74 29h1v1h-1zM15 30h1v1h-1zM61 30h1v1h-1zM69 30h1v1h-1zM73 30h1v1h-1zM75 30h1v1h-1zM80 30h1v1h-1zM85 30h1v1h-1zM103 30h1v1h-1zM6 31h1v1h-1zM10 31h1v1h-1zM13 31h1v1h-1zM22 31h1v1h-1zM27 31h1v1h-1zM51 31h1v1h-1zM62 31h1v1h-1zM86 31h1v1h-1zM98 31h1v1h-1zM102 31h1v1h-1zM13 32h1v1h-1zM24 32h1v1h-1zM41 32h1v1h-1zM61 32h1v1h-1zM81 32h1v1h-1zM82 32h1v1h-1zM86 32h1v1h-1zM4 33h1v1h-1zM16 33h1v1h-1zM26 33h1v1h-1zM55 33h1v1h-1zM68 33h1v1h-1zM74 33h1v1h-1zM79 33h1v1h-1zM96 33h1v1h-1zM16 34h1v1h-1zM22 34h1v1h-1zM23 34h1v1h-1zM29 34h1v1h-1zM36 34h1v1h-1zM47 34h1v1h-1zM56 34h1v1h-1zM23 35h1v1h-1zM36 35h1v1h-1zM46 35h1v1h-1zM61 35h1v1h-1zM77 35h1v1h-1zM19 36h1v1h-1zM24 36h1v1h-1zM30 36h1v1h-1zM39 36h1v1h-1zM58 36h1v1h-1zM86 36h1v1h-1zM89 36h1v1h-1zM10 37h1v1h-1zM21 37h1v1h-1zM25 37h1v1h-1zM43 37h1v1h-1zM48 37h1v1h-1zM57 37h1v1h-1zM59 37h1v1h-1zM60 37h1v1h-1zM69 37h1v1h-1zM83 37h1v1h-1zM84 37h1v1h-1zM85 37h1v1h-1zM9 38h1v1h-1zM34 38h1v1h-1zM43 38h1v1h-1zM67 38h1v1h-1zM73 38h1v1h-1zM75 38h1v1h-1zM85 38h1v1h-1zM14 39h1v1h-1zM20 39h1v1h-1zM21 39h1v1h-1zM24 39h1v1h-1zM25 39h1v1h-1zM50 39h1v1h-1zM55 39h1v1h-1zM56 39h1v1h-1zM59 39h1v1h-1zM64 39h1v1h-1zM65 39h1v1h-1zM73 39h1v1h-1zM76 39h1v1h-1zM82 39h1v1h-1zM11 40h1v1h-1zM27 40h1v1h-1zM36 40h1v1h-1zM43 40h1v1h-1zM12 41h1v1h-1zM14 41h1v1h-1zM16 41h1v1h-1zM23 41h1v1h-1zM38 41h1v1h-1zM46 41h1v1h-1zM48 41h1v1h-1zM67 41h1v1h-1zM79 41h1v1h-1zM43 42h1v1h-1zM46 42h1v1h-1zM47 42h1v1h-1zM83 42h1v1h-1zM86 42h1v1h-1zM11 43h1v1h-1zM41 43h1v1h-1zM52 43h1v1h-1zM60 43h1v1h-1zM63 43h1v1h-1zM81 43h1v1h-1zM8 44h1v1h-1zM17 44h1v1h-1zM23 44h1v1h-1zM25 44h1v1h-1zM43 44h1v1h-1zM50 44h1v1h-1zM61 44h1v1h-1zM75 44h1v1h-1zM77 44h1v1h-1zM79 44h1v1h-1zM82 44h1v1h-1zM85 44h1v1h-1zM86 44h1v1h-1zM16 45h1v1h-1zM27 45h1v1h-1zM46 45h1v1h-1zM66 45h1v1h-1zM11 46h1v1h-1zM45 46h1v1h-1zM50 46h1v1h-1zM52 46h1v1h-1zM55 46h1v1h-1zM60 46h1v1h-1zM71 46h1v1h-1zM77 46h1v1h-1zM78 46h1v1h-1zM83 46h1v1h-1zM5 47h1v1h-1zM22 47h1v1h-1zM26 47h1v1h-1zM57 47h1v1h-1zM58 47h1v1h-1zM60 47h1v1h-1zM61 47h1v1h-1zM68 47h1v1h-1zM73 47h1v1h-1zM74 47h1v1h-1zM76 47h1v1h-1zM6 48h1v1h-1zM17 48h1v1h-1zM23 48h1v1h-1zM36 48h1v1h-1zM45 48h1v1h-1zM54 48h1v1h-1zM58 48h1v1h-1zM62 48h1v1h-1zM73 48h1v1h-1zM79 48h1v1h-1zM83 48h1v1h-1zM7 49h1v1h-1zM9 49h1v1h-1zM12 49h1v1h-1zM16 49h1v1h-1zM20 49h1v1h-1zM23 49h1v1h-1zM46 49h1v1h-1zM52 49h1v1h-1zM66 49h1v1h-1zM9 50h1v1h-1zM46 50h1v1h-1zM54 50h1v1h-1zM57 50h1v1h-1zM62 50h1v1h-1zM66 50h1v1h-1zM68 50h1v1h-1zM10 51h1v1h-1zM12 51h1v1h-1zM18 51h1v1h-1zM21 51h1v1h-1zM24 51h1v1h-1zM42 51h1v1h-1zM50 51h1v1h-1zM56 51h1v1h-1zM61 51h1v1h-1zM72 51h1v1h-1zM73 51h1v1h-1zM76 51h1v1h-1zM80 51h1v1h-1zM3 52h1v1h-1zM12 52h1v1h-1zM30 52h1v1h-1zM43 52h1v1h-1zM45 52h1v1h-1zM57 52h1v1h-1zM58 52h1v1h-1zM59 52h1v1h-1zM66 52h1v1h-1zM74 52h1v1h-1zM49 53h1v1h-1zM57 53h1v1h-1zM67 53h1v1h-1zM76 53h1v1h-1zM11 54h1v1h-1zM12 54h1v1h-1zM79 54h1v1h-1zM14 55h1v1h-1zM26 55h1v1h-1zM48 55h1v1h-1zM62 55h1v1h-1zM64 55h1v1h-1zM6 56h1v1h-1zM11 56h1v1h-1zM12 56h1v1h-1zM16 56h1v1h-1zM23 56h1v1h-1zM24 56h1v1h-1zM65 56h1v1h-1zM76 56h1v1h-1zM12 57h1v1h-1zM18 57h1v1h-1zM11 58h1v1h-1zM12 58h1v1h-1zM24 58h1v1h-1zM25 58h1v1h-1zM36 58h1v1h-1zM54 58h1v1h-1zM57 58h1v1h-1zM66 58h1v1h-1zM74 58h1v1h-1zM10 59h1v1h-1zM13 59h1v1h-1zM25 59h1v1h-1zM27 59h1v1h-1zM36 59h1v1h-1zM49 59h1v1h-1zM51 59h1v1h-1zM57 59h1v1h-1zM58 59h1v1h-1zM63 59h1v1h-1zM70 59h1v1h-1zM13 60h1v1h-1zM29 60h1v1h-1zM41 60h1v1h-1zM47 60h1v1h-1zM53 60h1v1h-1zM55 60h1v1h-1zM14 61h1v1h-1zM18 61h1v1h-1zM23 61h1v1h-1zM29 61h1v1h-1zM54 61h1v1h-1zM56 61h1v1h-1zM71 61h1v1h-1zM17 62h1v1h-1zM20 62h1v1h-1zM21 62h1v1h-1zM41 62h1v1h-1zM51 62h1v1h-1zM56 62h1v1h-1zM67 62h1v1h-1zM70 62h1v1h-1zM36 63h1v1h-1zM58 63h1v1h-1zM65 63h1v1h-1zM70 63h1v1h-1zM20 64h1v1h-1zM40 64h1v1h-1zM43 64h1v1h-1zM47 64h1v1h-1zM52 64h1v1h-1zM61 64h1v1h-1zM69 64h1v1h-1zM11 65h1v1h-1zM21 65h1v1h-1zM22 65h1v1h-1zM48 65h1v1h-1zM49 65h1v1h-1zM53 65h1v1h-1zM61 65h1v1h-1zM2 66h1v1h-1zM11 66h1v1h-1zM12 66h1v1h-1zM17 66h1v1h-1zM21 66h1v1h-1zM24 66h1v1h-1zM29 66h1v1h-1zM41 66h1v1h-1zM43 66h1v1h-1zM58 66h1v1h-1zM63 66h1v1h-1zM64 66h1v1h-1zM16 67h1v1h-1zM26 67h1v1h-1zM64 67h1v1h-1zM66 67h1v1h-1zM25 68h1v1h-1zM28 68h1v1h-1zM47 68h1v1h-1zM55 68h1v1h-1zM56 68h1v1h-1zM17 69h1v1h-1zM51 69h1v1h-1zM57 69h1v1h-1zM15 70h1v1h-1zM47 70h1v1h-1zM54 70h1v1h-1zM24 71h1v1h-1zM27 71h1v1h-1zM61 71h1v1h-1zM5 72h1v1h-1zM6 72h1v1h-1zM7 72h1v1h-1zM18 72h1v1h-1zM20 72h1v1h-1zM23 72h1v1h-1zM30 72h1v1h-1zM35 72h1v1h-1zM38 72h1v1h-1zM55 72h1v1h-1zM17 73h1v1h-1zM22 73h1v1h-1zM16 74h1v1h-1zM29 74h1v1h-1zM33 74h1v1h-1zM46 74h1v1h-1zM47 74h1v1h-1zM51 74h1v1h-1zM3 75h1v1h-1zM14 75h1v1h-1zM16 75h1v1h-1zM24 75h1v1h-1zM27 75h1v1h-1zM47 75h1v1h-1zM56 75h1v1h-1zM58 75h1v1h-1zM10 76h1v1h-1zM15 76h1v1h-1zM18 76h1v1h-1zM29 76h1v1h-1zM47 76h1v1h-1zM10 77h1v1h-1zM36 77h1v1h-1zM3 78h1v1h-1zM12 78h1v1h-1zM10 79h1v1h-1zM23 79h1v1h-1zM26 79h1v1h-1zM46 79h1v1h-1zM3 80h1v1h-1zM16 80h1v1h-1zM18 80h1v1h-1zM21 80h1v1h-1zM29 80h1v1h-1zM41 80h1v1h-1zM19 81h1v1h-1zM25 81h1v1h-1zM26 81h1v1h-1zM27 81h1v1h-1zM52 81h1v1h-1zM3 82h1v1h-1zM11 82h1v1h-1zM22 82h1v1h-1zM26 82h1v1h-1zM27 82h1v1h-1zM31 82h1v1h-1zM29 83h1v1h-1zM40 83h1v1h-1zM42 83h1v1h-1zM46 83h1v1h-1zM47 83h1v1h-1zM50 83h1v1h-1zM6 84h1v1h-1zM17 84h1v1h-1zM27 84h1v1h-1zM17 85h1v1h-1zM19 85h1v1h-1zM47 85h1v1h-1zM7 86h1v1h-1zM26 86h1v1h-1zM36 86h1v1h-1zM37 86h1v1h-1zM46 86h1v1h-1zM6 87h1v1h-1zM9 87h1v1h-1zM13 87h1v1h-1zM21 87h1v1h-1zM1 88h1v1h-1zM40 88h1v1h-1zM13 89h1v1h-1zM19 89h1v1h-1zM27 89h1v1h-1zM43 89h1v1h-1zM9 90h1v1h-1zM21 90h1v1h-1zM24 90h1v1h-1zM26 90h1v1h-1zM43 90h1v1h-1zM3 91h1v1h-1zM26 91h1v1h-1zM12 92h1v1h-1zM21 92h1v1h-1zM22 92h1v1h-1zM29 93h1v1h-1zM12 94h1v1h-1zM7 96h1v1h-1zM11 96h1v1h-1zM23 96h1v1h-1zM30 96h1v1h-1zM33 96h1v1h-1zM8 97h1v1h-1zM16 97h1v1h-1zM18 97h1v1h-1zM29 97h1v1h-1zM3 98h1v1h-1zM12 98h1v1h-1zM13 98h1v1h-1zM23 98h1v1h-1zM25 98h1v1h-1zM28 98h1v1h-1zM9 99h1v1h-1zM12 99h1v1h-1zM16 99h1v1h-1zM17 99h1v1h-1zM18 99h1v1h-1zM26 100h1v1h-1zM21 103h1v1h-1zM23 103h1v1h-1zM25 103h1v1h-1zM11 104h1v1h-1zM17 104h1v1h-1zM22 104h1v1h-1zM25 104h1v1h-1zM27 104h1v1h-1zM7 105h1v1h-1zM11 105h1v1h-1zM15 105h1v1h-1zM25 105h1v1h-1zM26 105h1v1h-1zM23 106h1v1h-1zM24 106h1v1h-1zM12 107h1v1h-1zM13 107h1v1h-1zM18 108h1v1h-1zM20 109h1v1h-1zM22 109h1v1h-1zM23 109h1v1h-1zM10 110h1v1h-1zM14 110h1v1h-1zM19 110h1v1h-1zM21 110h1v1h-1zM10 111h1v1h-1zM14 111h1v1h-1zM13 112h1v1h-1zM11 113h1v1h-1zM20 113h1v1h-1zM16 115h1v1h-1zM12 116h1v1h-1zM13 117h1v1h-1zM14 118h1v1h-1zM12 119h1v1h-1zM12 120h1v1h-1zM11 121h1v1h-1zM5 123h1v1h-1zM5 126h1v1h-1z"/>
<path fill="#f5c3a2" d="M46 0h1v1h-1zM48 0h1v1h-1zM62 0h1v1h-1zM86 0h1v1h-1zM114 0h1v1h-1zM117 0h1v1h-1zM123 0h1v1h-1zM10 1h1v1h-1zM16 1h1v1h-1zM65 1h1v1h-1zM73 1h1v1h-1zM124 1h1v1h-1zM125 1h1v1h-1zM126 1h1v1h-1zM127 1h1v1h-1zM128 1h1v1h-1zM132 1h1v1h-1zM52 2h1v1h-1zM62 2h1v1h-1zM70 2h1v1h-1zM11 3h1v1h-1zM12 3h1v1h-1zM25 3h1v1h-1zM47 3h1v1h-1zM48 3h1v1h-1zM50 3h1v1h-1zM52 3h1v1h-1zM58 3h1v1h-1zM59 3h1v1h-1zM68 3h1v1h-1zM75 3h1v1h-1zM79 3h1v1h-1zM83 3h1v1h-1zM97 3h1v1h-1zM102 3h1v1h-1zM115 3h1v1h-1zM124 3h1v1h-1zM127 3h1v1h-1zM3 4h1v1h-1zM8 4h1v1h-1zM12 4h1v1h-1zM13 4h1v1h-1zM16 4h1v1h-1zM18 4h1v1h-1zM22 4h1v1h-1zM25 4h1v1h-1zM39 4h1v1h-1zM42 4h1v1h-1zM53 4h1v1h-1zM66 4h1v1h-1zM79 4h1v1h-1zM114 4h1v1h-1zM128 4h1v1h-1zM129 4h1v1h-1zM24 5h1v1h-1zM46 5h1v1h-1zM68 5h1v1h-1zM3 6h1v1h-1zM25 6h1v1h-1zM42 6h1v1h-1zM48 6h1v1h-1zM97 6h1v1h-1zM117 6h1v1h-1zM120 6h1v1h-1zM125 6h1v1h-1zM12 7h1v1h-1zM23 7h1v1h-1zM27 7h1v1h-1zM46 7h1v1h-1zM54 7h1v1h-1zM65 7h1v1h-1zM70 7h1v1h-1zM79 7h1v1h-1zM85 7h1v1h-1zM13 8h1v1h-1zM29 8h1v1h-1zM51 8h1v1h-1zM58 8h1v1h-1zM61 8h1v1h-1zM71 8h1v1h-1zM72 8h1v1h-1zM77 8h1v1h-1zM101 8h1v1h-1zM104 8h1v1h-1zM105 8h1v1h-1zM116 8h1v1h-1zM125 8h1v1h-1zM23 9h1v1h-1zM29 9h1v1h-1zM46 9h1v1h-1zM52 9h1v1h-1zM67 9h1v1h-1zM73 9h1v1h-1zM74 9h1v1h-1zM78 9h1v1h-1zM86 9h1v1h-1zM107 9h1v1h-1zM116 9h1v1h-1zM118 9h1v1h-1zM122 9h1v1h-1zM12 10h1v1h-1zM13 10h1v1h-1zM21 10h1v1h-1zM22 10h1v1h-1zM24 10h1v1h-1zM25 10h1v1h-1zM43 10h1v1h-1zM48 10h1v1h-1zM55 10h1v1h-1zM65 10h1v1h-1zM76 10h1v1h-1zM77 10h1v1h-1zM80 10h1v1h-1zM105 10h1v1h-1zM107 10h1v1h-1zM121 10h1v1h-1zM26 11h1v1h-1zM42 11h1v1h-1zM48 11h1v1h-1zM57 11h1v1h-1zM73 11h1v1h-1zM110 11h1v1h-1zM112 11h1v1h-1zM119 11h1v1h-1zM54 12h1v1h-1zM64 12h1v1h-1zM74 12h1v1h-1zM102 12h1v1h-1zM104 12h1v1h-1zM16 13h1v1h-1zM26 13h1v1h-1zM46 13h1v1h-1zM52 13h1v1h-1zM54 13h1v1h-1zM11 14h1v1h-1zM27 14h1v1h-1zM56 14h1v1h-1zM65 14h1v1h-1zM76 14h1v1h-1zM6 15h1v1h-1zM36 15h1v1h-1zM65 15h1v1h-1zM67 15h1v1h-1zM83 15h1v1h-1zM12 16h1v1h-1zM36 16h1v1h-1zM77 16h1v1h-1zM102 16h1v1h-1zM114 16h1v1h-1zM8 17h1v1h-1zM18 17h1v1h-1zM25 17h1v1h-1zM26 17h1v1h-1zM30 17h1v1h-1zM56 17h1v1h-1zM59 17h1v1h-1zM63 17h1v1h-1zM71 17h1v1h-1zM97 17h1v1h-1zM102 17h1v1h-1zM105 17h1v1h-1zM111 17h1v1h-1zM11 18h1v1h-1zM13 18h1v1h-1zM18 18h1v1h-1zM24 18h1v1h-1zM51 18h1v1h-1zM52 18h1v1h-1zM63 18h1v1h-1zM66 18h1v1h-1zM68 18h1v1h-1zM77 18h1v1h-1zM82 18h1v1h-1zM96 18h1v1h-1zM104 18h1v1h-1zM9 19h1v1h-1zM46 19h1v1h-1zM52 19h1v1h-1zM57 19h1v1h-1zM61 19h1v1h-1zM62 19h1v1h-1zM7 20h1v1h-1zM21 20h1v1h-1zM24 20h1v1h-1zM33 20h1v1h-1zM58 20h1v1h-1zM62 20h1v1h-1zM63 20h1v1h-1zM65 20h1v1h-1zM103 20h1v1h-1zM1 21h1v1h-1zM18 21h1v1h-1zM23 21h1v1h-1zM25 21h1v1h-1zM52 21h1v1h-1zM62 21h1v1h-1zM72 21h1v1h-1zM85 21h1v1h-1zM10 22h1v1h-1zM16 22h1v1h-1zM48 22h1v1h-1zM70 22h1v1h-1zM84 22h1v1h-1zM25 23h1v1h-1zM51 23h1v1h-1zM72 23h1v1h-1zM76 23h1v1h-1zM80 23h1v1h-1zM84 23h1v1h-1zM102 23h1v1h-1zM104 23h1v1h-1zM16 24h1v1h-1zM26 24h1v1h-1zM54 24h1v1h-1zM102 24h1v1h-1zM16 25h1v1h-1zM25 25h1v1h-1zM27 25h1v1h-1zM54 25h1v1h-1zM24 26h1v1h-1zM54 26h1v1h-1zM3 27h1v1h-1zM11 27h1v1h-1zM54 27h1v1h-1zM65 27h1v1h-1zM12 28h1v1h-1zM13 28h1v1h-1zM21 28h1v1h-1zM24 28h1v1h-1zM25 28h1v1h-1zM26 28h1v1h-1zM50 28h1v1h-1zM52 28h1v1h-1zM79 28h1v1h-1zM105 28h1v1h-1zM3 29h1v1h-1zM29 29h1v1h-1zM55 29h1v1h-1zM86 29h1v1h-1zM6 30h1v1h-1zM16 30h1v1h-1zM18 30h1v1h-1zM20 30h1v1h-1zM21 30h1v1h-1zM22 30h1v1h-1zM30 30h1v1h-1zM42 30h1v1h-1zM56 30h1v1h-1zM57 30h1v1h-1zM60 30h1v1h-1zM65 30h1v1h-1zM71 30h1v1h-1zM76 30h1v1h-1zM11 31h1v1h-1zM21 31h1v1h-1zM23 31h1v1h-1zM26 31h1v1h-1zM54 31h1v1h-1zM67 31h1v1h-1zM68 31h1v1h-1zM71 31h1v1h-1zM8 32h1v1h-1zM25 32h1v1h-1zM52 32h1v1h-1zM62 32h1v1h-1zM63 32h1v1h-1zM17 33h1v1h-1zM29 33h1v1h-1zM42 33h1v1h-1zM52 33h1v1h-1zM54 33h1v1h-1zM65 33h1v1h-1zM71 33h1v1h-1zM76 33h1v1h-1zM85 33h1v1h-1zM17 34h1v1h-1zM43 34h1v1h-1zM73 34h1v1h-1zM48 35h1v1h-1zM57 35h1v1h-1zM60 35h1v1h-1zM69 35h1v1h-1zM73 35h1v1h-1zM11 36h1v1h-1zM13 36h1v1h-1zM25 36h1v1h-1zM27 36h1v1h-1zM62 36h1v1h-1zM68 36h1v1h-1zM78 36h1v1h-1zM22 37h1v1h-1zM47 37h1v1h-1zM62 37h1v1h-1zM66 37h1v1h-1zM76 38h1v1h-1zM17 39h1v1h-1zM26 39h1v1h-1zM43 39h1v1h-1zM52 39h1v1h-1zM69 39h1v1h-1zM86 39h1v1h-1zM46 40h1v1h-1zM54 40h1v1h-1zM62 40h1v1h-1zM67 40h1v1h-1zM73 40h1v1h-1zM80 40h1v1h-1zM6 41h1v1h-1zM64 41h1v1h-1zM21 42h1v1h-1zM29 42h1v1h-1zM62 42h1v1h-1zM63 42h1v1h-1zM73 42h1v1h-1zM74 42h1v1h-1zM46 43h1v1h-1zM58 43h1v1h-1zM62 43h1v1h-1zM16 44h1v1h-1zM52 44h1v1h-1zM67 44h1v1h-1zM11 45h1v1h-1zM25 45h1v1h-1zM48 45h1v1h-1zM16 46h1v1h-1zM22 46h1v1h-1zM23 46h1v1h-1zM31 46h1v1h-1zM41 46h1v1h-1zM43 46h1v1h-1zM46 46h1v1h-1zM56 46h1v1h-1zM61 46h1v1h-1zM63 46h1v1h-1zM68 46h1v1h-1zM72 46h1v1h-1zM8 47h1v1h-1zM13 47h1v1h-1zM21 47h1v1h-1zM25 47h1v1h-1zM54 47h1v1h-1zM66 47h1v1h-1zM70 47h1v1h-1zM75 47h1v1h-1zM82 47h1v1h-1zM11 48h1v1h-1zM13 48h1v1h-1zM25 48h1v1h-1zM43 48h1v1h-1zM48 48h1v1h-1zM52 48h1v1h-1zM21 49h1v1h-1zM24 49h1v1h-1zM25 49h1v1h-1zM47 49h1v1h-1zM55 49h1v1h-1zM60 49h1v1h-1zM80 49h1v1h-1zM63 50h1v1h-1zM65 50h1v1h-1zM22 51h1v1h-1zM46 51h1v1h-1zM57 51h1v1h-1zM62 51h1v1h-1zM11 52h1v1h-1zM23 52h1v1h-1zM25 52h1v1h-1zM46 52h1v1h-1zM48 52h1v1h-1zM54 52h1v1h-1zM55 52h1v1h-1zM60 52h1v1h-1zM63 52h1v1h-1zM10 53h1v1h-1zM12 53h1v1h-1zM24 53h1v1h-1zM25 53h1v1h-1zM52 53h1v1h-1zM55 53h1v1h-1zM58 53h1v1h-1zM21 54h1v1h-1zM24 54h1v1h-1zM29 55h1v1h-1zM61 55h1v1h-1zM7 56h1v1h-1zM29 56h1v1h-1zM46 56h1v1h-1zM60 56h1v1h-1zM71 56h1v1h-1zM22 57h1v1h-1zM26 57h1v1h-1zM29 57h1v1h-1zM54 57h1v1h-1zM58 57h1v1h-1zM43 59h1v1h-1zM46 59h1v1h-1zM54 59h1v1h-1zM61 59h1v1h-1zM12 60h1v1h-1zM14 60h1v1h-1zM23 60h1v1h-1zM24 60h1v1h-1zM26 60h1v1h-1zM48 60h1v1h-1zM57 60h1v1h-1zM58 60h1v1h-1zM67 60h1v1h-1zM19 61h1v1h-1zM21 61h1v1h-1zM25 61h1v1h-1zM61 61h1v1h-1zM62 61h1v1h-1zM69 61h1v1h-1zM4 62h1v1h-1zM10 62h1v1h-1zM29 62h1v1h-1zM46 62h1v1h-1zM50 62h1v1h-1zM55 62h1v1h-1zM58 62h1v1h-1zM61 62h1v1h-1zM65 62h1v1h-1zM23 63h1v1h-1zM11 64h1v1h-1zM36 64h1v1h-1zM62 64h1v1h-1zM26 65h1v1h-1zM29 65h1v1h-1zM18 66h1v1h-1zM22 66h1v1h-1zM25 66h1v1h-1zM30 66h1v1h-1zM44 66h1v1h-1zM59 66h1v1h-1zM60 66h1v1h-1zM25 67h1v1h-1zM46 67h1v1h-1zM52 67h1v1h-1zM13 68h1v1h-1zM15 68h1v1h-1zM16 68h1v1h-1zM23 68h1v1h-1zM52 68h1v1h-1zM57 68h1v1h-1zM61 68h1v1h-1zM65 68h1v1h-1zM13 69h1v1h-1zM20 69h1v1h-1zM46 69h1v1h-1zM50 69h1v1h-1zM55 69h1v1h-1zM12 70h1v1h-1zM16 70h1v1h-1zM24 70h1v1h-1zM36 71h1v1h-1zM54 71h1v1h-1zM62 71h1v1h-1zM15 72h1v1h-1zM16 72h1v1h-1zM22 72h1v1h-1zM28 72h1v1h-1zM33 72h1v1h-1zM37 72h1v1h-1zM41 72h1v1h-1zM47 72h1v1h-1zM52 72h1v1h-1zM57 72h1v1h-1zM16 73h1v1h-1zM21 73h1v1h-1zM26 73h1v1h-1zM7 74h1v1h-1zM24 74h1v1h-1zM12 75h1v1h-1zM18 75h1v1h-1zM52 76h1v1h-1zM26 77h1v1h-1zM11 78h1v1h-1zM29 78h1v1h-1zM43 78h1v1h-1zM54 78h1v1h-1zM48 79h1v1h-1zM10 80h1v1h-1zM25 80h1v1h-1zM48 80h1v1h-1zM52 80h1v1h-1zM29 81h1v1h-1zM15 82h1v1h-1zM16 82h1v1h-1zM24 82h1v1h-1zM25 83h1v1h-1zM26 84h1v1h-1zM43 84h1v1h-1zM14 85h1v1h-1zM26 85h1v1h-1zM41 85h1v1h-1zM19 86h1v1h-1zM24 86h1v1h-1zM25 86h1v1h-1zM15 87h1v1h-1zM6 88h1v1h-1zM7 88h1v1h-1zM17 88h1v1h-1zM19 88h1v1h-1zM22 88h1v1h-1zM26 88h1v1h-1zM30 88h1v1h-1zM35 88h1v1h-1zM41 88h1v1h-1zM42 88h1v1h-1zM24 89h1v1h-1zM10 90h1v1h-1zM17 91h1v1h-1zM13 95h1v1h-1zM26 95h1v1h-1zM12 97h1v1h-1zM13 97h1v1h-1zM20 97h1v1h-1zM21 98h1v1h-1zM24 98h1v1h-1zM13 99h1v1h-1zM11 100h1v1h-1zM16 100h1v1h-1zM17 100h1v1h-1zM26 101h1v1h-1zM12 102h1v1h-1zM23 102h1v1h-1zM24 102h1v1h-1zM16 104h1v1h-1zM3 107h1v1h-1zM11 107h1v1h-1zM25 107h1v1h-1zM26 107h1v1h-1zM12 108h1v1h-1zM17 108h1v1h-1zM23 108h1v1h-1zM3 109h1v1h-1zM5 110h1v1h-1zM22 110h1v1h-1zM0 111h1v1h-1zM12 111h1v1h-1zM16 111h1v1h-1zM13 113h1v1h-1zM17 113h1v1h-1zM13 118h1v1h-1zM11 119h1v1h-1zM11 122h1v1h-1z"/>
<path fill="#f4b897" d="M11 0h1v1h-1zM24 0h1v1h-1zM59 0h1v1h-1zM109 0h1v1h-1zM120 0h1v1h-1zM128 0h1v1h-1zM129 0h1v1h-1zM6 1h1v1h-1zM26 1h1v1h-1zM48 1h1v1h-1zM52 1h1v1h-1zM54 1h1v1h-1zM55 1h1v1h-1zM64 1h1v1h-1zM107 1h1v1h-1zM117 1h1v1h-1zM121 1h1v1h-1zM130 1h1v1h-1zM76 2h1v1h-1zM120 2h1v1h-1zM123 2h1v1h-1zM128 2h1v1h-1zM46 3h1v1h-1zM61 3h1v1h-1zM64 3h1v1h-1zM65 3h1v1h-1zM76 3h1v1h-1zM86 3h1v1h-1zM89 3h1v1h-1zM117 3h1v1h-1zM118 3h1v1h-1zM125 3h1v1h-1zM17 4h1v1h-1zM29 4h1v1h-1zM36 4h1v1h-1zM57 4h1v1h-1zM62 4h1v1h-1zM75 4h1v1h-1zM98 4h1v1h-1zM109 4h1v1h-1zM112 4h1v1h-1zM117 4h1v1h-1zM122 4h1v1h-1zM124 4h1v1h-1zM21 6h1v1h-1zM29 6h1v1h-1zM46 6h1v1h-1zM55 6h1v1h-1zM83 6h1v1h-1zM119 6h1v1h-1zM124 6h1v1h-1zM24 7h1v1h-1zM43 7h1v1h-1zM102 7h1v1h-1zM116 7h1v1h-1zM121 7h1v1h-1zM123 7h1v1h-1zM24 8h1v1h-1zM25 8h1v1h-1zM54 8h1v1h-1zM112 8h1v1h-1zM119 8h1v1h-1zM122 8h1v1h-1zM123 8h1v1h-1zM4 9h1v1h-1zM9 9h1v1h-1zM16 9h1v1h-1zM17 9h1v1h-1zM36 9h1v1h-1zM75 9h1v1h-1zM117 9h1v1h-1zM123 9h1v1h-1zM29 10h1v1h-1zM50 10h1v1h-1zM51 10h1v1h-1zM88 10h1v1h-1zM123 10h1v1h-1zM12 11h1v1h-1zM62 11h1v1h-1zM86 11h1v1h-1zM111 11h1v1h-1zM121 11h1v1h-1zM26 12h1v1h-1zM59 12h1v1h-1zM68 12h1v1h-1zM52 14h1v1h-1zM54 14h1v1h-1zM46 15h1v1h-1zM48 15h1v1h-1zM56 15h1v1h-1zM11 16h1v1h-1zM48 16h1v1h-1zM62 16h1v1h-1zM67 16h1v1h-1zM4 17h1v1h-1zM7 17h1v1h-1zM36 17h1v1h-1zM44 17h1v1h-1zM55 17h1v1h-1zM60 17h1v1h-1zM67 17h1v1h-1zM73 17h1v1h-1zM103 17h1v1h-1zM112 17h1v1h-1zM114 17h1v1h-1zM7 18h1v1h-1zM48 18h1v1h-1zM62 18h1v1h-1zM67 18h1v1h-1zM73 18h1v1h-1zM76 18h1v1h-1zM86 18h1v1h-1zM102 18h1v1h-1zM16 19h1v1h-1zM25 19h1v1h-1zM46 20h1v1h-1zM46 21h1v1h-1zM54 21h1v1h-1zM65 21h1v1h-1zM73 21h1v1h-1zM102 21h1v1h-1zM109 21h1v1h-1zM24 22h1v1h-1zM26 22h1v1h-1zM29 22h1v1h-1zM46 22h1v1h-1zM52 22h1v1h-1zM62 22h1v1h-1zM73 22h1v1h-1zM85 22h1v1h-1zM0 23h1v1h-1zM46 23h1v1h-1zM52 23h1v1h-1zM61 23h1v1h-1zM62 23h1v1h-1zM52 24h1v1h-1zM62 24h1v1h-1zM76 24h1v1h-1zM42 25h1v1h-1zM48 25h1v1h-1zM52 25h1v1h-1zM76 25h1v1h-1zM13 26h1v1h-1zM73 26h1v1h-1zM75 26h1v1h-1zM24 27h1v1h-1zM52 27h1v1h-1zM42 28h1v1h-1zM54 28h1v1h-1zM11 30h1v1h-1zM25 30h1v1h-1zM48 30h1v1h-1zM55 30h1v1h-1zM72 30h1v1h-1zM74 30h1v1h-1zM77 30h1v1h-1zM82 30h1v1h-1zM86 30h1v1h-1zM46 31h1v1h-1zM52 31h1v1h-1zM57 31h1v1h-1zM76 31h1v1h-1zM65 32h1v1h-1zM66 32h1v1h-1zM85 32h1v1h-1zM6 33h1v1h-1zM7 33h1v1h-1zM84 33h1v1h-1zM46 34h1v1h-1zM52 35h1v1h-1zM54 35h1v1h-1zM52 36h1v1h-1zM12 37h1v1h-1zM29 37h1v1h-1zM49 37h1v1h-1zM63 37h1v1h-1zM74 37h1v1h-1zM75 37h1v1h-1zM13 38h1v1h-1zM54 38h1v1h-1zM63 38h1v1h-1zM46 39h1v1h-1zM62 39h1v1h-1zM68 39h1v1h-1zM85 39h1v1h-1zM24 40h1v1h-1zM57 40h1v1h-1zM77 40h1v1h-1zM26 41h1v1h-1zM57 41h1v1h-1zM16 42h1v1h-1zM24 42h1v1h-1zM52 42h1v1h-1zM56 42h1v1h-1zM26 43h1v1h-1zM54 43h1v1h-1zM3 44h1v1h-1zM13 44h1v1h-1zM24 44h1v1h-1zM42 44h1v1h-1zM24 45h1v1h-1zM54 45h1v1h-1zM62 45h1v1h-1zM25 46h1v1h-1zM26 46h1v1h-1zM48 46h1v1h-1zM57 46h1v1h-1zM62 46h1v1h-1zM65 46h1v1h-1zM75 46h1v1h-1zM80 46h1v1h-1zM23 47h1v1h-1zM63 47h1v1h-1zM79 47h1v1h-1zM46 48h1v1h-1zM61 48h1v1h-1zM75 48h1v1h-1zM85 48h1v1h-1zM3 49h1v1h-1zM48 49h1v1h-1zM62 49h1v1h-1zM23 51h1v1h-1zM47 51h1v1h-1zM63 51h1v1h-1zM16 52h1v1h-1zM24 52h1v1h-1zM26 52h1v1h-1zM62 52h1v1h-1zM65 52h1v1h-1zM48 53h1v1h-1zM54 53h1v1h-1zM63 53h1v1h-1zM68 53h1v1h-1zM46 55h1v1h-1zM21 56h1v1h-1zM26 56h1v1h-1zM62 57h1v1h-1zM29 58h1v1h-1zM16 59h1v1h-1zM24 59h1v1h-1zM29 59h1v1h-1zM52 59h1v1h-1zM62 59h1v1h-1zM46 60h1v1h-1zM52 60h1v1h-1zM61 60h1v1h-1zM16 61h1v1h-1zM24 61h1v1h-1zM26 61h1v1h-1zM12 62h1v1h-1zM13 62h1v1h-1zM26 62h1v1h-1zM62 62h1v1h-1zM16 63h1v1h-1zM46 63h1v1h-1zM50 63h1v1h-1zM52 63h1v1h-1zM55 63h1v1h-1zM59 63h1v1h-1zM34 64h1v1h-1zM24 65h1v1h-1zM46 65h1v1h-1zM54 65h1v1h-1zM62 65h1v1h-1zM55 66h1v1h-1zM62 66h1v1h-1zM65 66h1v1h-1zM1 68h1v1h-1zM17 68h1v1h-1zM21 68h1v1h-1zM22 68h1v1h-1zM29 68h1v1h-1zM48 68h1v1h-1zM62 68h1v1h-1zM29 69h1v1h-1zM63 69h1v1h-1zM25 70h1v1h-1zM46 70h1v1h-1zM52 70h1v1h-1zM61 70h1v1h-1zM25 71h1v1h-1zM30 71h1v1h-1zM10 72h1v1h-1zM26 72h1v1h-1zM43 72h1v1h-1zM46 72h1v1h-1zM53 72h1v1h-1zM58 72h1v1h-1zM12 73h1v1h-1zM53 73h1v1h-1zM22 75h1v1h-1zM46 75h1v1h-1zM16 77h1v1h-1zM30 77h1v1h-1zM52 77h1v1h-1zM56 77h1v1h-1zM22 78h1v1h-1zM46 78h1v1h-1zM24 79h1v1h-1zM12 80h1v1h-1zM42 80h1v1h-1zM43 80h1v1h-1zM12 81h1v1h-1zM13 81h1v1h-1zM46 81h1v1h-1zM47 81h1v1h-1zM46 82h1v1h-1zM9 83h1v1h-1zM46 84h1v1h-1zM48 84h1v1h-1zM13 85h1v1h-1zM21 85h1v1h-1zM23 85h1v1h-1zM29 86h1v1h-1zM29 88h1v1h-1zM36 88h1v1h-1zM23 89h1v1h-1zM42 89h1v1h-1zM23 90h1v1h-1zM24 91h1v1h-1zM27 92h1v1h-1zM17 95h1v1h-1zM3 97h1v1h-1zM21 97h1v1h-1zM24 97h1v1h-1zM29 100h1v1h-1zM24 105h1v1h-1zM25 108h1v1h-1zM4 110h1v1h-1zM6 110h1v1h-1zM17 110h1v1h-1zM13 111h1v1h-1zM17 111h1v1h-1zM18 111h1v1h-1zM11 118h1v1h-1z"/>
<path fill="#f2ad8b" d="M24 1h1v1h-1zM47 1h1v1h-1zM16 2h1v1h-1zM46 2h1v1h-1zM65 2h1v1h-1zM67 2h1v1h-1zM73 2h1v1h-1zM4 3h1v1h-1zM16 3h1v1h-1zM18 3h1v1h-1zM43 3h1v1h-1zM62 3h1v1h-1zM126 3h1v1h-1zM130 3h1v1h-1zM48 4h1v1h-1zM54 4h1v1h-1zM63 4h1v1h-1zM71 4h1v1h-1zM77 4h1v1h-1zM99 4h1v1h-1zM118 4h1v1h-1zM119 4h1v1h-1zM24 6h1v1h-1zM127 6h1v1h-1zM52 7h1v1h-1zM23 8h1v1h-1zM52 8h1v1h-1zM65 8h1v1h-1zM115 8h1v1h-1zM11 9h1v1h-1zM27 9h1v1h-1zM61 9h1v1h-1zM62 9h1v1h-1zM80 9h1v1h-1zM96 9h1v1h-1zM57 10h1v1h-1zM106 10h1v1h-1zM116 10h1v1h-1zM118 10h1v1h-1zM43 11h1v1h-1zM52 11h1v1h-1zM52 12h1v1h-1zM118 12h1v1h-1zM46 14h1v1h-1zM50 14h1v1h-1zM52 15h1v1h-1zM3 16h1v1h-1zM21 16h1v1h-1zM26 16h1v1h-1zM54 16h1v1h-1zM17 17h1v1h-1zM68 17h1v1h-1zM74 17h1v1h-1zM85 17h1v1h-1zM104 17h1v1h-1zM115 17h1v1h-1zM46 18h1v1h-1zM58 18h1v1h-1zM61 20h1v1h-1zM16 21h1v1h-1zM42 21h1v1h-1zM23 22h1v1h-1zM57 22h1v1h-1zM61 22h1v1h-1zM48 24h1v1h-1zM46 25h1v1h-1zM52 26h1v1h-1zM25 27h1v1h-1zM30 28h1v1h-1zM85 28h1v1h-1zM104 28h1v1h-1zM16 29h1v1h-1zM23 30h1v1h-1zM24 30h1v1h-1zM59 30h1v1h-1zM68 30h1v1h-1zM70 30h1v1h-1zM46 32h1v1h-1zM80 33h1v1h-1zM24 34h1v1h-1zM62 35h1v1h-1zM29 36h1v1h-1zM46 37h1v1h-1zM55 37h1v1h-1zM58 37h1v1h-1zM24 38h1v1h-1zM52 38h1v1h-1zM62 38h1v1h-1zM54 39h1v1h-1zM52 41h1v1h-1zM54 41h1v1h-1zM68 41h1v1h-1zM27 42h1v1h-1zM74 43h1v1h-1zM54 44h1v1h-1zM52 45h1v1h-1zM44 46h1v1h-1zM47 46h1v1h-1zM54 46h1v1h-1zM66 46h1v1h-1zM73 46h1v1h-1zM86 46h1v1h-1zM16 47h1v1h-1zM29 47h1v1h-1zM52 47h1v1h-1zM5 50h1v1h-1zM24 50h1v1h-1zM25 51h1v1h-1zM64 52h1v1h-1zM46 53h1v1h-1zM18 55h1v1h-1zM54 55h1v1h-1zM38 57h1v1h-1zM46 57h1v1h-1zM62 60h1v1h-1zM46 61h1v1h-1zM68 61h1v1h-1zM16 62h1v1h-1zM23 62h1v1h-1zM48 62h1v1h-1zM60 62h1v1h-1zM24 63h1v1h-1zM43 63h1v1h-1zM57 63h1v1h-1zM16 66h1v1h-1zM26 66h1v1h-1zM48 66h1v1h-1zM52 66h1v1h-1zM54 66h1v1h-1zM24 68h1v1h-1zM46 68h1v1h-1zM54 68h1v1h-1zM36 69h1v1h-1zM21 70h1v1h-1zM62 70h1v1h-1zM16 71h1v1h-1zM22 71h1v1h-1zM9 72h1v1h-1zM11 72h1v1h-1zM54 72h1v1h-1zM52 75h1v1h-1zM24 76h1v1h-1zM46 76h1v1h-1zM48 76h1v1h-1zM54 76h1v1h-1zM48 77h1v1h-1zM54 77h1v1h-1zM16 78h1v1h-1zM26 80h1v1h-1zM46 80h1v1h-1zM24 81h1v1h-1zM12 82h1v1h-1zM26 83h1v1h-1zM46 87h1v1h-1zM12 88h1v1h-1zM22 95h1v1h-1zM24 96h1v1h-1zM25 96h1v1h-1zM24 99h1v1h-1zM22 101h1v1h-1zM26 103h1v1h-1zM26 104h1v1h-1zM11 108h1v1h-1zM24 108h1v1h-1zM13 110h1v1h-1zM16 112h1v1h-1zM13 115h1v1h-1z"/>
<path fill="#f1a281" d="M61 1h1v1h-1zM122 1h1v1h-1zM116 2h1v1h-1zM24 3h1v1h-1zM54 3h1v1h-1zM120 3h1v1h-1zM121 3h1v1h-1zM11 4h1v1h-1zM24 4h1v1h-1zM46 4h1v1h-1zM55 4h1v1h-1zM72 4h1v1h-1zM73 4h1v1h-1zM104 4h1v1h-1zM127 4h1v1h-1zM52 5h1v1h-1zM119 7h1v1h-1zM46 8h1v1h-1zM7 9h1v1h-1zM54 9h1v1h-1zM66 9h1v1h-1zM68 9h1v1h-1zM120 9h1v1h-1zM52 10h1v1h-1zM62 10h1v1h-1zM24 11h1v1h-1zM116 11h1v1h-1zM116 12h1v1h-1zM62 13h1v1h-1zM54 15h1v1h-1zM116 15h1v1h-1zM10 17h1v1h-1zM13 17h1v1h-1zM16 17h1v1h-1zM46 17h1v1h-1zM48 17h1v1h-1zM54 17h1v1h-1zM116 17h1v1h-1zM3 18h1v1h-1zM54 18h1v1h-1zM111 18h1v1h-1zM114 18h1v1h-1zM115 18h1v1h-1zM68 19h1v1h-1zM24 25h1v1h-1zM62 25h1v1h-1zM46 28h1v1h-1zM12 29h1v1h-1zM9 30h1v1h-1zM52 30h1v1h-1zM83 30h1v1h-1zM48 31h1v1h-1zM24 33h1v1h-1zM25 34h1v1h-1zM62 34h1v1h-1zM24 35h1v1h-1zM17 37h1v1h-1zM26 42h1v1h-1zM24 43h1v1h-1zM62 44h1v1h-1zM29 46h1v1h-1zM24 47h1v1h-1zM77 47h1v1h-1zM52 51h1v1h-1zM54 51h1v1h-1zM62 53h1v1h-1zM54 56h1v1h-1zM62 56h1v1h-1zM62 58h1v1h-1zM52 61h1v1h-1zM54 62h1v1h-1zM48 63h1v1h-1zM62 63h1v1h-1zM26 64h1v1h-1zM46 64h1v1h-1zM24 67h1v1h-1zM26 68h1v1h-1zM52 69h1v1h-1zM54 69h1v1h-1zM62 69h1v1h-1zM24 72h1v1h-1zM29 72h1v1h-1zM36 72h1v1h-1zM60 72h1v1h-1zM52 74h1v1h-1zM54 75h1v1h-1zM48 78h1v1h-1zM48 82h1v1h-1zM16 88h1v1h-1zM25 88h1v1h-1zM13 96h1v1h-1zM16 98h1v1h-1zM25 99h1v1h-1zM24 100h1v1h-1zM24 101h1v1h-1zM16 106h1v1h-1zM24 109h1v1h-1z"/>
<path fill="#f09777" d="M116 3h1v1h-1zM61 4h1v1h-1zM116 4h1v1h-1zM123 4h1v1h-1zM62 7h1v1h-1zM54 10h1v1h-1zM120 10h1v1h-1zM46 11h1v1h-1zM24 12h1v1h-1zM24 13h1v1h-1zM62 14h1v1h-1zM52 17h1v1h-1zM24 21h1v1h-1zM54 22h1v1h-1zM29 25h1v1h-1zM24 29h1v1h-1zM13 30h1v1h-1zM24 31h1v1h-1zM54 32h1v1h-1zM54 36h1v1h-1zM24 46h1v1h-1zM52 54h1v1h-1zM67 63h1v1h-1zM17 72h1v1h-1zM48 72h1v1h-1zM24 73h1v1h-1zM24 77h1v1h-1zM52 79h1v1h-1zM24 80h1v1h-1zM24 83h1v1h-1zM13 88h1v1h-1zM23 88h1v1h-1zM24 92h1v1h-1zM24 103h1v1h-1zM23 107h1v1h-1zM11 110h1v1h-1zM16 110h1v1h-1z"/>
<path fill="#ef8d6d" d="M116 1h1v1h-1zM62 6h1v1h-1zM24 9h1v1h-1zM120 11h1v1h-1zM24 14h1v1h-1zM24 16h1v1h-1zM24 17h1v1h-1zM54 30h1v1h-1zM24 41h1v1h-1zM24 62h1v1h-1zM24 64h1v1h-1zM24 69h1v1h-1zM46 71h1v1h-1zM12 72h1v1h-1zM21 72h1v1h-1z"/>
<path fill="#ee8564" d="M52 4h1v1h-1zM77 15h1v1h-1zM62 30h1v1h-1zM24 48h1v1h-1zM52 62h1v1h-1z"/>
<path fill="#ee7d5b" d="M62 26h1v1h-1zM54 29h1v1h-1zM46 30h1v1h-1zM24 88h1v1h-1z"/>
<path fill="#f06646" d="M113 9h1v1h-1z"/>
<path fill="#fe1e09" d="M40 21h1v1h-1zM113 7h1v1h-1z"/>
<path d="M1 0V134M2 0V133M3 0V132M4 0V131M5 0V130M6 0V129M7 0V128M8 0V127M9 0V126M10 0V125M11 0V124M12 0V123M13 0V122M14 0V121M15 0V120M16 0V119M17 0V118M18 0V117M19 0V116M20 0V115M21 0V114M22 0V113M23 0V112M24 0V111M25 0V110M26 0V109M27 0V108M28 0V107M29 0V106M30 0V105M31 0V104M32 0V103M33 0V102M34 0V101M35 0V100M36 0V99M37 0V98M38 0V97M39 0V96M40 0V95M41 0V94M42 0V93M43 0V92M44 0V91M45 0V90M46 0V89M47 0V88M48 0V87M49 0V86M50 0V85M51 0V84M52 0V83M53 0V82M54 0V81M55 0V80M56 0V79M57 0V78M58 0V77M59 0V76M60 0V75M61 0V74M62 0V73M63 0V72M64 0V71M65 0V70M66 0V69M67 0V68M68 0V67M69 0V66M70 0V65M71 0V64M72 0V63M73 0V62M74 0V61M75 0V60M76 0V59M77 0V58M78 0V57M79 0V56M80 0V55M81 0V54M82 0V53M83 0V52M84 0V51M85 0V50M86 0V49M87 0V48M88 0V47M89 0V46M90 0V45M91 0V44M92 0V43M93 0V42M94 0V41M95 0V40M96 0V39M97 0V38M98 0V37M99 0V36M100 0V35M101 0V34M102 0V33M103 0V32M104 0V31M105 0V30M106 0V29M107 0V28M108 0V27M109 0V26M110 0V25M111 0V24M112 0V23M113 0V22M114 0V21M115 0V20M116 0V19M117 0V18M118 0V17M119 0V16M120 0V15M121 0V14M122 0V13M123 0V12M124 0V11M125 0V10M126 0V9M127 0V8M128 0V7M129 0V6M130 0V5M131 0V4M132 0V3M133 0V2M0 1H134M0 2H133M0 3H132M0 4H131M0 5H130M0 6H129M0 7H128M0 8H127M0 9H126M0 10H125M0 11H124M0 12H123M0 13H122M0 14H121M0 15H120M0 16H119M0 17H118M0 18H117M0 19H116M0 20H115M0 21H114M0 22H113M0 23H112M0 24H111M0 25H110M0 26H109M0 27H108M0 28H107M0 29H106M0 30H105M0 31H104M0 32H103M0 33H102M0 34H101M0 35H100M0 36H99M0 37H98M0 38H97M0 39H96M0 40H95M0 41H94M0 42H93M0 43H92M0 44H91M0 45H90M0 46H89M0 47H88M0 48H87M0 49H86M0 50H85M0 51H84M0 52H83M0 53H82M0 54H81M0 55H80M0 56H79M0 57H78M0 58H77M0 59H76M0 60H75M0 61H74M0 62H73M0 63H72M0 64H71M0 65H70M0 66H69M0 67H68M0 68H67M0 69H66M0 70H65M0 71H64M0 72H63M0 73H62M0 74H61M0 75H60M0 76H59M0 77H58M0 78H57M0 79H56M0 80H55M0 81H54M0 82H53M0 83H52M0 84H51M0 85H50M0 86H49M0 87H48M0 88H47M0 89H46M0 90H45M0 91H44M0 92H43M0 93H42M0 94H41M0 95H40M0 96H39M0 97H38M0 98H37M0 99H36M0 100H35M0 101H34M0 102H33M0 103H32M0 104H31M0 105H30M0 106H29M0 107H28M0 108H27M0 109H26M0 110H25M0 111H24M0 112H23M0 113H22M0 114H21M0 115H20M0 116H19M0 117H18M0 118H17M0 119H16M0 120H15M0 121H14M0 122H13M0 123H12M0 124H11M0 125H10M0 126H9M0 127H8M0 128H7M0 129H6M0 130H5M0 131H4M0 132H3M0 133H2" stroke="#fff" stroke-width="0.09" stroke-opacity="0.75"/>
</g>
<path d="M19.67 21.2V23.7M15 25.67H17.4M23 21.2V23.7M15 29H17.4M26.34 21.2V23.7M15 32.34H17.4M29.67 21.2V23.7M15 35.67H17.4M33 21.2V23.7M15 39H17.4M36.34 21.2V23.7M15 42.34H17.4M39.67 21.2V23.7M15 45.67H17.4M43.01 21.2V23.7M15 49.01H17.4M46.34 21.2V23.7M15 52.34H17.4M49.68 21.2V23.7M15 55.68H17.4M53.01 21.2V23.7M15 59.01H17.4M56.34 21.2V23.7M15 62.34H17.4M59.68 21.2V23.7M15 65.68H17.4M63.01 21.2V23.7M15 69.01H17.4M66.35 21.2V23.7M15 72.35H17.4M69.68 21.2V23.7M15 75.68H17.4M73.02 21.2V23.7M15 79.02H17.4M76.35 21.2V23.7M15 82.35H17.4M79.69 21.2V23.7M15 85.69H17.4M83.02 21.2V23.7M15 89.02H17.4M86.35 21.2V23.7M15 92.35H17.4M89.69 21.2V23.7M15 95.69H17.4M93.02 21.2V23.7M15 99.02H17.4M96.36 21.2V23.7M15 102.36H17.4M99.69 21.2V23.7M15 105.69H17.4M103.03 21.2V23.7M15 109.03H17.4M106.36 21.2V23.7M15 112.36H17.4M109.69 21.2V23.7M15 115.69H17.4M113.03 21.2V23.7M15 119.03H17.4M116.36 21.2V23.7M15 122.36H17.4M119.7 21.2V23.7M15 125.7H17.4M123.03 21.2V23.7M15 129.03H17.4M126.37 21.2V23.7M15 132.37H17.4M129.7 21.2V23.7M15 135.7H17.4M133.03 21.2V23.7M15 139.03H17.4M136.37 21.2V23.7M15 142.37H17.4M139.7 21.2V23.7M15 145.7H17.4M143.04 21.2V23.7M15 149.04H17.4M146.37 21.2V23.7M15 152.37H17.4M149.71 21.2V23.7M15 155.71H17.4M153.04 21.2V23.7M15 159.04H17.4M156.37 21.2V23.7M15 162.37H17.4M159.71 21.2V23.7M15 165.71H17.4M163.04 21.2V23.7M15 169.04H17.4M166.38 21.2V23.7M15 172.38H17.4M169.71 21.2V23.7M15 175.71H17.4M173.05 21.2V23.7M15 179.05H17.4M176.38 21.2V23.7M15 182.38H17.4M179.71 21.2V23.7M15 185.71H17.4M183.05 21.2V23.7M15 189.05H17.4M186.38 21.2V23.7M15 192.38H17.4M189.72 21.2V23.7M15 195.72H17.4M193.05 21.2V23.7M15 199.05H17.4M196.39 21.2V23.7M15 202.39H17.4M199.72 21.2V23.7M15 205.72H17.4M203.06 21.2V23.7M15 209.06H17.4M206.39 21.2V23.7M15 212.39H17.4M209.72 21.2V23.7M15 215.72H17.4M213.06 21.2V23.7M15 219.06H17.4M216.39 21.2V23.7M15 222.39H17.4M219.73 21.2V23.7M15 225.73H17.4M223.06 21.2V23.7M15 229.06H17.4M226.4 21.2V23.7M15 232.4H17.4M229.73 21.2V23.7M15 235.73H17.4M233.06 21.2V23.7M15 239.06H17.4M236.4 21.2V23.7M15 242.4H17.4M239.73 21.2V23.7M15 245.73H17.4M243.07 21.2V23.7M15 249.07H17.4M246.4 21.2V23.7M15 252.4H17.4M249.74 21.2V23.7M15 255.74H17.4M253.07 21.2V23.7M15 259.07H17.4M256.4 21.2V23.7M15 262.4H17.4M259.74 21.2V23.7M15 265.74H17.4M263.07 21.2V23.7M15 269.07H17.4M266.41 21.2V23.7M15 272.41H17.4M269.74 21.2V23.7M15 275.74H17.4M273.08 21.2V23.7M15 279.08H17.4M276.41 21.2V23.7M15 282.41H17.4M279.74 21.2V23.7M15 285.74H17.4M283.08 21.2V23.7M15 289.08H17.4M286.41 21.2V23.7M15 292.41H17.4M289.75 21.2V23.7M15 295.75H17.4M293.08 21.2V23.7M15 299.08H17.4M296.42 21.2V23.7M15 302.42H17.4M299.75 21.2V23.7M15 305.75H17.4M303.09 21.2V23.7M15 309.09H17.4M306.42 21.2V23.7M15 312.42H17.4M309.75 21.2V23.7M15 315.75H17.4M313.09 21.2V23.7M15 319.09H17.4M316.42 21.2V23.7M15 322.42H17.4M319.76 21.2V23.7M15 325.76H17.4M323.09 21.2V23.7M15 329.09H17.4M326.43 21.2V23.7M15 332.43H17.4M329.76 21.2V23.7M15 335.76H17.4M333.09 21.2V23.7M15 339.09H17.4M336.43 21.2V23.7M15 342.43H17.4M339.76 21.2V23.7M15 345.76H17.4M343.1 21.2V23.7M15 349.1H17.4M346.43 21.2V23.7M15 352.43H17.4M349.77 21.2V23.7M15 355.77H17.4M353.1 21.2V23.7M15 359.1H17.4M356.43 21.2V23.7M15 362.43H17.4M359.77 21.2V23.7M15 365.77H17.4M363.1 21.2V23.7M15 369.1H17.4M366.44 21.2V23.7M15 372.44H17.4M369.77 21.2V23.7M15 375.77H17.4M373.11 21.2V23.7M15 379.11H17.4M376.44 21.2V23.7M15 382.44H17.4M379.77 21.2V23.7M15 385.77H17.4M383.11 21.2V23.7M15 389.11H17.4M386.44 21.2V23.7M15 392.44H17.4M389.78 21.2V23.7M15 395.78H17.4M393.11 21.2V23.7M15 399.11H17.4M396.45 21.2V23.7M15 402.45H17.4M399.78 21.2V23.7M15 405.78H17.4M403.11 21.2V23.7M15 409.11H17.4M406.45 21.2V23.7M15 412.45H17.4M409.78 21.2V23.7M15 415.78H17.4M413.12 21.2V23.7M15 419.12H17.4M416.45 21.2V23.7M15 422.45H17.4M419.79 21.2V23.7M15 425.79H17.4M423.12 21.2V23.7M15 429.12H17.4M426.46 21.2V23.7M15 432.46H17.4M429.79 21.2V23.7M15 435.79H17.4M433.12 21.2V23.7M15 439.12H17.4M436.46 21.2V23.7M15 442.46H17.4M439.79 21.2V23.7M15 445.79H17.4M443.13 21.2V23.7M15 449.13H17.4M446.46 21.2V23.7M15 452.46H17.4M449.8 21.2V23.7M15 455.8H17.4M453.13 21.2V23.7M15 459.13H17.4M456.46 21.2V23.7M15 462.46H17.4M459.8 21.2V23.7M15 465.8H17.4M463.13 21.2V23.7M15 469.13H17.4" stroke="#222" stroke-width="0.75" fill="none"/>
<text x="0.6" y="13.3" font-size="17" fill="#000" font-weight="bold">a</text>
<text x="181" y="13" font-size="10" fill="#1a1a1a">Drug 2</text>
<text transform="translate(8.4,218.6) rotate(-90)" text-anchor="middle" font-size="10" fill="#1a1a1a">Drug 1</text>
<text x="284.6" y="12.8" font-size="9.5" fill="#1a1a1a">Mean Bliss</text>
<text x="331.3" y="14.8" font-size="6.6" fill="#1a1a1a">adj.(observed)</text>
<rect x="377" y="10" width="88" height="5" fill="url(#cbA)"/>
<path d="M378.5 10v5M397 10v5M415.4 10v5M434.3 10v5M452.5 10v5" stroke="#fff" stroke-width="0.8"/>
<text x="376.9" y="8.7" font-size="9.8" fill="#1a1a1a" text-anchor="middle">-60</text>
<text x="395.3" y="8.7" font-size="9.8" fill="#1a1a1a" text-anchor="middle">-40</text>
<text x="413.8" y="8.7" font-size="9.8" fill="#1a1a1a" text-anchor="middle">-20</text>
<text x="433.9" y="8.7" font-size="9.8" fill="#1a1a1a" text-anchor="middle">0</text>
<text x="453" y="8.7" font-size="9.8" fill="#1a1a1a" text-anchor="middle">20</text>
<path d="M522.68 20.5V106M565.23 20.5V106M607.77 20.5V106M650.32 20.5V106" stroke="#f3f3f3" stroke-width="0.5"/>
<path d="M497 91.2H679.5M497 66.6H679.5M497 42H679.5" stroke="#f3f3f3" stroke-width="0.5"/>
<path d="M501.4 20.5V106M543.95 20.5V106M586.5 20.5V106M629.05 20.5V106M671.6 20.5V106" stroke="#ebebeb" stroke-width="0.7"/>
<path d="M497 103.5H679.5M497 78.9H679.5M497 54.3H679.5M497 29.7H679.5" stroke="#ebebeb" stroke-width="0.7"/>
<path d="M529.77 103.5H532.6V103.35H529.77zM532.6 103.5H535.44V103.4H532.6zM535.44 103.5H538.28V103.3H535.44zM538.28 103.5H541.11V103.35H538.28zM541.11 103.5H543.95V103.25H541.11zM543.95 103.5H546.79V103.3H543.95zM546.79 103.5H549.62V103.2H546.79zM549.62 103.5H552.46V103.11H549.62zM552.46 103.5H555.3V103.06H552.46zM555.3 103.5H558.13V102.91H555.3zM558.13 103.5H560.97V102.81H558.13zM560.97 103.5H563.81V102.71H560.97zM563.81 103.5H564.94V102.61H563.81zM564.94 103.5H567.78V102.52H564.94zM567.78 103.5H570.62V101.88H567.78zM570.62 103.5H573.45V99.61H570.62zM573.45 103.5H576.29V96.71H573.45zM576.29 103.5H579.12V90.31H576.29zM579.12 103.5H581.96V81.02H579.12zM581.96 103.5H584.8V62.12H581.96zM584.8 103.5H587.63V44.8H584.8zM587.63 103.5H590.47V24.58H587.63zM590.47 103.5H593.31V24.29H590.47zM593.31 103.5H596.14V41.21H593.31zM596.14 103.5H598.98V63.01H596.14zM598.98 103.5H601.82V88H598.98zM601.82 103.5H604.65V95.28H601.82zM604.65 103.5H607.49V98.38H604.65zM607.49 103.5H610.33V101.29H607.49zM610.33 103.5H613.16V102.71H610.33zM613.16 103.5H616V103.2H613.16zM616 103.5H618.84V103.35H616z" fill="#77b687"/>
<text x="471.9" y="13" font-size="17" fill="#000" font-weight="bold">b</text>
<text x="490.7" y="107" font-size="10" fill="#555" text-anchor="end">0</text>
<text x="490.7" y="82.4" font-size="10" fill="#555" text-anchor="end">500</text>
<text x="490.7" y="57.8" font-size="10" fill="#555" text-anchor="end">1000</text>
<text x="490.7" y="33.2" font-size="10" fill="#555" text-anchor="end">1500</text>
<text x="499.6" y="116" font-size="10" fill="#555" text-anchor="middle">-60</text>
<text x="542.15" y="116" font-size="10" fill="#555" text-anchor="middle">-30</text>
<text x="586.5" y="116" font-size="10" fill="#555" text-anchor="middle">0</text>
<text x="629.05" y="116" font-size="10" fill="#555" text-anchor="middle">30</text>
<text x="671.6" y="116" font-size="10" fill="#555" text-anchor="middle">60</text>
<text x="545.4" y="126.7" font-size="9.5" fill="#1a1a1a">Mean Bliss</text>
<text x="592" y="128.8" font-size="6.6" fill="#1a1a1a">adj.(observed)</text>
<path d="M521.21 134.4V223M567.79 134.4V223M614.38 134.4V223M660.98 134.4V223" stroke="#f3f3f3" stroke-width="0.5"/>
<path d="M492 210.56H680.5M492 190.68H680.5M492 170.8H680.5M492 150.92H680.5" stroke="#f3f3f3" stroke-width="0.5"/>
<path d="M497.91 134.4V223M544.5 134.4V223M591.09 134.4V223M637.68 134.4V223" stroke="#ebebeb" stroke-width="0.7"/>
<path d="M492 220.5H680.5M492 200.62H680.5M492 180.74H680.5M492 160.86H680.5M492 140.98H680.5" stroke="#ebebeb" stroke-width="0.7"/>
<path d="M498.03 220.5H501.68V220.22H498.03zM501.68 220.5H504.6V219.78H501.68zM504.6 220.5H508.25V219.34H504.6zM508.25 220.5H511.17V218.76H508.25zM511.17 220.5H514.09V217.15H511.17zM514.09 220.5H517.01V216.42H514.09zM517.01 220.5H519.2V217.88H517.01zM519.2 220.5H522.12V215.69H519.2zM522.12 220.5H525.04V218.76H522.12zM525.04 220.5H527.96V218.03H525.04zM527.96 220.5H530.88V218.03H527.96zM530.88 220.5H533.8V217.15H530.88zM533.8 220.5H536.72V216.13H533.8zM536.72 220.5H539.64V216.42H536.72zM539.64 220.5H542.55V215.11H539.64zM542.55 220.5H545.47V214.23H542.55zM545.47 220.5H548.39V210H545.47zM548.39 220.5H551.31V206.64H548.39zM551.31 220.5H554.23V204.16H551.31zM554.23 220.5H557.15V200.07H554.23zM557.15 220.5H560.07V197.88H557.15zM560.07 220.5H562.99V194.67H560.07zM562.99 220.5H565.91V192.04H562.99zM565.91 220.5H568.83V187.37H565.91zM568.83 220.5H571.75V186.93H568.83zM571.75 220.5H574.67V175.55H571.75zM574.67 220.5H577.59V174.96H574.67zM577.59 220.5H580V174.53H577.59zM580 220.5H582.92V174.53H580zM582.92 220.5H586.13V172.34H582.92zM586.13 220.5H589.05V165.04H586.13zM589.05 220.5H591.97V169.12H589.05zM591.97 220.5H594.89V159.2H591.97zM594.89 220.5H597.81V151.17H594.89zM597.81 220.5H601.17V151.9H597.81zM601.17 220.5H606.57V138.32H601.17zM606.57 220.5H609.93V151.9H606.57zM609.93 220.5H612.85V143.43H609.93zM612.85 220.5H615.77V140.22H612.85zM615.77 220.5H618.25V140.95H615.77zM618.25 220.5H621.17V150.15H618.25zM621.17 220.5H623.8V148.25H621.17zM623.8 220.5H627.01V153.07H623.8zM627.01 220.5H629.93V166.2H627.01zM629.93 220.5H632.85V174.09H629.93zM632.85 220.5H636.2V175.99H632.85z" fill="#c7c7c7"/>
<path d="M636.2 220.5H638.69V181.09H636.2zM638.69 220.5H641.31V186.93H638.69zM641.31 220.5H644.23V197.15H641.31zM644.23 220.5H647.15V199.34H644.23zM647.15 220.5H650.07V204.74H647.15zM650.07 220.5H652.99V208.54H650.07zM652.99 220.5H658.83V213.21H652.99zM658.83 220.5H661.75V215.4H658.83zM661.75 220.5H667.59V219.05H661.75zM667.59 220.5H673.43V219.93H667.59z" fill="#77b687"/>
<path d="M636.5 134.4V223" stroke="#333" stroke-width="0.8"/>
<text x="472.7" y="130" font-size="17" fill="#000" font-weight="bold">c</text>
<text x="491" y="224" font-size="10" fill="#555" text-anchor="end">0</text>
<text x="491" y="204.12" font-size="10" fill="#555" text-anchor="end">100</text>
<text x="491" y="184.24" font-size="10" fill="#555" text-anchor="end">200</text>
<text x="491" y="164.36" font-size="10" fill="#555" text-anchor="end">300</text>
<text x="491" y="144.48" font-size="10" fill="#555" text-anchor="end">400</text>
<text x="496.41" y="233.5" font-size="10" fill="#555" text-anchor="middle">-0.3</text>
<text x="544.5" y="233.5" font-size="10" fill="#555" text-anchor="middle">0.0</text>
<text x="591.09" y="233.5" font-size="10" fill="#555" text-anchor="middle">0.3</text>
<text x="637.68" y="233.5" font-size="10" fill="#555" text-anchor="middle">0.6</text>
<text x="568.4" y="243.8" font-size="9.5" fill="#1a1a1a">Moran's <tspan font-family="'Liberation Serif', serif" font-style="italic" font-size="10.5">I</tspan></text>
<path d="M493.05 250V340M511.75 250V340M530.45 250V340M549.15 250V340M567.85 250V340M586.55 250V340M605.25 250V340M623.95 250V340M642.65 250V340M661.35 250V340M680.05 250V340" stroke="#f3f3f3" stroke-width="0.5"/>
<path d="M492 326.57H680.5M492 307.32H680.5M492 288.07H680.5M492 268.82H680.5" stroke="#f3f3f3" stroke-width="0.5"/>
<path d="M502.4 250V340M521.1 250V340M539.8 250V340M558.5 250V340M577.2 250V340M595.9 250V340M614.6 250V340M633.3 250V340M652 250V340M670.7 250V340" stroke="#ebebeb" stroke-width="0.7"/>
<path d="M492 336.2H680.5M492 316.95H680.5M492 297.7H680.5M492 278.45H680.5M492 259.2H680.5" stroke="#ebebeb" stroke-width="0.7"/>
<path d="M496.3 336.2H510.5V254.2H496.3zM515 336.2H529.2V309.1H515zM533.7 336.2H547.9V310.5H533.7zM552.4 336.2H566.6V312.8H552.4zM571.1 336.2H585.3V329.9H571.1zM589.8 336.2H604V327.9H589.8zM608.5 336.2H622.7V334.7H608.5z" fill="#77b687"/>
<rect x="627.2" y="335.2" width="14.2" height="1" fill="#cfcfcf"/>
<path d="M624.3 250V340" stroke="#8a8a8a" stroke-width="0.9"/>
<text x="472" y="246" font-size="17" fill="#000" font-weight="bold">d</text>
<text x="490.5" y="339.7" font-size="10" fill="#555" text-anchor="end">0</text>
<text x="490.5" y="320.45" font-size="10" fill="#555" text-anchor="end">1000</text>
<text x="490.5" y="301.2" font-size="10" fill="#555" text-anchor="end">2000</text>
<text x="490.5" y="281.95" font-size="10" fill="#555" text-anchor="end">3000</text>
<text x="490.5" y="262.7" font-size="10" fill="#555" text-anchor="end">4000</text>
<text x="501.6" y="349.2" font-size="10" fill="#555" text-anchor="middle">0</text>
<text x="520.3" y="349.2" font-size="10" fill="#555" text-anchor="middle">1</text>
<text x="539" y="349.2" font-size="10" fill="#555" text-anchor="middle">2</text>
<text x="557.7" y="349.2" font-size="10" fill="#555" text-anchor="middle">3</text>
<text x="576.4" y="349.2" font-size="10" fill="#555" text-anchor="middle">4</text>
<text x="595.1" y="349.2" font-size="10" fill="#555" text-anchor="middle">5</text>
<text x="613.8" y="349.2" font-size="10" fill="#555" text-anchor="middle">6</text>
<text x="632.5" y="349.2" font-size="10" fill="#555" text-anchor="middle">7</text>
<text x="651.2" y="349.2" font-size="10" fill="#555" text-anchor="middle">8</text>
<text x="669.9" y="349.2" font-size="10" fill="#555" text-anchor="middle">9</text>
<text x="546" y="358.4" font-size="9.5" fill="#1a1a1a">QC flag count</text>
<text x="608" y="360.4" font-size="6.6" fill="#1a1a1a">(observed)</text>
<path d="M513.2 362V453M560.2 362V453M607.2 362V453M654.2 362V453" stroke="#f3f3f3" stroke-width="0.5"/>
<path d="M492 441.48H680.5M492 424.84H680.5M492 408.2H680.5M492 391.56H680.5M492 374.92H680.5" stroke="#f3f3f3" stroke-width="0.5"/>
<path d="M536.7 362V453M583.7 362V453M630.7 362V453M677.7 362V453" stroke="#ebebeb" stroke-width="0.7"/>
<path d="M492 449.8H680.5M492 433.16H680.5M492 416.52H680.5M492 399.88H680.5M492 383.24H680.5M492 366.6H680.5" stroke="#ebebeb" stroke-width="0.7"/>
<path d="M499.93 449.8H502.85V449.05H499.93zM502.85 449.8H505.77V446.42H502.85zM505.77 449.8H508.69V435.91H505.77zM508.69 449.8H511.61V433.72H508.69zM511.61 449.8H514.53V431.09H511.61zM514.53 449.8H517.45V417.23H514.53zM517.45 449.8H523.28V410.07H517.45zM523.28 449.8H526.2V395.77H523.28zM526.2 449.8H527.52V398.69H526.2z" fill="#c7c7c7"/>
<path d="M527.52 449.8H528.69V398.69H527.52zM528.69 449.8H532.04V385.99H528.69zM532.04 449.8H534.96V380.15H532.04zM534.96 449.8H537.88V384.09H534.96zM537.88 449.8H540.36V378.25H537.88zM540.36 449.8H543.28V385.11H540.36zM543.28 449.8H546.2V393.28H543.28zM546.2 449.8H549.12V388.03H546.2zM549.12 449.8H552.04V383.07H549.12zM552.04 449.8H554.96V380.44H552.04zM554.96 449.8H557.88V383.65H554.96zM557.88 449.8H560.8V371.97H557.88zM560.8 449.8H563.72V375.33H560.8zM563.72 449.8H566.64V372.85H563.72zM566.64 449.8H569.56V369.49H566.64zM569.56 449.8H572.48V370.95H569.56zM572.48 449.8H575.4V382.19H572.48zM575.4 449.8H578.32V383.07H575.4zM578.32 449.8H580V381.46H578.32zM580 449.8H581.17V381.17H580zM581.17 449.8H584.09V389.93H581.17zM584.09 449.8H587.01V383.65H584.09zM587.01 449.8H589.93V382.63H587.01zM589.93 449.8H592.85V385.55H589.93zM592.85 449.8H595.77V387.74H592.85zM595.77 449.8H598.69V383.65H595.77zM598.69 449.8H601.17V371.97H598.69zM601.17 449.8H604.09V381.17H601.17zM604.09 449.8H607.01V380.15H604.09zM607.01 449.8H609.93V383.36H607.01zM609.93 449.8H612.85V385.99H609.93zM612.85 449.8H615.77V374.16H612.85zM615.77 449.8H618.69V378.98H615.77zM618.69 449.8H621.61V384.09H618.69zM621.61 449.8H624.53V378.98H621.61zM624.53 449.8H627.45V391.82H624.53zM627.45 449.8H630.36V383.07H627.45zM630.36 449.8H633.28V399.42H630.36zM633.28 449.8H636.2V410.07H633.28zM636.2 449.8H639.12V415.18H636.2zM639.12 449.8H642.04V413.28H639.12zM642.04 449.8H644.96V419.12H642.04zM644.96 449.8H647.88V423.8H644.96zM647.88 449.8H650.8V429.34H647.88zM650.8 449.8H653.72V433.28H650.8zM653.72 449.8H656.64V437.08H653.72zM656.64 449.8H662.48V436.2H656.64zM662.48 449.8H665.4V441.02H662.48zM665.4 449.8H668.32V444.96H665.4zM668.32 449.8H671.24V447.15H668.32zM671.24 449.8H674.16V449.34H671.24z" fill="#77b687"/>
<path d="M527.4 364.5V453" stroke="#333" stroke-width="0.8"/>
<text x="472.5" y="360" font-size="17" fill="#000" font-weight="bold">e</text>
<text x="491" y="453.3" font-size="10" fill="#555" text-anchor="end">0</text>
<text x="491" y="436.66" font-size="10" fill="#555" text-anchor="end">50</text>
<text x="491" y="420.02" font-size="10" fill="#555" text-anchor="end">100</text>
<text x="491" y="403.38" font-size="10" fill="#555" text-anchor="end">150</text>
<text x="491" y="386.74" font-size="10" fill="#555" text-anchor="end">200</text>
<text x="491" y="370.1" font-size="10" fill="#555" text-anchor="end">250</text>
<text x="536.7" y="462.6" font-size="10" fill="#555" text-anchor="middle">25</text>
<text x="583.7" y="462.6" font-size="10" fill="#555" text-anchor="middle">50</text>
<text x="630.7" y="462.6" font-size="10" fill="#555" text-anchor="middle">75</text>
<text x="677.7" y="462.6" font-size="10" fill="#555" text-anchor="middle">100</text>
<text x="544.8" y="472" font-size="9.55" fill="#1a1a1a">Mean %Cell Death</text>
<path d="M158 370.4H456.7M158 411H456.7M158 431.3H456.7M158 451.6H456.7" stroke="#d4d4d4" stroke-width="0.9"/>
<text x="155.4" y="373.9" font-size="10" fill="#555" text-anchor="end">20</text>
<text x="155.4" y="394.2" font-size="10" fill="#555" text-anchor="end">0</text>
<text x="155.4" y="414.5" font-size="10" fill="#555" text-anchor="end">-20</text>
<text x="155.4" y="434.8" font-size="10" fill="#555" text-anchor="end">-40</text>
<text x="155.4" y="455.1" font-size="10" fill="#555" text-anchor="end">-60</text>
<path d="M155.6 370.4H157.6M155.6 390.7H157.6M155.6 411H157.6M155.6 431.3H157.6M155.6 451.6H157.6" stroke="#4d4d4d" stroke-width="0.6"/>
<text x="143.2" y="359.2" font-size="17" fill="#000" font-weight="bold">f</text>
<text transform="translate(134.9,454.6) rotate(-90)" font-size="9.2" fill="#1a1a1a">Mean Bliss<tspan font-size="6.6" dy="2">Adj.(observed)</tspan></text>
<text x="256.7" y="472.4" font-size="9.8" fill="#1a1a1a" textLength="90" lengthAdjust="spacingAndGlyphs">Filtered combination</text>
<text x="453.9" y="446.5" font-size="10" fill="#555" text-anchor="end" textLength="35" lengthAdjust="spacingAndGlyphs">n = 594</text>
<path d="M454.6 146L454.4 356.8M443.5 159.3L454.2 360.3M429 173.4L453.9 364.5M415.2 187.6L452.6 368.8M400.5 201.5L452.25 369.12M386.4 215.1L451.9 369.44M372.7 228.8L451.55 369.76M358.3 242.2L451.2 370.08M345 256.5L450.85 370.4M331.4 269.7L450.5 370.72M317.8 284.1L450.15 371.04M302.9 299L449.8 371.36M288.7 312.4L449.45 371.68M274.8 325.6L449.1 372M262.7 340.4L448.75 372.32" stroke="#a8a8a8" stroke-width="0.6" fill="none"/>
<g><circle cx="161.3" cy="452.11" r="2.1" fill="#a9d6e3"/><circle cx="161.8" cy="432.31" r="2.1" fill="#acd8e3"/><circle cx="162.29" cy="419.12" r="2.1" fill="#badfe2"/><circle cx="162.79" cy="417.09" r="2.1" fill="#bde0e2"/><circle cx="163.28" cy="414.04" r="2.1" fill="#c0e1e2"/><circle cx="163.78" cy="409.99" r="2.1" fill="#c7e4e2"/><circle cx="164.27" cy="406.43" r="2.1" fill="#d1e8e1"/><circle cx="164.77" cy="403.89" r="2.1" fill="#d8ebe0"/><circle cx="165.26" cy="402.37" r="2.1" fill="#dcece0"/><circle cx="165.76" cy="401.36" r="2.1" fill="#dfede0"/><circle cx="166.25" cy="400.65" r="2.1" fill="#e1eedf"/><circle cx="166.75" cy="400.04" r="2.1" fill="#e3efdf"/><circle cx="167.24" cy="399.33" r="2.1" fill="#e5efdf"/><circle cx="167.74" cy="399.05" r="2.1" fill="#e5f0df"/><circle cx="168.23" cy="398.8" r="2.1" fill="#e6f0df"/><circle cx="168.73" cy="398.55" r="2.1" fill="#e7f0df"/><circle cx="169.22" cy="398.3" r="2.1" fill="#e7f1df"/><circle cx="169.72" cy="398.05" r="2.1" fill="#e8f1df"/><circle cx="170.21" cy="397.8" r="2.1" fill="#e9f1df"/><circle cx="170.71" cy="397.55" r="2.1" fill="#e9f2df"/><circle cx="171.21" cy="397.35" r="2.1" fill="#eaf2e0"/><circle cx="171.7" cy="397.24" r="2.1" fill="#eaf2e0"/><circle cx="172.2" cy="397.12" r="2.1" fill="#eaf2e0"/><circle cx="172.69" cy="397.01" r="2.1" fill="#ebf2e0"/><circle cx="173.19" cy="396.89" r="2.1" fill="#ebf3e0"/><circle cx="173.68" cy="396.78" r="2.1" fill="#ebf3e0"/><circle cx="174.18" cy="396.66" r="2.1" fill="#ecf3e0"/><circle cx="174.67" cy="396.55" r="2.1" fill="#ecf3e0"/><circle cx="175.17" cy="396.43" r="2.1" fill="#ecf3e0"/><circle cx="175.66" cy="396.32" r="2.1" fill="#ecf3e0"/><circle cx="176.16" cy="396.2" r="2.1" fill="#edf4e0"/><circle cx="176.65" cy="396.09" r="2.1" fill="#edf4e0"/><circle cx="177.15" cy="395.97" r="2.1" fill="#edf4e0"/><circle cx="177.64" cy="395.86" r="2.1" fill="#eef4e0"/><circle cx="178.14" cy="395.75" r="2.1" fill="#eef4e0"/><circle cx="178.63" cy="395.67" r="2.1" fill="#eef4e0"/><circle cx="179.13" cy="395.6" r="2.1" fill="#eef4e0"/><circle cx="179.62" cy="395.52" r="2.1" fill="#eff4e0"/><circle cx="180.12" cy="395.44" r="2.1" fill="#eff5e0"/><circle cx="180.61" cy="395.36" r="2.1" fill="#eff5e0"/><circle cx="181.11" cy="395.28" r="2.1" fill="#eff5e0"/><circle cx="181.61" cy="395.21" r="2.1" fill="#eff5e0"/><circle cx="182.1" cy="395.13" r="2.1" fill="#f0f5e0"/><circle cx="182.6" cy="395.05" r="2.1" fill="#f0f5e0"/><circle cx="183.09" cy="394.97" r="2.1" fill="#f0f5e0"/><circle cx="183.59" cy="394.89" r="2.1" fill="#f0f5e0"/><circle cx="184.08" cy="394.81" r="2.1" fill="#f0f5e0"/><circle cx="184.58" cy="394.74" r="2.1" fill="#f1f6e1"/><circle cx="185.07" cy="394.66" r="2.1" fill="#f1f6e1"/><circle cx="185.57" cy="394.58" r="2.1" fill="#f1f6e1"/><circle cx="186.06" cy="394.5" r="2.1" fill="#f1f6e1"/><circle cx="186.56" cy="394.42" r="2.1" fill="#f1f6e1"/><circle cx="187.05" cy="394.35" r="2.1" fill="#f2f6e1"/><circle cx="187.55" cy="394.32" r="2.1" fill="#f2f6e1"/><circle cx="188.04" cy="394.28" r="2.1" fill="#f2f6e1"/><circle cx="188.54" cy="394.25" r="2.1" fill="#f2f6e1"/><circle cx="189.03" cy="394.21" r="2.1" fill="#f2f6e1"/><circle cx="189.53" cy="394.18" r="2.1" fill="#f2f6e1"/><circle cx="190.02" cy="394.14" r="2.1" fill="#f2f6e1"/><circle cx="190.52" cy="394.11" r="2.1" fill="#f2f6e1"/><circle cx="191.02" cy="394.07" r="2.1" fill="#f2f6e1"/><circle cx="191.51" cy="394.04" r="2.1" fill="#f2f6e1"/><circle cx="192.01" cy="394" r="2.1" fill="#f2f7e1"/><circle cx="192.5" cy="393.97" r="2.1" fill="#f3f7e1"/><circle cx="193" cy="393.94" r="2.1" fill="#f3f7e1"/><circle cx="193.49" cy="393.9" r="2.1" fill="#f3f7e1"/><circle cx="193.99" cy="393.87" r="2.1" fill="#f3f7e1"/><circle cx="194.48" cy="393.83" r="2.1" fill="#f3f7e1"/><circle cx="194.98" cy="393.8" r="2.1" fill="#f3f7e1"/><circle cx="195.47" cy="393.76" r="2.1" fill="#f3f7e1"/><circle cx="195.97" cy="393.73" r="2.1" fill="#f3f7e1"/><circle cx="196.46" cy="393.69" r="2.1" fill="#f3f7e1"/><circle cx="196.96" cy="393.66" r="2.1" fill="#f3f7e1"/><circle cx="197.45" cy="393.62" r="2.1" fill="#f3f7e1"/><circle cx="197.95" cy="393.59" r="2.1" fill="#f4f7e1"/><circle cx="198.44" cy="393.56" r="2.1" fill="#f4f7e1"/><circle cx="198.94" cy="393.52" r="2.1" fill="#f4f7e1"/><circle cx="199.43" cy="393.49" r="2.1" fill="#f4f7e1"/><circle cx="199.93" cy="393.45" r="2.1" fill="#f4f7e1"/><circle cx="200.43" cy="393.42" r="2.1" fill="#f4f7e1"/><circle cx="200.92" cy="393.38" r="2.1" fill="#f4f7e1"/><circle cx="201.42" cy="393.35" r="2.1" fill="#f4f7e1"/><circle cx="201.91" cy="393.31" r="2.1" fill="#f4f7e1"/><circle cx="202.41" cy="393.28" r="2.1" fill="#f4f8e1"/><circle cx="202.9" cy="393.24" r="2.1" fill="#f4f8e1"/><circle cx="203.4" cy="393.2" r="2.1" fill="#f5f8e1"/><circle cx="203.89" cy="393.15" r="2.1" fill="#f5f8e1"/><circle cx="204.39" cy="393.1" r="2.1" fill="#f5f8e1"/><circle cx="204.88" cy="393.05" r="2.1" fill="#f5f8e1"/><circle cx="205.38" cy="393" r="2.1" fill="#f5f8e1"/><circle cx="205.87" cy="392.95" r="2.1" fill="#f5f8e1"/><circle cx="206.37" cy="392.9" r="2.1" fill="#f5f8e1"/><circle cx="206.86" cy="392.85" r="2.1" fill="#f5f8e1"/><circle cx="207.36" cy="392.8" r="2.1" fill="#f6f8e1"/><circle cx="207.85" cy="392.74" r="2.1" fill="#f6f8e1"/><circle cx="208.35" cy="392.69" r="2.1" fill="#f6f8e1"/><circle cx="208.84" cy="392.64" r="2.1" fill="#f6f8e1"/><circle cx="209.34" cy="392.59" r="2.1" fill="#f6f8e1"/><circle cx="209.83" cy="392.54" r="2.1" fill="#f6f9e1"/><circle cx="210.33" cy="392.49" r="2.1" fill="#f6f9e1"/><circle cx="210.83" cy="392.44" r="2.1" fill="#f6f9e1"/><circle cx="211.32" cy="392.39" r="2.1" fill="#f7f9e1"/><circle cx="211.82" cy="392.34" r="2.1" fill="#f7f9e1"/><circle cx="212.31" cy="392.29" r="2.1" fill="#f7f9e1"/><circle cx="212.81" cy="392.24" r="2.1" fill="#f7f9e1"/><circle cx="213.3" cy="392.19" r="2.1" fill="#f7f9e1"/><circle cx="213.8" cy="392.14" r="2.1" fill="#f7f9e1"/><circle cx="214.29" cy="392.09" r="2.1" fill="#f7f9e1"/><circle cx="214.79" cy="392.04" r="2.1" fill="#f8f9e2"/><circle cx="215.28" cy="391.99" r="2.1" fill="#f8f9e2"/><circle cx="215.78" cy="391.94" r="2.1" fill="#f8f9e2"/><circle cx="216.27" cy="391.89" r="2.1" fill="#f8f9e2"/><circle cx="216.77" cy="391.84" r="2.1" fill="#f8f9e2"/><circle cx="217.26" cy="391.79" r="2.1" fill="#f8fae2"/><circle cx="217.76" cy="391.74" r="2.1" fill="#f8fae2"/><circle cx="218.25" cy="391.69" r="2.1" fill="#f8fae2"/><circle cx="218.75" cy="391.64" r="2.1" fill="#f9fae2"/><circle cx="219.24" cy="391.59" r="2.1" fill="#f9fae2"/><circle cx="219.74" cy="391.54" r="2.1" fill="#f9fae2"/><circle cx="220.24" cy="391.49" r="2.1" fill="#f9fae2"/><circle cx="220.73" cy="391.44" r="2.1" fill="#f9fae2"/><circle cx="221.23" cy="391.39" r="2.1" fill="#f9fae2"/><circle cx="221.72" cy="391.34" r="2.1" fill="#f9fae2"/><circle cx="222.22" cy="391.29" r="2.1" fill="#f9fae2"/><circle cx="222.71" cy="391.24" r="2.1" fill="#fafae2"/><circle cx="223.21" cy="391.19" r="2.1" fill="#fafae2"/><circle cx="223.7" cy="391.14" r="2.1" fill="#fafae2"/><circle cx="224.2" cy="391.09" r="2.1" fill="#fafae2"/><circle cx="224.69" cy="391.04" r="2.1" fill="#fafbe2"/><circle cx="225.19" cy="390.99" r="2.1" fill="#fafbe2"/><circle cx="225.68" cy="390.94" r="2.1" fill="#fafbe2"/><circle cx="226.18" cy="390.88" r="2.1" fill="#fbfbe2"/><circle cx="226.67" cy="390.83" r="2.1" fill="#fbfbe2"/><circle cx="227.17" cy="390.78" r="2.1" fill="#fbfbe2"/><circle cx="227.66" cy="390.73" r="2.1" fill="#fbfbe2"/><circle cx="228.16" cy="390.68" r="2.1" fill="#fbfbe2"/><circle cx="228.65" cy="390.63" r="2.1" fill="#fbfbe2"/><circle cx="229.15" cy="390.58" r="2.1" fill="#fbfae1"/><circle cx="229.65" cy="390.53" r="2.1" fill="#fbfae1"/><circle cx="230.14" cy="390.48" r="2.1" fill="#fbfae1"/><circle cx="230.64" cy="390.43" r="2.1" fill="#fbf9e0"/><circle cx="231.13" cy="390.38" r="2.1" fill="#fbf9e0"/><circle cx="231.63" cy="390.33" r="2.1" fill="#fbf9e0"/><circle cx="232.12" cy="390.28" r="2.1" fill="#fbf9df"/><circle cx="232.62" cy="390.23" r="2.1" fill="#fbf8df"/><circle cx="233.11" cy="390.18" r="2.1" fill="#fbf8df"/><circle cx="233.61" cy="390.13" r="2.1" fill="#fbf8de"/><circle cx="234.1" cy="390.08" r="2.1" fill="#fbf7de"/><circle cx="234.6" cy="390.03" r="2.1" fill="#fbf7de"/><circle cx="235.09" cy="389.98" r="2.1" fill="#fbf7dd"/><circle cx="235.59" cy="389.94" r="2.1" fill="#fbf7dd"/><circle cx="236.08" cy="389.91" r="2.1" fill="#fbf6dd"/><circle cx="236.58" cy="389.87" r="2.1" fill="#fbf6dd"/><circle cx="237.07" cy="389.83" r="2.1" fill="#fbf6dc"/><circle cx="237.57" cy="389.79" r="2.1" fill="#fbf6dc"/><circle cx="238.06" cy="389.76" r="2.1" fill="#fbf5dc"/><circle cx="238.56" cy="389.72" r="2.1" fill="#fbf5dc"/><circle cx="239.05" cy="389.68" r="2.1" fill="#faf5db"/><circle cx="239.55" cy="389.64" r="2.1" fill="#faf5db"/><circle cx="240.05" cy="389.61" r="2.1" fill="#faf5db"/><circle cx="240.54" cy="389.57" r="2.1" fill="#faf4db"/><circle cx="241.04" cy="389.53" r="2.1" fill="#faf4db"/><circle cx="241.53" cy="389.49" r="2.1" fill="#faf4da"/><circle cx="242.03" cy="389.45" r="2.1" fill="#faf4da"/><circle cx="242.52" cy="389.42" r="2.1" fill="#faf3da"/><circle cx="243.02" cy="389.38" r="2.1" fill="#faf3da"/><circle cx="243.51" cy="389.34" r="2.1" fill="#faf3d9"/><circle cx="244.01" cy="389.3" r="2.1" fill="#faf3d9"/><circle cx="244.5" cy="389.27" r="2.1" fill="#faf3d9"/><circle cx="245" cy="389.23" r="2.1" fill="#faf2d9"/><circle cx="245.49" cy="389.19" r="2.1" fill="#faf2d8"/><circle cx="245.99" cy="389.15" r="2.1" fill="#faf2d8"/><circle cx="246.48" cy="389.12" r="2.1" fill="#faf2d8"/><circle cx="246.98" cy="389.08" r="2.1" fill="#faf1d8"/><circle cx="247.47" cy="389.04" r="2.1" fill="#faf1d7"/><circle cx="247.97" cy="389" r="2.1" fill="#faf1d7"/><circle cx="248.46" cy="388.96" r="2.1" fill="#faf1d7"/><circle cx="248.96" cy="388.93" r="2.1" fill="#faf1d7"/><circle cx="249.46" cy="388.89" r="2.1" fill="#faf0d6"/><circle cx="249.95" cy="388.85" r="2.1" fill="#faf0d6"/><circle cx="250.45" cy="388.81" r="2.1" fill="#faf0d6"/><circle cx="250.94" cy="388.78" r="2.1" fill="#faf0d6"/><circle cx="251.44" cy="388.74" r="2.1" fill="#faefd5"/><circle cx="251.93" cy="388.7" r="2.1" fill="#faefd5"/><circle cx="252.43" cy="388.66" r="2.1" fill="#faefd5"/><circle cx="252.92" cy="388.62" r="2.1" fill="#faefd5"/><circle cx="253.42" cy="388.58" r="2.1" fill="#faeed4"/><circle cx="253.91" cy="388.54" r="2.1" fill="#faeed4"/><circle cx="254.41" cy="388.5" r="2.1" fill="#faeed4"/><circle cx="254.9" cy="388.46" r="2.1" fill="#faeed4"/><circle cx="255.4" cy="388.42" r="2.1" fill="#faeed3"/><circle cx="255.89" cy="388.38" r="2.1" fill="#faedd3"/><circle cx="256.39" cy="388.34" r="2.1" fill="#faedd3"/><circle cx="256.88" cy="388.3" r="2.1" fill="#faedd3"/><circle cx="257.38" cy="388.26" r="2.1" fill="#faedd2"/><circle cx="257.87" cy="388.22" r="2.1" fill="#faecd2"/><circle cx="258.37" cy="388.18" r="2.1" fill="#faecd2"/><circle cx="258.87" cy="388.14" r="2.1" fill="#faecd2"/><circle cx="259.36" cy="388.1" r="2.1" fill="#faecd1"/><circle cx="259.86" cy="388.07" r="2.1" fill="#faebd1"/><circle cx="260.35" cy="388.03" r="2.1" fill="#faebd1"/><circle cx="260.85" cy="387.99" r="2.1" fill="#faebd1"/><circle cx="261.34" cy="387.95" r="2.1" fill="#faebd0"/><circle cx="261.84" cy="387.91" r="2.1" fill="#faead0"/><circle cx="262.33" cy="387.87" r="2.1" fill="#faead0"/><circle cx="262.83" cy="387.83" r="2.1" fill="#faead0"/><circle cx="263.32" cy="387.79" r="2.1" fill="#faeacf"/><circle cx="263.82" cy="387.75" r="2.1" fill="#faeacf"/><circle cx="264.31" cy="387.71" r="2.1" fill="#fae9cf"/><circle cx="264.81" cy="387.67" r="2.1" fill="#fae9cf"/><circle cx="265.3" cy="387.64" r="2.1" fill="#f9e9ce"/><circle cx="265.8" cy="387.62" r="2.1" fill="#f9e9ce"/><circle cx="266.29" cy="387.6" r="2.1" fill="#f9e9ce"/><circle cx="266.79" cy="387.58" r="2.1" fill="#f9e9ce"/><circle cx="267.28" cy="387.56" r="2.1" fill="#f9e8ce"/><circle cx="267.78" cy="387.54" r="2.1" fill="#f9e8ce"/><circle cx="268.27" cy="387.52" r="2.1" fill="#f9e8ce"/><circle cx="268.77" cy="387.5" r="2.1" fill="#f9e8ce"/><circle cx="269.27" cy="387.48" r="2.1" fill="#f9e8cd"/><circle cx="269.76" cy="387.46" r="2.1" fill="#f9e8cd"/><circle cx="270.26" cy="387.44" r="2.1" fill="#f9e8cd"/><circle cx="270.75" cy="387.42" r="2.1" fill="#f9e8cd"/><circle cx="271.25" cy="387.4" r="2.1" fill="#f9e8cd"/><circle cx="271.74" cy="387.38" r="2.1" fill="#f9e7cd"/><circle cx="272.24" cy="387.36" r="2.1" fill="#f9e7cd"/><circle cx="272.73" cy="387.34" r="2.1" fill="#f9e7cc"/><circle cx="273.23" cy="387.32" r="2.1" fill="#f9e7cc"/><circle cx="273.72" cy="387.3" r="2.1" fill="#f9e7cc"/><circle cx="274.22" cy="387.28" r="2.1" fill="#f9e7cc"/><circle cx="274.71" cy="387.26" r="2.1" fill="#f9e7cc"/><circle cx="275.21" cy="387.24" r="2.1" fill="#f9e7cc"/><circle cx="275.7" cy="387.22" r="2.1" fill="#f9e6cc"/><circle cx="276.2" cy="387.2" r="2.1" fill="#f9e6cc"/><circle cx="276.69" cy="387.18" r="2.1" fill="#f9e6cb"/><circle cx="277.19" cy="387.16" r="2.1" fill="#f9e6cb"/><circle cx="277.68" cy="387.14" r="2.1" fill="#f9e6cb"/><circle cx="278.18" cy="387.12" r="2.1" fill="#f9e6cb"/><circle cx="278.68" cy="387.1" r="2.1" fill="#f9e6cb"/><circle cx="279.17" cy="387.08" r="2.1" fill="#f9e6cb"/><circle cx="279.67" cy="387.06" r="2.1" fill="#f9e5cb"/><circle cx="280.16" cy="387.04" r="2.1" fill="#f9e5cb"/><circle cx="280.66" cy="387.02" r="2.1" fill="#f9e5ca"/><circle cx="281.15" cy="387" r="2.1" fill="#f9e5ca"/><circle cx="281.65" cy="386.98" r="2.1" fill="#f9e5ca"/><circle cx="282.14" cy="386.96" r="2.1" fill="#f9e5ca"/><circle cx="282.64" cy="386.94" r="2.1" fill="#f9e5ca"/><circle cx="283.13" cy="386.92" r="2.1" fill="#f9e5ca"/><circle cx="283.63" cy="386.9" r="2.1" fill="#f9e5ca"/><circle cx="284.12" cy="386.88" r="2.1" fill="#f9e4ca"/><circle cx="284.62" cy="386.86" r="2.1" fill="#f9e4c9"/><circle cx="285.11" cy="386.84" r="2.1" fill="#f9e4c9"/><circle cx="285.61" cy="386.82" r="2.1" fill="#f9e4c9"/><circle cx="286.1" cy="386.8" r="2.1" fill="#f9e4c9"/><circle cx="286.6" cy="386.78" r="2.1" fill="#f9e4c9"/><circle cx="287.09" cy="386.76" r="2.1" fill="#f9e4c9"/><circle cx="287.59" cy="386.74" r="2.1" fill="#f9e4c9"/><circle cx="288.09" cy="386.72" r="2.1" fill="#f9e3c8"/><circle cx="288.58" cy="386.7" r="2.1" fill="#f9e3c8"/><circle cx="289.08" cy="386.68" r="2.1" fill="#f9e3c8"/><circle cx="289.57" cy="386.66" r="2.1" fill="#f9e3c8"/><circle cx="290.07" cy="386.64" r="2.1" fill="#f9e3c8"/><circle cx="290.56" cy="386.62" r="2.1" fill="#f9e3c8"/><circle cx="291.06" cy="386.6" r="2.1" fill="#f9e3c8"/><circle cx="291.55" cy="386.58" r="2.1" fill="#f9e3c8"/><circle cx="292.05" cy="386.56" r="2.1" fill="#f9e2c7"/><circle cx="292.54" cy="386.54" r="2.1" fill="#f9e2c7"/><circle cx="293.04" cy="386.52" r="2.1" fill="#f9e2c7"/><circle cx="293.53" cy="386.5" r="2.1" fill="#f9e2c7"/><circle cx="294.03" cy="386.48" r="2.1" fill="#f9e2c7"/><circle cx="294.52" cy="386.46" r="2.1" fill="#f9e2c7"/><circle cx="295.02" cy="386.44" r="2.1" fill="#f9e2c6"/><circle cx="295.51" cy="386.42" r="2.1" fill="#f9e2c6"/><circle cx="296.01" cy="386.4" r="2.1" fill="#f9e1c6"/><circle cx="296.5" cy="386.38" r="2.1" fill="#f9e1c6"/><circle cx="297" cy="386.36" r="2.1" fill="#f9e1c6"/><circle cx="297.49" cy="386.34" r="2.1" fill="#f9e1c6"/><circle cx="297.99" cy="386.32" r="2.1" fill="#f9e1c6"/><circle cx="298.49" cy="386.3" r="2.1" fill="#f9e1c5"/><circle cx="298.98" cy="386.28" r="2.1" fill="#f9e1c5"/><circle cx="299.48" cy="386.26" r="2.1" fill="#f9e1c5"/><circle cx="299.97" cy="386.24" r="2.1" fill="#f9e1c5"/><circle cx="300.47" cy="386.22" r="2.1" fill="#f9e0c5"/><circle cx="300.96" cy="386.2" r="2.1" fill="#f9e0c5"/><circle cx="301.46" cy="386.18" r="2.1" fill="#f9e0c5"/><circle cx="301.95" cy="386.16" r="2.1" fill="#f9e0c4"/><circle cx="302.45" cy="386.14" r="2.1" fill="#f9e0c4"/><circle cx="302.94" cy="386.12" r="2.1" fill="#f9e0c4"/><circle cx="303.44" cy="386.1" r="2.1" fill="#f9e0c4"/><circle cx="303.93" cy="386.08" r="2.1" fill="#f9e0c4"/><circle cx="304.43" cy="386.07" r="2.1" fill="#f9dfc4"/><circle cx="304.92" cy="386.05" r="2.1" fill="#f9dfc4"/><circle cx="305.42" cy="386.03" r="2.1" fill="#f9dfc3"/><circle cx="305.91" cy="386.01" r="2.1" fill="#f9dfc3"/><circle cx="306.41" cy="385.99" r="2.1" fill="#f9dfc3"/><circle cx="306.9" cy="385.97" r="2.1" fill="#f9dfc3"/><circle cx="307.4" cy="385.95" r="2.1" fill="#f8dfc3"/><circle cx="307.9" cy="385.93" r="2.1" fill="#f8dfc3"/><circle cx="308.39" cy="385.91" r="2.1" fill="#f8dfc3"/><circle cx="308.89" cy="385.9" r="2.1" fill="#f8dec3"/><circle cx="309.38" cy="385.88" r="2.1" fill="#f8dec2"/><circle cx="309.88" cy="385.86" r="2.1" fill="#f8dec2"/><circle cx="310.37" cy="385.84" r="2.1" fill="#f8dec2"/><circle cx="310.87" cy="385.82" r="2.1" fill="#f8dec2"/><circle cx="311.36" cy="385.8" r="2.1" fill="#f8dec2"/><circle cx="311.86" cy="385.78" r="2.1" fill="#f8dec2"/><circle cx="312.35" cy="385.76" r="2.1" fill="#f8dec2"/><circle cx="312.85" cy="385.74" r="2.1" fill="#f8ddc1"/><circle cx="313.34" cy="385.73" r="2.1" fill="#f8ddc1"/><circle cx="313.84" cy="385.71" r="2.1" fill="#f8ddc1"/><circle cx="314.33" cy="385.69" r="2.1" fill="#f8ddc1"/><circle cx="314.83" cy="385.67" r="2.1" fill="#f8ddc1"/><circle cx="315.32" cy="385.65" r="2.1" fill="#f8ddc1"/><circle cx="315.82" cy="385.63" r="2.1" fill="#f8ddc1"/><circle cx="316.31" cy="385.61" r="2.1" fill="#f8ddc0"/><circle cx="316.81" cy="385.59" r="2.1" fill="#f8ddc0"/><circle cx="317.31" cy="385.58" r="2.1" fill="#f8dcc0"/><circle cx="317.8" cy="385.56" r="2.1" fill="#f8dcc0"/><circle cx="318.3" cy="385.54" r="2.1" fill="#f8dcc0"/><circle cx="318.79" cy="385.52" r="2.1" fill="#f8dcc0"/><circle cx="319.29" cy="385.5" r="2.1" fill="#f8dcc0"/><circle cx="319.78" cy="385.48" r="2.1" fill="#f8dcbf"/><circle cx="320.28" cy="385.46" r="2.1" fill="#f8dcbf"/><circle cx="320.77" cy="385.44" r="2.1" fill="#f8dcbf"/><circle cx="321.27" cy="385.42" r="2.1" fill="#f8dcbf"/><circle cx="321.76" cy="385.41" r="2.1" fill="#f8dbbf"/><circle cx="322.26" cy="385.39" r="2.1" fill="#f8dbbf"/><circle cx="322.75" cy="385.37" r="2.1" fill="#f8dbbf"/><circle cx="323.25" cy="385.35" r="2.1" fill="#f8dbbe"/><circle cx="323.74" cy="385.33" r="2.1" fill="#f8dbbe"/><circle cx="324.24" cy="385.31" r="2.1" fill="#f8dbbe"/><circle cx="324.73" cy="385.29" r="2.1" fill="#f8dbbe"/><circle cx="325.23" cy="385.27" r="2.1" fill="#f8dbbe"/><circle cx="325.72" cy="385.25" r="2.1" fill="#f8dabe"/><circle cx="326.22" cy="385.24" r="2.1" fill="#f8dabe"/><circle cx="326.71" cy="385.22" r="2.1" fill="#f8dabd"/><circle cx="327.21" cy="385.2" r="2.1" fill="#f8dabd"/><circle cx="327.71" cy="385.18" r="2.1" fill="#f8dabd"/><circle cx="328.2" cy="385.16" r="2.1" fill="#f8dabd"/><circle cx="328.7" cy="385.14" r="2.1" fill="#f8dabd"/><circle cx="329.19" cy="385.12" r="2.1" fill="#f8dabd"/><circle cx="329.69" cy="385.1" r="2.1" fill="#f8dabd"/><circle cx="330.18" cy="385.09" r="2.1" fill="#f8d9bd"/><circle cx="330.68" cy="385.07" r="2.1" fill="#f8d9bc"/><circle cx="331.17" cy="385.05" r="2.1" fill="#f8d9bc"/><circle cx="331.67" cy="385.03" r="2.1" fill="#f8d9bc"/><circle cx="332.16" cy="385.01" r="2.1" fill="#f8d9bc"/><circle cx="332.66" cy="384.99" r="2.1" fill="#f8d9bc"/><circle cx="333.15" cy="384.97" r="2.1" fill="#f8d9bc"/><circle cx="333.65" cy="384.95" r="2.1" fill="#f8d9bc"/><circle cx="334.14" cy="384.93" r="2.1" fill="#f8d8bb"/><circle cx="334.64" cy="384.92" r="2.1" fill="#f8d8bb"/><circle cx="335.13" cy="384.9" r="2.1" fill="#f8d8bb"/><circle cx="335.63" cy="384.88" r="2.1" fill="#f8d8bb"/><circle cx="336.12" cy="384.86" r="2.1" fill="#f8d8bb"/><circle cx="336.62" cy="384.84" r="2.1" fill="#f8d8bb"/><circle cx="337.12" cy="384.82" r="2.1" fill="#f8d8bb"/><circle cx="337.61" cy="384.8" r="2.1" fill="#f8d8ba"/><circle cx="338.11" cy="384.78" r="2.1" fill="#f8d8ba"/><circle cx="338.6" cy="384.76" r="2.1" fill="#f8d7ba"/><circle cx="339.1" cy="384.75" r="2.1" fill="#f8d7ba"/><circle cx="339.59" cy="384.73" r="2.1" fill="#f8d7ba"/><circle cx="340.09" cy="384.71" r="2.1" fill="#f8d7ba"/><circle cx="340.58" cy="384.69" r="2.1" fill="#f8d7ba"/><circle cx="341.08" cy="384.67" r="2.1" fill="#f8d7b9"/><circle cx="341.57" cy="384.64" r="2.1" fill="#f8d7b9"/><circle cx="342.07" cy="384.62" r="2.1" fill="#f8d7b9"/><circle cx="342.56" cy="384.6" r="2.1" fill="#f7d6b9"/><circle cx="343.06" cy="384.58" r="2.1" fill="#f7d6b9"/><circle cx="343.55" cy="384.56" r="2.1" fill="#f7d6b9"/><circle cx="344.05" cy="384.54" r="2.1" fill="#f7d6b8"/><circle cx="344.54" cy="384.52" r="2.1" fill="#f7d6b8"/><circle cx="345.04" cy="384.5" r="2.1" fill="#f7d6b8"/><circle cx="345.53" cy="384.48" r="2.1" fill="#f7d6b8"/><circle cx="346.03" cy="384.46" r="2.1" fill="#f7d6b8"/><circle cx="346.53" cy="384.44" r="2.1" fill="#f7d5b8"/><circle cx="347.02" cy="384.41" r="2.1" fill="#f7d5b8"/><circle cx="347.52" cy="384.39" r="2.1" fill="#f7d5b7"/><circle cx="348.01" cy="384.37" r="2.1" fill="#f7d5b7"/><circle cx="348.51" cy="384.35" r="2.1" fill="#f7d5b7"/><circle cx="349" cy="384.33" r="2.1" fill="#f7d5b7"/><circle cx="349.5" cy="384.31" r="2.1" fill="#f7d5b7"/><circle cx="349.99" cy="384.29" r="2.1" fill="#f7d5b7"/><circle cx="350.49" cy="384.27" r="2.1" fill="#f7d4b6"/><circle cx="350.98" cy="384.25" r="2.1" fill="#f7d4b6"/><circle cx="351.48" cy="384.23" r="2.1" fill="#f7d4b6"/><circle cx="351.97" cy="384.21" r="2.1" fill="#f7d4b6"/><circle cx="352.47" cy="384.18" r="2.1" fill="#f7d4b6"/><circle cx="352.96" cy="384.16" r="2.1" fill="#f7d4b6"/><circle cx="353.46" cy="384.14" r="2.1" fill="#f7d4b6"/><circle cx="353.95" cy="384.12" r="2.1" fill="#f7d3b5"/><circle cx="354.45" cy="384.1" r="2.1" fill="#f7d3b5"/><circle cx="354.94" cy="384.08" r="2.1" fill="#f7d3b5"/><circle cx="355.44" cy="384.06" r="2.1" fill="#f7d3b5"/><circle cx="355.93" cy="384.04" r="2.1" fill="#f7d3b5"/><circle cx="356.43" cy="384.02" r="2.1" fill="#f7d3b5"/><circle cx="356.93" cy="384" r="2.1" fill="#f7d3b4"/><circle cx="357.42" cy="383.97" r="2.1" fill="#f7d3b4"/><circle cx="357.92" cy="383.95" r="2.1" fill="#f7d2b4"/><circle cx="358.41" cy="383.93" r="2.1" fill="#f7d2b4"/><circle cx="358.91" cy="383.91" r="2.1" fill="#f7d2b4"/><circle cx="359.4" cy="383.89" r="2.1" fill="#f7d2b4"/><circle cx="359.9" cy="383.87" r="2.1" fill="#f7d2b4"/><circle cx="360.39" cy="383.85" r="2.1" fill="#f7d2b3"/><circle cx="360.89" cy="383.83" r="2.1" fill="#f7d2b3"/><circle cx="361.38" cy="383.81" r="2.1" fill="#f7d2b3"/><circle cx="361.88" cy="383.79" r="2.1" fill="#f7d1b3"/><circle cx="362.37" cy="383.77" r="2.1" fill="#f7d1b3"/><circle cx="362.87" cy="383.74" r="2.1" fill="#f7d1b3"/><circle cx="363.36" cy="383.72" r="2.1" fill="#f7d1b2"/><circle cx="363.86" cy="383.7" r="2.1" fill="#f7d1b2"/><circle cx="364.35" cy="383.68" r="2.1" fill="#f7d1b2"/><circle cx="364.85" cy="383.66" r="2.1" fill="#f7d1b2"/><circle cx="365.34" cy="383.64" r="2.1" fill="#f7d1b2"/><circle cx="365.84" cy="383.62" r="2.1" fill="#f7d0b2"/><circle cx="366.34" cy="383.6" r="2.1" fill="#f7d0b2"/><circle cx="366.83" cy="383.58" r="2.1" fill="#f7d0b1"/><circle cx="367.33" cy="383.56" r="2.1" fill="#f7d0b1"/><circle cx="367.82" cy="383.53" r="2.1" fill="#f7d0b1"/><circle cx="368.32" cy="383.51" r="2.1" fill="#f7d0b1"/><circle cx="368.81" cy="383.49" r="2.1" fill="#f7d0b1"/><circle cx="369.31" cy="383.47" r="2.1" fill="#f7cfb1"/><circle cx="369.8" cy="383.45" r="2.1" fill="#f7cfb0"/><circle cx="370.3" cy="383.43" r="2.1" fill="#f7cfb0"/><circle cx="370.79" cy="383.41" r="2.1" fill="#f7cfb0"/><circle cx="371.29" cy="383.39" r="2.1" fill="#f7cfb0"/><circle cx="371.78" cy="383.37" r="2.1" fill="#f7cfb0"/><circle cx="372.28" cy="383.35" r="2.1" fill="#f7cfb0"/><circle cx="372.77" cy="383.33" r="2.1" fill="#f7cfb0"/><circle cx="373.27" cy="383.3" r="2.1" fill="#f7ceaf"/><circle cx="373.76" cy="383.28" r="2.1" fill="#f7ceaf"/><circle cx="374.26" cy="383.26" r="2.1" fill="#f7ceaf"/><circle cx="374.75" cy="383.24" r="2.1" fill="#f6ceaf"/><circle cx="375.25" cy="383.22" r="2.1" fill="#f6ceaf"/><circle cx="375.75" cy="383.2" r="2.1" fill="#f6ceaf"/><circle cx="376.24" cy="383.18" r="2.1" fill="#f6ceae"/><circle cx="376.74" cy="383.16" r="2.1" fill="#f6ceae"/><circle cx="377.23" cy="383.14" r="2.1" fill="#f6cdae"/><circle cx="377.73" cy="383.12" r="2.1" fill="#f6cdae"/><circle cx="378.22" cy="383.1" r="2.1" fill="#f6cdae"/><circle cx="378.72" cy="383.07" r="2.1" fill="#f6cdae"/><circle cx="379.21" cy="383.05" r="2.1" fill="#f6cdad"/><circle cx="379.71" cy="383.03" r="2.1" fill="#f6cdad"/><circle cx="380.2" cy="383.01" r="2.1" fill="#f6cdad"/><circle cx="380.7" cy="382.99" r="2.1" fill="#f6cdad"/><circle cx="381.19" cy="382.97" r="2.1" fill="#f6ccad"/><circle cx="381.69" cy="382.95" r="2.1" fill="#f6ccad"/><circle cx="382.18" cy="382.93" r="2.1" fill="#f6ccad"/><circle cx="382.68" cy="382.91" r="2.1" fill="#f6ccac"/><circle cx="383.17" cy="382.89" r="2.1" fill="#f6ccac"/><circle cx="383.67" cy="382.86" r="2.1" fill="#f6ccac"/><circle cx="384.16" cy="382.84" r="2.1" fill="#f6ccac"/><circle cx="384.66" cy="382.82" r="2.1" fill="#f6cbac"/><circle cx="385.15" cy="382.8" r="2.1" fill="#f6cbac"/><circle cx="385.65" cy="382.78" r="2.1" fill="#f6cbab"/><circle cx="386.15" cy="382.76" r="2.1" fill="#f6cbab"/><circle cx="386.64" cy="382.74" r="2.1" fill="#f6cbab"/><circle cx="387.14" cy="382.72" r="2.1" fill="#f6cbab"/><circle cx="387.63" cy="382.7" r="2.1" fill="#f6cbab"/><circle cx="388.13" cy="382.68" r="2.1" fill="#f6cbab"/><circle cx="388.62" cy="382.66" r="2.1" fill="#f6caab"/><circle cx="389.12" cy="382.63" r="2.1" fill="#f6caaa"/><circle cx="389.61" cy="382.61" r="2.1" fill="#f6caaa"/><circle cx="390.11" cy="382.59" r="2.1" fill="#f6caaa"/><circle cx="390.6" cy="382.57" r="2.1" fill="#f6caaa"/><circle cx="391.1" cy="382.55" r="2.1" fill="#f6caaa"/><circle cx="391.59" cy="382.53" r="2.1" fill="#f6caaa"/><circle cx="392.09" cy="382.51" r="2.1" fill="#f6c9a9"/><circle cx="392.58" cy="382.49" r="2.1" fill="#f6c9a9"/><circle cx="393.08" cy="382.47" r="2.1" fill="#f6c9a9"/><circle cx="393.57" cy="382.45" r="2.1" fill="#f6c9a9"/><circle cx="394.07" cy="382.42" r="2.1" fill="#f6c9a9"/><circle cx="394.56" cy="382.4" r="2.1" fill="#f6c9a9"/><circle cx="395.06" cy="382.38" r="2.1" fill="#f6c9a8"/><circle cx="395.56" cy="382.36" r="2.1" fill="#f6c8a8"/><circle cx="396.05" cy="382.34" r="2.1" fill="#f6c8a8"/><circle cx="396.55" cy="382.32" r="2.1" fill="#f6c8a8"/><circle cx="397.04" cy="382.3" r="2.1" fill="#f6c8a8"/><circle cx="397.54" cy="382.28" r="2.1" fill="#f6c8a8"/><circle cx="398.03" cy="382.26" r="2.1" fill="#f6c8a8"/><circle cx="398.53" cy="382.24" r="2.1" fill="#f6c8a7"/><circle cx="399.02" cy="382.22" r="2.1" fill="#f6c7a7"/><circle cx="399.52" cy="382.19" r="2.1" fill="#f6c7a7"/><circle cx="400.01" cy="382.17" r="2.1" fill="#f6c7a7"/><circle cx="400.51" cy="382.14" r="2.1" fill="#f6c7a7"/><circle cx="401" cy="382.1" r="2.1" fill="#f6c7a6"/><circle cx="401.5" cy="382.07" r="2.1" fill="#f5c6a6"/><circle cx="401.99" cy="382.03" r="2.1" fill="#f5c6a6"/><circle cx="402.49" cy="382" r="2.1" fill="#f5c6a6"/><circle cx="402.98" cy="381.96" r="2.1" fill="#f5c6a5"/><circle cx="403.48" cy="381.93" r="2.1" fill="#f5c5a5"/><circle cx="403.97" cy="381.89" r="2.1" fill="#f5c5a5"/><circle cx="404.47" cy="381.86" r="2.1" fill="#f5c5a4"/><circle cx="404.97" cy="381.82" r="2.1" fill="#f5c5a4"/><circle cx="405.46" cy="381.79" r="2.1" fill="#f5c4a4"/><circle cx="405.96" cy="381.75" r="2.1" fill="#f5c4a4"/><circle cx="406.45" cy="381.72" r="2.1" fill="#f5c4a3"/><circle cx="406.95" cy="381.68" r="2.1" fill="#f5c4a3"/><circle cx="407.44" cy="381.65" r="2.1" fill="#f5c3a3"/><circle cx="407.94" cy="381.61" r="2.1" fill="#f5c3a3"/><circle cx="408.43" cy="381.57" r="2.1" fill="#f5c3a2"/><circle cx="408.93" cy="381.54" r="2.1" fill="#f5c3a2"/><circle cx="409.42" cy="381.5" r="2.1" fill="#f5c2a2"/><circle cx="409.92" cy="381.47" r="2.1" fill="#f5c2a2"/><circle cx="410.41" cy="381.43" r="2.1" fill="#f5c2a1"/><circle cx="410.91" cy="381.4" r="2.1" fill="#f5c2a1"/><circle cx="411.4" cy="381.36" r="2.1" fill="#f5c1a1"/><circle cx="411.9" cy="381.33" r="2.1" fill="#f5c1a0"/><circle cx="412.39" cy="381.29" r="2.1" fill="#f5c1a0"/><circle cx="412.89" cy="381.26" r="2.1" fill="#f5c1a0"/><circle cx="413.38" cy="381.22" r="2.1" fill="#f5c0a0"/><circle cx="413.88" cy="381.19" r="2.1" fill="#f5c09f"/><circle cx="414.37" cy="381.15" r="2.1" fill="#f5c09f"/><circle cx="414.87" cy="381.12" r="2.1" fill="#f5c09f"/><circle cx="415.37" cy="381.08" r="2.1" fill="#f5bf9f"/><circle cx="415.86" cy="381.05" r="2.1" fill="#f4bf9e"/><circle cx="416.36" cy="381.01" r="2.1" fill="#f4bf9e"/><circle cx="416.85" cy="380.98" r="2.1" fill="#f4bf9e"/><circle cx="417.35" cy="380.94" r="2.1" fill="#f4be9d"/><circle cx="417.84" cy="380.91" r="2.1" fill="#f4be9d"/><circle cx="418.34" cy="380.87" r="2.1" fill="#f4be9d"/><circle cx="418.83" cy="380.84" r="2.1" fill="#f4be9d"/><circle cx="419.33" cy="380.8" r="2.1" fill="#f4bd9c"/><circle cx="419.82" cy="380.77" r="2.1" fill="#f4bd9c"/><circle cx="420.32" cy="380.73" r="2.1" fill="#f4bd9c"/><circle cx="420.81" cy="380.7" r="2.1" fill="#f4bd9c"/><circle cx="421.31" cy="380.66" r="2.1" fill="#f4bc9b"/><circle cx="421.8" cy="380.62" r="2.1" fill="#f4bc9b"/><circle cx="422.3" cy="380.59" r="2.1" fill="#f4bc9b"/><circle cx="422.79" cy="380.55" r="2.1" fill="#f4bc9b"/><circle cx="423.29" cy="380.52" r="2.1" fill="#f4bb9a"/><circle cx="423.78" cy="380.48" r="2.1" fill="#f4bb9a"/><circle cx="424.28" cy="380.45" r="2.1" fill="#f4bb9a"/><circle cx="424.78" cy="380.41" r="2.1" fill="#f4bb99"/><circle cx="425.27" cy="380.38" r="2.1" fill="#f4ba99"/><circle cx="425.77" cy="380.34" r="2.1" fill="#f4ba99"/><circle cx="426.26" cy="380.31" r="2.1" fill="#f4ba99"/><circle cx="426.76" cy="380.27" r="2.1" fill="#f4ba98"/><circle cx="427.25" cy="380.24" r="2.1" fill="#f4b998"/><circle cx="427.75" cy="380.2" r="2.1" fill="#f4b998"/><circle cx="428.24" cy="380.17" r="2.1" fill="#f4b998"/><circle cx="428.74" cy="380.13" r="2.1" fill="#f4b997"/><circle cx="429.23" cy="380.1" r="2.1" fill="#f4b897"/><circle cx="429.73" cy="380.06" r="2.1" fill="#f4b897"/><circle cx="430.22" cy="380.01" r="2.1" fill="#f3b896"/><circle cx="430.72" cy="379.94" r="2.1" fill="#f3b796"/><circle cx="431.21" cy="379.87" r="2.1" fill="#f3b795"/><circle cx="431.71" cy="379.81" r="2.1" fill="#f3b695"/><circle cx="432.2" cy="379.74" r="2.1" fill="#f3b694"/><circle cx="432.7" cy="379.67" r="2.1" fill="#f3b594"/><circle cx="433.19" cy="379.6" r="2.1" fill="#f3b593"/><circle cx="433.69" cy="379.53" r="2.1" fill="#f3b493"/><circle cx="434.19" cy="379.46" r="2.1" fill="#f3b492"/><circle cx="434.68" cy="379.4" r="2.1" fill="#f3b392"/><circle cx="435.18" cy="379.33" r="2.1" fill="#f3b391"/><circle cx="435.67" cy="379.26" r="2.1" fill="#f3b291"/><circle cx="436.17" cy="379.19" r="2.1" fill="#f3b290"/><circle cx="436.66" cy="379.12" r="2.1" fill="#f3b190"/><circle cx="437.16" cy="379.05" r="2.1" fill="#f3b18f"/><circle cx="437.65" cy="378.99" r="2.1" fill="#f2b08f"/><circle cx="438.15" cy="378.92" r="2.1" fill="#f2b08e"/><circle cx="438.64" cy="378.85" r="2.1" fill="#f2af8e"/><circle cx="439.14" cy="378.78" r="2.1" fill="#f2af8d"/><circle cx="439.63" cy="378.71" r="2.1" fill="#f2ae8c"/><circle cx="440.13" cy="378.64" r="2.1" fill="#f2ae8c"/><circle cx="440.62" cy="378.58" r="2.1" fill="#f2ad8b"/><circle cx="441.12" cy="378.51" r="2.1" fill="#f2ad8b"/><circle cx="441.61" cy="378.44" r="2.1" fill="#f2ac8a"/><circle cx="442.11" cy="378.37" r="2.1" fill="#f2ac8a"/><circle cx="442.6" cy="378.28" r="2.1" fill="#f2ab89"/><circle cx="443.1" cy="378.13" r="2.1" fill="#f2aa88"/><circle cx="443.59" cy="377.98" r="2.1" fill="#f2a987"/><circle cx="444.09" cy="377.82" r="2.1" fill="#f1a886"/><circle cx="444.59" cy="377.67" r="2.1" fill="#f1a785"/><circle cx="445.08" cy="377.52" r="2.1" fill="#f1a684"/><circle cx="445.58" cy="377.36" r="2.1" fill="#f1a583"/><circle cx="446.07" cy="377.21" r="2.1" fill="#f1a482"/><circle cx="446.57" cy="377.06" r="2.1" fill="#f1a381"/><circle cx="447.06" cy="376.9" r="2.1" fill="#f1a180"/><circle cx="447.56" cy="376.75" r="2.1" fill="#f1a07f"/><circle cx="448.05" cy="376.6" r="2.1" fill="#f19f7e"/><circle cx="448.55" cy="376.4" r="2.1" fill="#f09e7d"/><circle cx="449.04" cy="376.11" r="2.1" fill="#f09c7b"/><circle cx="449.54" cy="375.82" r="2.1" fill="#f09a79"/><circle cx="450.03" cy="375.53" r="2.1" fill="#f09877"/><circle cx="450.53" cy="375.24" r="2.1" fill="#f09675"/><circle cx="451.02" cy="374.94" r="2.1" fill="#ef9373"/><circle cx="451.52" cy="374.27" r="2.1" fill="#ef8f6f"/><circle cx="452.01" cy="373.59" r="2.1" fill="#ef8b6b"/><circle cx="452.51" cy="372.91" r="2.1" fill="#ef8867"/><circle cx="453" cy="371.66" r="2.1" fill="#ee815f"/><circle cx="453.5" cy="370.4" r="2.1" fill="#ee7a58"/><circle cx="453.4" cy="364.01" r="2.1" fill="#f4482a"/><circle cx="453.9" cy="360.45" r="2.1" fill="#fb2c14"/><circle cx="454.4" cy="356.9" r="2.1" fill="#ff1a06"/></g>
<path d="M158 390.7H456.7" stroke="#4a4a4a" stroke-width="1" stroke-dasharray="3 3.2"/>
<text x="372.7" y="145.2" font-size="9.8" fill="#333" textLength="83.7" lengthAdjust="spacingAndGlyphs">Olaparib_AZD1390</text>
<text x="353.9" y="159.1" font-size="9.8" fill="#333" textLength="90.1" lengthAdjust="spacingAndGlyphs">Rucaparib_AZD1390</text>
<text x="343.9" y="173.2" font-size="9.8" fill="#333" textLength="85.4" lengthAdjust="spacingAndGlyphs">Idelalisib_AZD7648</text>
<text x="339.2" y="187.4" font-size="9.8" fill="#333" textLength="75.7" lengthAdjust="spacingAndGlyphs">AZD1390_JQAD1</text>
<text x="338" y="201" font-size="9.8" fill="#333" textLength="62.5" lengthAdjust="spacingAndGlyphs">TPCA-1_IPA-3</text>
<text x="311.2" y="214.9" font-size="9.8" fill="#333" textLength="75.2" lengthAdjust="spacingAndGlyphs">IPA-3_Navitoclax</text>
<text x="293.5" y="228.3" font-size="9.8" fill="#333" textLength="79.2" lengthAdjust="spacingAndGlyphs">JQAD1_Navitoclax</text>
<text x="269.4" y="241.7" font-size="9.8" fill="#333" textLength="88.9" lengthAdjust="spacingAndGlyphs">Olaparib_Navitoclax</text>
<text x="259.9" y="256.1" font-size="9.8" fill="#333" textLength="85.1" lengthAdjust="spacingAndGlyphs">AZD1390_CX-5461</text>
<text x="234.6" y="270" font-size="9.8" fill="#333" textLength="96.8" lengthAdjust="spacingAndGlyphs">Capivasertib_Acitretin</text>
<text x="214" y="284.9" font-size="9.8" fill="#333" textLength="103.8" lengthAdjust="spacingAndGlyphs">Regorafenib_Navitoclax</text>
<text x="201.1" y="299.3" font-size="9.8" fill="#333" textLength="101.8" lengthAdjust="spacingAndGlyphs">Belinostat_LY-2955303</text>
<text x="210.5" y="312.9" font-size="9.8" fill="#333" textLength="78.2" lengthAdjust="spacingAndGlyphs">Rucaparib_JQAD1</text>
<text x="173.9" y="326.5" font-size="9.8" fill="#333" textLength="100.9" lengthAdjust="spacingAndGlyphs">Idasanutlin_Navitoclax</text>
<text x="156.4" y="341" font-size="9.8" fill="#333" textLength="106.3" lengthAdjust="spacingAndGlyphs">Everolimus_Samotolisib</text>
<path d="M12.8 546L63.5 511.5V583.8z" fill="url(#tri)"/>
<text transform="translate(7.7,548) rotate(-90)" text-anchor="middle" font-size="9.8" fill="#1a1a1a">Sparse mode</text>
<path d="M12.8 669.5L63.5 635V707.3z" fill="url(#tri)"/>
<text transform="translate(7.7,669.8) rotate(-90)" text-anchor="middle" font-size="9.8" fill="#1a1a1a">Dense mode</text>
<rect x="108.1" y="506.3" width="7.76" height="7.76" fill="#f05b53"/>
<rect x="115.86" y="506.3" width="7.76" height="7.76" fill="#f17a6c"/>
<rect x="123.62" y="506.3" width="7.76" height="7.76" fill="#ef4e4b"/>
<rect x="131.38" y="506.3" width="7.76" height="7.76" fill="#ef4847"/>
<rect x="139.14" y="506.3" width="7.76" height="7.76" fill="#ef4545"/>
<rect x="146.9" y="506.3" width="7.76" height="7.76" fill="#ef4545"/>
<rect x="154.66" y="506.3" width="7.76" height="7.76" fill="#ef4545"/>
<rect x="162.42" y="506.3" width="7.76" height="7.76" fill="#ef4545"/>
<rect x="170.18" y="506.3" width="7.76" height="7.76" fill="#ef4545"/>
<rect x="177.94" y="506.3" width="7.76" height="7.76" fill="#ef4545"/>
<rect x="108.1" y="514.06" width="7.76" height="7.76" fill="#e9e6e1"/>
<rect x="115.86" y="514.06" width="7.76" height="7.76" fill="#f4c6b5"/>
<rect x="123.62" y="514.06" width="7.76" height="7.76" fill="#f18373"/>
<rect x="131.38" y="514.06" width="7.76" height="7.76" fill="#f17a6c"/>
<rect x="139.14" y="514.06" width="7.76" height="7.76" fill="#f0675c"/>
<rect x="146.9" y="514.06" width="7.76" height="7.76" fill="#ef4e4b"/>
<rect x="154.66" y="514.06" width="7.76" height="7.76" fill="#ef4545"/>
<rect x="162.42" y="514.06" width="7.76" height="7.76" fill="#ef4545"/>
<rect x="170.18" y="514.06" width="7.76" height="7.76" fill="#ef4545"/>
<rect x="177.94" y="514.06" width="7.76" height="7.76" fill="#ef4545"/>
<rect x="108.1" y="521.82" width="7.76" height="7.76" fill="#a8bec6"/>
<rect x="115.86" y="521.82" width="7.76" height="7.76" fill="#b9c9cd"/>
<rect x="123.62" y="521.82" width="7.76" height="7.76" fill="#f5c2b0"/>
<rect x="131.38" y="521.82" width="7.76" height="7.76" fill="#f28f7f"/>
<rect x="139.14" y="521.82" width="7.76" height="7.76" fill="#f17266"/>
<rect x="146.9" y="521.82" width="7.76" height="7.76" fill="#ef4b49"/>
<rect x="154.66" y="521.82" width="7.76" height="7.76" fill="#ef4545"/>
<rect x="162.42" y="521.82" width="7.76" height="7.76" fill="#ef4545"/>
<rect x="170.18" y="521.82" width="7.76" height="7.76" fill="#ef4545"/>
<rect x="177.94" y="521.82" width="7.76" height="7.76" fill="#ef4545"/>
<rect x="108.1" y="529.58" width="7.76" height="7.76" fill="#9fb8c2"/>
<rect x="115.86" y="529.58" width="7.76" height="7.76" fill="#a8bec6"/>
<rect x="123.62" y="529.58" width="7.76" height="7.76" fill="#f4cabb"/>
<rect x="131.38" y="529.58" width="7.76" height="7.76" fill="#f29c8a"/>
<rect x="139.14" y="529.58" width="7.76" height="7.76" fill="#f0675c"/>
<rect x="146.9" y="529.58" width="7.76" height="7.76" fill="#ef4b49"/>
<rect x="154.66" y="529.58" width="7.76" height="7.76" fill="#ef4545"/>
<rect x="162.42" y="529.58" width="7.76" height="7.76" fill="#ef4545"/>
<rect x="170.18" y="529.58" width="7.76" height="7.76" fill="#ef4545"/>
<rect x="177.94" y="529.58" width="7.76" height="7.76" fill="#ef4545"/>
<rect x="108.1" y="537.34" width="7.76" height="7.76" fill="#99b4c0"/>
<rect x="115.86" y="537.34" width="7.76" height="7.76" fill="#9fb8c2"/>
<rect x="123.62" y="537.34" width="7.76" height="7.76" fill="#cad4d5"/>
<rect x="131.38" y="537.34" width="7.76" height="7.76" fill="#f3a492"/>
<rect x="139.14" y="537.34" width="7.76" height="7.76" fill="#f17266"/>
<rect x="146.9" y="537.34" width="7.76" height="7.76" fill="#f05b53"/>
<rect x="154.66" y="537.34" width="7.76" height="7.76" fill="#ef4b49"/>
<rect x="162.42" y="537.34" width="7.76" height="7.76" fill="#ef4545"/>
<rect x="170.18" y="537.34" width="7.76" height="7.76" fill="#ef4545"/>
<rect x="177.94" y="537.34" width="7.76" height="7.76" fill="#ef4545"/>
<rect x="108.1" y="545.1" width="7.76" height="7.76" fill="#9fb8c2"/>
<rect x="115.86" y="545.1" width="7.76" height="7.76" fill="#9fb8c2"/>
<rect x="123.62" y="545.1" width="7.76" height="7.76" fill="#cad4d5"/>
<rect x="131.38" y="545.1" width="7.76" height="7.76" fill="#f1d7cc"/>
<rect x="139.14" y="545.1" width="7.76" height="7.76" fill="#f18373"/>
<rect x="146.9" y="545.1" width="7.76" height="7.76" fill="#f16e63"/>
<rect x="154.66" y="545.1" width="7.76" height="7.76" fill="#f05b53"/>
<rect x="162.42" y="545.1" width="7.76" height="7.76" fill="#ef4545"/>
<rect x="170.18" y="545.1" width="7.76" height="7.76" fill="#ef4545"/>
<rect x="177.94" y="545.1" width="7.76" height="7.76" fill="#ef4545"/>
<rect x="108.1" y="552.86" width="7.76" height="7.76" fill="#99b4c0"/>
<rect x="115.86" y="552.86" width="7.76" height="7.76" fill="#7fa5b6"/>
<rect x="123.62" y="552.86" width="7.76" height="7.76" fill="#a8bec6"/>
<rect x="131.38" y="552.86" width="7.76" height="7.76" fill="#e0e1dd"/>
<rect x="139.14" y="552.86" width="7.76" height="7.76" fill="#f5c2b0"/>
<rect x="146.9" y="552.86" width="7.76" height="7.76" fill="#f28b7b"/>
<rect x="154.66" y="552.86" width="7.76" height="7.76" fill="#f17266"/>
<rect x="162.42" y="552.86" width="7.76" height="7.76" fill="#f06359"/>
<rect x="170.18" y="552.86" width="7.76" height="7.76" fill="#ef4545"/>
<rect x="177.94" y="552.86" width="7.76" height="7.76" fill="#ef4545"/>
<rect x="108.1" y="560.62" width="7.76" height="7.76" fill="#89aab9"/>
<rect x="115.86" y="560.62" width="7.76" height="7.76" fill="#89aab9"/>
<rect x="123.62" y="560.62" width="7.76" height="7.76" fill="#9fb8c2"/>
<rect x="131.38" y="560.62" width="7.76" height="7.76" fill="#b2c4ca"/>
<rect x="139.14" y="560.62" width="7.76" height="7.76" fill="#cad4d5"/>
<rect x="146.9" y="560.62" width="7.76" height="7.76" fill="#f4c6b5"/>
<rect x="154.66" y="560.62" width="7.76" height="7.76" fill="#f4baa8"/>
<rect x="162.42" y="560.62" width="7.76" height="7.76" fill="#f17a6c"/>
<rect x="170.18" y="560.62" width="7.76" height="7.76" fill="#ef4b49"/>
<rect x="177.94" y="560.62" width="7.76" height="7.76" fill="#ef4545"/>
<rect x="108.1" y="568.38" width="7.76" height="7.76" fill="#92b0bd"/>
<rect x="115.86" y="568.38" width="7.76" height="7.76" fill="#7fa5b6"/>
<rect x="123.62" y="568.38" width="7.76" height="7.76" fill="#99b4c0"/>
<rect x="131.38" y="568.38" width="7.76" height="7.76" fill="#9fb8c2"/>
<rect x="139.14" y="568.38" width="7.76" height="7.76" fill="#b9c9cd"/>
<rect x="146.9" y="568.38" width="7.76" height="7.76" fill="#d3dad8"/>
<rect x="154.66" y="568.38" width="7.76" height="7.76" fill="#e9e6e1"/>
<rect x="162.42" y="568.38" width="7.76" height="7.76" fill="#f29c8a"/>
<rect x="170.18" y="568.38" width="7.76" height="7.76" fill="#f0554f"/>
<rect x="177.94" y="568.38" width="7.76" height="7.76" fill="#ef4545"/>
<rect x="108.1" y="576.14" width="7.76" height="7.76" fill="#b9c9cd"/>
<rect x="115.86" y="576.14" width="7.76" height="7.76" fill="#99b4c0"/>
<rect x="123.62" y="576.14" width="7.76" height="7.76" fill="#92b0bd"/>
<rect x="131.38" y="576.14" width="7.76" height="7.76" fill="#9fb8c2"/>
<rect x="139.14" y="576.14" width="7.76" height="7.76" fill="#a8bec6"/>
<rect x="146.9" y="576.14" width="7.76" height="7.76" fill="#b2c4ca"/>
<rect x="154.66" y="576.14" width="7.76" height="7.76" fill="#b9c9cd"/>
<rect x="162.42" y="576.14" width="7.76" height="7.76" fill="#f3ab99"/>
<rect x="170.18" y="576.14" width="7.76" height="7.76" fill="#f05b53"/>
<rect x="177.94" y="576.14" width="7.76" height="7.76" fill="#ef4847"/>
<path d="M115.86 506.3V583.9M123.62 506.3V583.9M131.38 506.3V583.9M139.14 506.3V583.9M146.9 506.3V583.9M154.66 506.3V583.9M162.42 506.3V583.9M170.18 506.3V583.9M177.94 506.3V583.9M108.1 514.06H185.7M108.1 521.82H185.7M108.1 529.58H185.7M108.1 537.34H185.7M108.1 545.1H185.7M108.1 552.86H185.7M108.1 560.62H185.7M108.1 568.38H185.7M108.1 576.14H185.7" stroke="#000" stroke-width="0.75" stroke-opacity="0.55"/>
<rect x="108.1" y="506.3" width="77.6" height="77.6" fill="none" stroke="#222" stroke-width="0.9"/>
<rect x="97.8" y="506.3" width="7.7" height="7.76" fill="#f05b53"/>
<rect x="97.8" y="514.06" width="7.7" height="7.76" fill="#e9e6e1"/>
<rect x="97.8" y="521.82" width="7.7" height="7.76" fill="#a8bec6"/>
<rect x="97.8" y="529.58" width="7.7" height="7.76" fill="#89aab9"/>
<rect x="97.8" y="537.34" width="7.7" height="7.76" fill="#739db1"/>
<rect x="97.8" y="545.1" width="7.7" height="7.76" fill="#86a8b8"/>
<rect x="97.8" y="552.86" width="7.7" height="7.76" fill="#7fa5b6"/>
<rect x="97.8" y="560.62" width="7.7" height="7.76" fill="#9fb8c2"/>
<rect x="97.8" y="568.38" width="7.7" height="7.76" fill="#a8bec6"/>
<rect x="97.8" y="576.14" width="7.7" height="7.76" fill="#89aab9"/>
<path d="M97.8 514.06H105.5M97.8 521.82H105.5M97.8 529.58H105.5M97.8 537.34H105.5M97.8 545.1H105.5M97.8 552.86H105.5M97.8 560.62H105.5M97.8 568.38H105.5M97.8 576.14H105.5" stroke="#000" stroke-width="0.7" stroke-opacity="0.45"/>
<rect x="97.8" y="506.3" width="7.7" height="77.6" fill="none" stroke="#bbb" stroke-width="0.5"/>
<rect x="108.1" y="586.2" width="7.76" height="8" fill="#89aab9"/>
<rect x="115.86" y="586.2" width="7.76" height="8" fill="#79a1b3"/>
<rect x="123.62" y="586.2" width="7.76" height="8" fill="#92b0bd"/>
<rect x="131.38" y="586.2" width="7.76" height="8" fill="#9fb8c2"/>
<rect x="139.14" y="586.2" width="7.76" height="8" fill="#92b0bd"/>
<rect x="146.9" y="586.2" width="7.76" height="8" fill="#a8bec6"/>
<rect x="154.66" y="586.2" width="7.76" height="8" fill="#b2c4ca"/>
<rect x="162.42" y="586.2" width="7.76" height="8" fill="#f3ab99"/>
<rect x="170.18" y="586.2" width="7.76" height="8" fill="#ef4e4b"/>
<rect x="177.94" y="586.2" width="7.76" height="8" fill="#ef4847"/>
<path d="M115.86 586.2V594.2M123.62 586.2V594.2M131.38 586.2V594.2M139.14 586.2V594.2M146.9 586.2V594.2M154.66 586.2V594.2M162.42 586.2V594.2M170.18 586.2V594.2M177.94 586.2V594.2" stroke="#000" stroke-width="0.7" stroke-opacity="0.45"/>
<rect x="108.1" y="586.2" width="77.6" height="8" fill="none" stroke="#bbb" stroke-width="0.5"/>
<linearGradient id="gg" x1="0" x2="0" y1="1" y2="0"><stop offset="0" stop-color="#7ba2b4"/><stop offset="0.08" stop-color="#95b2be"/><stop offset="0.17" stop-color="#aec2c8"/><stop offset="0.25" stop-color="#c9d3d4"/><stop offset="0.33" stop-color="#e2e2de"/><stop offset="0.42" stop-color="#f0d9cf"/><stop offset="0.5" stop-color="#f4c8b8"/><stop offset="0.58" stop-color="#f4af9d"/><stop offset="0.67" stop-color="#f28f7e"/><stop offset="0.75" stop-color="#f16e62"/><stop offset="0.83" stop-color="#f0514d"/><stop offset="0.92" stop-color="#ef4545"/><stop offset="1" stop-color="#ef4545"/></linearGradient>
<rect x="190.3" y="507.4" width="5.6" height="33.6" fill="url(#gg)" stroke="#333" stroke-width="0.7"/>
<path d="M190.3 540.2h1.1M195.9 540.2h-1.1M190.3 532.38h1.1M195.9 532.38h-1.1M190.3 524.55h1.1M195.9 524.55h-1.1M190.3 516.73h1.1M195.9 516.73h-1.1M190.3 508.9h1.1M195.9 508.9h-1.1" stroke="#222" stroke-width="0.6"/>
<text x="196.6" y="512.4" font-size="9.8" fill="#333">100</text>
<text x="196.6" y="528.05" font-size="9.8" fill="#333">50</text>
<text x="196.6" y="543.7" font-size="9.8" fill="#333">0</text>
<text x="147.1" y="502" font-size="9.8" fill="#1a1a1a" text-anchor="middle">%Cell death</text>
<text x="95" y="514.6" font-size="10" fill="#666" text-anchor="end">25</text>
<text x="95" y="584.2" font-size="10" fill="#666" text-anchor="end">0.001</text>
<path d="M95.3 510.2h2M95.3 580h2" stroke="#666" stroke-width="0.6"/>
<text x="112" y="604.3" font-size="10" fill="#666" text-anchor="middle">0.001</text>
<text x="181.8" y="604.3" font-size="10" fill="#666" text-anchor="middle">25</text>
<path d="M112 594.6v2M181.8 594.6v2" stroke="#666" stroke-width="0.6"/>
<text x="146.3" y="614.9" font-size="9.8" fill="#1a1a1a" text-anchor="middle">Olaparib (µM)</text>
<text transform="translate(79.5,543.1) rotate(-90)" text-anchor="middle" font-size="9.8" fill="#1a1a1a">AZD1390 (µM)</text>
<path d="M90 522H94.8L94.5 572.7z" fill="url(#wedge)"/>
<path d="M126.1 602.8L173.5 597.3V602.8z" fill="url(#wedgeh)"/>
<text x="80.3" y="496.9" font-size="17" font-weight="bold" text-anchor="end" fill="#000">g</text>
<rect x="263.3" y="506.3" width="7.76" height="7.76" fill="#eddfd7"/>
<rect x="271.06" y="506.3" width="7.76" height="7.76" fill="#d2d9d8"/>
<rect x="278.82" y="506.3" width="7.76" height="7.76" fill="#efdbd1"/>
<rect x="286.58" y="506.3" width="7.76" height="7.76" fill="#f2d6c9"/>
<rect x="294.34" y="506.3" width="7.76" height="7.76" fill="#f4cbbb"/>
<rect x="302.1" y="506.3" width="7.76" height="7.76" fill="#f4c8b8"/>
<rect x="309.86" y="506.3" width="7.76" height="7.76" fill="#f5c4b3"/>
<rect x="317.62" y="506.3" width="7.76" height="7.76" fill="#f3d2c4"/>
<rect x="325.38" y="506.3" width="7.76" height="7.76" fill="#efdbd1"/>
<rect x="333.14" y="506.3" width="7.76" height="7.76" fill="#eeded5"/>
<rect x="263.3" y="514.06" width="7.76" height="7.76" fill="#eddfd7"/>
<rect x="271.06" y="514.06" width="7.76" height="7.76" fill="#f5c4b3"/>
<rect x="278.82" y="514.06" width="7.76" height="7.76" fill="#f3ad9b"/>
<rect x="286.58" y="514.06" width="7.76" height="7.76" fill="#f3a694"/>
<rect x="294.34" y="514.06" width="7.76" height="7.76" fill="#f28c7c"/>
<rect x="302.1" y="514.06" width="7.76" height="7.76" fill="#f18172"/>
<rect x="309.86" y="514.06" width="7.76" height="7.76" fill="#f18777"/>
<rect x="317.62" y="514.06" width="7.76" height="7.76" fill="#f3a18f"/>
<rect x="325.38" y="514.06" width="7.76" height="7.76" fill="#f2d6c9"/>
<rect x="333.14" y="514.06" width="7.76" height="7.76" fill="#efdbd1"/>
<rect x="263.3" y="521.82" width="7.76" height="7.76" fill="#eddfd7"/>
<rect x="271.06" y="521.82" width="7.76" height="7.76" fill="#f3cdbf"/>
<rect x="278.82" y="521.82" width="7.76" height="7.76" fill="#f3ad9b"/>
<rect x="286.58" y="521.82" width="7.76" height="7.76" fill="#f29c8a"/>
<rect x="294.34" y="521.82" width="7.76" height="7.76" fill="#f18777"/>
<rect x="302.1" y="521.82" width="7.76" height="7.76" fill="#f06057"/>
<rect x="309.86" y="521.82" width="7.76" height="7.76" fill="#f06057"/>
<rect x="317.62" y="521.82" width="7.76" height="7.76" fill="#f29483"/>
<rect x="325.38" y="521.82" width="7.76" height="7.76" fill="#f2d6c9"/>
<rect x="333.14" y="521.82" width="7.76" height="7.76" fill="#ebe3dd"/>
<rect x="263.3" y="529.58" width="7.76" height="7.76" fill="#eddfd7"/>
<rect x="271.06" y="529.58" width="7.76" height="7.76" fill="#f4cbbb"/>
<rect x="278.82" y="529.58" width="7.76" height="7.76" fill="#f3a18f"/>
<rect x="286.58" y="529.58" width="7.76" height="7.76" fill="#f29483"/>
<rect x="294.34" y="529.58" width="7.76" height="7.76" fill="#f05952"/>
<rect x="302.1" y="529.58" width="7.76" height="7.76" fill="#f0514d"/>
<rect x="309.86" y="529.58" width="7.76" height="7.76" fill="#f0514d"/>
<rect x="317.62" y="529.58" width="7.76" height="7.76" fill="#f28c7c"/>
<rect x="325.38" y="529.58" width="7.76" height="7.76" fill="#f2d3c6"/>
<rect x="333.14" y="529.58" width="7.76" height="7.76" fill="#eeded5"/>
<rect x="263.3" y="537.34" width="7.76" height="7.76" fill="#f2d6c9"/>
<rect x="271.06" y="537.34" width="7.76" height="7.76" fill="#f3cdbf"/>
<rect x="278.82" y="537.34" width="7.76" height="7.76" fill="#f4baa8"/>
<rect x="286.58" y="537.34" width="7.76" height="7.76" fill="#f29c8a"/>
<rect x="294.34" y="537.34" width="7.76" height="7.76" fill="#f0514d"/>
<rect x="302.1" y="537.34" width="7.76" height="7.76" fill="#f0514d"/>
<rect x="309.86" y="537.34" width="7.76" height="7.76" fill="#ef4948"/>
<rect x="317.62" y="537.34" width="7.76" height="7.76" fill="#f28c7c"/>
<rect x="325.38" y="537.34" width="7.76" height="7.76" fill="#f3d2c4"/>
<rect x="333.14" y="537.34" width="7.76" height="7.76" fill="#efdbd1"/>
<rect x="263.3" y="545.1" width="7.76" height="7.76" fill="#f1d8cd"/>
<rect x="271.06" y="545.1" width="7.76" height="7.76" fill="#f3d2c4"/>
<rect x="278.82" y="545.1" width="7.76" height="7.76" fill="#f5beac"/>
<rect x="286.58" y="545.1" width="7.76" height="7.76" fill="#f3ad9b"/>
<rect x="294.34" y="545.1" width="7.76" height="7.76" fill="#f1796b"/>
<rect x="302.1" y="545.1" width="7.76" height="7.76" fill="#f16d61"/>
<rect x="309.86" y="545.1" width="7.76" height="7.76" fill="#f05952"/>
<rect x="317.62" y="545.1" width="7.76" height="7.76" fill="#f29c8a"/>
<rect x="325.38" y="545.1" width="7.76" height="7.76" fill="#f2d6c9"/>
<rect x="333.14" y="545.1" width="7.76" height="7.76" fill="#eeded5"/>
<rect x="263.3" y="552.86" width="7.76" height="7.76" fill="#efdbd1"/>
<rect x="271.06" y="552.86" width="7.76" height="7.76" fill="#ebe2db"/>
<rect x="278.82" y="552.86" width="7.76" height="7.76" fill="#f3cdbf"/>
<rect x="286.58" y="552.86" width="7.76" height="7.76" fill="#f5c4b3"/>
<rect x="294.34" y="552.86" width="7.76" height="7.76" fill="#f3a694"/>
<rect x="302.1" y="552.86" width="7.76" height="7.76" fill="#f29483"/>
<rect x="309.86" y="552.86" width="7.76" height="7.76" fill="#f18172"/>
<rect x="317.62" y="552.86" width="7.76" height="7.76" fill="#f3a694"/>
<rect x="325.38" y="552.86" width="7.76" height="7.76" fill="#f1d8cd"/>
<rect x="333.14" y="552.86" width="7.76" height="7.76" fill="#eddfd7"/>
<rect x="263.3" y="560.62" width="7.76" height="7.76" fill="#ece1d9"/>
<rect x="271.06" y="560.62" width="7.76" height="7.76" fill="#ebe2db"/>
<rect x="278.82" y="560.62" width="7.76" height="7.76" fill="#e9e6e1"/>
<rect x="286.58" y="560.62" width="7.76" height="7.76" fill="#efdbd1"/>
<rect x="294.34" y="560.62" width="7.76" height="7.76" fill="#f3cdbf"/>
<rect x="302.1" y="560.62" width="7.76" height="7.76" fill="#f5beac"/>
<rect x="309.86" y="560.62" width="7.76" height="7.76" fill="#f3ad9b"/>
<rect x="317.62" y="560.62" width="7.76" height="7.76" fill="#f4cbbb"/>
<rect x="325.38" y="560.62" width="7.76" height="7.76" fill="#eeded5"/>
<rect x="333.14" y="560.62" width="7.76" height="7.76" fill="#ebe2db"/>
<rect x="263.3" y="568.38" width="7.76" height="7.76" fill="#efdbd1"/>
<rect x="271.06" y="568.38" width="7.76" height="7.76" fill="#d2d9d8"/>
<rect x="278.82" y="568.38" width="7.76" height="7.76" fill="#dbdedc"/>
<rect x="286.58" y="568.38" width="7.76" height="7.76" fill="#cdd6d6"/>
<rect x="294.34" y="568.38" width="7.76" height="7.76" fill="#f1d8cd"/>
<rect x="302.1" y="568.38" width="7.76" height="7.76" fill="#f3d2c4"/>
<rect x="309.86" y="568.38" width="7.76" height="7.76" fill="#f4cbbb"/>
<rect x="317.62" y="568.38" width="7.76" height="7.76" fill="#f2d6c9"/>
<rect x="325.38" y="568.38" width="7.76" height="7.76" fill="#e0e1dd"/>
<rect x="333.14" y="568.38" width="7.76" height="7.76" fill="#eeded5"/>
<rect x="263.3" y="576.14" width="7.76" height="7.76" fill="#f5c4b3"/>
<rect x="271.06" y="576.14" width="7.76" height="7.76" fill="#f1d8cd"/>
<rect x="278.82" y="576.14" width="7.76" height="7.76" fill="#eddfd7"/>
<rect x="286.58" y="576.14" width="7.76" height="7.76" fill="#efdbd1"/>
<rect x="294.34" y="576.14" width="7.76" height="7.76" fill="#f2d6c9"/>
<rect x="302.1" y="576.14" width="7.76" height="7.76" fill="#f2d6c9"/>
<rect x="309.86" y="576.14" width="7.76" height="7.76" fill="#f3d2c4"/>
<rect x="317.62" y="576.14" width="7.76" height="7.76" fill="#efdbd1"/>
<rect x="325.38" y="576.14" width="7.76" height="7.76" fill="#dbdedc"/>
<rect x="333.14" y="576.14" width="7.76" height="7.76" fill="#eeded5"/>
<path d="M271.06 506.3V583.9M278.82 506.3V583.9M286.58 506.3V583.9M294.34 506.3V583.9M302.1 506.3V583.9M309.86 506.3V583.9M317.62 506.3V583.9M325.38 506.3V583.9M333.14 506.3V583.9M263.3 514.06H340.9M263.3 521.82H340.9M263.3 529.58H340.9M263.3 537.34H340.9M263.3 545.1H340.9M263.3 552.86H340.9M263.3 560.62H340.9M263.3 568.38H340.9M263.3 576.14H340.9" stroke="#000" stroke-width="0.75" stroke-opacity="0.55"/>
<rect x="263.3" y="506.3" width="77.6" height="77.6" fill="none" stroke="#222" stroke-width="0.9"/>
<rect x="253" y="506.3" width="7.7" height="7.76" fill="#e9e6e1"/>
<rect x="253" y="514.06" width="7.7" height="7.76" fill="#e9e6e1"/>
<rect x="253" y="521.82" width="7.7" height="7.76" fill="#e9e6e1"/>
<rect x="253" y="529.58" width="7.7" height="7.76" fill="#e9e6e1"/>
<rect x="253" y="537.34" width="7.7" height="7.76" fill="#e9e6e1"/>
<rect x="253" y="545.1" width="7.7" height="7.76" fill="#e9e6e1"/>
<rect x="253" y="552.86" width="7.7" height="7.76" fill="#e9e6e1"/>
<rect x="253" y="560.62" width="7.7" height="7.76" fill="#e9e6e1"/>
<rect x="253" y="568.38" width="7.7" height="7.76" fill="#e9e6e1"/>
<rect x="253" y="576.14" width="7.7" height="7.76" fill="#e9e6e1"/>
<path d="M253 514.06H260.7M253 521.82H260.7M253 529.58H260.7M253 537.34H260.7M253 545.1H260.7M253 552.86H260.7M253 560.62H260.7M253 568.38H260.7M253 576.14H260.7" stroke="#000" stroke-width="0.7" stroke-opacity="0.45"/>
<rect x="253" y="506.3" width="7.7" height="77.6" fill="none" stroke="#bbb" stroke-width="0.5"/>
<rect x="263.3" y="586.2" width="7.76" height="8" fill="#e9e6e1"/>
<rect x="271.06" y="586.2" width="7.76" height="8" fill="#e9e6e1"/>
<rect x="278.82" y="586.2" width="7.76" height="8" fill="#e9e6e1"/>
<rect x="286.58" y="586.2" width="7.76" height="8" fill="#e9e6e1"/>
<rect x="294.34" y="586.2" width="7.76" height="8" fill="#e9e6e1"/>
<rect x="302.1" y="586.2" width="7.76" height="8" fill="#e9e6e1"/>
<rect x="309.86" y="586.2" width="7.76" height="8" fill="#e9e6e1"/>
<rect x="317.62" y="586.2" width="7.76" height="8" fill="#e9e6e1"/>
<rect x="325.38" y="586.2" width="7.76" height="8" fill="#e9e6e1"/>
<rect x="333.14" y="586.2" width="7.76" height="8" fill="#e9e6e1"/>
<path d="M271.06 586.2V594.2M278.82 586.2V594.2M286.58 586.2V594.2M294.34 586.2V594.2M302.1 586.2V594.2M309.86 586.2V594.2M317.62 586.2V594.2M325.38 586.2V594.2M333.14 586.2V594.2" stroke="#000" stroke-width="0.7" stroke-opacity="0.45"/>
<rect x="263.3" y="586.2" width="77.6" height="8" fill="none" stroke="#bbb" stroke-width="0.5"/>
<linearGradient id="gi" x1="0" x2="0" y1="1" y2="0"><stop offset="0" stop-color="#a8bdc6"/><stop offset="0.08" stop-color="#d1d8d7"/><stop offset="0.17" stop-color="#ebe2db"/><stop offset="0.25" stop-color="#f2d7cb"/><stop offset="0.33" stop-color="#f4ccbd"/><stop offset="0.42" stop-color="#f5c0ae"/><stop offset="0.5" stop-color="#f3ac9a"/><stop offset="0.58" stop-color="#f29886"/><stop offset="0.67" stop-color="#f18172"/><stop offset="0.75" stop-color="#f16c61"/><stop offset="0.83" stop-color="#f05952"/><stop offset="0.92" stop-color="#ef4847"/><stop offset="1" stop-color="#ef4545"/></linearGradient>
<rect x="345.5" y="508" width="5.6" height="33.6" fill="url(#gi)" stroke="#333" stroke-width="0.7"/>
<path d="M345.5 537h1.1M351.1 537h-1.1M345.5 530.14h1.1M351.1 530.14h-1.1M345.5 523.28h1.1M351.1 523.28h-1.1M345.5 516.42h1.1M351.1 516.42h-1.1M345.5 509.56h1.1M351.1 509.56h-1.1" stroke="#222" stroke-width="0.6"/>
<text x="351.8" y="513.06" font-size="9.8" fill="#333">80</text>
<text x="351.8" y="526.78" font-size="9.8" fill="#333">40</text>
<text x="351.8" y="540.5" font-size="9.8" fill="#333">0</text>
<text x="298.7" y="502" font-size="9.8" fill="#1a1a1a" text-anchor="middle">Bliss Synergy</text>
<text x="250.2" y="514.6" font-size="10" fill="#666" text-anchor="end">25</text>
<text x="250.2" y="584.2" font-size="10" fill="#666" text-anchor="end">0.001</text>
<path d="M250.5 510.2h2M250.5 580h2" stroke="#666" stroke-width="0.6"/>
<text x="267.2" y="604.3" font-size="10" fill="#666" text-anchor="middle">0.001</text>
<text x="337" y="604.3" font-size="10" fill="#666" text-anchor="middle">25</text>
<path d="M267.2 594.6v2M337 594.6v2" stroke="#666" stroke-width="0.6"/>
<text x="301.5" y="614.9" font-size="9.8" fill="#1a1a1a" text-anchor="middle">Olaparib (µM)</text>
<text transform="translate(234.7,543.1) rotate(-90)" text-anchor="middle" font-size="9.8" fill="#1a1a1a">AZD1390 (µM)</text>
<path d="M245.2 522H250L249.7 572.7z" fill="url(#wedge)"/>
<path d="M281.3 602.8L328.7 597.3V602.8z" fill="url(#wedgeh)"/>
<text x="227.8" y="499.8" font-size="17" font-weight="bold" text-anchor="end" fill="#000">i</text>
<rect x="425.4" y="506.3" width="7.76" height="7.76" fill="#f0675c"/>
<rect x="433.16" y="506.3" width="7.76" height="7.76" fill="#f0675c"/>
<rect x="440.92" y="506.3" width="7.76" height="7.76" fill="#f0554f"/>
<rect x="448.68" y="506.3" width="7.76" height="7.76" fill="#ef4e4b"/>
<rect x="456.44" y="506.3" width="7.76" height="7.76" fill="#ef4847"/>
<rect x="464.2" y="506.3" width="7.76" height="7.76" fill="#ef4847"/>
<rect x="471.96" y="506.3" width="7.76" height="7.76" fill="#ef4545"/>
<rect x="479.72" y="506.3" width="7.76" height="7.76" fill="#ef4545"/>
<rect x="487.48" y="506.3" width="7.76" height="7.76" fill="#ef4545"/>
<rect x="495.24" y="506.3" width="7.76" height="7.76" fill="#ef4545"/>
<rect x="425.4" y="514.06" width="7.76" height="7.76" fill="#e9e6e1"/>
<rect x="433.16" y="514.06" width="7.76" height="7.76" fill="#f4c6b5"/>
<rect x="440.92" y="514.06" width="7.76" height="7.76" fill="#f3a492"/>
<rect x="448.68" y="514.06" width="7.76" height="7.76" fill="#f18373"/>
<rect x="456.44" y="514.06" width="7.76" height="7.76" fill="#f17266"/>
<rect x="464.2" y="514.06" width="7.76" height="7.76" fill="#f0554f"/>
<rect x="471.96" y="514.06" width="7.76" height="7.76" fill="#ef4b49"/>
<rect x="479.72" y="514.06" width="7.76" height="7.76" fill="#ef4545"/>
<rect x="487.48" y="514.06" width="7.76" height="7.76" fill="#ef4545"/>
<rect x="495.24" y="514.06" width="7.76" height="7.76" fill="#ef4545"/>
<rect x="425.4" y="521.82" width="7.76" height="7.76" fill="#a8bec6"/>
<rect x="433.16" y="521.82" width="7.76" height="7.76" fill="#d9dddb"/>
<rect x="440.92" y="521.82" width="7.76" height="7.76" fill="#f1d7cc"/>
<rect x="448.68" y="521.82" width="7.76" height="7.76" fill="#f5c2b0"/>
<rect x="456.44" y="521.82" width="7.76" height="7.76" fill="#f18373"/>
<rect x="464.2" y="521.82" width="7.76" height="7.76" fill="#f0554f"/>
<rect x="471.96" y="521.82" width="7.76" height="7.76" fill="#ef4e4b"/>
<rect x="479.72" y="521.82" width="7.76" height="7.76" fill="#ef4545"/>
<rect x="487.48" y="521.82" width="7.76" height="7.76" fill="#ef4545"/>
<rect x="495.24" y="521.82" width="7.76" height="7.76" fill="#ef4545"/>
<rect x="425.4" y="529.58" width="7.76" height="7.76" fill="#9fb8c2"/>
<rect x="433.16" y="529.58" width="7.76" height="7.76" fill="#b9c9cd"/>
<rect x="440.92" y="529.58" width="7.76" height="7.76" fill="#e9e6e1"/>
<rect x="448.68" y="529.58" width="7.76" height="7.76" fill="#f3ab99"/>
<rect x="456.44" y="529.58" width="7.76" height="7.76" fill="#f18373"/>
<rect x="464.2" y="529.58" width="7.76" height="7.76" fill="#f05b53"/>
<rect x="471.96" y="529.58" width="7.76" height="7.76" fill="#ef4b49"/>
<rect x="479.72" y="529.58" width="7.76" height="7.76" fill="#ef4545"/>
<rect x="487.48" y="529.58" width="7.76" height="7.76" fill="#ef4545"/>
<rect x="495.24" y="529.58" width="7.76" height="7.76" fill="#ef4545"/>
<rect x="425.4" y="537.34" width="7.76" height="7.76" fill="#92b0bd"/>
<rect x="433.16" y="537.34" width="7.76" height="7.76" fill="#a8bec6"/>
<rect x="440.92" y="537.34" width="7.76" height="7.76" fill="#c0cdd0"/>
<rect x="448.68" y="537.34" width="7.76" height="7.76" fill="#f3d1c3"/>
<rect x="456.44" y="537.34" width="7.76" height="7.76" fill="#f29c8a"/>
<rect x="464.2" y="537.34" width="7.76" height="7.76" fill="#f17266"/>
<rect x="471.96" y="537.34" width="7.76" height="7.76" fill="#f05b53"/>
<rect x="479.72" y="537.34" width="7.76" height="7.76" fill="#ef4e4b"/>
<rect x="487.48" y="537.34" width="7.76" height="7.76" fill="#ef4545"/>
<rect x="495.24" y="537.34" width="7.76" height="7.76" fill="#ef4545"/>
<rect x="425.4" y="545.1" width="7.76" height="7.76" fill="#99b4c0"/>
<rect x="433.16" y="545.1" width="7.76" height="7.76" fill="#a8bec6"/>
<rect x="440.92" y="545.1" width="7.76" height="7.76" fill="#c0cdd0"/>
<rect x="448.68" y="545.1" width="7.76" height="7.76" fill="#f3d1c3"/>
<rect x="456.44" y="545.1" width="7.76" height="7.76" fill="#f5c2b0"/>
<rect x="464.2" y="545.1" width="7.76" height="7.76" fill="#f28b7b"/>
<rect x="471.96" y="545.1" width="7.76" height="7.76" fill="#f17a6c"/>
<rect x="479.72" y="545.1" width="7.76" height="7.76" fill="#f05b53"/>
<rect x="487.48" y="545.1" width="7.76" height="7.76" fill="#ef4545"/>
<rect x="495.24" y="545.1" width="7.76" height="7.76" fill="#ef4545"/>
<rect x="425.4" y="552.86" width="7.76" height="7.76" fill="#99b4c0"/>
<rect x="433.16" y="552.86" width="7.76" height="7.76" fill="#a2bac3"/>
<rect x="440.92" y="552.86" width="7.76" height="7.76" fill="#b9c9cd"/>
<rect x="448.68" y="552.86" width="7.76" height="7.76" fill="#f1d7cc"/>
<rect x="456.44" y="552.86" width="7.76" height="7.76" fill="#f3d1c3"/>
<rect x="464.2" y="552.86" width="7.76" height="7.76" fill="#f4b3a1"/>
<rect x="471.96" y="552.86" width="7.76" height="7.76" fill="#f29c8a"/>
<rect x="479.72" y="552.86" width="7.76" height="7.76" fill="#f17266"/>
<rect x="487.48" y="552.86" width="7.76" height="7.76" fill="#ef4847"/>
<rect x="495.24" y="552.86" width="7.76" height="7.76" fill="#ef4545"/>
<rect x="425.4" y="560.62" width="7.76" height="7.76" fill="#92b0bd"/>
<rect x="433.16" y="560.62" width="7.76" height="7.76" fill="#99b4c0"/>
<rect x="440.92" y="560.62" width="7.76" height="7.76" fill="#9fb8c2"/>
<rect x="448.68" y="560.62" width="7.76" height="7.76" fill="#b2c4ca"/>
<rect x="456.44" y="560.62" width="7.76" height="7.76" fill="#d9dddb"/>
<rect x="464.2" y="560.62" width="7.76" height="7.76" fill="#f1d7cc"/>
<rect x="471.96" y="560.62" width="7.76" height="7.76" fill="#f3d1c3"/>
<rect x="479.72" y="560.62" width="7.76" height="7.76" fill="#f29c8a"/>
<rect x="487.48" y="560.62" width="7.76" height="7.76" fill="#f0554f"/>
<rect x="495.24" y="560.62" width="7.76" height="7.76" fill="#ef4545"/>
<rect x="425.4" y="568.38" width="7.76" height="7.76" fill="#89aab9"/>
<rect x="433.16" y="568.38" width="7.76" height="7.76" fill="#9fb8c2"/>
<rect x="440.92" y="568.38" width="7.76" height="7.76" fill="#99b4c0"/>
<rect x="448.68" y="568.38" width="7.76" height="7.76" fill="#9fb8c2"/>
<rect x="456.44" y="568.38" width="7.76" height="7.76" fill="#b2c4ca"/>
<rect x="464.2" y="568.38" width="7.76" height="7.76" fill="#cad4d5"/>
<rect x="471.96" y="568.38" width="7.76" height="7.76" fill="#e0e1dd"/>
<rect x="479.72" y="568.38" width="7.76" height="7.76" fill="#f4cabb"/>
<rect x="487.48" y="568.38" width="7.76" height="7.76" fill="#f05b53"/>
<rect x="495.24" y="568.38" width="7.76" height="7.76" fill="#ef4847"/>
<rect x="425.4" y="576.14" width="7.76" height="7.76" fill="#739db1"/>
<rect x="433.16" y="576.14" width="7.76" height="7.76" fill="#99b4c0"/>
<rect x="440.92" y="576.14" width="7.76" height="7.76" fill="#9fb8c2"/>
<rect x="448.68" y="576.14" width="7.76" height="7.76" fill="#a8bec6"/>
<rect x="456.44" y="576.14" width="7.76" height="7.76" fill="#a8bec6"/>
<rect x="464.2" y="576.14" width="7.76" height="7.76" fill="#a8bec6"/>
<rect x="471.96" y="576.14" width="7.76" height="7.76" fill="#c0cdd0"/>
<rect x="479.72" y="576.14" width="7.76" height="7.76" fill="#f3d1c3"/>
<rect x="487.48" y="576.14" width="7.76" height="7.76" fill="#f17a6c"/>
<rect x="495.24" y="576.14" width="7.76" height="7.76" fill="#ef4e4b"/>
<path d="M433.16 506.3V583.9M440.92 506.3V583.9M448.68 506.3V583.9M456.44 506.3V583.9M464.2 506.3V583.9M471.96 506.3V583.9M479.72 506.3V583.9M487.48 506.3V583.9M495.24 506.3V583.9M425.4 514.06H503M425.4 521.82H503M425.4 529.58H503M425.4 537.34H503M425.4 545.1H503M425.4 552.86H503M425.4 560.62H503M425.4 568.38H503M425.4 576.14H503" stroke="#000" stroke-width="0.75" stroke-opacity="0.55"/>
<rect x="425.4" y="506.3" width="77.6" height="77.6" fill="none" stroke="#222" stroke-width="0.9"/>
<rect x="415.1" y="506.3" width="7.7" height="7.76" fill="#f0675c"/>
<rect x="415.1" y="514.06" width="7.7" height="7.76" fill="#e9e6e1"/>
<rect x="415.1" y="521.82" width="7.7" height="7.76" fill="#a8bec6"/>
<rect x="415.1" y="529.58" width="7.7" height="7.76" fill="#92b0bd"/>
<rect x="415.1" y="537.34" width="7.7" height="7.76" fill="#79a1b3"/>
<rect x="415.1" y="545.1" width="7.7" height="7.76" fill="#89aab9"/>
<rect x="415.1" y="552.86" width="7.7" height="7.76" fill="#99b4c0"/>
<rect x="415.1" y="560.62" width="7.7" height="7.76" fill="#b2c4ca"/>
<rect x="415.1" y="568.38" width="7.7" height="7.76" fill="#a8bec6"/>
<rect x="415.1" y="576.14" width="7.7" height="7.76" fill="#9fb8c2"/>
<path d="M415.1 514.06H422.8M415.1 521.82H422.8M415.1 529.58H422.8M415.1 537.34H422.8M415.1 545.1H422.8M415.1 552.86H422.8M415.1 560.62H422.8M415.1 568.38H422.8M415.1 576.14H422.8" stroke="#000" stroke-width="0.7" stroke-opacity="0.45"/>
<rect x="415.1" y="506.3" width="7.7" height="77.6" fill="none" stroke="#bbb" stroke-width="0.5"/>
<rect x="425.4" y="586.2" width="7.76" height="8" fill="#92b0bd"/>
<rect x="433.16" y="586.2" width="7.76" height="8" fill="#b2c4ca"/>
<rect x="440.92" y="586.2" width="7.76" height="8" fill="#b2c4ca"/>
<rect x="448.68" y="586.2" width="7.76" height="8" fill="#9fb8c2"/>
<rect x="456.44" y="586.2" width="7.76" height="8" fill="#99b4c0"/>
<rect x="464.2" y="586.2" width="7.76" height="8" fill="#89aab9"/>
<rect x="471.96" y="586.2" width="7.76" height="8" fill="#9fb8c2"/>
<rect x="479.72" y="586.2" width="7.76" height="8" fill="#f3d1c3"/>
<rect x="487.48" y="586.2" width="7.76" height="8" fill="#f17266"/>
<rect x="495.24" y="586.2" width="7.76" height="8" fill="#ef4e4b"/>
<path d="M433.16 586.2V594.2M440.92 586.2V594.2M448.68 586.2V594.2M456.44 586.2V594.2M464.2 586.2V594.2M471.96 586.2V594.2M479.72 586.2V594.2M487.48 586.2V594.2M495.24 586.2V594.2" stroke="#000" stroke-width="0.7" stroke-opacity="0.45"/>
<rect x="425.4" y="586.2" width="77.6" height="8" fill="none" stroke="#bbb" stroke-width="0.5"/>
<linearGradient id="gk" x1="0" x2="0" y1="1" y2="0"><stop offset="0" stop-color="#6f9aae"/><stop offset="0.08" stop-color="#86a9b8"/><stop offset="0.17" stop-color="#a1b9c3"/><stop offset="0.25" stop-color="#bdcbcf"/><stop offset="0.33" stop-color="#d9dddb"/><stop offset="0.42" stop-color="#eddfd7"/><stop offset="0.5" stop-color="#f3cdbe"/><stop offset="0.58" stop-color="#f4b5a3"/><stop offset="0.67" stop-color="#f29483"/><stop offset="0.75" stop-color="#f17165"/><stop offset="0.83" stop-color="#f0524d"/><stop offset="0.92" stop-color="#ef4545"/><stop offset="1" stop-color="#ef4545"/></linearGradient>
<rect x="507.6" y="506.9" width="5.6" height="33.4" fill="url(#gk)" stroke="#333" stroke-width="0.7"/>
<path d="M507.6 537.9h1.1M513.2 537.9h-1.1M507.6 530.55h1.1M513.2 530.55h-1.1M507.6 523.2h1.1M513.2 523.2h-1.1M507.6 515.85h1.1M513.2 515.85h-1.1M507.6 508.5h1.1M513.2 508.5h-1.1" stroke="#222" stroke-width="0.6"/>
<text x="513.9" y="512" font-size="9.8" fill="#333">100</text>
<text x="513.9" y="526.7" font-size="9.8" fill="#333">50</text>
<text x="513.9" y="541.4" font-size="9.8" fill="#333">0</text>
<text x="462.2" y="502" font-size="9.8" fill="#1a1a1a" text-anchor="middle">%Cell death</text>
<text x="412.3" y="514.6" font-size="10" fill="#666" text-anchor="end">25</text>
<text x="412.3" y="584.2" font-size="10" fill="#666" text-anchor="end">0.001</text>
<path d="M412.6 510.2h2M412.6 580h2" stroke="#666" stroke-width="0.6"/>
<text x="429.3" y="604.3" font-size="10" fill="#666" text-anchor="middle">0.001</text>
<text x="499.1" y="604.3" font-size="10" fill="#666" text-anchor="middle">25</text>
<path d="M429.3 594.6v2M499.1 594.6v2" stroke="#666" stroke-width="0.6"/>
<text x="463.6" y="614.9" font-size="9.8" fill="#1a1a1a" text-anchor="middle">Rucaparib (µM)</text>
<text transform="translate(396.8,543.1) rotate(-90)" text-anchor="middle" font-size="9.8" fill="#1a1a1a">AZD1390 (µM)</text>
<path d="M407.3 522H412.1L411.8 572.7z" fill="url(#wedge)"/>
<path d="M443.4 602.8L490.8 597.3V602.8z" fill="url(#wedgeh)"/>
<text x="393.4" y="499.8" font-size="17" font-weight="bold" text-anchor="end" fill="#000">k</text>
<rect x="582.6" y="506.3" width="7.76" height="7.76" fill="#ebe3dd"/>
<rect x="590.36" y="506.3" width="7.76" height="7.76" fill="#dbdedc"/>
<rect x="598.12" y="506.3" width="7.76" height="7.76" fill="#ebe2db"/>
<rect x="605.88" y="506.3" width="7.76" height="7.76" fill="#efdbd1"/>
<rect x="613.64" y="506.3" width="7.76" height="7.76" fill="#f2d6c9"/>
<rect x="621.4" y="506.3" width="7.76" height="7.76" fill="#f3d2c4"/>
<rect x="629.16" y="506.3" width="7.76" height="7.76" fill="#f3cdbf"/>
<rect x="636.92" y="506.3" width="7.76" height="7.76" fill="#f3d2c4"/>
<rect x="644.68" y="506.3" width="7.76" height="7.76" fill="#eddfd7"/>
<rect x="652.44" y="506.3" width="7.76" height="7.76" fill="#efdbd1"/>
<rect x="582.6" y="514.06" width="7.76" height="7.76" fill="#eddfd7"/>
<rect x="590.36" y="514.06" width="7.76" height="7.76" fill="#f2d6c9"/>
<rect x="598.12" y="514.06" width="7.76" height="7.76" fill="#f5c4b3"/>
<rect x="605.88" y="514.06" width="7.76" height="7.76" fill="#f3a18f"/>
<rect x="613.64" y="514.06" width="7.76" height="7.76" fill="#f29483"/>
<rect x="621.4" y="514.06" width="7.76" height="7.76" fill="#f18172"/>
<rect x="629.16" y="514.06" width="7.76" height="7.76" fill="#f18777"/>
<rect x="636.92" y="514.06" width="7.76" height="7.76" fill="#f3a18f"/>
<rect x="644.68" y="514.06" width="7.76" height="7.76" fill="#f3d2c4"/>
<rect x="652.44" y="514.06" width="7.76" height="7.76" fill="#eddfd7"/>
<rect x="582.6" y="521.82" width="7.76" height="7.76" fill="#eddfd7"/>
<rect x="590.36" y="521.82" width="7.76" height="7.76" fill="#efdbd1"/>
<rect x="598.12" y="521.82" width="7.76" height="7.76" fill="#f4cbbb"/>
<rect x="605.88" y="521.82" width="7.76" height="7.76" fill="#f4b5a3"/>
<rect x="613.64" y="521.82" width="7.76" height="7.76" fill="#f28c7c"/>
<rect x="621.4" y="521.82" width="7.76" height="7.76" fill="#f05952"/>
<rect x="629.16" y="521.82" width="7.76" height="7.76" fill="#f05952"/>
<rect x="636.92" y="521.82" width="7.76" height="7.76" fill="#f28c7c"/>
<rect x="644.68" y="521.82" width="7.76" height="7.76" fill="#f3cdbf"/>
<rect x="652.44" y="521.82" width="7.76" height="7.76" fill="#e0e1dd"/>
<rect x="582.6" y="529.58" width="7.76" height="7.76" fill="#efdbd1"/>
<rect x="590.36" y="529.58" width="7.76" height="7.76" fill="#efdbd1"/>
<rect x="598.12" y="529.58" width="7.76" height="7.76" fill="#f3cdbf"/>
<rect x="605.88" y="529.58" width="7.76" height="7.76" fill="#f3a18f"/>
<rect x="613.64" y="529.58" width="7.76" height="7.76" fill="#f18172"/>
<rect x="621.4" y="529.58" width="7.76" height="7.76" fill="#f0514d"/>
<rect x="629.16" y="529.58" width="7.76" height="7.76" fill="#f0514d"/>
<rect x="636.92" y="529.58" width="7.76" height="7.76" fill="#f17265"/>
<rect x="644.68" y="529.58" width="7.76" height="7.76" fill="#f4cbbb"/>
<rect x="652.44" y="529.58" width="7.76" height="7.76" fill="#ebe3dd"/>
<rect x="582.6" y="537.34" width="7.76" height="7.76" fill="#efdbd1"/>
<rect x="590.36" y="537.34" width="7.76" height="7.76" fill="#efdbd1"/>
<rect x="598.12" y="537.34" width="7.76" height="7.76" fill="#f3d2c4"/>
<rect x="605.88" y="537.34" width="7.76" height="7.76" fill="#f3ad9b"/>
<rect x="613.64" y="537.34" width="7.76" height="7.76" fill="#f1796b"/>
<rect x="621.4" y="537.34" width="7.76" height="7.76" fill="#ef4b49"/>
<rect x="629.16" y="537.34" width="7.76" height="7.76" fill="#f0514d"/>
<rect x="636.92" y="537.34" width="7.76" height="7.76" fill="#f17265"/>
<rect x="644.68" y="537.34" width="7.76" height="7.76" fill="#f3cdbf"/>
<rect x="652.44" y="537.34" width="7.76" height="7.76" fill="#ebe2db"/>
<rect x="582.6" y="545.1" width="7.76" height="7.76" fill="#eeded5"/>
<rect x="590.36" y="545.1" width="7.76" height="7.76" fill="#e0e1dd"/>
<rect x="598.12" y="545.1" width="7.76" height="7.76" fill="#f2d6c9"/>
<rect x="605.88" y="545.1" width="7.76" height="7.76" fill="#f4b5a3"/>
<rect x="613.64" y="545.1" width="7.76" height="7.76" fill="#f3a694"/>
<rect x="621.4" y="545.1" width="7.76" height="7.76" fill="#f1796b"/>
<rect x="629.16" y="545.1" width="7.76" height="7.76" fill="#f16d61"/>
<rect x="636.92" y="545.1" width="7.76" height="7.76" fill="#f28c7c"/>
<rect x="644.68" y="545.1" width="7.76" height="7.76" fill="#f3d2c4"/>
<rect x="652.44" y="545.1" width="7.76" height="7.76" fill="#ebe2db"/>
<rect x="582.6" y="552.86" width="7.76" height="7.76" fill="#eddfd7"/>
<rect x="590.36" y="552.86" width="7.76" height="7.76" fill="#d2d9d8"/>
<rect x="598.12" y="552.86" width="7.76" height="7.76" fill="#f1d8cd"/>
<rect x="605.88" y="552.86" width="7.76" height="7.76" fill="#f4baa8"/>
<rect x="613.64" y="552.86" width="7.76" height="7.76" fill="#f3ad9b"/>
<rect x="621.4" y="552.86" width="7.76" height="7.76" fill="#f29483"/>
<rect x="629.16" y="552.86" width="7.76" height="7.76" fill="#f28c7c"/>
<rect x="636.92" y="552.86" width="7.76" height="7.76" fill="#f3a694"/>
<rect x="644.68" y="552.86" width="7.76" height="7.76" fill="#f2d6c9"/>
<rect x="652.44" y="552.86" width="7.76" height="7.76" fill="#ebe2db"/>
<rect x="582.6" y="560.62" width="7.76" height="7.76" fill="#d2d9d8"/>
<rect x="590.36" y="560.62" width="7.76" height="7.76" fill="#afc2c9"/>
<rect x="598.12" y="560.62" width="7.76" height="7.76" fill="#b9c9cd"/>
<rect x="605.88" y="560.62" width="7.76" height="7.76" fill="#f1d8cd"/>
<rect x="613.64" y="560.62" width="7.76" height="7.76" fill="#f3cdbf"/>
<rect x="621.4" y="560.62" width="7.76" height="7.76" fill="#f5beac"/>
<rect x="629.16" y="560.62" width="7.76" height="7.76" fill="#f4b5a3"/>
<rect x="636.92" y="560.62" width="7.76" height="7.76" fill="#f5beac"/>
<rect x="644.68" y="560.62" width="7.76" height="7.76" fill="#f2d6c9"/>
<rect x="652.44" y="560.62" width="7.76" height="7.76" fill="#ebe2db"/>
<rect x="582.6" y="568.38" width="7.76" height="7.76" fill="#b9c9cd"/>
<rect x="590.36" y="568.38" width="7.76" height="7.76" fill="#a0b9c3"/>
<rect x="598.12" y="568.38" width="7.76" height="7.76" fill="#a0b9c3"/>
<rect x="605.88" y="568.38" width="7.76" height="7.76" fill="#dbdedc"/>
<rect x="613.64" y="568.38" width="7.76" height="7.76" fill="#eddfd7"/>
<rect x="621.4" y="568.38" width="7.76" height="7.76" fill="#f3cdbf"/>
<rect x="629.16" y="568.38" width="7.76" height="7.76" fill="#f4c8b8"/>
<rect x="636.92" y="568.38" width="7.76" height="7.76" fill="#efdbd1"/>
<rect x="644.68" y="568.38" width="7.76" height="7.76" fill="#efdbd1"/>
<rect x="652.44" y="568.38" width="7.76" height="7.76" fill="#ebe2db"/>
<rect x="582.6" y="576.14" width="7.76" height="7.76" fill="#c3cfd2"/>
<rect x="590.36" y="576.14" width="7.76" height="7.76" fill="#b9c9cd"/>
<rect x="598.12" y="576.14" width="7.76" height="7.76" fill="#c3cfd2"/>
<rect x="605.88" y="576.14" width="7.76" height="7.76" fill="#ece1d9"/>
<rect x="613.64" y="576.14" width="7.76" height="7.76" fill="#efdbd1"/>
<rect x="621.4" y="576.14" width="7.76" height="7.76" fill="#f3d2c4"/>
<rect x="629.16" y="576.14" width="7.76" height="7.76" fill="#f3cdbf"/>
<rect x="636.92" y="576.14" width="7.76" height="7.76" fill="#efdbd1"/>
<rect x="644.68" y="576.14" width="7.76" height="7.76" fill="#e0e1dd"/>
<rect x="652.44" y="576.14" width="7.76" height="7.76" fill="#ebe2db"/>
<path d="M590.36 506.3V583.9M598.12 506.3V583.9M605.88 506.3V583.9M613.64 506.3V583.9M621.4 506.3V583.9M629.16 506.3V583.9M636.92 506.3V583.9M644.68 506.3V583.9M652.44 506.3V583.9M582.6 514.06H660.2M582.6 521.82H660.2M582.6 529.58H660.2M582.6 537.34H660.2M582.6 545.1H660.2M582.6 552.86H660.2M582.6 560.62H660.2M582.6 568.38H660.2M582.6 576.14H660.2" stroke="#000" stroke-width="0.75" stroke-opacity="0.55"/>
<rect x="582.6" y="506.3" width="77.6" height="77.6" fill="none" stroke="#222" stroke-width="0.9"/>
<rect x="572.3" y="506.3" width="7.7" height="7.76" fill="#e9e6e1"/>
<rect x="572.3" y="514.06" width="7.7" height="7.76" fill="#e9e6e1"/>
<rect x="572.3" y="521.82" width="7.7" height="7.76" fill="#e9e6e1"/>
<rect x="572.3" y="529.58" width="7.7" height="7.76" fill="#e9e6e1"/>
<rect x="572.3" y="537.34" width="7.7" height="7.76" fill="#e9e6e1"/>
<rect x="572.3" y="545.1" width="7.7" height="7.76" fill="#e9e6e1"/>
<rect x="572.3" y="552.86" width="7.7" height="7.76" fill="#e9e6e1"/>
<rect x="572.3" y="560.62" width="7.7" height="7.76" fill="#e9e6e1"/>
<rect x="572.3" y="568.38" width="7.7" height="7.76" fill="#e9e6e1"/>
<rect x="572.3" y="576.14" width="7.7" height="7.76" fill="#e9e6e1"/>
<path d="M572.3 514.06H580M572.3 521.82H580M572.3 529.58H580M572.3 537.34H580M572.3 545.1H580M572.3 552.86H580M572.3 560.62H580M572.3 568.38H580M572.3 576.14H580" stroke="#000" stroke-width="0.7" stroke-opacity="0.45"/>
<rect x="572.3" y="506.3" width="7.7" height="77.6" fill="none" stroke="#bbb" stroke-width="0.5"/>
<rect x="582.6" y="586.2" width="7.76" height="8" fill="#e9e6e1"/>
<rect x="590.36" y="586.2" width="7.76" height="8" fill="#e9e6e1"/>
<rect x="598.12" y="586.2" width="7.76" height="8" fill="#e9e6e1"/>
<rect x="605.88" y="586.2" width="7.76" height="8" fill="#e9e6e1"/>
<rect x="613.64" y="586.2" width="7.76" height="8" fill="#e9e6e1"/>
<rect x="621.4" y="586.2" width="7.76" height="8" fill="#e9e6e1"/>
<rect x="629.16" y="586.2" width="7.76" height="8" fill="#e9e6e1"/>
<rect x="636.92" y="586.2" width="7.76" height="8" fill="#e9e6e1"/>
<rect x="644.68" y="586.2" width="7.76" height="8" fill="#e9e6e1"/>
<rect x="652.44" y="586.2" width="7.76" height="8" fill="#e9e6e1"/>
<path d="M590.36 586.2V594.2M598.12 586.2V594.2M605.88 586.2V594.2M613.64 586.2V594.2M621.4 586.2V594.2M629.16 586.2V594.2M636.92 586.2V594.2M644.68 586.2V594.2M652.44 586.2V594.2" stroke="#000" stroke-width="0.7" stroke-opacity="0.45"/>
<rect x="582.6" y="586.2" width="77.6" height="8" fill="none" stroke="#bbb" stroke-width="0.5"/>
<linearGradient id="gm" x1="0" x2="0" y1="1" y2="0"><stop offset="0" stop-color="#8bacba"/><stop offset="0.08" stop-color="#b6c7cc"/><stop offset="0.17" stop-color="#e1e1de"/><stop offset="0.25" stop-color="#efdcd3"/><stop offset="0.33" stop-color="#f3d0c2"/><stop offset="0.42" stop-color="#f5c4b3"/><stop offset="0.5" stop-color="#f4b09e"/><stop offset="0.58" stop-color="#f29a88"/><stop offset="0.67" stop-color="#f18273"/><stop offset="0.75" stop-color="#f16b60"/><stop offset="0.83" stop-color="#f05650"/><stop offset="0.92" stop-color="#ef4545"/><stop offset="1" stop-color="#ef4545"/></linearGradient>
<rect x="664.8" y="506.9" width="5.6" height="33.4" fill="url(#gm)" stroke="#333" stroke-width="0.7"/>
<path d="M664.8 534.2h1.1M670.4 534.2h-1.1M664.8 527.95h1.1M670.4 527.95h-1.1M664.8 521.7h1.1M670.4 521.7h-1.1M664.8 515.45h1.1M670.4 515.45h-1.1M664.8 509.2h1.1M670.4 509.2h-1.1" stroke="#222" stroke-width="0.6"/>
<text x="671.1" y="512.7" font-size="9.8" fill="#333">80</text>
<text x="671.1" y="525.2" font-size="9.8" fill="#333">40</text>
<text x="671.1" y="537.7" font-size="9.8" fill="#333">0</text>
<text x="618.6" y="502" font-size="9.8" fill="#1a1a1a" text-anchor="middle">Bliss Synergy</text>
<text x="569.5" y="514.6" font-size="10" fill="#666" text-anchor="end">25</text>
<text x="569.5" y="584.2" font-size="10" fill="#666" text-anchor="end">0.001</text>
<path d="M569.8 510.2h2M569.8 580h2" stroke="#666" stroke-width="0.6"/>
<text x="586.5" y="604.3" font-size="10" fill="#666" text-anchor="middle">0.001</text>
<text x="656.3" y="604.3" font-size="10" fill="#666" text-anchor="middle">25</text>
<path d="M586.5 594.6v2M656.3 594.6v2" stroke="#666" stroke-width="0.6"/>
<text x="620.8" y="614.9" font-size="9.8" fill="#1a1a1a" text-anchor="middle">Rucaparib (µM)</text>
<text transform="translate(554,543.1) rotate(-90)" text-anchor="middle" font-size="9.8" fill="#1a1a1a">AZD1390 (µM)</text>
<path d="M564.5 522H569.3L569 572.7z" fill="url(#wedge)"/>
<path d="M600.6 602.8L648 597.3V602.8z" fill="url(#wedgeh)"/>
<text x="561.2" y="498.3" font-size="17" font-weight="bold" text-anchor="end" fill="#000">m</text>
<rect x="108.1" y="628.2" width="7.76" height="7.76" fill="#9fb8c2"/>
<rect x="115.86" y="628.2" width="7.76" height="7.76" fill="#a8bec6"/>
<rect x="123.62" y="628.2" width="7.76" height="7.76" fill="#f3cfc0"/>
<rect x="131.38" y="628.2" width="7.76" height="7.76" fill="#f4b8a6"/>
<rect x="139.14" y="628.2" width="7.76" height="7.76" fill="#f29886"/>
<rect x="146.9" y="628.2" width="7.76" height="7.76" fill="#f18979"/>
<rect x="154.66" y="628.2" width="7.76" height="7.76" fill="#f17467"/>
<rect x="162.42" y="628.2" width="7.76" height="7.76" fill="#f0675d"/>
<rect x="170.18" y="628.2" width="7.76" height="7.76" fill="#f0645a"/>
<rect x="177.94" y="628.2" width="7.76" height="7.76" fill="#f0645a"/>
<rect x="108.1" y="635.96" width="7.76" height="7.76" fill="#9fb8c2"/>
<rect x="115.86" y="635.96" width="7.76" height="7.76" fill="#a8bec6"/>
<rect x="123.62" y="635.96" width="7.76" height="7.76" fill="#ece1d9"/>
<rect x="131.38" y="635.96" width="7.76" height="7.76" fill="#f4b8a6"/>
<rect x="139.14" y="635.96" width="7.76" height="7.76" fill="#f3a290"/>
<rect x="146.9" y="635.96" width="7.76" height="7.76" fill="#f29080"/>
<rect x="154.66" y="635.96" width="7.76" height="7.76" fill="#f17467"/>
<rect x="162.42" y="635.96" width="7.76" height="7.76" fill="#f0675d"/>
<rect x="170.18" y="635.96" width="7.76" height="7.76" fill="#f0645a"/>
<rect x="177.94" y="635.96" width="7.76" height="7.76" fill="#f0645a"/>
<rect x="108.1" y="643.72" width="7.76" height="7.76" fill="#a8bec6"/>
<rect x="115.86" y="643.72" width="7.76" height="7.76" fill="#b2c4ca"/>
<rect x="123.62" y="643.72" width="7.76" height="7.76" fill="#f0d9cf"/>
<rect x="131.38" y="643.72" width="7.76" height="7.76" fill="#f5bfad"/>
<rect x="139.14" y="643.72" width="7.76" height="7.76" fill="#f3a290"/>
<rect x="146.9" y="643.72" width="7.76" height="7.76" fill="#f29080"/>
<rect x="154.66" y="643.72" width="7.76" height="7.76" fill="#f17467"/>
<rect x="162.42" y="643.72" width="7.76" height="7.76" fill="#f0675d"/>
<rect x="170.18" y="643.72" width="7.76" height="7.76" fill="#f0645a"/>
<rect x="177.94" y="643.72" width="7.76" height="7.76" fill="#f0645a"/>
<rect x="108.1" y="651.48" width="7.76" height="7.76" fill="#9fb8c2"/>
<rect x="115.86" y="651.48" width="7.76" height="7.76" fill="#a8bec6"/>
<rect x="123.62" y="651.48" width="7.76" height="7.76" fill="#e9e6e1"/>
<rect x="131.38" y="651.48" width="7.76" height="7.76" fill="#f4cbbc"/>
<rect x="139.14" y="651.48" width="7.76" height="7.76" fill="#f3ab99"/>
<rect x="146.9" y="651.48" width="7.76" height="7.76" fill="#f29080"/>
<rect x="154.66" y="651.48" width="7.76" height="7.76" fill="#f17467"/>
<rect x="162.42" y="651.48" width="7.76" height="7.76" fill="#f0675d"/>
<rect x="170.18" y="651.48" width="7.76" height="7.76" fill="#f0645a"/>
<rect x="177.94" y="651.48" width="7.76" height="7.76" fill="#f0645a"/>
<rect x="108.1" y="659.24" width="7.76" height="7.76" fill="#99b4c0"/>
<rect x="115.86" y="659.24" width="7.76" height="7.76" fill="#9fb8c2"/>
<rect x="123.62" y="659.24" width="7.76" height="7.76" fill="#e9e6e1"/>
<rect x="131.38" y="659.24" width="7.76" height="7.76" fill="#f3d2c5"/>
<rect x="139.14" y="659.24" width="7.76" height="7.76" fill="#f4b2a0"/>
<rect x="146.9" y="659.24" width="7.76" height="7.76" fill="#f29886"/>
<rect x="154.66" y="659.24" width="7.76" height="7.76" fill="#f17b6d"/>
<rect x="162.42" y="659.24" width="7.76" height="7.76" fill="#f0675d"/>
<rect x="170.18" y="659.24" width="7.76" height="7.76" fill="#f0645a"/>
<rect x="177.94" y="659.24" width="7.76" height="7.76" fill="#f0645a"/>
<rect x="108.1" y="667" width="7.76" height="7.76" fill="#99b4c0"/>
<rect x="115.86" y="667" width="7.76" height="7.76" fill="#9fb8c2"/>
<rect x="123.62" y="667" width="7.76" height="7.76" fill="#d9dddb"/>
<rect x="131.38" y="667" width="7.76" height="7.76" fill="#f3d2c5"/>
<rect x="139.14" y="667" width="7.76" height="7.76" fill="#f4b2a0"/>
<rect x="146.9" y="667" width="7.76" height="7.76" fill="#f29886"/>
<rect x="154.66" y="667" width="7.76" height="7.76" fill="#f17b6d"/>
<rect x="162.42" y="667" width="7.76" height="7.76" fill="#f0675d"/>
<rect x="170.18" y="667" width="7.76" height="7.76" fill="#f0645a"/>
<rect x="177.94" y="667" width="7.76" height="7.76" fill="#f0645a"/>
<rect x="108.1" y="674.76" width="7.76" height="7.76" fill="#89aab9"/>
<rect x="115.86" y="674.76" width="7.76" height="7.76" fill="#99b4c0"/>
<rect x="123.62" y="674.76" width="7.76" height="7.76" fill="#c0cdd0"/>
<rect x="131.38" y="674.76" width="7.76" height="7.76" fill="#e0e1dd"/>
<rect x="139.14" y="674.76" width="7.76" height="7.76" fill="#f3cfc0"/>
<rect x="146.9" y="674.76" width="7.76" height="7.76" fill="#f5bfad"/>
<rect x="154.66" y="674.76" width="7.76" height="7.76" fill="#f18273"/>
<rect x="162.42" y="674.76" width="7.76" height="7.76" fill="#f16d62"/>
<rect x="170.18" y="674.76" width="7.76" height="7.76" fill="#f0645a"/>
<rect x="177.94" y="674.76" width="7.76" height="7.76" fill="#f0645a"/>
<rect x="108.1" y="682.52" width="7.76" height="7.76" fill="#92b0bd"/>
<rect x="115.86" y="682.52" width="7.76" height="7.76" fill="#9fb8c2"/>
<rect x="123.62" y="682.52" width="7.76" height="7.76" fill="#89aab9"/>
<rect x="131.38" y="682.52" width="7.76" height="7.76" fill="#92b0bd"/>
<rect x="139.14" y="682.52" width="7.76" height="7.76" fill="#9fb8c2"/>
<rect x="146.9" y="682.52" width="7.76" height="7.76" fill="#9fb8c2"/>
<rect x="154.66" y="682.52" width="7.76" height="7.76" fill="#b2c4ca"/>
<rect x="162.42" y="682.52" width="7.76" height="7.76" fill="#f4b8a6"/>
<rect x="170.18" y="682.52" width="7.76" height="7.76" fill="#f17467"/>
<rect x="177.94" y="682.52" width="7.76" height="7.76" fill="#f0645a"/>
<rect x="108.1" y="690.28" width="7.76" height="7.76" fill="#92b0bd"/>
<rect x="115.86" y="690.28" width="7.76" height="7.76" fill="#739db1"/>
<rect x="123.62" y="690.28" width="7.76" height="7.76" fill="#9fb8c2"/>
<rect x="131.38" y="690.28" width="7.76" height="7.76" fill="#99b4c0"/>
<rect x="139.14" y="690.28" width="7.76" height="7.76" fill="#9fb8c2"/>
<rect x="146.9" y="690.28" width="7.76" height="7.76" fill="#99b4c0"/>
<rect x="154.66" y="690.28" width="7.76" height="7.76" fill="#b2c4ca"/>
<rect x="162.42" y="690.28" width="7.76" height="7.76" fill="#ece1d9"/>
<rect x="170.18" y="690.28" width="7.76" height="7.76" fill="#f17e70"/>
<rect x="177.94" y="690.28" width="7.76" height="7.76" fill="#f0645a"/>
<rect x="108.1" y="698.04" width="7.76" height="7.76" fill="#92b0bd"/>
<rect x="115.86" y="698.04" width="7.76" height="7.76" fill="#9fb8c2"/>
<rect x="123.62" y="698.04" width="7.76" height="7.76" fill="#89aab9"/>
<rect x="131.38" y="698.04" width="7.76" height="7.76" fill="#92b0bd"/>
<rect x="139.14" y="698.04" width="7.76" height="7.76" fill="#9fb8c2"/>
<rect x="146.9" y="698.04" width="7.76" height="7.76" fill="#9fb8c2"/>
<rect x="154.66" y="698.04" width="7.76" height="7.76" fill="#a8bec6"/>
<rect x="162.42" y="698.04" width="7.76" height="7.76" fill="#ebe2dc"/>
<rect x="170.18" y="698.04" width="7.76" height="7.76" fill="#f17e70"/>
<rect x="177.94" y="698.04" width="7.76" height="7.76" fill="#f0645a"/>
<path d="M115.86 628.2V705.8M123.62 628.2V705.8M131.38 628.2V705.8M139.14 628.2V705.8M146.9 628.2V705.8M154.66 628.2V705.8M162.42 628.2V705.8M170.18 628.2V705.8M177.94 628.2V705.8M108.1 635.96H185.7M108.1 643.72H185.7M108.1 651.48H185.7M108.1 659.24H185.7M108.1 667H185.7M108.1 674.76H185.7M108.1 682.52H185.7M108.1 690.28H185.7M108.1 698.04H185.7" stroke="#000" stroke-width="0.75" stroke-opacity="0.55"/>
<rect x="108.1" y="628.2" width="77.6" height="77.6" fill="none" stroke="#222" stroke-width="0.9"/>
<rect x="97.8" y="628.2" width="7.7" height="7.76" fill="#9fb8c2"/>
<rect x="97.8" y="635.96" width="7.7" height="7.76" fill="#99b4c0"/>
<rect x="97.8" y="643.72" width="7.7" height="7.76" fill="#9fb8c2"/>
<rect x="97.8" y="651.48" width="7.7" height="7.76" fill="#89aab9"/>
<rect x="97.8" y="659.24" width="7.7" height="7.76" fill="#92b0bd"/>
<rect x="97.8" y="667" width="7.7" height="7.76" fill="#89aab9"/>
<rect x="97.8" y="674.76" width="7.7" height="7.76" fill="#89aab9"/>
<rect x="97.8" y="682.52" width="7.7" height="7.76" fill="#9fb8c2"/>
<rect x="97.8" y="690.28" width="7.7" height="7.76" fill="#99b4c0"/>
<rect x="97.8" y="698.04" width="7.7" height="7.76" fill="#89aab9"/>
<path d="M97.8 635.96H105.5M97.8 643.72H105.5M97.8 651.48H105.5M97.8 659.24H105.5M97.8 667H105.5M97.8 674.76H105.5M97.8 682.52H105.5M97.8 690.28H105.5M97.8 698.04H105.5" stroke="#000" stroke-width="0.7" stroke-opacity="0.45"/>
<rect x="97.8" y="628.2" width="7.7" height="77.6" fill="none" stroke="#bbb" stroke-width="0.5"/>
<rect x="108.1" y="708.1" width="7.76" height="8" fill="#9fb8c2"/>
<rect x="115.86" y="708.1" width="7.76" height="8" fill="#a8bec6"/>
<rect x="123.62" y="708.1" width="7.76" height="8" fill="#9fb8c2"/>
<rect x="131.38" y="708.1" width="7.76" height="8" fill="#99b4c0"/>
<rect x="139.14" y="708.1" width="7.76" height="8" fill="#a8bec6"/>
<rect x="146.9" y="708.1" width="7.76" height="8" fill="#a8bec6"/>
<rect x="154.66" y="708.1" width="7.76" height="8" fill="#b9c9cd"/>
<rect x="162.42" y="708.1" width="7.76" height="8" fill="#f3cfc0"/>
<rect x="170.18" y="708.1" width="7.76" height="8" fill="#f17467"/>
<rect x="177.94" y="708.1" width="7.76" height="8" fill="#f0675d"/>
<path d="M115.86 708.1V716.1M123.62 708.1V716.1M131.38 708.1V716.1M139.14 708.1V716.1M146.9 708.1V716.1M154.66 708.1V716.1M162.42 708.1V716.1M170.18 708.1V716.1M177.94 708.1V716.1" stroke="#000" stroke-width="0.7" stroke-opacity="0.45"/>
<rect x="108.1" y="708.1" width="77.6" height="8" fill="none" stroke="#bbb" stroke-width="0.5"/>
<linearGradient id="gh" x1="0" x2="0" y1="1" y2="0"><stop offset="0" stop-color="#6592a8"/><stop offset="0.08" stop-color="#6e99ae"/><stop offset="0.17" stop-color="#85a8b8"/><stop offset="0.25" stop-color="#a0b9c3"/><stop offset="0.33" stop-color="#bdcbcf"/><stop offset="0.42" stop-color="#d9dddb"/><stop offset="0.5" stop-color="#edded6"/><stop offset="0.58" stop-color="#f4ccbd"/><stop offset="0.67" stop-color="#f4b2a0"/><stop offset="0.75" stop-color="#f2907f"/><stop offset="0.83" stop-color="#f16c61"/><stop offset="0.92" stop-color="#ef4d4a"/><stop offset="1" stop-color="#ef4545"/></linearGradient>
<rect x="190.3" y="629.8" width="5.6" height="33.8" fill="url(#gh)" stroke="#333" stroke-width="0.7"/>
<path d="M190.3 658.2h1.1M195.9 658.2h-1.1M190.3 650.95h1.1M195.9 650.95h-1.1M190.3 643.7h1.1M195.9 643.7h-1.1M190.3 636.45h1.1M195.9 636.45h-1.1" stroke="#222" stroke-width="0.6"/>
<text x="196.6" y="647.2" font-size="9.8" fill="#333">50</text>
<text x="196.6" y="661.7" font-size="9.8" fill="#333">0</text>
<text x="146.7" y="623.9" font-size="9.8" fill="#1a1a1a" text-anchor="middle"></text>
<text x="95" y="636.5" font-size="10" fill="#666" text-anchor="end">25</text>
<text x="95" y="706.1" font-size="10" fill="#666" text-anchor="end">0.001</text>
<path d="M95.3 632.1h2M95.3 701.9h2" stroke="#666" stroke-width="0.6"/>
<text x="112" y="726.2" font-size="10" fill="#666" text-anchor="middle">0.001</text>
<text x="181.8" y="726.2" font-size="10" fill="#666" text-anchor="middle">25</text>
<path d="M112 716.5v2M181.8 716.5v2" stroke="#666" stroke-width="0.6"/>
<text x="146.3" y="736.8" font-size="9.8" fill="#1a1a1a" text-anchor="middle">Olaparib (µM)</text>
<text transform="translate(79.5,665) rotate(-90)" text-anchor="middle" font-size="9.8" fill="#1a1a1a">AZD1390 (µM)</text>
<path d="M90 643.9H94.8L94.5 694.6z" fill="url(#wedge)"/>
<text x="80.2" y="627" font-size="17" font-weight="bold" text-anchor="end" fill="#000">h</text>
<rect x="263.3" y="628.2" width="7.76" height="7.76" fill="#f2d6c9"/>
<rect x="271.06" y="628.2" width="7.76" height="7.76" fill="#efdbd1"/>
<rect x="278.82" y="628.2" width="7.76" height="7.76" fill="#f3ad9b"/>
<rect x="286.58" y="628.2" width="7.76" height="7.76" fill="#f29c8a"/>
<rect x="294.34" y="628.2" width="7.76" height="7.76" fill="#f17265"/>
<rect x="302.1" y="628.2" width="7.76" height="7.76" fill="#f05952"/>
<rect x="309.86" y="628.2" width="7.76" height="7.76" fill="#f0514d"/>
<rect x="317.62" y="628.2" width="7.76" height="7.76" fill="#f1796b"/>
<rect x="325.38" y="628.2" width="7.76" height="7.76" fill="#efdbd1"/>
<rect x="333.14" y="628.2" width="7.76" height="7.76" fill="#ece1d9"/>
<rect x="263.3" y="635.96" width="7.76" height="7.76" fill="#f1d8cd"/>
<rect x="271.06" y="635.96" width="7.76" height="7.76" fill="#f3d2c4"/>
<rect x="278.82" y="635.96" width="7.76" height="7.76" fill="#f3a694"/>
<rect x="286.58" y="635.96" width="7.76" height="7.76" fill="#f29c8a"/>
<rect x="294.34" y="635.96" width="7.76" height="7.76" fill="#f1796b"/>
<rect x="302.1" y="635.96" width="7.76" height="7.76" fill="#f06057"/>
<rect x="309.86" y="635.96" width="7.76" height="7.76" fill="#f0514d"/>
<rect x="317.62" y="635.96" width="7.76" height="7.76" fill="#f1796b"/>
<rect x="325.38" y="635.96" width="7.76" height="7.76" fill="#f1d8cd"/>
<rect x="333.14" y="635.96" width="7.76" height="7.76" fill="#eeded5"/>
<rect x="263.3" y="643.72" width="7.76" height="7.76" fill="#f2d3c6"/>
<rect x="271.06" y="643.72" width="7.76" height="7.76" fill="#f3cdbf"/>
<rect x="278.82" y="643.72" width="7.76" height="7.76" fill="#f3a18f"/>
<rect x="286.58" y="643.72" width="7.76" height="7.76" fill="#f29483"/>
<rect x="294.34" y="643.72" width="7.76" height="7.76" fill="#f18172"/>
<rect x="302.1" y="643.72" width="7.76" height="7.76" fill="#f0685d"/>
<rect x="309.86" y="643.72" width="7.76" height="7.76" fill="#f0554f"/>
<rect x="317.62" y="643.72" width="7.76" height="7.76" fill="#f1796b"/>
<rect x="325.38" y="643.72" width="7.76" height="7.76" fill="#f1d8cd"/>
<rect x="333.14" y="643.72" width="7.76" height="7.76" fill="#eeded5"/>
<rect x="263.3" y="651.48" width="7.76" height="7.76" fill="#f2d6c9"/>
<rect x="271.06" y="651.48" width="7.76" height="7.76" fill="#f3d2c4"/>
<rect x="278.82" y="651.48" width="7.76" height="7.76" fill="#f3ad9b"/>
<rect x="286.58" y="651.48" width="7.76" height="7.76" fill="#f29483"/>
<rect x="294.34" y="651.48" width="7.76" height="7.76" fill="#f18172"/>
<rect x="302.1" y="651.48" width="7.76" height="7.76" fill="#f0685d"/>
<rect x="309.86" y="651.48" width="7.76" height="7.76" fill="#f0514d"/>
<rect x="317.62" y="651.48" width="7.76" height="7.76" fill="#f18172"/>
<rect x="325.38" y="651.48" width="7.76" height="7.76" fill="#f1d8cd"/>
<rect x="333.14" y="651.48" width="7.76" height="7.76" fill="#eeded5"/>
<rect x="263.3" y="659.24" width="7.76" height="7.76" fill="#f1d8cd"/>
<rect x="271.06" y="659.24" width="7.76" height="7.76" fill="#f2d6c9"/>
<rect x="278.82" y="659.24" width="7.76" height="7.76" fill="#f4b5a3"/>
<rect x="286.58" y="659.24" width="7.76" height="7.76" fill="#f29c8a"/>
<rect x="294.34" y="659.24" width="7.76" height="7.76" fill="#f28c7c"/>
<rect x="302.1" y="659.24" width="7.76" height="7.76" fill="#f0685d"/>
<rect x="309.86" y="659.24" width="7.76" height="7.76" fill="#f0514d"/>
<rect x="317.62" y="659.24" width="7.76" height="7.76" fill="#f1796b"/>
<rect x="325.38" y="659.24" width="7.76" height="7.76" fill="#efdbd1"/>
<rect x="333.14" y="659.24" width="7.76" height="7.76" fill="#eddfd7"/>
<rect x="263.3" y="667" width="7.76" height="7.76" fill="#f1d8cd"/>
<rect x="271.06" y="667" width="7.76" height="7.76" fill="#f2d6c9"/>
<rect x="278.82" y="667" width="7.76" height="7.76" fill="#f5beac"/>
<rect x="286.58" y="667" width="7.76" height="7.76" fill="#f3a18f"/>
<rect x="294.34" y="667" width="7.76" height="7.76" fill="#f29483"/>
<rect x="302.1" y="667" width="7.76" height="7.76" fill="#f0685d"/>
<rect x="309.86" y="667" width="7.76" height="7.76" fill="#f0514d"/>
<rect x="317.62" y="667" width="7.76" height="7.76" fill="#f1796b"/>
<rect x="325.38" y="667" width="7.76" height="7.76" fill="#efdbd1"/>
<rect x="333.14" y="667" width="7.76" height="7.76" fill="#eddfd7"/>
<rect x="263.3" y="674.76" width="7.76" height="7.76" fill="#efdbd1"/>
<rect x="271.06" y="674.76" width="7.76" height="7.76" fill="#f2d6c9"/>
<rect x="278.82" y="674.76" width="7.76" height="7.76" fill="#f5c4b3"/>
<rect x="286.58" y="674.76" width="7.76" height="7.76" fill="#f3ad9b"/>
<rect x="294.34" y="674.76" width="7.76" height="7.76" fill="#f29c8a"/>
<rect x="302.1" y="674.76" width="7.76" height="7.76" fill="#f18777"/>
<rect x="309.86" y="674.76" width="7.76" height="7.76" fill="#f0554f"/>
<rect x="317.62" y="674.76" width="7.76" height="7.76" fill="#f1796b"/>
<rect x="325.38" y="674.76" width="7.76" height="7.76" fill="#f1d8cd"/>
<rect x="333.14" y="674.76" width="7.76" height="7.76" fill="#eddfd7"/>
<rect x="263.3" y="682.52" width="7.76" height="7.76" fill="#ece1d9"/>
<rect x="271.06" y="682.52" width="7.76" height="7.76" fill="#efdbd1"/>
<rect x="278.82" y="682.52" width="7.76" height="7.76" fill="#eae5df"/>
<rect x="286.58" y="682.52" width="7.76" height="7.76" fill="#ece1d9"/>
<rect x="294.34" y="682.52" width="7.76" height="7.76" fill="#eeded5"/>
<rect x="302.1" y="682.52" width="7.76" height="7.76" fill="#eddfd7"/>
<rect x="309.86" y="682.52" width="7.76" height="7.76" fill="#eddfd7"/>
<rect x="317.62" y="682.52" width="7.76" height="7.76" fill="#f5c4b3"/>
<rect x="325.38" y="682.52" width="7.76" height="7.76" fill="#eddfd7"/>
<rect x="333.14" y="682.52" width="7.76" height="7.76" fill="#eddfd7"/>
<rect x="263.3" y="690.28" width="7.76" height="7.76" fill="#eeded5"/>
<rect x="271.06" y="690.28" width="7.76" height="7.76" fill="#dbdedc"/>
<rect x="278.82" y="690.28" width="7.76" height="7.76" fill="#efdbd1"/>
<rect x="286.58" y="690.28" width="7.76" height="7.76" fill="#f1d8cd"/>
<rect x="294.34" y="690.28" width="7.76" height="7.76" fill="#eeded5"/>
<rect x="302.1" y="690.28" width="7.76" height="7.76" fill="#ebe3dd"/>
<rect x="309.86" y="690.28" width="7.76" height="7.76" fill="#eae5df"/>
<rect x="317.62" y="690.28" width="7.76" height="7.76" fill="#e0e1dd"/>
<rect x="325.38" y="690.28" width="7.76" height="7.76" fill="#e9e6e1"/>
<rect x="333.14" y="690.28" width="7.76" height="7.76" fill="#eddfd7"/>
<rect x="263.3" y="698.04" width="7.76" height="7.76" fill="#f2d6c9"/>
<rect x="271.06" y="698.04" width="7.76" height="7.76" fill="#f3d2c4"/>
<rect x="278.82" y="698.04" width="7.76" height="7.76" fill="#efdbd1"/>
<rect x="286.58" y="698.04" width="7.76" height="7.76" fill="#f2d6c9"/>
<rect x="294.34" y="698.04" width="7.76" height="7.76" fill="#f2d6c9"/>
<rect x="302.1" y="698.04" width="7.76" height="7.76" fill="#f1d8cd"/>
<rect x="309.86" y="698.04" width="7.76" height="7.76" fill="#eddfd7"/>
<rect x="317.62" y="698.04" width="7.76" height="7.76" fill="#eddfd7"/>
<rect x="325.38" y="698.04" width="7.76" height="7.76" fill="#ebe3dd"/>
<rect x="333.14" y="698.04" width="7.76" height="7.76" fill="#eddfd7"/>
<path d="M271.06 628.2V705.8M278.82 628.2V705.8M286.58 628.2V705.8M294.34 628.2V705.8M302.1 628.2V705.8M309.86 628.2V705.8M317.62 628.2V705.8M325.38 628.2V705.8M333.14 628.2V705.8M263.3 635.96H340.9M263.3 643.72H340.9M263.3 651.48H340.9M263.3 659.24H340.9M263.3 667H340.9M263.3 674.76H340.9M263.3 682.52H340.9M263.3 690.28H340.9M263.3 698.04H340.9" stroke="#000" stroke-width="0.75" stroke-opacity="0.55"/>
<rect x="263.3" y="628.2" width="77.6" height="77.6" fill="none" stroke="#222" stroke-width="0.9"/>
<rect x="253" y="628.2" width="7.7" height="7.76" fill="#e9e6e1"/>
<rect x="253" y="635.96" width="7.7" height="7.76" fill="#e9e6e1"/>
<rect x="253" y="643.72" width="7.7" height="7.76" fill="#e9e6e1"/>
<rect x="253" y="651.48" width="7.7" height="7.76" fill="#e9e6e1"/>
<rect x="253" y="659.24" width="7.7" height="7.76" fill="#e9e6e1"/>
<rect x="253" y="667" width="7.7" height="7.76" fill="#e9e6e1"/>
<rect x="253" y="674.76" width="7.7" height="7.76" fill="#e9e6e1"/>
<rect x="253" y="682.52" width="7.7" height="7.76" fill="#e9e6e1"/>
<rect x="253" y="690.28" width="7.7" height="7.76" fill="#e9e6e1"/>
<rect x="253" y="698.04" width="7.7" height="7.76" fill="#e9e6e1"/>
<path d="M253 635.96H260.7M253 643.72H260.7M253 651.48H260.7M253 659.24H260.7M253 667H260.7M253 674.76H260.7M253 682.52H260.7M253 690.28H260.7M253 698.04H260.7" stroke="#000" stroke-width="0.7" stroke-opacity="0.45"/>
<rect x="253" y="628.2" width="7.7" height="77.6" fill="none" stroke="#bbb" stroke-width="0.5"/>
<rect x="263.3" y="708.1" width="7.76" height="8" fill="#e9e6e1"/>
<rect x="271.06" y="708.1" width="7.76" height="8" fill="#e9e6e1"/>
<rect x="278.82" y="708.1" width="7.76" height="8" fill="#e9e6e1"/>
<rect x="286.58" y="708.1" width="7.76" height="8" fill="#e9e6e1"/>
<rect x="294.34" y="708.1" width="7.76" height="8" fill="#e9e6e1"/>
<rect x="302.1" y="708.1" width="7.76" height="8" fill="#e9e6e1"/>
<rect x="309.86" y="708.1" width="7.76" height="8" fill="#e9e6e1"/>
<rect x="317.62" y="708.1" width="7.76" height="8" fill="#e9e6e1"/>
<rect x="325.38" y="708.1" width="7.76" height="8" fill="#e9e6e1"/>
<rect x="333.14" y="708.1" width="7.76" height="8" fill="#e9e6e1"/>
<path d="M271.06 708.1V716.1M278.82 708.1V716.1M286.58 708.1V716.1M294.34 708.1V716.1M302.1 708.1V716.1M309.86 708.1V716.1M317.62 708.1V716.1M325.38 708.1V716.1M333.14 708.1V716.1" stroke="#000" stroke-width="0.7" stroke-opacity="0.45"/>
<rect x="263.3" y="708.1" width="77.6" height="8" fill="none" stroke="#bbb" stroke-width="0.5"/>
<linearGradient id="gj" x1="0" x2="0" y1="1" y2="0"><stop offset="0" stop-color="#c1ced1"/><stop offset="0.08" stop-color="#e9e6e1"/><stop offset="0.17" stop-color="#efdbd1"/><stop offset="0.25" stop-color="#f3cfc1"/><stop offset="0.33" stop-color="#f5c4b3"/><stop offset="0.42" stop-color="#f4b2a0"/><stop offset="0.5" stop-color="#f29d8b"/><stop offset="0.58" stop-color="#f18777"/><stop offset="0.67" stop-color="#f17165"/><stop offset="0.75" stop-color="#f05d54"/><stop offset="0.83" stop-color="#ef4b49"/><stop offset="0.92" stop-color="#ef4545"/><stop offset="1" stop-color="#ef4545"/></linearGradient>
<rect x="345.5" y="629.9" width="5.6" height="33.6" fill="url(#gj)" stroke="#333" stroke-width="0.7"/>
<path d="M345.5 660.7h1.1M351.1 660.7h-1.1M345.5 652.28h1.1M351.1 652.28h-1.1M345.5 643.85h1.1M351.1 643.85h-1.1M345.5 635.43h1.1M351.1 635.43h-1.1" stroke="#222" stroke-width="0.6"/>
<text x="351.8" y="638.93" font-size="9.8" fill="#333">75</text>
<text x="351.8" y="647.35" font-size="9.8" fill="#333">50</text>
<text x="351.8" y="655.78" font-size="9.8" fill="#333">25</text>
<text x="351.8" y="664.2" font-size="9.8" fill="#333">0</text>
<text x="301.9" y="623.9" font-size="9.8" fill="#1a1a1a" text-anchor="middle"></text>
<text x="250.2" y="636.5" font-size="10" fill="#666" text-anchor="end">25</text>
<text x="250.2" y="706.1" font-size="10" fill="#666" text-anchor="end">0.001</text>
<path d="M250.5 632.1h2M250.5 701.9h2" stroke="#666" stroke-width="0.6"/>
<text x="267.2" y="726.2" font-size="10" fill="#666" text-anchor="middle">0.001</text>
<text x="337" y="726.2" font-size="10" fill="#666" text-anchor="middle">25</text>
<path d="M267.2 716.5v2M337 716.5v2" stroke="#666" stroke-width="0.6"/>
<text x="301.5" y="736.8" font-size="9.8" fill="#1a1a1a" text-anchor="middle">Olaparib (µM)</text>
<text transform="translate(234.7,665) rotate(-90)" text-anchor="middle" font-size="9.8" fill="#1a1a1a">AZD1390 (µM)</text>
<path d="M245.2 643.9H250L249.7 694.6z" fill="url(#wedge)"/>
<path d="M281.3 724.7L328.7 719.2V724.7z" fill="url(#wedgeh)"/>
<text x="227.6" y="625.3" font-size="17" font-weight="bold" text-anchor="end" fill="#000">j</text>
<rect x="425.4" y="628.2" width="7.76" height="7.76" fill="#f18979"/>
<rect x="433.16" y="628.2" width="7.76" height="7.76" fill="#f18979"/>
<rect x="440.92" y="628.2" width="7.76" height="7.76" fill="#f18979"/>
<rect x="448.68" y="628.2" width="7.76" height="7.76" fill="#f18172"/>
<rect x="456.44" y="628.2" width="7.76" height="7.76" fill="#f18172"/>
<rect x="464.2" y="628.2" width="7.76" height="7.76" fill="#f17a6c"/>
<rect x="471.96" y="628.2" width="7.76" height="7.76" fill="#f17a6c"/>
<rect x="479.72" y="628.2" width="7.76" height="7.76" fill="#f17366"/>
<rect x="487.48" y="628.2" width="7.76" height="7.76" fill="#f16c60"/>
<rect x="495.24" y="628.2" width="7.76" height="7.76" fill="#f05e55"/>
<rect x="425.4" y="635.96" width="7.76" height="7.76" fill="#d9dddb"/>
<rect x="433.16" y="635.96" width="7.76" height="7.76" fill="#d9dddb"/>
<rect x="440.92" y="635.96" width="7.76" height="7.76" fill="#d3dad8"/>
<rect x="448.68" y="635.96" width="7.76" height="7.76" fill="#f3cdbf"/>
<rect x="456.44" y="635.96" width="7.76" height="7.76" fill="#f3cdbf"/>
<rect x="464.2" y="635.96" width="7.76" height="7.76" fill="#f3a694"/>
<rect x="471.96" y="635.96" width="7.76" height="7.76" fill="#f29887"/>
<rect x="479.72" y="635.96" width="7.76" height="7.76" fill="#f18172"/>
<rect x="487.48" y="635.96" width="7.76" height="7.76" fill="#f17366"/>
<rect x="495.24" y="635.96" width="7.76" height="7.76" fill="#f16c60"/>
<rect x="425.4" y="643.72" width="7.76" height="7.76" fill="#a8bec6"/>
<rect x="433.16" y="643.72" width="7.76" height="7.76" fill="#99b4c0"/>
<rect x="440.92" y="643.72" width="7.76" height="7.76" fill="#9fb8c2"/>
<rect x="448.68" y="643.72" width="7.76" height="7.76" fill="#cad4d5"/>
<rect x="456.44" y="643.72" width="7.76" height="7.76" fill="#f2d3c6"/>
<rect x="464.2" y="643.72" width="7.76" height="7.76" fill="#e9e6e1"/>
<rect x="471.96" y="643.72" width="7.76" height="7.76" fill="#f29180"/>
<rect x="479.72" y="643.72" width="7.76" height="7.76" fill="#f17a6c"/>
<rect x="487.48" y="643.72" width="7.76" height="7.76" fill="#f17366"/>
<rect x="495.24" y="643.72" width="7.76" height="7.76" fill="#f16c60"/>
<rect x="425.4" y="651.48" width="7.76" height="7.76" fill="#b2c4ca"/>
<rect x="433.16" y="651.48" width="7.76" height="7.76" fill="#b2c4ca"/>
<rect x="440.92" y="651.48" width="7.76" height="7.76" fill="#acc0c7"/>
<rect x="448.68" y="651.48" width="7.76" height="7.76" fill="#b2c4ca"/>
<rect x="456.44" y="651.48" width="7.76" height="7.76" fill="#ece0d9"/>
<rect x="464.2" y="651.48" width="7.76" height="7.76" fill="#f5beac"/>
<rect x="471.96" y="651.48" width="7.76" height="7.76" fill="#f29887"/>
<rect x="479.72" y="651.48" width="7.76" height="7.76" fill="#f17a6c"/>
<rect x="487.48" y="651.48" width="7.76" height="7.76" fill="#f17366"/>
<rect x="495.24" y="651.48" width="7.76" height="7.76" fill="#f16c60"/>
<rect x="425.4" y="659.24" width="7.76" height="7.76" fill="#b2c4ca"/>
<rect x="433.16" y="659.24" width="7.76" height="7.76" fill="#a8bec6"/>
<rect x="440.92" y="659.24" width="7.76" height="7.76" fill="#a8bec6"/>
<rect x="448.68" y="659.24" width="7.76" height="7.76" fill="#cad4d5"/>
<rect x="456.44" y="659.24" width="7.76" height="7.76" fill="#f1d9ce"/>
<rect x="464.2" y="659.24" width="7.76" height="7.76" fill="#f4c6b5"/>
<rect x="471.96" y="659.24" width="7.76" height="7.76" fill="#f4b4a2"/>
<rect x="479.72" y="659.24" width="7.76" height="7.76" fill="#f17a6c"/>
<rect x="487.48" y="659.24" width="7.76" height="7.76" fill="#f17366"/>
<rect x="495.24" y="659.24" width="7.76" height="7.76" fill="#f16c60"/>
<rect x="425.4" y="667" width="7.76" height="7.76" fill="#a8bec6"/>
<rect x="433.16" y="667" width="7.76" height="7.76" fill="#b9c9cd"/>
<rect x="440.92" y="667" width="7.76" height="7.76" fill="#99b4c0"/>
<rect x="448.68" y="667" width="7.76" height="7.76" fill="#b9c9cd"/>
<rect x="456.44" y="667" width="7.76" height="7.76" fill="#eedcd3"/>
<rect x="464.2" y="667" width="7.76" height="7.76" fill="#f4b4a2"/>
<rect x="471.96" y="667" width="7.76" height="7.76" fill="#f29f8d"/>
<rect x="479.72" y="667" width="7.76" height="7.76" fill="#f18172"/>
<rect x="487.48" y="667" width="7.76" height="7.76" fill="#f17366"/>
<rect x="495.24" y="667" width="7.76" height="7.76" fill="#f16c60"/>
<rect x="425.4" y="674.76" width="7.76" height="7.76" fill="#a8bec6"/>
<rect x="433.16" y="674.76" width="7.76" height="7.76" fill="#b9c9cd"/>
<rect x="440.92" y="674.76" width="7.76" height="7.76" fill="#b2c4ca"/>
<rect x="448.68" y="674.76" width="7.76" height="7.76" fill="#c0cdd0"/>
<rect x="456.44" y="674.76" width="7.76" height="7.76" fill="#d9dddb"/>
<rect x="464.2" y="674.76" width="7.76" height="7.76" fill="#e9e6e1"/>
<rect x="471.96" y="674.76" width="7.76" height="7.76" fill="#f3cdbf"/>
<rect x="479.72" y="674.76" width="7.76" height="7.76" fill="#f18172"/>
<rect x="487.48" y="674.76" width="7.76" height="7.76" fill="#f17366"/>
<rect x="495.24" y="674.76" width="7.76" height="7.76" fill="#f16c60"/>
<rect x="425.4" y="682.52" width="7.76" height="7.76" fill="#a8bec6"/>
<rect x="433.16" y="682.52" width="7.76" height="7.76" fill="#b9c9cd"/>
<rect x="440.92" y="682.52" width="7.76" height="7.76" fill="#9fb8c2"/>
<rect x="448.68" y="682.52" width="7.76" height="7.76" fill="#b2c4ca"/>
<rect x="456.44" y="682.52" width="7.76" height="7.76" fill="#b9c9cd"/>
<rect x="464.2" y="682.52" width="7.76" height="7.76" fill="#a8bec6"/>
<rect x="471.96" y="682.52" width="7.76" height="7.76" fill="#b9c9cd"/>
<rect x="479.72" y="682.52" width="7.76" height="7.76" fill="#eae4de"/>
<rect x="487.48" y="682.52" width="7.76" height="7.76" fill="#f29180"/>
<rect x="495.24" y="682.52" width="7.76" height="7.76" fill="#f17a6c"/>
<rect x="425.4" y="690.28" width="7.76" height="7.76" fill="#a8bec6"/>
<rect x="433.16" y="690.28" width="7.76" height="7.76" fill="#a8bec6"/>
<rect x="440.92" y="690.28" width="7.76" height="7.76" fill="#b2c4ca"/>
<rect x="448.68" y="690.28" width="7.76" height="7.76" fill="#b2c4ca"/>
<rect x="456.44" y="690.28" width="7.76" height="7.76" fill="#9fb8c2"/>
<rect x="464.2" y="690.28" width="7.76" height="7.76" fill="#92b0bd"/>
<rect x="471.96" y="690.28" width="7.76" height="7.76" fill="#a8bec6"/>
<rect x="479.72" y="690.28" width="7.76" height="7.76" fill="#e0e1dd"/>
<rect x="487.48" y="690.28" width="7.76" height="7.76" fill="#f3a694"/>
<rect x="495.24" y="690.28" width="7.76" height="7.76" fill="#f17a6c"/>
<rect x="425.4" y="698.04" width="7.76" height="7.76" fill="#92b0bd"/>
<rect x="433.16" y="698.04" width="7.76" height="7.76" fill="#b9c9cd"/>
<rect x="440.92" y="698.04" width="7.76" height="7.76" fill="#89aab9"/>
<rect x="448.68" y="698.04" width="7.76" height="7.76" fill="#9fb8c2"/>
<rect x="456.44" y="698.04" width="7.76" height="7.76" fill="#a8bec6"/>
<rect x="464.2" y="698.04" width="7.76" height="7.76" fill="#b2c4ca"/>
<rect x="471.96" y="698.04" width="7.76" height="7.76" fill="#b9c9cd"/>
<rect x="479.72" y="698.04" width="7.76" height="7.76" fill="#cad4d5"/>
<rect x="487.48" y="698.04" width="7.76" height="7.76" fill="#f3ad9b"/>
<rect x="495.24" y="698.04" width="7.76" height="7.76" fill="#f17a6c"/>
<path d="M433.16 628.2V705.8M440.92 628.2V705.8M448.68 628.2V705.8M456.44 628.2V705.8M464.2 628.2V705.8M471.96 628.2V705.8M479.72 628.2V705.8M487.48 628.2V705.8M495.24 628.2V705.8M425.4 635.96H503M425.4 643.72H503M425.4 651.48H503M425.4 659.24H503M425.4 667H503M425.4 674.76H503M425.4 682.52H503M425.4 690.28H503M425.4 698.04H503" stroke="#000" stroke-width="0.75" stroke-opacity="0.55"/>
<rect x="425.4" y="628.2" width="77.6" height="77.6" fill="none" stroke="#222" stroke-width="0.9"/>
<rect x="415.1" y="628.2" width="7.7" height="7.76" fill="#f29180"/>
<rect x="415.1" y="635.96" width="7.7" height="7.76" fill="#f2d3c6"/>
<rect x="415.1" y="643.72" width="7.7" height="7.76" fill="#a8bec6"/>
<rect x="415.1" y="651.48" width="7.7" height="7.76" fill="#7fa5b6"/>
<rect x="415.1" y="659.24" width="7.7" height="7.76" fill="#a8bec6"/>
<rect x="415.1" y="667" width="7.7" height="7.76" fill="#739db1"/>
<rect x="415.1" y="674.76" width="7.7" height="7.76" fill="#92b0bd"/>
<rect x="415.1" y="682.52" width="7.7" height="7.76" fill="#b2c4ca"/>
<rect x="415.1" y="690.28" width="7.7" height="7.76" fill="#b9c9cd"/>
<rect x="415.1" y="698.04" width="7.7" height="7.76" fill="#b9c9cd"/>
<path d="M415.1 635.96H422.8M415.1 643.72H422.8M415.1 651.48H422.8M415.1 659.24H422.8M415.1 667H422.8M415.1 674.76H422.8M415.1 682.52H422.8M415.1 690.28H422.8M415.1 698.04H422.8" stroke="#000" stroke-width="0.7" stroke-opacity="0.45"/>
<rect x="415.1" y="628.2" width="7.7" height="77.6" fill="none" stroke="#bbb" stroke-width="0.5"/>
<rect x="425.4" y="708.1" width="7.76" height="8" fill="#b9c9cd"/>
<rect x="433.16" y="708.1" width="7.76" height="8" fill="#b2c4ca"/>
<rect x="440.92" y="708.1" width="7.76" height="8" fill="#99b4c0"/>
<rect x="448.68" y="708.1" width="7.76" height="8" fill="#b2c4ca"/>
<rect x="456.44" y="708.1" width="7.76" height="8" fill="#b2c4ca"/>
<rect x="464.2" y="708.1" width="7.76" height="8" fill="#9fb8c2"/>
<rect x="471.96" y="708.1" width="7.76" height="8" fill="#b2c4ca"/>
<rect x="479.72" y="708.1" width="7.76" height="8" fill="#d9dddb"/>
<rect x="487.48" y="708.1" width="7.76" height="8" fill="#f3a694"/>
<rect x="495.24" y="708.1" width="7.76" height="8" fill="#f17366"/>
<path d="M433.16 708.1V716.1M440.92 708.1V716.1M448.68 708.1V716.1M456.44 708.1V716.1M464.2 708.1V716.1M471.96 708.1V716.1M479.72 708.1V716.1M487.48 708.1V716.1M495.24 708.1V716.1" stroke="#000" stroke-width="0.7" stroke-opacity="0.45"/>
<rect x="425.4" y="708.1" width="77.6" height="8" fill="none" stroke="#bbb" stroke-width="0.5"/>
<linearGradient id="gl" x1="0" x2="0" y1="1" y2="0"><stop offset="0" stop-color="#6693a9"/><stop offset="0.08" stop-color="#779fb2"/><stop offset="0.17" stop-color="#92b0bd"/><stop offset="0.25" stop-color="#adc1c8"/><stop offset="0.33" stop-color="#cad4d5"/><stop offset="0.42" stop-color="#e6e4e0"/><stop offset="0.5" stop-color="#f2d6ca"/><stop offset="0.58" stop-color="#f5c4b2"/><stop offset="0.67" stop-color="#f3a492"/><stop offset="0.75" stop-color="#f18071"/><stop offset="0.83" stop-color="#f05e55"/><stop offset="0.92" stop-color="#ef4545"/><stop offset="1" stop-color="#ef4545"/></linearGradient>
<rect x="507.6" y="628.5" width="5.6" height="33.4" fill="url(#gl)" stroke="#333" stroke-width="0.7"/>
<path d="M507.6 657.9h1.1M513.2 657.9h-1.1M507.6 650.67h1.1M513.2 650.67h-1.1M507.6 643.45h1.1M513.2 643.45h-1.1M507.6 636.23h1.1M513.2 636.23h-1.1" stroke="#222" stroke-width="0.6"/>
<text x="513.9" y="639.73" font-size="9.8" fill="#333">75</text>
<text x="513.9" y="646.95" font-size="9.8" fill="#333">50</text>
<text x="513.9" y="661.4" font-size="9.8" fill="#333">0</text>
<text x="464" y="623.9" font-size="9.8" fill="#1a1a1a" text-anchor="middle"></text>
<text x="412.3" y="636.5" font-size="10" fill="#666" text-anchor="end">25</text>
<text x="412.3" y="706.1" font-size="10" fill="#666" text-anchor="end">0.001</text>
<path d="M412.6 632.1h2M412.6 701.9h2" stroke="#666" stroke-width="0.6"/>
<text x="429.3" y="726.2" font-size="10" fill="#666" text-anchor="middle">0.001</text>
<text x="499.1" y="726.2" font-size="10" fill="#666" text-anchor="middle">25</text>
<path d="M429.3 716.5v2M499.1 716.5v2" stroke="#666" stroke-width="0.6"/>
<text x="463.6" y="736.8" font-size="9.8" fill="#1a1a1a" text-anchor="middle">Rucaparib (µM)</text>
<text transform="translate(396.8,665) rotate(-90)" text-anchor="middle" font-size="9.8" fill="#1a1a1a">AZD1390 (µM)</text>
<path d="M407.3 643.9H412.1L411.8 694.6z" fill="url(#wedge)"/>
<path d="M443.4 724.7L490.8 719.2V724.7z" fill="url(#wedgeh)"/>
<text x="393.4" y="626.3" font-size="17" font-weight="bold" text-anchor="end" fill="#000">l</text>
<rect x="582.6" y="628.2" width="7.76" height="7.76" fill="#c8d2d4"/>
<rect x="590.36" y="628.2" width="7.76" height="7.76" fill="#d8dcda"/>
<rect x="598.12" y="628.2" width="7.76" height="7.76" fill="#d3d9d8"/>
<rect x="605.88" y="628.2" width="7.76" height="7.76" fill="#dedfdd"/>
<rect x="613.64" y="628.2" width="7.76" height="7.76" fill="#c4d0d2"/>
<rect x="621.4" y="628.2" width="7.76" height="7.76" fill="#eae4de"/>
<rect x="629.16" y="628.2" width="7.76" height="7.76" fill="#e6e4e0"/>
<rect x="636.92" y="628.2" width="7.76" height="7.76" fill="#eae4de"/>
<rect x="644.68" y="628.2" width="7.76" height="7.76" fill="#dedfdd"/>
<rect x="652.44" y="628.2" width="7.76" height="7.76" fill="#c8d2d4"/>
<rect x="582.6" y="635.96" width="7.76" height="7.76" fill="#9fb8c2"/>
<rect x="590.36" y="635.96" width="7.76" height="7.76" fill="#97b3bf"/>
<rect x="598.12" y="635.96" width="7.76" height="7.76" fill="#a6bcc5"/>
<rect x="605.88" y="635.96" width="7.76" height="7.76" fill="#bbcace"/>
<rect x="613.64" y="635.96" width="7.76" height="7.76" fill="#c4d0d2"/>
<rect x="621.4" y="635.96" width="7.76" height="7.76" fill="#f4cbbc"/>
<rect x="629.16" y="635.96" width="7.76" height="7.76" fill="#f5c5b4"/>
<rect x="636.92" y="635.96" width="7.76" height="7.76" fill="#f5bcaa"/>
<rect x="644.68" y="635.96" width="7.76" height="7.76" fill="#dedfdd"/>
<rect x="652.44" y="635.96" width="7.76" height="7.76" fill="#afc2c9"/>
<rect x="582.6" y="643.72" width="7.76" height="7.76" fill="#b7c7cc"/>
<rect x="590.36" y="643.72" width="7.76" height="7.76" fill="#97b3bf"/>
<rect x="598.12" y="643.72" width="7.76" height="7.76" fill="#bfcdd0"/>
<rect x="605.88" y="643.72" width="7.76" height="7.76" fill="#d5dbd9"/>
<rect x="613.64" y="643.72" width="7.76" height="7.76" fill="#f4cbbc"/>
<rect x="621.4" y="643.72" width="7.76" height="7.76" fill="#f4cbbc"/>
<rect x="629.16" y="643.72" width="7.76" height="7.76" fill="#f29685"/>
<rect x="636.92" y="643.72" width="7.76" height="7.76" fill="#f1796b"/>
<rect x="644.68" y="643.72" width="7.76" height="7.76" fill="#f5c5b4"/>
<rect x="652.44" y="643.72" width="7.76" height="7.76" fill="#bbcace"/>
<rect x="582.6" y="651.48" width="7.76" height="7.76" fill="#eae4de"/>
<rect x="590.36" y="651.48" width="7.76" height="7.76" fill="#d3d9d8"/>
<rect x="598.12" y="651.48" width="7.76" height="7.76" fill="#f2d3c7"/>
<rect x="605.88" y="651.48" width="7.76" height="7.76" fill="#e0e1de"/>
<rect x="613.64" y="651.48" width="7.76" height="7.76" fill="#f5c5b4"/>
<rect x="621.4" y="651.48" width="7.76" height="7.76" fill="#f1796b"/>
<rect x="629.16" y="651.48" width="7.76" height="7.76" fill="#f05e56"/>
<rect x="636.92" y="651.48" width="7.76" height="7.76" fill="#f0665c"/>
<rect x="644.68" y="651.48" width="7.76" height="7.76" fill="#f4b5a3"/>
<rect x="652.44" y="651.48" width="7.76" height="7.76" fill="#bbcace"/>
<rect x="582.6" y="659.24" width="7.76" height="7.76" fill="#afc2c9"/>
<rect x="590.36" y="659.24" width="7.76" height="7.76" fill="#a6bcc5"/>
<rect x="598.12" y="659.24" width="7.76" height="7.76" fill="#bfcdd0"/>
<rect x="605.88" y="659.24" width="7.76" height="7.76" fill="#dbdedb"/>
<rect x="613.64" y="659.24" width="7.76" height="7.76" fill="#f3cfc1"/>
<rect x="621.4" y="659.24" width="7.76" height="7.76" fill="#f29e8c"/>
<rect x="629.16" y="659.24" width="7.76" height="7.76" fill="#f3a290"/>
<rect x="636.92" y="659.24" width="7.76" height="7.76" fill="#f28e7d"/>
<rect x="644.68" y="659.24" width="7.76" height="7.76" fill="#f0dacf"/>
<rect x="652.44" y="659.24" width="7.76" height="7.76" fill="#bfcdd0"/>
<rect x="582.6" y="667" width="7.76" height="7.76" fill="#d0d8d7"/>
<rect x="590.36" y="667" width="7.76" height="7.76" fill="#eae4de"/>
<rect x="598.12" y="667" width="7.76" height="7.76" fill="#e6e4e0"/>
<rect x="605.88" y="667" width="7.76" height="7.76" fill="#eae4de"/>
<rect x="613.64" y="667" width="7.76" height="7.76" fill="#f3ad9b"/>
<rect x="621.4" y="667" width="7.76" height="7.76" fill="#f16e62"/>
<rect x="629.16" y="667" width="7.76" height="7.76" fill="#f16e62"/>
<rect x="636.92" y="667" width="7.76" height="7.76" fill="#f0544f"/>
<rect x="644.68" y="667" width="7.76" height="7.76" fill="#f5c5b4"/>
<rect x="652.44" y="667" width="7.76" height="7.76" fill="#c4d0d2"/>
<rect x="582.6" y="674.76" width="7.76" height="7.76" fill="#b7c7cc"/>
<rect x="590.36" y="674.76" width="7.76" height="7.76" fill="#dbdedb"/>
<rect x="598.12" y="674.76" width="7.76" height="7.76" fill="#e6e4e0"/>
<rect x="605.88" y="674.76" width="7.76" height="7.76" fill="#d5dbd9"/>
<rect x="613.64" y="674.76" width="7.76" height="7.76" fill="#f2d3c7"/>
<rect x="621.4" y="674.76" width="7.76" height="7.76" fill="#f3ad9b"/>
<rect x="629.16" y="674.76" width="7.76" height="7.76" fill="#f4b5a3"/>
<rect x="636.92" y="674.76" width="7.76" height="7.76" fill="#f1796b"/>
<rect x="644.68" y="674.76" width="7.76" height="7.76" fill="#f5c5b4"/>
<rect x="652.44" y="674.76" width="7.76" height="7.76" fill="#b7c7cc"/>
<rect x="582.6" y="682.52" width="7.76" height="7.76" fill="#a6bcc5"/>
<rect x="590.36" y="682.52" width="7.76" height="7.76" fill="#afc2c9"/>
<rect x="598.12" y="682.52" width="7.76" height="7.76" fill="#afc2c9"/>
<rect x="605.88" y="682.52" width="7.76" height="7.76" fill="#afc2c9"/>
<rect x="613.64" y="682.52" width="7.76" height="7.76" fill="#b7c7cc"/>
<rect x="621.4" y="682.52" width="7.76" height="7.76" fill="#b7c7cc"/>
<rect x="629.16" y="682.52" width="7.76" height="7.76" fill="#b7c7cc"/>
<rect x="636.92" y="682.52" width="7.76" height="7.76" fill="#c8d2d4"/>
<rect x="644.68" y="682.52" width="7.76" height="7.76" fill="#d5dbd9"/>
<rect x="652.44" y="682.52" width="7.76" height="7.76" fill="#a6bcc5"/>
<rect x="582.6" y="690.28" width="7.76" height="7.76" fill="#a6bcc5"/>
<rect x="590.36" y="690.28" width="7.76" height="7.76" fill="#afc2c9"/>
<rect x="598.12" y="690.28" width="7.76" height="7.76" fill="#d0d8d7"/>
<rect x="605.88" y="690.28" width="7.76" height="7.76" fill="#afc2c9"/>
<rect x="613.64" y="690.28" width="7.76" height="7.76" fill="#a6bcc5"/>
<rect x="621.4" y="690.28" width="7.76" height="7.76" fill="#afc2c9"/>
<rect x="629.16" y="690.28" width="7.76" height="7.76" fill="#a6bcc5"/>
<rect x="636.92" y="690.28" width="7.76" height="7.76" fill="#bfcdd0"/>
<rect x="644.68" y="690.28" width="7.76" height="7.76" fill="#b7c7cc"/>
<rect x="652.44" y="690.28" width="7.76" height="7.76" fill="#afc2c9"/>
<rect x="582.6" y="698.04" width="7.76" height="7.76" fill="#9fb8c2"/>
<rect x="590.36" y="698.04" width="7.76" height="7.76" fill="#b7c7cc"/>
<rect x="598.12" y="698.04" width="7.76" height="7.76" fill="#afc2c9"/>
<rect x="605.88" y="698.04" width="7.76" height="7.76" fill="#a6bcc5"/>
<rect x="613.64" y="698.04" width="7.76" height="7.76" fill="#a6bcc5"/>
<rect x="621.4" y="698.04" width="7.76" height="7.76" fill="#d0d8d7"/>
<rect x="629.16" y="698.04" width="7.76" height="7.76" fill="#afc2c9"/>
<rect x="636.92" y="698.04" width="7.76" height="7.76" fill="#a6bcc5"/>
<rect x="644.68" y="698.04" width="7.76" height="7.76" fill="#b7c7cc"/>
<rect x="652.44" y="698.04" width="7.76" height="7.76" fill="#afc2c9"/>
<path d="M590.36 628.2V705.8M598.12 628.2V705.8M605.88 628.2V705.8M613.64 628.2V705.8M621.4 628.2V705.8M629.16 628.2V705.8M636.92 628.2V705.8M644.68 628.2V705.8M652.44 628.2V705.8M582.6 635.96H660.2M582.6 643.72H660.2M582.6 651.48H660.2M582.6 659.24H660.2M582.6 667H660.2M582.6 674.76H660.2M582.6 682.52H660.2M582.6 690.28H660.2M582.6 698.04H660.2" stroke="#000" stroke-width="0.75" stroke-opacity="0.55"/>
<rect x="582.6" y="628.2" width="77.6" height="77.6" fill="none" stroke="#222" stroke-width="0.9"/>
<rect x="572.3" y="628.2" width="7.7" height="7.76" fill="#d0d8d7"/>
<rect x="572.3" y="635.96" width="7.7" height="7.76" fill="#d0d8d7"/>
<rect x="572.3" y="643.72" width="7.7" height="7.76" fill="#d0d8d7"/>
<rect x="572.3" y="651.48" width="7.7" height="7.76" fill="#d0d8d7"/>
<rect x="572.3" y="659.24" width="7.7" height="7.76" fill="#d0d8d7"/>
<rect x="572.3" y="667" width="7.7" height="7.76" fill="#d0d8d7"/>
<rect x="572.3" y="674.76" width="7.7" height="7.76" fill="#d0d8d7"/>
<rect x="572.3" y="682.52" width="7.7" height="7.76" fill="#d0d8d7"/>
<rect x="572.3" y="690.28" width="7.7" height="7.76" fill="#d0d8d7"/>
<rect x="572.3" y="698.04" width="7.7" height="7.76" fill="#d0d8d7"/>
<path d="M572.3 635.96H580M572.3 643.72H580M572.3 651.48H580M572.3 659.24H580M572.3 667H580M572.3 674.76H580M572.3 682.52H580M572.3 690.28H580M572.3 698.04H580" stroke="#000" stroke-width="0.7" stroke-opacity="0.45"/>
<rect x="572.3" y="628.2" width="7.7" height="77.6" fill="none" stroke="#bbb" stroke-width="0.5"/>
<rect x="582.6" y="708.1" width="7.76" height="8" fill="#d0d8d7"/>
<rect x="590.36" y="708.1" width="7.76" height="8" fill="#d0d8d7"/>
<rect x="598.12" y="708.1" width="7.76" height="8" fill="#d0d8d7"/>
<rect x="605.88" y="708.1" width="7.76" height="8" fill="#d0d8d7"/>
<rect x="613.64" y="708.1" width="7.76" height="8" fill="#d0d8d7"/>
<rect x="621.4" y="708.1" width="7.76" height="8" fill="#d0d8d7"/>
<rect x="629.16" y="708.1" width="7.76" height="8" fill="#d0d8d7"/>
<rect x="636.92" y="708.1" width="7.76" height="8" fill="#d0d8d7"/>
<rect x="644.68" y="708.1" width="7.76" height="8" fill="#d0d8d7"/>
<rect x="652.44" y="708.1" width="7.76" height="8" fill="#d0d8d7"/>
<path d="M590.36 708.1V716.1M598.12 708.1V716.1M605.88 708.1V716.1M613.64 708.1V716.1M621.4 708.1V716.1M629.16 708.1V716.1M636.92 708.1V716.1M644.68 708.1V716.1M652.44 708.1V716.1" stroke="#000" stroke-width="0.7" stroke-opacity="0.45"/>
<rect x="582.6" y="708.1" width="77.6" height="8" fill="none" stroke="#bbb" stroke-width="0.5"/>
<linearGradient id="gn" x1="0" x2="0" y1="1" y2="0"><stop offset="0" stop-color="#97b3bf"/><stop offset="0.08" stop-color="#b0c3c9"/><stop offset="0.17" stop-color="#cbd5d5"/><stop offset="0.25" stop-color="#dee0dd"/><stop offset="0.33" stop-color="#ece1da"/><stop offset="0.42" stop-color="#f2d4c7"/><stop offset="0.5" stop-color="#f4c6b6"/><stop offset="0.58" stop-color="#f4b2a0"/><stop offset="0.67" stop-color="#f29a88"/><stop offset="0.75" stop-color="#f17f70"/><stop offset="0.83" stop-color="#f0665c"/><stop offset="0.92" stop-color="#f0504c"/><stop offset="1" stop-color="#ef4545"/></linearGradient>
<rect x="664.8" y="629.2" width="5.6" height="33.4" fill="url(#gn)" stroke="#333" stroke-width="0.7"/>
<path d="M664.8 656.5h1.1M670.4 656.5h-1.1M664.8 647.8h1.1M670.4 647.8h-1.1M664.8 639.1h1.1M670.4 639.1h-1.1M664.8 630.4h1.1M670.4 630.4h-1.1" stroke="#222" stroke-width="0.6"/>
<text x="671.1" y="633.9" font-size="9.8" fill="#333">60</text>
<text x="671.1" y="642.6" font-size="9.8" fill="#333">40</text>
<text x="671.1" y="651.3" font-size="9.8" fill="#333">20</text>
<text x="671.1" y="660" font-size="9.8" fill="#333">0</text>
<text x="621.2" y="623.9" font-size="9.8" fill="#1a1a1a" text-anchor="middle"></text>
<text x="569.5" y="636.5" font-size="10" fill="#666" text-anchor="end">25</text>
<text x="569.5" y="706.1" font-size="10" fill="#666" text-anchor="end">0.001</text>
<path d="M569.8 632.1h2M569.8 701.9h2" stroke="#666" stroke-width="0.6"/>
<text x="586.5" y="726.2" font-size="10" fill="#666" text-anchor="middle">0.001</text>
<text x="656.3" y="726.2" font-size="10" fill="#666" text-anchor="middle">25</text>
<path d="M586.5 716.5v2M656.3 716.5v2" stroke="#666" stroke-width="0.6"/>
<text x="620.8" y="736.8" font-size="9.8" fill="#1a1a1a" text-anchor="middle">Rucaparib (µM)</text>
<text transform="translate(554,665) rotate(-90)" text-anchor="middle" font-size="9.8" fill="#1a1a1a">AZD1390 (µM)</text>
<path d="M564.5 643.9H569.3L569 694.6z" fill="url(#wedge)"/>
<path d="M600.6 724.7L648 719.2V724.7z" fill="url(#wedgeh)"/>
<text x="561.2" y="624.8" font-size="17" font-weight="bold" text-anchor="end" fill="#000">n</text>
</svg></body></html>
